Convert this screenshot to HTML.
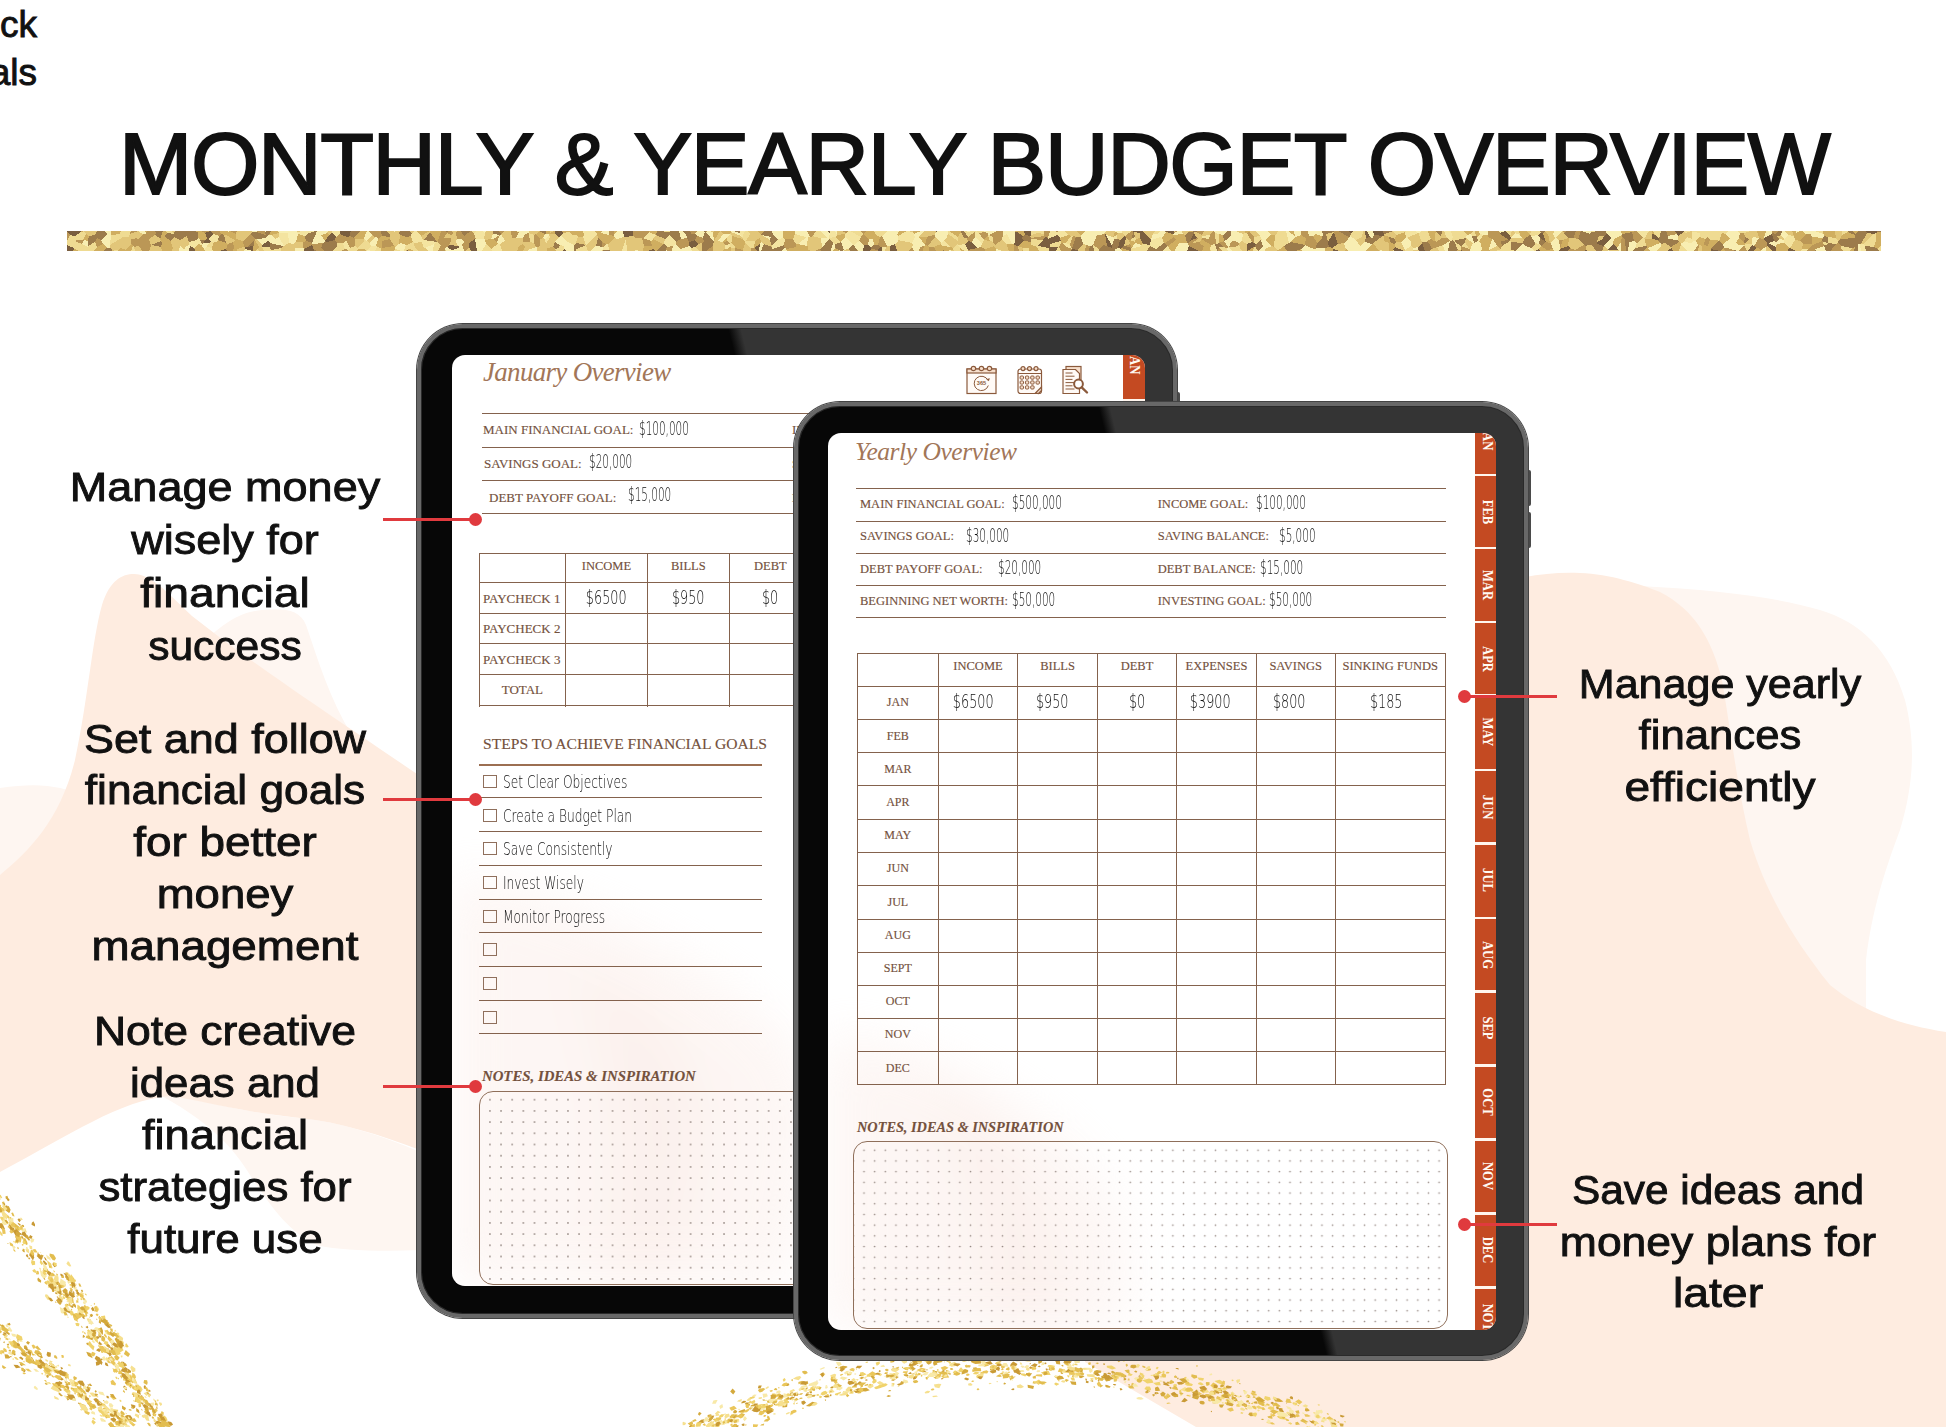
<!DOCTYPE html>
<html><head><meta charset="utf-8"><title>Monthly &amp; Yearly Budget Overview</title>
<style>
*{margin:0;padding:0;box-sizing:border-box}
html,body{width:1946px;height:1427px;overflow:hidden;background:#fff}
body{position:relative;font-family:"Liberation Sans",Arial,sans-serif;color:#111}
#bg{position:absolute;left:0;top:0}
.corner{position:absolute;left:-61px;top:0.5px;width:98px;font-size:37px;line-height:48.7px;color:#111;text-align:right;-webkit-text-stroke:0.9px #111}
h1{position:absolute;left:0;top:0;width:1946px;font:normal 88px/1 "Liberation Sans",Arial,sans-serif;color:#111;white-space:nowrap;letter-spacing:-1.36px;-webkit-text-stroke:1.9px #111}
.glitter{position:absolute;left:67px;top:231px}
/* labels */
.lbl{position:absolute;width:500px;font-size:41.4px;line-height:41.4px;height:41.4px;color:#111;text-align:center;white-space:nowrap;-webkit-text-stroke:0.9px #111}
.rl{position:absolute;height:3px;background:#e03a3e}
.rd{position:absolute;width:13px;height:13px;border-radius:50%;background:#e03a3e}
/* tablets */
.frame{position:absolute;border-radius:46px;border:4px solid #686868;box-shadow:0 0 0 1px #444,inset 0 0 0 1px #2a2a2a}
.btn{position:absolute;background:#4a4a4a;border-radius:2px}
.scr{position:absolute;background:#fff;overflow:hidden;border-radius:13px}
.scr .a{position:absolute;white-space:nowrap}
.serif{font-family:"Liberation Serif","Times New Roman",serif;color:#74513d;-webkit-text-stroke:0.15px #74513d}
.hd{font-family:"DejaVu Sans","Liberation Sans",sans-serif;font-weight:200;color:#111;display:inline-block;transform-origin:0 100%}
.hl{position:absolute;background:#84624d}
.vl{position:absolute;background:#84624d}
.script{font-family:"Liberation Serif",serif;font-style:italic;color:#a27658}
.cb{position:absolute;width:14px;height:13px;border:1.3px solid #8f6f5c}
.tabs{position:absolute;background:#c44a22}
.tsep{position:absolute;left:0;width:100%;height:2.5px;background:#fff6ee}
.tl{position:absolute;width:80px;height:16px;line-height:16px;text-align:center;color:#fffaf3;font:bold 14px/16px "Liberation Serif",serif;transform:rotate(90deg) scaleX(0.9)}
.dots{position:absolute;border:1.1px solid #8f6f5a;border-radius:14px;overflow:hidden}
</style></head>
<body>
<svg id="bg" width="1946" height="1427" viewBox="0 0 1946 1427">
<path d="M150,1090 C200,1100 240,1112 300,1118 C340,1122 380,1135 420,1152 L420,1250 C380,1252 340,1250 320,1246 C290,1235 270,1205 250,1175 C235,1150 210,1120 150,1090 Z" fill="#fef6f1"/>
<path d="M0,788 C40,782 60,786 85,796 L60,850 L0,880 Z" fill="#fef6f1"/>
<path d="M200,645 C225,622 240,612 262,610 C285,608 300,610 306,625 C318,660 330,700 352,735 L300,745 Z" fill="#fef6f1"/>
<path d="M1640,586 C1720,590 1780,598 1820,610 C1860,622 1890,650 1905,700 C1915,740 1915,780 1900,830 C1885,870 1872,910 1866,960 L1866,1010 L1700,1010 L1640,700 Z" fill="#fef6f1"/>
<path d="M0,875 C30,850 60,820 75,760 C88,700 92,640 102,605 C110,580 122,574 134,574 C150,574 165,590 192,616 L214,633 C260,668 330,715 420,776 L420,1150 C380,1135 340,1122 300,1118 C240,1112 200,1100 170,1096 C120,1100 70,1135 0,1172 Z" fill="#feece0"/>
<path d="M1520,578 C1540,574 1560,572 1580,573 C1610,574 1640,584 1660,592 C1695,610 1712,640 1722,680 C1732,740 1738,790 1750,840 C1765,890 1790,935 1830,985 C1860,1010 1900,1025 1946,1032 L1946,1427 L1196,1427 L1085,1362 L1085,1300 L1515,1300 L1515,578 Z" fill="#feece0"/>
<polygon points="81.9,1295.6 81.0,1296.3 79.9,1296.1 78.3,1294.7 79.5,1293.3 80.9,1293.6" fill="#eac65a"/><polygon points="103.5,1336.2 102.6,1337.8 101.5,1336.9 102.2,1336.0" fill="#d4a93c"/><polygon points="82.3,1313.0 81.5,1312.9 79.9,1311.8 79.4,1309.2 81.1,1309.2 82.3,1311.9" fill="#f0d36c"/><polygon points="157.8,1407.6 156.5,1407.5 156.2,1407.0 156.9,1406.0 157.3,1406.6" fill="#e2bd4f"/><polygon points="-2.0,1197.1 0.2,1197.2 0.8,1199.4 -1.5,1200.9" fill="#f8e9a8"/><polygon points="91.0,1337.0 89.4,1333.2 94.0,1333.2 95.4,1338.1" fill="#d4a93c"/><polygon points="55.2,1286.8 58.1,1290.2 55.7,1291.6 53.4,1290.3" fill="#f8e9a8"/><polygon points="97.1,1336.8 98.4,1343.5 95.2,1340.9 92.2,1336.3" fill="#f0d36c"/><polygon points="122.1,1365.2 121.6,1363.1 125.7,1363.3 127.1,1365.5 124.5,1366.8" fill="#d4a93c"/><polygon points="59.7,1296.6 58.4,1294.9 60.9,1295.0 61.3,1296.8" fill="#f0d36c"/><polygon points="90.2,1338.5 88.7,1338.5 88.4,1337.1 88.9,1336.1 90.7,1337.2" fill="#eac65a"/><polygon points="12.7,1224.9 14.4,1222.9 19.7,1227.1 19.8,1230.5 16.7,1230.9" fill="#e2bd4f"/><polygon points="3.0,1221.5 4.7,1221.2 6.1,1222.8 6.5,1224.8 4.9,1224.8" fill="#f6e08f"/><polygon points="123.0,1380.4 123.1,1378.3 125.7,1377.2 126.9,1378.8 125.4,1380.8" fill="#f0d36c"/><polygon points="98.1,1345.7 98.9,1344.3 100.5,1347.1 98.7,1346.9" fill="#f0d36c"/><polygon points="21.0,1219.9 19.4,1222.3 17.5,1219.6 19.0,1218.2" fill="#c99a35"/><polygon points="1.3,1209.0 0.1,1208.9 -0.1,1208.4 0.2,1207.0 1.5,1207.1 2.4,1208.7" fill="#eac65a"/><polygon points="31.2,1242.7 30.4,1240.6 31.5,1238.0 34.4,1239.3 33.4,1242.1" fill="#f8e9a8"/><polygon points="112.1,1363.1 109.6,1359.6 111.0,1355.6 114.5,1358.8 114.4,1361.3" fill="#eac65a"/><polygon points="137.2,1402.1 134.5,1401.7 135.7,1398.4 137.3,1398.7 138.4,1399.8 139.1,1401.8" fill="#d4a93c"/><polygon points="67.5,1317.6 66.9,1316.9 68.2,1316.4 68.8,1318.0" fill="#f6e08f"/><polygon points="88.4,1330.1 90.7,1330.1 92.3,1334.7 89.3,1334.9" fill="#f8e9a8"/><polygon points="143.8,1407.2 142.5,1405.2 145.0,1403.9 148.3,1406.4 147.2,1408.6 146.6,1409.0" fill="#c99a35"/><polygon points="61.0,1312.9 59.7,1307.1 62.8,1308.6 65.4,1311.2 62.6,1313.4" fill="#f8e9a8"/><polygon points="157.8,1423.9 158.1,1423.3 158.7,1423.5 159.1,1424.2 158.4,1424.6" fill="#f6e08f"/><polygon points="133.0,1389.3 131.6,1386.0 133.4,1385.5 135.6,1386.2 136.2,1389.3 136.4,1391.1" fill="#f0d36c"/><polygon points="126.9,1374.3 128.5,1379.7 125.1,1379.4 124.7,1375.6" fill="#f0d36c"/><polygon points="88.5,1332.5 87.3,1330.7 87.5,1329.9 88.7,1329.3 90.3,1332.0" fill="#f0d36c"/><polygon points="23.8,1244.9 22.5,1245.8 21.7,1245.0 22.1,1243.9 23.1,1244.3" fill="#eac65a"/><polygon points="-3.9,1209.8 -3.2,1209.2 -1.5,1210.5 -2.3,1212.5 -4.1,1210.9" fill="#f6e08f"/><polygon points="87.3,1331.3 87.8,1330.1 88.6,1329.8 89.5,1331.2 88.7,1332.1" fill="#f0d36c"/><polygon points="-1.7,1222.7 -2.5,1221.2 -2.6,1218.6 -1.6,1218.9 -0.4,1221.0" fill="#c99a35"/><polygon points="170.9,1426.1 169.3,1425.1 167.4,1423.4 167.6,1421.3 171.2,1422.0 173.1,1424.5" fill="#c99a35"/><polygon points="145.1,1387.6 145.1,1388.4 143.9,1388.5 143.4,1387.6 144.3,1387.1" fill="#f6e08f"/><polygon points="70.3,1289.0 71.7,1289.9 72.6,1291.5 71.4,1292.1 70.2,1290.8" fill="#d4a93c"/><polygon points="123.0,1369.6 122.6,1370.0 122.0,1369.5 122.0,1368.4 122.5,1368.1 123.3,1368.9" fill="#e2bd4f"/><polygon points="1.3,1207.4 4.1,1208.4 4.8,1211.2 2.1,1212.2 -0.3,1208.9" fill="#eac65a"/><polygon points="15.1,1231.5 14.8,1233.0 12.0,1231.4 10.6,1228.4 11.7,1228.1 15.2,1229.7" fill="#eac65a"/><polygon points="-3.5,1213.4 -5.6,1212.3 -6.7,1211.6 -5.4,1210.2 -4.1,1210.3 -2.8,1211.5" fill="#f8e9a8"/><polygon points="14.5,1228.8 13.3,1230.8 12.0,1232.3 8.8,1227.5 8.8,1224.0 10.8,1224.7" fill="#c99a35"/><polygon points="6.7,1221.5 7.5,1222.2 8.5,1224.1 7.8,1224.3 6.8,1223.4 6.6,1222.3" fill="#eac65a"/><polygon points="117.0,1363.6 118.6,1362.2 120.9,1363.8 119.5,1365.2" fill="#eac65a"/><polygon points="147.6,1401.8 148.3,1403.6 147.9,1405.2 146.1,1403.8 144.9,1401.2" fill="#f8e9a8"/><polygon points="-8.3,1210.9 -10.5,1208.7 -10.3,1207.0 -8.6,1206.9 -7.4,1207.9 -6.8,1209.8" fill="#e2bd4f"/><polygon points="121.8,1367.7 122.4,1366.8 123.4,1366.3 124.2,1367.3 124.5,1368.8 122.5,1368.4" fill="#e2bd4f"/><polygon points="137.4,1383.8 133.5,1382.9 132.2,1380.2 132.8,1376.3 135.6,1379.6" fill="#f0d36c"/><polygon points="60.3,1285.8 61.7,1284.3 64.5,1283.4 64.5,1286.7 63.8,1287.5" fill="#f0d36c"/><polygon points="93.8,1331.3 96.2,1331.8 96.1,1334.6 93.2,1334.2 92.0,1332.6" fill="#d4a93c"/><polygon points="107.4,1353.8 104.0,1351.4 101.3,1346.4 106.1,1347.5 108.3,1349.7" fill="#d4a93c"/><polygon points="71.6,1299.5 73.1,1300.0 72.7,1301.7 71.1,1301.0 71.1,1300.2" fill="#f8e9a8"/><polygon points="19.9,1243.5 18.9,1242.8 19.9,1241.7 20.7,1243.0" fill="#f8e9a8"/><polygon points="15.2,1252.1 13.6,1250.8 13.1,1249.2 13.7,1249.2 14.9,1249.7 15.5,1251.6" fill="#eac65a"/><polygon points="20.3,1226.9 22.0,1229.4 19.5,1230.5 18.0,1227.6" fill="#f0d36c"/><polygon points="153.2,1399.7 153.4,1398.5 154.4,1399.1 155.2,1400.5 154.5,1401.2 153.6,1400.5" fill="#f8e9a8"/><polygon points="53.4,1289.9 53.5,1291.1 53.3,1291.5 52.6,1291.7 51.7,1291.0 52.3,1290.0" fill="#eac65a"/><polygon points="22.9,1249.5 22.9,1248.4 24.6,1249.3 24.7,1250.2 24.3,1250.5 23.1,1250.6" fill="#e2bd4f"/><polygon points="87.5,1325.8 88.3,1327.6 87.2,1328.4 85.5,1326.9" fill="#c99a35"/><polygon points="160.3,1427.4 162.3,1428.8 161.1,1431.5 158.5,1431.1" fill="#d4a93c"/><polygon points="62.4,1311.0 64.0,1311.5 64.1,1312.9 64.0,1313.5 62.6,1313.3 61.8,1311.9" fill="#f8e9a8"/><polygon points="9.5,1242.0 12.8,1243.9 13.7,1247.0 10.1,1245.6" fill="#eac65a"/><polygon points="127.1,1383.6 128.8,1384.0 128.1,1386.0 126.2,1385.2" fill="#f8e9a8"/><polygon points="16.2,1236.7 14.6,1234.0 13.1,1231.2 16.0,1229.1 19.7,1232.3 18.9,1233.9" fill="#c99a35"/><polygon points="53.5,1271.4 53.4,1270.1 55.1,1271.4 54.9,1272.4" fill="#f0d36c"/><polygon points="78.8,1312.2 81.0,1312.5 80.6,1315.4 78.2,1314.6" fill="#d4a93c"/><polygon points="148.4,1390.7 148.9,1389.6 150.4,1390.4 150.7,1391.3 149.9,1391.7 148.7,1391.5" fill="#c99a35"/><polygon points="55.9,1294.2 55.5,1293.0 56.3,1291.4 57.6,1292.9 58.2,1294.5 57.5,1294.6" fill="#f8e9a8"/><polygon points="55.8,1281.8 54.2,1278.3 54.8,1275.1 58.5,1276.5 58.5,1279.5 58.2,1282.8" fill="#f6e08f"/><polygon points="63.9,1296.3 62.4,1294.6 62.0,1293.0 63.7,1294.0 65.0,1295.9" fill="#f0d36c"/><polygon points="107.9,1350.0 108.9,1349.9 109.7,1351.3 108.6,1351.4" fill="#f8e9a8"/><polygon points="17.9,1246.7 18.3,1247.2 19.0,1248.6 18.2,1249.2 17.7,1249.1 17.1,1247.8" fill="#eac65a"/><polygon points="73.0,1311.5 73.9,1313.7 73.2,1315.2 71.1,1315.6 68.4,1311.2 69.4,1310.0" fill="#f0d36c"/><polygon points="139.9,1396.9 137.3,1394.6 137.1,1393.3 138.6,1391.8 140.5,1394.3" fill="#f8e9a8"/><polygon points="-3.6,1207.7 -3.1,1209.5 -5.1,1210.8 -6.6,1209.8 -7.3,1207.6 -5.3,1206.9" fill="#f0d36c"/><polygon points="77.5,1313.5 78.4,1315.4 76.6,1316.2 73.5,1314.8 74.2,1313.6 76.3,1313.0" fill="#f0d36c"/><polygon points="62.6,1291.2 65.6,1289.6 66.3,1290.9 65.7,1292.8 63.5,1293.1" fill="#d4a93c"/><polygon points="43.5,1272.2 43.1,1268.5 45.5,1266.4 47.5,1268.9 48.9,1271.7 47.2,1272.1" fill="#e2bd4f"/><polygon points="29.2,1245.3 32.1,1246.3 32.2,1249.1 29.9,1248.9" fill="#f6e08f"/><polygon points="4.9,1221.0 2.1,1221.1 0.0,1217.7 0.6,1216.5 4.3,1217.6" fill="#f0d36c"/><polygon points="126.9,1372.8 126.9,1373.5 125.7,1372.8 125.5,1371.9 126.0,1371.6" fill="#f0d36c"/><polygon points="6.3,1197.7 7.8,1197.8 9.8,1200.1 8.1,1201.2 6.9,1199.8" fill="#c99a35"/><polygon points="141.1,1398.7 139.3,1396.7 141.4,1395.2 143.3,1397.5" fill="#c99a35"/><polygon points="106.8,1361.5 105.5,1358.2 106.9,1357.0 109.3,1359.7 109.3,1361.9" fill="#f6e08f"/><polygon points="127.6,1371.4 128.2,1368.8 129.9,1370.0 131.0,1371.0 131.0,1372.5 129.6,1373.1" fill="#c99a35"/><polygon points="38.5,1274.5 35.9,1274.2 36.7,1270.7 38.4,1271.0 39.1,1273.3" fill="#eac65a"/><polygon points="153.5,1412.8 156.4,1414.0 155.6,1416.5 153.0,1415.7 152.4,1413.9" fill="#e2bd4f"/><polygon points="23.5,1229.6 24.3,1228.2 25.6,1228.3 24.9,1229.7" fill="#f8e9a8"/><polygon points="82.6,1333.0 82.0,1332.3 82.1,1331.3 83.5,1330.7 83.8,1332.6" fill="#f6e08f"/><polygon points="49.7,1253.4 53.7,1254.4 56.0,1258.2 54.6,1260.4 52.6,1260.0 49.6,1256.1" fill="#e2bd4f"/><polygon points="12.9,1241.2 13.5,1240.8 14.4,1241.9 14.2,1242.7 13.5,1242.3" fill="#f6e08f"/><polygon points="110.9,1339.9 110.9,1341.2 110.3,1341.0 108.7,1339.7 109.6,1339.0 110.3,1339.2" fill="#eac65a"/><polygon points="112.8,1346.2 113.5,1348.0 112.4,1347.7 111.7,1346.6" fill="#f6e08f"/><polygon points="17.6,1242.2 17.9,1243.9 16.3,1242.8 15.8,1241.6 16.8,1241.6" fill="#f0d36c"/><polygon points="147.0,1385.0 143.5,1383.1 144.1,1380.0 147.1,1380.3 147.7,1382.8" fill="#e2bd4f"/><polygon points="-2.4,1202.1 -4.7,1201.1 -5.3,1198.0 -3.3,1196.8 -2.3,1196.9 -1.0,1200.4" fill="#d4a93c"/><polygon points="27.1,1241.8 27.7,1244.2 26.2,1245.1 23.0,1241.1 23.9,1239.9 25.0,1238.0" fill="#e2bd4f"/><polygon points="122.5,1376.3 121.9,1378.8 120.1,1376.4 120.7,1375.1" fill="#eac65a"/><polygon points="56.9,1297.4 56.9,1296.1 57.7,1296.5 58.2,1297.6" fill="#d4a93c"/><polygon points="99.8,1331.3 99.4,1332.8 98.4,1332.7 97.8,1330.9" fill="#e2bd4f"/><polygon points="61.4,1294.4 57.1,1293.2 57.1,1289.0 61.7,1290.9" fill="#f0d36c"/><polygon points="132.7,1385.4 131.6,1385.5 131.1,1384.8 131.6,1384.2 132.7,1384.5" fill="#f8e9a8"/><polygon points="130.1,1354.1 128.2,1357.1 123.9,1353.9 125.7,1349.9" fill="#e2bd4f"/><polygon points="77.6,1322.8 79.6,1323.8 78.8,1326.2 76.4,1325.9 75.2,1323.2" fill="#f0d36c"/><polygon points="120.9,1371.8 121.2,1372.8 120.5,1373.0 119.5,1372.8 119.6,1371.8 120.1,1371.3" fill="#f6e08f"/><polygon points="41.7,1265.3 39.8,1262.7 40.3,1259.3 43.3,1263.4" fill="#f0d36c"/><polygon points="132.7,1384.9 130.3,1388.4 128.8,1385.2 131.0,1383.7" fill="#eac65a"/><polygon points="39.7,1269.3 47.0,1275.9 44.1,1279.4 40.9,1275.5" fill="#f8e9a8"/><polygon points="15.3,1228.0 15.3,1227.1 16.6,1226.9 16.5,1228.9" fill="#f0d36c"/><polygon points="20.6,1229.0 21.1,1227.4 24.0,1228.7 23.9,1231.1 22.7,1232.6" fill="#f8e9a8"/><polygon points="8.3,1215.4 9.0,1217.9 6.2,1217.6 5.5,1214.1" fill="#eac65a"/><polygon points="100.7,1337.5 99.4,1336.5 99.9,1335.4 100.7,1336.2 101.0,1337.2" fill="#d4a93c"/><polygon points="-11.5,1206.7 -9.5,1209.5 -12.1,1209.7 -12.9,1208.1" fill="#f8e9a8"/><polygon points="56.9,1288.1 61.0,1288.7 61.3,1291.9 60.0,1292.9 57.4,1292.0 56.5,1291.0" fill="#e2bd4f"/><polygon points="24.7,1231.2 27.1,1235.8 26.7,1238.3 21.8,1234.8 21.9,1232.6" fill="#c99a35"/><polygon points="89.0,1317.5 89.1,1316.3 90.4,1316.9 90.0,1318.0" fill="#f6e08f"/><polygon points="64.7,1309.5 66.4,1309.1 67.5,1311.9 65.7,1311.7" fill="#e2bd4f"/><polygon points="64.5,1293.5 64.3,1294.2 63.4,1293.8 63.9,1292.8" fill="#f8e9a8"/><polygon points="133.0,1394.6 134.3,1395.0 134.6,1396.7 133.5,1397.0 133.1,1396.3" fill="#d4a93c"/><polygon points="119.4,1370.9 117.8,1369.3 117.0,1367.4 118.4,1367.4 120.3,1369.6" fill="#eac65a"/><polygon points="11.0,1218.3 13.1,1219.9 13.1,1222.3 10.6,1221.8" fill="#eac65a"/><polygon points="53.4,1285.4 53.7,1286.7 52.6,1287.0 51.6,1286.7 51.9,1285.0 52.7,1285.1" fill="#c99a35"/><polygon points="99.3,1365.0 96.2,1365.8 95.8,1362.1 97.4,1361.5 100.4,1362.8" fill="#c99a35"/><polygon points="144.9,1414.3 148.3,1415.3 148.9,1419.2 149.5,1421.1 146.4,1420.6 143.0,1415.1" fill="#f6e08f"/><polygon points="47.4,1271.6 48.8,1272.7 48.1,1274.0 47.0,1273.1 46.4,1271.3" fill="#e2bd4f"/><polygon points="21.7,1235.4 19.5,1234.2 19.5,1232.8 20.8,1232.9 21.7,1234.1" fill="#c99a35"/><polygon points="38.2,1277.5 41.2,1280.5 41.0,1282.7 37.9,1281.3 37.3,1279.1" fill="#d4a93c"/><polygon points="50.7,1280.7 51.3,1279.0 53.2,1279.6 52.4,1282.1" fill="#f6e08f"/><polygon points="55.1,1290.8 54.2,1286.7 56.1,1287.3 59.6,1290.8 58.2,1291.7 56.4,1291.4" fill="#f0d36c"/><polygon points="139.4,1400.9 135.7,1395.6 135.9,1393.0 140.3,1396.0 142.0,1400.3" fill="#d4a93c"/><polygon points="11.2,1225.1 10.8,1222.3 12.5,1220.9 14.9,1223.7 15.1,1226.7 12.7,1226.4" fill="#eac65a"/><polygon points="19.9,1239.8 18.1,1241.4 16.1,1239.1 15.2,1236.8 16.9,1234.5 19.6,1237.4" fill="#d4a93c"/><polygon points="140.6,1402.9 141.2,1406.4 140.6,1407.0 138.8,1407.2 138.4,1404.2 139.2,1403.5" fill="#eac65a"/><polygon points="156.8,1420.8 159.7,1421.3 161.5,1425.9 159.6,1425.5 157.1,1426.4 154.2,1423.5" fill="#c99a35"/><polygon points="6.2,1224.7 4.2,1224.1 3.4,1222.8 3.3,1220.4 5.3,1221.8" fill="#f0d36c"/><polygon points="9.8,1220.6 7.7,1217.8 8.4,1215.8 11.3,1219.0" fill="#eac65a"/><polygon points="132.0,1384.5 132.6,1387.4 128.8,1386.8 127.8,1383.1 130.3,1382.3" fill="#f0d36c"/><polygon points="152.8,1413.2 151.8,1411.0 153.4,1410.1 154.4,1411.9" fill="#e2bd4f"/><polygon points="23.1,1243.1 22.2,1241.9 23.1,1241.4 24.1,1241.5 24.3,1242.5 24.6,1243.4" fill="#f0d36c"/><polygon points="58.5,1298.0 59.4,1294.6 63.5,1298.8 62.5,1301.3" fill="#f6e08f"/><polygon points="160.6,1415.6 159.5,1415.4 158.1,1413.7 159.2,1413.7" fill="#eac65a"/><polygon points="29.5,1253.6 32.2,1253.1 33.3,1253.5 34.0,1255.8 32.4,1257.0 29.4,1255.5" fill="#c99a35"/><polygon points="66.8,1302.2 66.6,1300.9 66.9,1300.7 67.8,1300.9 68.3,1301.9 67.6,1302.2" fill="#f8e9a8"/><polygon points="81.2,1308.9 79.9,1308.8 79.2,1307.7 80.3,1307.7" fill="#e2bd4f"/><polygon points="5.4,1196.6 7.4,1195.7 8.4,1198.7 5.9,1198.9" fill="#d4a93c"/><polygon points="14.9,1240.9 15.9,1241.2 16.6,1242.5 15.3,1243.4 14.7,1242.8 14.4,1241.2" fill="#f0d36c"/><polygon points="157.7,1410.9 156.2,1411.9 154.3,1410.9 154.6,1409.1 155.2,1408.5 157.1,1409.3" fill="#eac65a"/><polygon points="84.0,1332.1 84.9,1332.6 85.8,1333.5 85.3,1334.6 84.1,1333.3" fill="#eac65a"/><polygon points="87.5,1310.1 85.8,1313.7 82.1,1311.5 82.7,1308.7 85.4,1308.5" fill="#f0d36c"/><polygon points="129.1,1383.1 129.5,1385.2 126.9,1385.3 124.7,1382.4 127.2,1380.2" fill="#eac65a"/><polygon points="140.3,1398.6 139.2,1400.4 138.1,1398.9 138.3,1397.7 139.7,1397.5" fill="#f8e9a8"/><polygon points="123.2,1371.0 122.6,1370.9 121.7,1370.5 121.8,1369.4 123.1,1370.1" fill="#c99a35"/><polygon points="73.8,1291.3 74.6,1293.2 73.9,1293.5 72.7,1292.1 73.0,1291.6" fill="#c99a35"/><polygon points="163.1,1426.6 162.3,1427.1 161.3,1426.0 161.8,1425.5" fill="#e2bd4f"/><polygon points="157.8,1414.6 160.6,1413.5 162.4,1413.8 163.1,1417.8 161.3,1419.4 158.6,1416.0" fill="#c99a35"/><polygon points="55.6,1302.9 54.8,1301.5 55.9,1301.5 56.6,1302.9" fill="#eac65a"/><polygon points="-4.4,1212.3 -5.0,1210.7 -2.8,1206.9 0.4,1211.0 -1.1,1213.0" fill="#f8e9a8"/><polygon points="102.2,1347.2 103.5,1346.0 105.3,1346.3 105.7,1349.1 104.5,1349.5 101.5,1349.1" fill="#f8e9a8"/><polygon points="46.0,1273.9 44.4,1274.8 43.4,1273.8 43.4,1271.9" fill="#eac65a"/><polygon points="66.5,1299.9 66.1,1298.9 68.0,1297.4 69.5,1298.8 68.8,1300.5" fill="#f6e08f"/><polygon points="143.5,1404.8 142.3,1404.7 141.0,1403.4 141.3,1402.1 142.2,1402.5 143.4,1403.0" fill="#d4a93c"/><polygon points="4.4,1221.3 4.8,1220.1 6.1,1219.6 8.5,1222.5 6.5,1223.6" fill="#d4a93c"/><polygon points="91.3,1332.9 90.5,1331.2 90.4,1330.4 92.7,1329.2 94.3,1330.7 93.0,1332.9" fill="#f6e08f"/><polygon points="34.6,1269.1 36.7,1271.8 35.7,1273.1 33.2,1272.1 32.3,1270.3" fill="#f0d36c"/><polygon points="108.7,1356.9 110.4,1357.7 110.6,1360.1 108.8,1359.3 107.6,1358.4" fill="#eac65a"/><polygon points="134.6,1379.3 132.5,1378.7 131.8,1376.1 133.3,1374.5 136.1,1377.5" fill="#eac65a"/><polygon points="52.9,1262.8 54.7,1262.8 56.8,1266.0 55.2,1266.7 54.4,1267.2 52.5,1264.4" fill="#c99a35"/><polygon points="112.0,1362.8 111.2,1363.6 110.4,1362.9 110.4,1361.6 111.4,1362.0" fill="#e2bd4f"/><polygon points="95.5,1336.7 93.3,1336.1 92.9,1333.5 94.6,1333.4 96.0,1334.9" fill="#d4a93c"/><polygon points="40.2,1252.7 40.3,1252.2 40.9,1252.0 41.2,1252.7 40.7,1253.2" fill="#f8e9a8"/><polygon points="105.1,1337.8 105.2,1340.9 102.1,1339.4 102.1,1337.7 103.3,1336.1" fill="#e2bd4f"/><polygon points="103.8,1335.3 104.7,1333.6 106.9,1336.2 106.4,1338.3" fill="#eac65a"/><polygon points="148.5,1407.1 150.8,1408.0 151.5,1409.7 150.1,1410.1 148.3,1408.8" fill="#e2bd4f"/><polygon points="68.7,1296.3 73.1,1298.3 74.0,1303.2 68.9,1302.2 66.9,1297.2" fill="#eac65a"/><polygon points="93.4,1350.5 89.4,1346.4 87.9,1343.2 89.7,1341.0 92.3,1344.7 94.5,1346.4" fill="#f0d36c"/><polygon points="127.3,1381.3 125.9,1380.4 126.0,1377.9 129.0,1377.4 130.0,1379.2 130.6,1382.6" fill="#d4a93c"/><polygon points="60.0,1286.4 60.5,1284.7 62.9,1284.3 63.4,1288.2" fill="#eac65a"/><polygon points="113.8,1349.6 111.7,1350.6 110.4,1349.3 110.3,1346.7 113.1,1347.9" fill="#c99a35"/><polygon points="106.1,1343.8 106.3,1344.6 105.8,1344.7 105.4,1344.6 105.1,1343.3 105.7,1343.1" fill="#eac65a"/><polygon points="145.6,1398.1 144.3,1396.3 145.3,1396.1 146.8,1398.1" fill="#f8e9a8"/><polygon points="-5.1,1210.4 -3.7,1209.9 -3.7,1211.2 -5.0,1211.3" fill="#e2bd4f"/><polygon points="71.9,1310.7 71.0,1310.3 70.8,1309.5 71.0,1308.7 72.1,1309.0 72.2,1310.1" fill="#eac65a"/><polygon points="-0.1,1205.9 3.1,1212.6 0.2,1212.6 -3.6,1204.6" fill="#d4a93c"/><polygon points="93.4,1339.8 90.9,1340.1 88.8,1337.4 87.7,1335.8 88.2,1333.8 90.8,1334.6" fill="#d4a93c"/><polygon points="24.9,1251.1 24.4,1252.4 22.9,1251.5 22.0,1250.1 22.4,1249.7 23.2,1249.2" fill="#d4a93c"/><polygon points="76.0,1307.9 71.9,1304.9 74.1,1303.2 76.0,1305.2" fill="#d4a93c"/><polygon points="117.2,1366.4 116.6,1367.1 114.3,1366.3 114.3,1363.4 116.6,1364.0 117.0,1364.4" fill="#f6e08f"/><polygon points="114.0,1347.7 115.5,1348.8 115.9,1349.9 115.2,1350.4 113.7,1348.7" fill="#c99a35"/><polygon points="107.3,1363.2 108.5,1366.2 106.8,1366.1 105.1,1364.9 105.1,1363.4 105.4,1362.3" fill="#c99a35"/><polygon points="157.9,1401.4 156.5,1400.4 156.8,1399.8 158.0,1399.2 158.9,1400.3" fill="#f6e08f"/><polygon points="157.5,1409.0 156.2,1408.4 156.1,1407.0 157.5,1408.1" fill="#d4a93c"/><polygon points="54.8,1263.2 55.2,1264.5 52.9,1264.8 53.6,1263.3" fill="#d4a93c"/><polygon points="70.6,1297.3 72.7,1302.5 71.4,1304.4 66.9,1299.9 69.3,1297.7" fill="#f6e08f"/><polygon points="46.7,1266.8 47.3,1271.0 43.9,1269.7 42.6,1262.0" fill="#f8e9a8"/><polygon points="74.2,1318.9 72.2,1313.8 75.1,1314.2 79.0,1318.7 76.8,1320.0" fill="#e2bd4f"/><polygon points="26.2,1254.7 27.4,1254.1 28.4,1256.7 27.6,1257.6 25.9,1256.0" fill="#c99a35"/><polygon points="129.4,1381.3 128.7,1382.6 127.0,1381.2 127.0,1379.6 128.7,1380.3" fill="#f6e08f"/><polygon points="52.2,1268.1 51.6,1268.8 51.0,1267.2 51.6,1266.7" fill="#f0d36c"/><polygon points="5.0,1228.9 3.0,1230.7 -1.8,1225.1 -1.5,1223.3 2.2,1223.1" fill="#c99a35"/><polygon points="-9.7,1204.2 -8.5,1204.4 -6.5,1205.8 -7.6,1207.0 -8.5,1207.7 -10.0,1206.4" fill="#c99a35"/><polygon points="8.5,1220.8 8.2,1218.2 10.1,1216.9 13.5,1218.4 12.8,1222.4 9.4,1222.0" fill="#f8e9a8"/><polygon points="130.9,1381.7 127.7,1382.8 125.4,1380.9 125.4,1376.3" fill="#c99a35"/><polygon points="43.8,1278.8 43.9,1277.8 44.9,1278.7 45.4,1279.4 45.0,1279.7 44.5,1279.8" fill="#c99a35"/><polygon points="22.6,1224.7 23.6,1225.0 24.2,1226.3 23.8,1227.3 22.1,1226.4 21.5,1225.2" fill="#d4a93c"/><polygon points="21.5,1237.9 20.9,1242.5 17.5,1241.0 15.1,1236.0 19.7,1235.3" fill="#eac65a"/><polygon points="133.0,1408.9 131.9,1407.7 130.8,1404.3 134.2,1405.1 135.5,1405.7 135.0,1407.8" fill="#c99a35"/><polygon points="115.3,1355.0 113.4,1353.8 112.8,1352.9 113.9,1351.9 114.9,1353.2" fill="#d4a93c"/><polygon points="11.0,1218.3 10.2,1218.6 9.6,1217.9 10.3,1217.3 11.0,1217.3" fill="#e2bd4f"/><polygon points="139.4,1393.0 137.8,1391.1 136.1,1388.1 137.0,1386.9 139.9,1387.6 141.7,1390.2" fill="#d4a93c"/><polygon points="68.3,1292.6 67.3,1293.9 64.7,1290.9 65.4,1289.8 67.3,1290.7" fill="#f0d36c"/><polygon points="0.6,1208.5 -3.1,1208.9 -4.1,1204.5 -2.7,1203.2 1.2,1205.3" fill="#eac65a"/><polygon points="143.0,1401.7 142.7,1398.8 147.1,1400.0 149.4,1403.9 150.1,1407.0 146.8,1405.3" fill="#e2bd4f"/><polygon points="152.9,1418.8 151.8,1417.9 151.9,1416.3 153.8,1417.0 154.1,1418.4" fill="#e2bd4f"/><polygon points="89.8,1339.5 85.6,1337.4 86.6,1335.4 90.3,1336.4" fill="#e2bd4f"/><polygon points="27.6,1235.0 29.8,1239.2 29.2,1240.9 25.3,1236.9" fill="#d4a93c"/><polygon points="102.8,1353.0 101.2,1352.5 100.8,1352.1 101.2,1350.4 102.0,1351.1 103.3,1352.6" fill="#eac65a"/><polygon points="92.5,1337.7 90.0,1337.0 86.9,1332.5 88.5,1331.5 90.4,1331.4" fill="#f6e08f"/><polygon points="137.3,1393.1 137.8,1394.7 138.6,1399.4 136.4,1398.8 131.7,1393.2 133.0,1392.1" fill="#f6e08f"/><polygon points="58.4,1281.8 60.2,1283.7 57.5,1285.0 53.9,1283.8 54.7,1281.2 56.2,1278.9" fill="#c99a35"/><polygon points="151.0,1403.8 153.2,1407.1 150.8,1408.1 148.5,1402.9" fill="#c99a35"/><polygon points="151.1,1402.7 154.2,1402.5 154.3,1404.3 152.9,1406.7 150.6,1404.8" fill="#f8e9a8"/><polygon points="1.9,1201.9 4.1,1201.6 5.5,1206.3 3.2,1205.9" fill="#e2bd4f"/><polygon points="90.4,1329.5 91.2,1329.2 92.2,1330.0 93.3,1331.3 92.5,1331.8 91.3,1330.8" fill="#c99a35"/><polygon points="64.0,1278.0 62.3,1277.2 60.2,1274.9 60.7,1273.6 63.3,1275.0" fill="#c99a35"/><polygon points="24.1,1230.2 25.3,1228.6 26.8,1231.9 25.9,1232.9" fill="#f6e08f"/><polygon points="101.5,1337.2 99.4,1337.6 98.4,1336.1 98.6,1334.1 99.8,1333.9 101.1,1335.2" fill="#c99a35"/><polygon points="-11.3,1198.3 -8.8,1197.5 -5.1,1201.9 -5.2,1203.2 -9.0,1202.7 -11.2,1199.8" fill="#f6e08f"/><polygon points="82.9,1313.4 86.0,1316.2 83.8,1317.7 79.8,1315.4 80.9,1313.5" fill="#e2bd4f"/><polygon points="115.7,1360.1 114.0,1356.8 116.4,1354.6 119.7,1357.8 117.6,1360.5" fill="#e2bd4f"/><polygon points="51.5,1286.9 47.6,1284.9 47.6,1283.3 48.6,1280.3 51.2,1283.1 51.4,1284.1" fill="#f0d36c"/><polygon points="7.6,1215.0 7.0,1219.8 2.6,1216.5 1.5,1212.6 2.9,1210.6" fill="#f6e08f"/><polygon points="134.0,1387.7 133.8,1388.8 132.6,1388.8 132.2,1386.9 133.2,1386.8" fill="#e2bd4f"/><polygon points="87.3,1313.9 84.4,1312.4 82.5,1308.6 85.3,1310.0" fill="#f0d36c"/><polygon points="66.6,1313.3 66.5,1313.8 65.6,1314.9 63.9,1312.1 64.5,1311.4 65.7,1311.3" fill="#eac65a"/><polygon points="147.5,1395.1 146.6,1396.1 143.6,1393.2 145.6,1392.3" fill="#f6e08f"/><polygon points="135.4,1368.6 135.3,1371.2 132.3,1372.6 130.3,1367.5 131.5,1365.5" fill="#f6e08f"/><polygon points="164.3,1425.6 163.5,1426.8 162.6,1425.3 163.3,1424.5" fill="#e2bd4f"/><polygon points="85.6,1314.6 83.4,1310.1 84.5,1307.6 88.4,1313.2" fill="#eac65a"/><polygon points="82.6,1327.5 82.1,1328.1 81.2,1326.9 81.2,1326.6 81.2,1325.6 82.6,1327.1" fill="#e2bd4f"/><polygon points="51.9,1278.5 53.7,1281.0 52.2,1281.7 50.0,1278.6" fill="#c99a35"/><polygon points="46.6,1285.0 45.6,1284.1 44.2,1282.8 45.2,1281.4 45.9,1281.3 47.1,1283.0" fill="#eac65a"/><polygon points="162.8,1418.8 165.3,1422.0 163.5,1424.1 161.5,1420.1" fill="#e2bd4f"/><polygon points="29.9,1253.1 33.5,1254.8 34.2,1257.6 32.9,1260.5 29.7,1255.6" fill="#c99a35"/><polygon points="59.4,1294.3 56.3,1290.5 57.2,1288.5 60.8,1290.8 61.9,1295.3" fill="#c99a35"/><polygon points="131.3,1374.7 132.1,1377.0 131.4,1378.1 129.9,1377.6 128.2,1375.9 129.6,1374.6" fill="#f0d36c"/><polygon points="160.9,1421.9 163.5,1423.4 162.7,1425.7 160.4,1424.9 159.5,1421.9" fill="#c99a35"/><polygon points="54.3,1282.6 55.0,1283.8 53.8,1286.0 50.9,1284.8 50.2,1282.7 50.3,1279.7" fill="#e2bd4f"/><polygon points="110.0,1347.9 108.0,1347.2 106.2,1345.7 106.5,1343.6 107.6,1343.3 110.0,1345.7" fill="#c99a35"/><polygon points="57.4,1297.1 61.4,1299.4 62.5,1302.1 60.5,1303.2 57.8,1299.6" fill="#c99a35"/><polygon points="88.1,1355.9 86.2,1351.7 90.5,1353.1 92.7,1358.2" fill="#d4a93c"/><polygon points="51.9,1287.9 54.6,1290.4 53.9,1291.9 52.5,1292.0" fill="#d4a93c"/><polygon points="159.4,1422.2 157.5,1419.9 157.3,1416.8 161.2,1418.0 161.7,1420.7" fill="#e2bd4f"/><polygon points="106.7,1352.5 108.9,1351.6 109.5,1353.6 107.8,1354.2" fill="#d4a93c"/><polygon points="78.2,1322.1 74.2,1320.0 72.9,1315.6 76.5,1317.7" fill="#eac65a"/><polygon points="103.3,1348.7 102.5,1348.2 101.5,1346.4 101.5,1345.9 102.6,1346.0 103.7,1347.7" fill="#e2bd4f"/><polygon points="126.3,1378.4 125.5,1378.0 126.3,1376.6 126.9,1377.8" fill="#e2bd4f"/><polygon points="79.9,1308.6 81.7,1311.0 80.4,1312.4 77.7,1310.7 78.0,1308.4" fill="#f6e08f"/><polygon points="-8.4,1203.7 -6.8,1203.7 -5.5,1204.6 -4.3,1206.5 -5.7,1207.3 -7.2,1206.3" fill="#e2bd4f"/><polygon points="57.1,1293.8 55.8,1293.9 55.2,1293.2 54.8,1292.4 56.1,1292.4 57.0,1292.9" fill="#c99a35"/><polygon points="31.2,1239.0 28.8,1237.4 30.1,1235.0 32.6,1236.6" fill="#c99a35"/><polygon points="56.8,1284.9 56.5,1287.1 53.8,1285.8 51.0,1281.9 52.3,1279.6 55.2,1281.6" fill="#f6e08f"/><polygon points="42.6,1270.1 46.4,1273.0 46.7,1275.1 44.2,1274.3 42.7,1272.2" fill="#f0d36c"/><polygon points="93.0,1322.5 93.4,1323.3 93.2,1324.1 92.4,1323.2 92.3,1322.2" fill="#eac65a"/><polygon points="111.8,1354.8 109.8,1356.5 104.9,1349.2 108.7,1348.6" fill="#c99a35"/><polygon points="100.7,1333.4 101.7,1335.0 99.8,1336.6 98.3,1333.7 98.8,1331.7" fill="#f0d36c"/><polygon points="149.5,1393.3 148.1,1395.3 146.1,1392.7 147.0,1391.5" fill="#e2bd4f"/><polygon points="108.3,1335.5 113.2,1340.5 111.6,1344.2 107.5,1338.7" fill="#eac65a"/><polygon points="7.8,1226.2 8.5,1225.4 10.0,1226.3 9.8,1227.7 7.8,1227.5" fill="#eac65a"/><polygon points="78.1,1310.7 79.4,1312.2 78.3,1313.2 76.9,1312.2" fill="#f8e9a8"/><polygon points="-4.4,1215.7 -4.2,1214.5 -3.6,1214.2 -2.9,1215.3 -2.4,1216.4 -3.8,1216.6" fill="#f8e9a8"/><polygon points="52.2,1274.8 52.1,1276.4 49.1,1275.8 47.0,1272.9 48.5,1270.8 51.2,1272.6" fill="#c99a35"/><polygon points="20.2,1226.1 21.3,1225.2 22.9,1227.1 22.4,1230.0 20.3,1228.9" fill="#eac65a"/><polygon points="-5.0,1227.0 -8.3,1224.3 -7.1,1221.8 -6.5,1221.5 -2.9,1224.9 -3.4,1226.4" fill="#d4a93c"/><polygon points="85.5,1313.6 87.0,1313.9 87.4,1315.4 86.8,1316.7 85.2,1315.4" fill="#eac65a"/><polygon points="67.6,1290.3 66.0,1293.9 62.3,1290.5 65.2,1288.1" fill="#d4a93c"/><polygon points="120.9,1362.8 121.5,1361.6 124.2,1362.0 125.0,1365.6 123.2,1365.9 120.6,1365.7" fill="#c99a35"/><polygon points="127.5,1379.6 124.0,1375.0 127.5,1375.0 130.6,1378.8 130.9,1381.4" fill="#f0d36c"/><polygon points="68.6,1305.6 68.7,1302.0 71.4,1305.8 71.5,1307.7" fill="#eac65a"/><polygon points="109.3,1360.6 110.4,1363.5 107.6,1362.6 107.4,1360.8" fill="#eac65a"/><polygon points="98.7,1317.9 99.0,1315.8 103.8,1320.7 103.8,1322.9 101.0,1321.7" fill="#d4a93c"/><polygon points="157.9,1423.9 157.7,1427.4 156.2,1425.8 156.2,1423.6" fill="#f8e9a8"/><polygon points="146.9,1389.1 144.3,1388.7 143.7,1386.3 145.0,1385.0 146.0,1386.8" fill="#c99a35"/><polygon points="67.9,1308.9 67.9,1310.6 66.5,1313.0 63.9,1310.9 62.6,1309.2 65.8,1306.5" fill="#f8e9a8"/><polygon points="141.5,1391.3 139.6,1390.1 137.9,1387.3 140.5,1386.0 142.8,1389.5" fill="#f6e08f"/><polygon points="82.2,1317.8 82.5,1317.1 83.7,1316.3 84.7,1318.6 84.3,1319.2" fill="#c99a35"/><polygon points="144.4,1408.9 145.3,1407.4 148.7,1408.5 148.8,1412.8 146.0,1411.9" fill="#d4a93c"/><polygon points="165.1,1427.5 163.0,1427.2 161.8,1425.2 162.1,1423.5 163.8,1424.1 164.4,1425.6" fill="#e2bd4f"/><polygon points="116.2,1372.1 113.7,1371.8 112.4,1368.0 115.0,1369.3" fill="#f0d36c"/><polygon points="98.8,1332.4 95.6,1330.8 94.1,1328.4 95.4,1327.2 97.4,1327.3 100.0,1331.3" fill="#f8e9a8"/><polygon points="116.7,1370.7 117.0,1370.2 117.8,1370.4 118.6,1371.1 118.3,1372.2 117.4,1371.9" fill="#eac65a"/><polygon points="154.9,1402.3 154.6,1400.5 155.6,1400.3 156.5,1402.3 156.4,1402.9" fill="#eac65a"/><polygon points="99.2,1341.3 102.5,1344.6 100.0,1345.1 98.3,1343.7" fill="#c99a35"/><polygon points="80.8,1315.1 78.9,1314.2 79.1,1313.0 81.3,1313.2 82.0,1314.2" fill="#d4a93c"/><polygon points="115.3,1385.6 111.2,1384.5 110.5,1381.3 112.9,1379.8 116.1,1383.8" fill="#eac65a"/><polygon points="12.3,1230.2 13.1,1232.8 11.0,1233.4 9.4,1231.4 10.7,1229.8" fill="#eac65a"/><polygon points="162.1,1404.7 160.5,1406.0 159.2,1403.7 159.1,1402.2 161.5,1402.7" fill="#f6e08f"/><polygon points="47.4,1280.2 49.3,1281.4 48.9,1283.5 47.5,1283.7 45.7,1281.8 46.3,1281.2" fill="#f0d36c"/><polygon points="57.9,1281.6 62.1,1285.9 59.8,1286.2 57.8,1284.4" fill="#e2bd4f"/><polygon points="125.3,1372.4 120.9,1371.2 121.8,1369.0 124.3,1368.3" fill="#c99a35"/><polygon points="94.0,1343.2 91.6,1341.3 92.9,1339.6 95.0,1342.3" fill="#f8e9a8"/><polygon points="92.2,1316.2 91.6,1315.6 90.8,1314.6 91.7,1313.9 92.2,1314.3 92.9,1315.3" fill="#e2bd4f"/><polygon points="149.2,1394.6 150.1,1393.8 150.8,1395.4 149.8,1395.7" fill="#d4a93c"/><polygon points="26.0,1243.9 23.3,1244.3 22.8,1241.1 25.0,1239.9" fill="#f0d36c"/><polygon points="21.7,1220.2 20.4,1219.2 20.2,1217.9 21.0,1217.4 22.8,1219.5" fill="#f6e08f"/><polygon points="52.9,1276.4 50.1,1275.8 50.3,1274.1 53.1,1272.5 53.6,1274.5" fill="#eac65a"/><polygon points="68.5,1305.9 67.2,1306.3 66.8,1304.3 67.7,1303.7 68.6,1304.7" fill="#e2bd4f"/><polygon points="56.6,1266.0 54.1,1265.9 53.1,1262.3 56.6,1262.9" fill="#f0d36c"/><polygon points="95.8,1336.8 98.1,1336.1 99.4,1337.4 97.9,1339.2 97.2,1338.4" fill="#c99a35"/><polygon points="10.5,1225.2 8.0,1222.7 10.5,1220.9 12.7,1224.0 13.9,1227.0 12.5,1227.8" fill="#f6e08f"/><polygon points="6.6,1223.2 6.4,1224.6 4.8,1225.2 1.6,1223.7 2.8,1219.3 4.0,1219.8" fill="#f8e9a8"/><polygon points="138.5,1403.6 135.3,1401.3 135.2,1397.9 137.1,1396.0 140.5,1399.7 141.2,1403.7" fill="#f0d36c"/><polygon points="77.4,1304.7 79.7,1306.0 80.5,1308.1 78.6,1310.5 77.3,1308.4" fill="#f0d36c"/><polygon points="-11.6,1207.2 -9.2,1208.9 -8.7,1212.7 -10.1,1213.0 -12.7,1209.4" fill="#eac65a"/><polygon points="86.6,1312.7 84.1,1311.7 82.0,1310.8 79.7,1307.8 81.9,1306.3 84.0,1306.8" fill="#d4a93c"/><polygon points="53.1,1286.2 49.6,1283.8 49.5,1280.0 50.5,1278.2 53.9,1282.7" fill="#f6e08f"/><polygon points="112.4,1362.9 112.9,1361.1 115.3,1362.1 115.2,1363.8" fill="#eac65a"/><polygon points="70.3,1311.6 69.7,1313.3 64.6,1311.0 63.3,1307.9 66.8,1306.5" fill="#c99a35"/><polygon points="56.1,1284.9 58.6,1287.0 59.6,1291.3 56.3,1291.6 55.0,1288.9 53.5,1285.4" fill="#f8e9a8"/><polygon points="71.1,1307.1 71.1,1306.0 72.1,1304.9 73.7,1307.1 72.4,1308.1" fill="#c99a35"/><polygon points="104.5,1340.3 104.5,1342.3 101.4,1340.6 101.2,1337.8 102.2,1336.7" fill="#e2bd4f"/><polygon points="-2.7,1204.3 -4.1,1203.5 -4.7,1201.7 -2.7,1203.2" fill="#e2bd4f"/><polygon points="143.6,1398.7 144.6,1399.2 144.8,1399.9 144.2,1400.3" fill="#c99a35"/><polygon points="129.0,1375.3 131.2,1376.9 130.6,1379.3 129.2,1379.4 128.5,1377.0" fill="#e2bd4f"/><polygon points="72.9,1298.1 68.3,1294.4 69.6,1290.5 75.2,1296.6" fill="#c99a35"/><polygon points="127.4,1374.9 128.4,1374.2 133.5,1378.5 132.9,1383.6 131.0,1382.0 127.5,1378.3" fill="#eac65a"/><polygon points="35.0,1226.5 33.4,1225.7 31.5,1224.8 31.8,1222.7 33.4,1221.2 35.0,1224.3" fill="#c99a35"/><polygon points="140.1,1413.6 140.5,1414.5 140.3,1415.0 139.7,1414.9 139.5,1414.4 139.4,1413.9" fill="#f6e08f"/><polygon points="56.6,1287.9 55.0,1289.1 53.9,1287.7 55.0,1285.8" fill="#c99a35"/><polygon points="77.7,1299.9 78.7,1302.6 76.2,1302.8 76.3,1300.2" fill="#eac65a"/><polygon points="45.5,1294.3 47.2,1294.6 50.3,1297.8 49.0,1300.0 47.5,1299.8 44.9,1296.1" fill="#f6e08f"/><polygon points="40.5,1269.8 39.1,1268.8 39.8,1267.5 40.4,1268.0 41.2,1269.6" fill="#f6e08f"/><polygon points="138.2,1384.4 141.5,1387.7 141.5,1391.7 136.7,1389.8 135.6,1386.9 135.3,1384.5" fill="#f0d36c"/><polygon points="113.6,1358.8 114.6,1359.0 115.4,1360.4 114.7,1360.7 114.2,1360.5 113.6,1359.3" fill="#f0d36c"/><polygon points="53.3,1280.2 52.0,1280.2 50.6,1279.6 49.1,1276.1 50.8,1275.5 52.3,1277.2" fill="#f6e08f"/><polygon points="48.7,1277.0 52.3,1277.5 53.0,1279.2 53.3,1281.6 51.7,1282.8 48.9,1280.1" fill="#eac65a"/><polygon points="46.2,1254.5 50.4,1257.8 50.6,1260.3 46.8,1258.3" fill="#f8e9a8"/><polygon points="104.5,1352.7 100.9,1350.9 98.9,1348.0 100.5,1345.2 104.2,1347.5 106.6,1353.0" fill="#eac65a"/><polygon points="83.5,1334.7 85.1,1336.5 83.9,1337.8 82.6,1337.4 82.9,1335.2" fill="#d4a93c"/><polygon points="131.5,1379.3 132.9,1378.3 134.9,1379.5 136.6,1382.6 134.7,1383.5 133.3,1381.9" fill="#f6e08f"/><polygon points="56.5,1283.7 55.8,1283.2 56.2,1282.3 57.4,1282.5 57.5,1283.8" fill="#e2bd4f"/><polygon points="27.9,1250.8 26.3,1250.9 25.7,1249.8 25.3,1248.7 27.4,1249.2" fill="#f8e9a8"/><polygon points="11.3,1225.7 10.5,1223.7 12.5,1223.5 13.3,1223.5 13.9,1226.0 13.6,1227.6" fill="#eac65a"/><polygon points="2.5,1234.0 1.9,1227.0 5.2,1229.9 5.7,1233.8" fill="#eac65a"/><polygon points="45.7,1258.1 47.1,1260.7 45.2,1259.9 43.9,1256.8" fill="#c99a35"/><polygon points="2.8,1205.1 3.7,1202.9 5.4,1203.9 4.4,1205.5" fill="#c99a35"/><polygon points="121.0,1363.9 121.4,1362.6 122.5,1361.9 123.5,1363.5 124.1,1365.5 122.5,1365.8" fill="#f0d36c"/><polygon points="87.2,1342.6 88.4,1343.5 88.8,1345.5 87.8,1345.3 86.3,1343.9 86.5,1343.0" fill="#d4a93c"/><polygon points="126.7,1379.3 124.2,1378.7 122.6,1374.9 123.7,1373.2 127.0,1375.2 128.6,1378.1" fill="#c99a35"/><polygon points="110.8,1358.0 109.9,1358.4 109.2,1357.6 109.2,1356.4 110.2,1357.1" fill="#e2bd4f"/><polygon points="49.3,1267.2 46.8,1260.3 51.1,1263.6 52.6,1268.2" fill="#f0d36c"/><polygon points="137.0,1389.2 139.8,1389.8 140.9,1394.7 137.0,1392.7" fill="#c99a35"/><polygon points="117.5,1378.3 118.6,1377.7 118.8,1378.8 118.3,1379.5" fill="#e2bd4f"/><polygon points="50.9,1297.7 53.3,1300.7 51.3,1301.6 50.0,1300.8 47.9,1297.3 50.1,1298.1" fill="#c99a35"/><polygon points="41.0,1254.4 43.6,1255.6 42.2,1258.4 40.4,1257.6" fill="#d4a93c"/><polygon points="77.6,1317.9 75.2,1313.6 77.3,1313.2 82.0,1316.2 79.9,1318.2" fill="#eac65a"/><polygon points="15.7,1242.0 15.4,1239.8 17.0,1239.3 18.8,1240.5 18.4,1242.9" fill="#d4a93c"/><polygon points="68.3,1298.1 65.9,1298.1 63.7,1294.7 65.9,1293.5 68.1,1295.5" fill="#e2bd4f"/><polygon points="99.7,1357.6 102.5,1362.6 101.7,1364.9 97.2,1361.6 94.7,1358.6 96.2,1355.8" fill="#c99a35"/><polygon points="82.9,1314.3 79.9,1312.8 81.0,1310.3 84.2,1310.4" fill="#f6e08f"/><polygon points="109.4,1357.6 112.3,1358.4 112.8,1361.5 109.6,1359.6" fill="#f8e9a8"/><polygon points="87.3,1335.1 88.0,1332.1 89.7,1332.1 90.7,1334.1 91.5,1335.1 89.9,1336.1" fill="#f6e08f"/><polygon points="155.2,1402.6 157.5,1403.4 158.1,1405.7 154.8,1405.1" fill="#e2bd4f"/><polygon points="15.7,1247.6 14.2,1248.9 12.9,1248.7 12.4,1246.5 14.6,1246.0" fill="#f8e9a8"/><polygon points="109.3,1347.5 108.2,1346.3 109.1,1344.7 110.5,1346.8 110.8,1347.8" fill="#d4a93c"/><polygon points="116.2,1372.8 114.7,1371.4 114.7,1370.4 115.9,1370.6 117.3,1371.5 116.9,1372.7" fill="#eac65a"/><polygon points="166.1,1416.9 167.6,1420.3 166.2,1421.8 163.7,1419.8 162.2,1416.6 163.9,1415.2" fill="#f0d36c"/><polygon points="121.9,1374.1 119.9,1374.3 117.9,1373.6 118.7,1371.4 119.9,1369.9 122.3,1372.0" fill="#eac65a"/><polygon points="50.7,1285.8 49.6,1288.0 47.9,1287.9 48.0,1285.1" fill="#f8e9a8"/><polygon points="67.9,1305.6 67.1,1305.7 66.2,1304.2 67.0,1304.2 67.3,1304.2 67.9,1304.9" fill="#d4a93c"/><polygon points="120.5,1355.8 121.1,1355.4 122.5,1355.6 122.4,1357.3 121.2,1357.4" fill="#f6e08f"/><polygon points="142.7,1402.0 141.3,1401.4 138.9,1399.1 138.3,1398.1 139.8,1397.6 142.1,1400.0" fill="#f8e9a8"/><polygon points="123.1,1386.9 124.2,1385.6 126.7,1387.4 126.9,1390.2 125.4,1389.9" fill="#c99a35"/><polygon points="125.5,1381.6 127.5,1381.5 128.1,1382.6 126.3,1384.6 125.2,1383.3" fill="#d4a93c"/><polygon points="62.3,1287.7 59.3,1288.9 57.9,1285.5 60.0,1284.6" fill="#d4a93c"/><polygon points="58.5,1278.9 55.4,1282.6 54.0,1279.1 56.0,1275.3" fill="#f6e08f"/><polygon points="104.1,1342.9 105.0,1342.5 105.9,1343.2 104.9,1343.8" fill="#f0d36c"/><polygon points="131.2,1384.9 131.6,1385.7 130.9,1386.3 130.1,1386.0 130.1,1384.6" fill="#c99a35"/><polygon points="70.6,1311.4 67.7,1310.8 64.3,1305.5 67.7,1305.2" fill="#f8e9a8"/><polygon points="76.9,1300.1 77.2,1297.2 78.9,1299.1 78.2,1301.3" fill="#f6e08f"/><polygon points="113.4,1354.0 112.7,1353.5 112.8,1352.2 114.3,1353.3" fill="#d4a93c"/><polygon points="132.8,1400.9 133.6,1400.0 135.2,1400.9 134.4,1401.7" fill="#f6e08f"/><polygon points="77.4,1293.1 75.2,1290.6 76.9,1289.0 78.3,1290.7" fill="#d4a93c"/><polygon points="30.1,1253.0 31.0,1249.5 33.0,1250.6 34.3,1254.2 32.8,1256.0" fill="#eac65a"/><polygon points="90.0,1322.8 89.9,1323.6 89.2,1323.9 88.8,1324.0 88.8,1322.7 89.2,1322.9" fill="#f0d36c"/><polygon points="94.4,1352.6 95.6,1353.5 94.3,1356.0 92.8,1356.4 90.5,1354.9 92.1,1351.7" fill="#eac65a"/><polygon points="115.6,1363.2 115.9,1364.4 114.9,1364.8 114.9,1363.7" fill="#e2bd4f"/><polygon points="159.5,1425.9 159.7,1426.7 158.8,1427.0 158.6,1425.5" fill="#f6e08f"/><polygon points="4.6,1219.3 3.5,1219.0 3.2,1218.7 3.1,1217.7 3.8,1217.7 4.4,1218.3" fill="#f6e08f"/><polygon points="117.2,1365.5 118.8,1369.0 116.8,1369.5 115.1,1366.1" fill="#d4a93c"/><polygon points="37.6,1252.5 34.4,1252.6 32.4,1249.4 35.3,1249.1" fill="#eac65a"/><polygon points="66.7,1303.4 68.0,1305.7 65.7,1307.2 64.8,1304.5" fill="#f0d36c"/><polygon points="150.4,1395.3 149.8,1397.6 147.6,1396.2 148.2,1394.7" fill="#f6e08f"/><polygon points="124.2,1389.0 123.9,1387.0 126.5,1386.9 127.0,1388.8 125.4,1389.6" fill="#f8e9a8"/><polygon points="48.8,1265.2 50.3,1266.0 51.0,1267.1 50.3,1268.2 49.2,1267.4" fill="#e2bd4f"/><polygon points="88.1,1322.1 86.7,1318.7 88.0,1318.3 91.0,1319.2 91.2,1323.5" fill="#f6e08f"/><polygon points="37.7,1251.8 38.7,1252.0 38.9,1253.4 37.1,1252.6" fill="#f8e9a8"/><polygon points="71.1,1299.5 70.6,1298.8 70.6,1297.4 71.9,1298.6 72.1,1300.1" fill="#f8e9a8"/><polygon points="144.8,1417.2 144.3,1417.9 143.0,1417.8 141.6,1416.3 142.1,1415.1 143.7,1415.3" fill="#f6e08f"/><polygon points="115.6,1363.5 118.8,1365.2 119.4,1370.1 116.4,1370.3 115.8,1368.0 114.2,1362.7" fill="#f8e9a8"/><polygon points="46.0,1265.3 44.6,1264.1 42.8,1261.5 43.8,1260.3 45.1,1261.5 47.4,1263.9" fill="#c99a35"/><polygon points="18.0,1224.1 17.7,1222.8 20.2,1223.9 20.8,1225.0 19.9,1225.7" fill="#c99a35"/><polygon points="-1.4,1211.5 -1.4,1212.5 -2.3,1212.0 -2.6,1211.5 -2.7,1211.1 -2.3,1210.9" fill="#f0d36c"/><polygon points="54.5,1278.8 55.4,1280.5 53.8,1280.4 53.0,1279.6 53.7,1278.5" fill="#f6e08f"/><polygon points="124.7,1378.7 122.3,1377.1 121.4,1375.1 121.8,1372.9 124.0,1373.4 125.5,1376.8" fill="#c99a35"/><polygon points="153.4,1420.0 154.1,1418.3 156.2,1420.7 156.0,1422.5 154.0,1422.1" fill="#f6e08f"/><polygon points="142.4,1395.5 142.3,1396.4 142.0,1396.6 141.0,1396.3 141.4,1395.4" fill="#c99a35"/><polygon points="138.8,1395.3 143.8,1396.9 145.1,1401.5 139.2,1399.0" fill="#eac65a"/><polygon points="147.0,1423.1 148.7,1422.7 150.4,1423.9 150.7,1426.4 149.1,1425.9 148.5,1425.3" fill="#e2bd4f"/><polygon points="20.4,1236.2 22.5,1236.3 24.0,1239.3 22.7,1239.6" fill="#eac65a"/><polygon points="0.4,1234.8 -0.2,1231.7 0.7,1231.2 2.7,1234.7 2.3,1236.2" fill="#f0d36c"/><polygon points="9.1,1213.0 5.6,1209.8 4.9,1206.3 7.0,1205.3 10.0,1211.6" fill="#c99a35"/><polygon points="96.0,1350.3 98.3,1348.2 101.0,1349.9 99.4,1351.9" fill="#c99a35"/><polygon points="162.5,1430.0 157.5,1425.2 158.4,1422.8 162.6,1424.0" fill="#e2bd4f"/><polygon points="26.6,1252.1 26.5,1249.4 28.2,1250.0 29.4,1253.1" fill="#f0d36c"/><polygon points="22.0,1236.3 23.0,1237.1 23.2,1238.1 21.9,1237.7 21.2,1237.1" fill="#c99a35"/><polygon points="136.8,1391.0 134.6,1389.7 136.2,1387.3 138.5,1389.3" fill="#f0d36c"/><polygon points="116.8,1369.5 117.4,1371.1 114.5,1372.7 113.2,1371.4 113.5,1369.2 116.0,1368.4" fill="#eac65a"/><polygon points="105.4,1341.0 108.1,1341.7 108.2,1344.1 106.6,1345.0 105.5,1344.5 103.5,1343.2" fill="#f0d36c"/><polygon points="125.0,1391.8 125.0,1393.1 122.8,1391.4 123.6,1389.8" fill="#e2bd4f"/><polygon points="56.1,1275.2 56.5,1273.3 58.0,1274.5 58.1,1275.8" fill="#eac65a"/><polygon points="68.0,1315.5 66.5,1315.3 64.6,1315.6 63.5,1312.1 65.5,1311.7" fill="#e2bd4f"/><polygon points="114.3,1348.3 114.1,1344.1 116.7,1344.4 118.2,1343.8 120.1,1347.4 118.8,1348.8" fill="#e2bd4f"/><polygon points="64.8,1299.1 63.4,1298.8 62.3,1296.8 63.2,1296.1 65.2,1297.8" fill="#f0d36c"/><polygon points="156.3,1412.6 154.0,1413.4 150.5,1408.1 152.4,1406.2" fill="#d4a93c"/><polygon points="60.5,1282.7 61.8,1280.2 64.8,1282.9 65.5,1284.5 65.4,1286.5 63.6,1286.2" fill="#eac65a"/><polygon points="131.7,1394.2 133.0,1393.3 134.2,1394.4 133.5,1395.3 132.6,1395.1" fill="#e2bd4f"/><polygon points="106.1,1351.7 104.7,1347.2 109.2,1349.2 109.5,1352.9 107.1,1352.5" fill="#f6e08f"/><polygon points="146.2,1390.9 145.1,1386.8 147.1,1387.5 149.7,1391.9" fill="#eac65a"/><polygon points="16.0,1231.4 18.5,1231.8 20.4,1233.2 19.1,1236.9 15.9,1236.1" fill="#d4a93c"/><polygon points="144.1,1411.3 145.0,1410.4 147.4,1411.5 148.3,1414.7 147.5,1415.0 144.9,1413.2" fill="#e2bd4f"/><polygon points="132.0,1373.1 134.2,1373.5 136.2,1376.8 134.4,1376.7 132.5,1376.3" fill="#eac65a"/><polygon points="111.7,1363.7 110.9,1361.0 113.7,1361.7 115.2,1363.1 114.1,1365.7" fill="#eac65a"/><polygon points="160.5,1413.8 161.7,1410.9 163.8,1412.4 163.6,1415.0" fill="#eac65a"/><polygon points="163.9,1417.1 165.8,1420.4 165.3,1423.4 161.5,1421.4 160.2,1416.5" fill="#c99a35"/><polygon points="53.6,1276.5 52.4,1274.5 52.6,1273.6 54.3,1273.9 54.9,1275.4" fill="#e2bd4f"/><polygon points="126.9,1374.7 124.8,1373.0 124.7,1372.2 125.7,1370.1 128.2,1371.6 129.4,1372.9" fill="#d4a93c"/><polygon points="114.6,1350.0 116.6,1351.4 116.2,1355.5 113.2,1352.9 112.6,1350.0" fill="#e2bd4f"/><polygon points="161.7,1419.7 165.7,1421.6 164.5,1427.4 160.8,1424.4" fill="#e2bd4f"/><polygon points="134.3,1388.1 135.0,1387.8 135.8,1387.8 135.9,1388.7 134.8,1389.1" fill="#f6e08f"/><polygon points="87.6,1333.7 87.2,1332.5 88.3,1332.3 89.3,1333.9 89.6,1335.2 88.7,1335.3" fill="#f6e08f"/><polygon points="49.9,1283.6 52.9,1283.7 54.3,1288.2 53.5,1291.4 48.0,1285.8" fill="#c99a35"/><polygon points="118.2,1360.6 123.6,1364.8 123.4,1368.3 118.9,1366.6" fill="#f0d36c"/><polygon points="27.9,1251.9 26.4,1250.6 26.0,1249.4 27.9,1248.7 28.9,1249.5 29.3,1252.3" fill="#f6e08f"/><polygon points="0.7,1198.2 -0.6,1195.4 0.6,1194.7 2.3,1198.1" fill="#f0d36c"/><polygon points="153.9,1414.1 155.2,1413.9 155.7,1415.2 155.4,1416.0 154.0,1415.4" fill="#f0d36c"/><polygon points="145.7,1406.5 147.7,1406.8 148.6,1407.8 147.7,1409.0 145.7,1407.6" fill="#d4a93c"/><polygon points="138.9,1409.9 139.6,1413.6 136.4,1411.6 136.2,1410.2 136.2,1407.9" fill="#d4a93c"/><polygon points="50.0,1280.3 47.7,1278.9 48.6,1275.8 51.3,1277.8" fill="#f0d36c"/><polygon points="5.6,1208.8 6.2,1206.7 8.7,1206.1 10.7,1210.1 9.0,1212.6 5.7,1210.8" fill="#d4a93c"/><polygon points="168.5,1422.8 170.8,1427.3 164.8,1426.4 163.9,1420.3" fill="#e2bd4f"/><polygon points="36.3,1256.0 37.3,1254.9 38.4,1255.0 38.8,1256.4 37.8,1256.8" fill="#f6e08f"/><polygon points="135.5,1386.3 135.5,1385.4 136.6,1385.8 137.0,1386.2 136.4,1386.8" fill="#c99a35"/><polygon points="8.8,1243.5 8.3,1244.1 7.1,1244.1 7.6,1243.2 7.9,1243.2" fill="#e2bd4f"/><polygon points="134.4,1378.4 134.4,1379.8 133.8,1381.0 132.2,1381.3 131.9,1378.1 132.8,1377.6" fill="#f8e9a8"/><polygon points="57.2,1298.8 60.7,1301.5 61.5,1303.6 60.1,1304.9 57.5,1302.7 56.4,1300.3" fill="#d4a93c"/><polygon points="35.0,1261.3 35.2,1264.7 32.1,1265.2 31.1,1262.6 31.5,1259.9" fill="#f0d36c"/><polygon points="28.5,1259.0 28.2,1257.6 29.2,1257.4 30.2,1257.9 30.1,1258.6 29.4,1259.5" fill="#d4a93c"/><polygon points="96.2,1319.2 96.6,1318.4 97.3,1319.5 97.2,1320.2" fill="#d4a93c"/><polygon points="115.6,1355.1 112.9,1355.1 109.0,1350.6 113.2,1349.4 114.7,1352.0" fill="#e2bd4f"/><polygon points="59.7,1284.1 60.6,1278.6 65.9,1282.1 65.0,1286.0" fill="#f8e9a8"/><polygon points="151.1,1415.9 149.7,1416.5 146.0,1412.9 147.1,1411.1 149.6,1412.0" fill="#c99a35"/><polygon points="117.4,1378.4 116.6,1379.3 115.6,1378.1 115.4,1376.8 116.6,1376.7 117.2,1377.6" fill="#f0d36c"/><polygon points="111.1,1344.1 112.8,1345.1 112.4,1346.8 111.1,1345.7" fill="#f8e9a8"/><polygon points="125.9,1375.3 125.1,1372.0 128.6,1373.3 129.6,1375.1 130.8,1379.7 129.2,1378.9" fill="#f6e08f"/><polygon points="23.1,1238.3 24.9,1238.2 25.9,1240.5 23.6,1240.8" fill="#e2bd4f"/><polygon points="144.7,1401.4 145.3,1402.6 144.5,1403.1 143.2,1402.2 143.2,1400.9 143.7,1400.7" fill="#f6e08f"/><polygon points="5.1,1210.7 2.2,1206.6 3.3,1203.8 7.5,1209.0" fill="#f6e08f"/><polygon points="89.8,1336.2 91.0,1334.5 93.3,1335.7 93.4,1338.6 89.8,1338.0" fill="#c99a35"/><polygon points="124.4,1371.2 123.7,1368.1 125.5,1367.1 128.0,1368.9 127.1,1371.8" fill="#c99a35"/><polygon points="93.7,1337.5 90.4,1337.9 88.9,1334.0 90.8,1333.5" fill="#f8e9a8"/><polygon points="158.5,1429.8 159.8,1430.5 159.5,1431.0 159.1,1431.8 158.2,1430.8 158.0,1430.1" fill="#c99a35"/><polygon points="93.6,1332.4 91.9,1330.4 94.0,1329.4 96.2,1330.4 95.0,1332.3" fill="#c99a35"/><polygon points="101.7,1360.6 100.4,1359.5 100.8,1358.6 102.2,1358.7 102.8,1359.4" fill="#c99a35"/><polygon points="93.0,1322.0 92.6,1323.7 91.5,1324.9 89.1,1323.3 88.2,1320.9 89.6,1318.8" fill="#f8e9a8"/><polygon points="37.5,1252.8 40.6,1255.1 42.3,1258.6 41.3,1260.3 38.7,1258.2 37.3,1256.3" fill="#c99a35"/><polygon points="64.2,1292.7 66.7,1292.4 69.4,1295.2 67.0,1297.7" fill="#c99a35"/><polygon points="102.9,1335.1 100.8,1333.1 98.7,1328.6 101.5,1327.3 103.0,1330.5" fill="#d4a93c"/><polygon points="101.9,1357.8 104.1,1356.0 105.8,1358.5 105.9,1360.3 103.6,1360.8" fill="#f8e9a8"/><polygon points="27.6,1247.3 27.9,1248.6 27.4,1249.9 26.5,1249.2 26.1,1248.2 25.9,1247.0" fill="#f8e9a8"/><polygon points="11.2,1213.1 13.0,1212.6 14.6,1216.5 12.6,1216.1" fill="#e2bd4f"/><polygon points="58.4,1281.3 57.2,1282.1 55.6,1282.4 55.1,1280.9 55.8,1279.3 57.9,1280.0" fill="#f6e08f"/><polygon points="141.1,1409.3 141.7,1408.7 142.8,1410.5 141.9,1410.6" fill="#e2bd4f"/><polygon points="74.4,1282.5 72.3,1282.1 71.4,1279.3 74.4,1280.1" fill="#f8e9a8"/><polygon points="78.4,1283.6 80.0,1283.4 81.5,1286.8 79.3,1286.5" fill="#e2bd4f"/><polygon points="71.3,1283.8 68.2,1279.8 70.6,1278.8 72.7,1279.2 74.1,1285.1" fill="#f8e9a8"/><polygon points="119.3,1344.7 116.1,1340.0 119.2,1339.6 122.4,1343.4" fill="#f6e08f"/><polygon points="86.4,1303.0 84.3,1302.6 84.2,1300.3 85.5,1299.1 87.0,1301.2" fill="#f8e9a8"/><polygon points="99.8,1320.1 98.3,1317.7 99.6,1316.6 101.6,1319.6" fill="#f0d36c"/><polygon points="126.4,1343.2 128.7,1346.5 127.4,1347.4 125.4,1346.9 125.4,1343.9" fill="#f0d36c"/><polygon points="75.3,1279.4 75.9,1280.1 75.7,1281.3 74.7,1280.9 74.9,1279.7" fill="#f0d36c"/><polygon points="117.7,1341.2 117.4,1338.6 120.6,1340.0 121.8,1342.1 119.4,1342.7" fill="#d4a93c"/><polygon points="106.8,1325.7 105.0,1323.9 107.5,1322.3 108.6,1324.1" fill="#d4a93c"/><polygon points="83.7,1303.9 82.9,1302.2 83.4,1301.3 85.6,1302.9 85.6,1304.6" fill="#f8e9a8"/><polygon points="108.4,1324.8 110.5,1326.0 110.6,1327.9 109.5,1327.9 108.3,1326.4 107.8,1325.0" fill="#c99a35"/><polygon points="82.0,1291.9 84.2,1294.0 82.0,1295.3 80.2,1292.6" fill="#f6e08f"/><polygon points="96.8,1305.7 98.6,1307.9 99.2,1310.1 97.1,1311.8 93.5,1307.7 94.6,1306.2" fill="#f6e08f"/><polygon points="79.8,1293.2 83.6,1295.1 83.6,1298.7 80.0,1296.9" fill="#eac65a"/><polygon points="70.8,1292.1 73.3,1292.7 74.4,1293.3 74.6,1295.4 72.8,1295.1" fill="#d4a93c"/><polygon points="105.0,1315.5 105.6,1319.8 102.1,1319.1 100.8,1316.2" fill="#f0d36c"/><polygon points="115.3,1343.3 117.5,1345.8 116.0,1347.2 114.5,1345.9" fill="#d4a93c"/><polygon points="68.2,1278.3 67.7,1279.6 65.5,1277.7 64.9,1276.8 65.7,1275.8 68.0,1276.8" fill="#d4a93c"/><polygon points="71.7,1280.5 73.7,1280.9 74.3,1283.2 71.8,1283.6 71.2,1282.6" fill="#e2bd4f"/><polygon points="87.2,1310.5 83.4,1307.3 84.4,1304.8 87.5,1307.0" fill="#eac65a"/><polygon points="69.5,1266.4 68.1,1265.4 66.4,1263.7 68.0,1260.9 69.4,1262.5 71.3,1266.3" fill="#f6e08f"/><polygon points="73.5,1285.7 73.3,1287.9 71.8,1287.7 71.4,1285.6 73.0,1284.6" fill="#d4a93c"/><polygon points="100.7,1330.7 100.1,1331.1 98.0,1329.6 98.1,1329.1 98.7,1327.7 100.2,1328.8" fill="#f0d36c"/><polygon points="72.0,1287.6 69.4,1285.6 69.2,1284.1 71.4,1284.1" fill="#f8e9a8"/><polygon points="120.2,1343.5 116.5,1342.7 114.6,1339.1 116.7,1337.1" fill="#d4a93c"/><polygon points="70.6,1277.0 71.8,1280.3 70.0,1281.0 68.1,1278.1 68.7,1275.6" fill="#f8e9a8"/><polygon points="79.1,1295.9 77.7,1295.7 77.5,1293.9 78.9,1294.6" fill="#eac65a"/><polygon points="95.8,1313.9 97.2,1314.4 97.0,1315.8 96.1,1315.1" fill="#f8e9a8"/><polygon points="94.5,1302.7 95.1,1303.8 94.5,1305.1 93.6,1304.1" fill="#eac65a"/><polygon points="76.3,1290.2 73.7,1289.0 73.1,1284.2 76.7,1287.2" fill="#f8e9a8"/><polygon points="115.9,1345.9 113.3,1345.1 113.8,1342.8 116.1,1343.7" fill="#f6e08f"/><polygon points="109.7,1328.3 112.6,1328.8 112.8,1331.9 110.9,1331.3" fill="#e2bd4f"/><polygon points="113.3,1333.7 113.0,1332.4 114.3,1331.8 116.2,1334.4 114.7,1335.1" fill="#e2bd4f"/><polygon points="75.5,1285.1 74.8,1283.0 76.4,1283.8 76.9,1285.5" fill="#f8e9a8"/><polygon points="123.0,1344.7 121.6,1343.2 121.5,1341.5 123.0,1341.1 123.9,1343.1" fill="#f0d36c"/><polygon points="82.9,1291.9 80.9,1291.2 81.1,1290.3 82.0,1289.4 83.1,1290.9" fill="#d4a93c"/><polygon points="107.7,1329.8 109.0,1332.6 108.6,1334.8 106.7,1334.2 104.3,1330.4 105.4,1330.2" fill="#f0d36c"/><polygon points="74.5,1284.1 72.5,1284.9 70.3,1282.0 70.5,1281.0 71.9,1279.2 73.8,1282.0" fill="#f8e9a8"/><polygon points="112.4,1334.0 110.9,1335.6 108.9,1332.8 111.0,1331.1" fill="#d4a93c"/><polygon points="73.3,1290.3 71.7,1290.7 69.4,1287.9 71.1,1287.4" fill="#eac65a"/><polygon points="119.4,1345.9 119.9,1343.2 121.6,1343.5 123.0,1345.6 122.0,1347.7 119.4,1346.9" fill="#f6e08f"/><polygon points="124.5,1346.5 124.6,1347.7 123.3,1346.6 122.5,1345.6 123.4,1345.4" fill="#f8e9a8"/><polygon points="70.3,1276.9 67.6,1276.3 67.5,1273.2 70.2,1274.1" fill="#f8e9a8"/><polygon points="72.9,1280.0 69.8,1277.4 71.2,1274.2 74.6,1279.1" fill="#f0d36c"/><polygon points="78.6,1295.6 78.0,1296.7 76.8,1296.9 76.2,1295.8 77.2,1294.9" fill="#f6e08f"/><polygon points="117.5,1347.3 117.2,1350.4 114.0,1346.8 113.9,1343.9" fill="#f8e9a8"/><polygon points="119.6,1352.7 117.4,1349.3 117.4,1346.9 121.6,1346.6 123.6,1350.3" fill="#f0d36c"/><polygon points="72.3,1279.4 73.7,1278.4 75.2,1280.4 75.1,1281.7 73.7,1281.5" fill="#d4a93c"/><polygon points="107.5,1333.6 106.9,1330.6 110.8,1332.9 111.9,1334.7 109.1,1335.3" fill="#eac65a"/><polygon points="70.5,1285.1 71.2,1283.5 72.3,1282.0 74.1,1284.3 72.9,1286.6" fill="#c99a35"/><polygon points="94.8,1310.5 94.3,1307.3 95.7,1306.1 96.8,1306.8 98.2,1309.6 97.2,1312.4" fill="#eac65a"/><polygon points="100.8,1324.1 98.7,1322.4 99.2,1319.4 101.1,1321.7" fill="#d4a93c"/><polygon points="107.8,1320.4 106.2,1323.2 102.6,1321.6 103.7,1318.6" fill="#c99a35"/><polygon points="71.7,1286.1 70.5,1285.6 70.6,1283.9 71.8,1283.8" fill="#eac65a"/><polygon points="95.4,1311.8 94.4,1311.4 94.5,1310.1 96.0,1310.2" fill="#e2bd4f"/><polygon points="106.1,1332.2 107.0,1332.5 107.3,1333.7 106.4,1334.1 105.2,1333.8" fill="#f8e9a8"/><polygon points="110.9,1335.5 109.8,1333.0 113.1,1332.5 115.1,1335.4 113.0,1337.1" fill="#d4a93c"/><polygon points="84.2,1300.3 83.6,1300.4 82.6,1298.0 84.1,1297.9 85.2,1299.1" fill="#e2bd4f"/><polygon points="115.8,1330.2 116.3,1331.3 115.4,1331.4 114.3,1331.4 114.3,1330.7 115.4,1329.8" fill="#f6e08f"/><polygon points="74.3,1287.8 70.3,1281.8 74.1,1281.2 75.6,1285.6" fill="#c99a35"/><polygon points="121.3,1340.7 124.2,1345.9 121.1,1346.5 119.3,1341.6" fill="#c99a35"/><polygon points="111.9,1344.3 113.8,1342.1 116.7,1343.9 118.3,1347.6 115.8,1347.6" fill="#c99a35"/><polygon points="117.1,1342.3 118.1,1342.5 119.7,1344.5 118.5,1345.5 116.3,1344.2" fill="#d4a93c"/><polygon points="62.6,1275.5 64.0,1277.0 63.0,1277.9 62.2,1278.0 61.0,1277.2 61.6,1276.0" fill="#e2bd4f"/><polygon points="70.2,1280.4 67.5,1275.2 68.5,1274.2 71.8,1276.5 75.8,1281.5 73.8,1282.8" fill="#f0d36c"/><polygon points="122.8,1340.8 119.5,1340.7 117.7,1337.4 118.2,1334.4 121.6,1336.8 123.1,1337.9" fill="#f6e08f"/><polygon points="107.5,1324.8 105.7,1322.6 105.8,1319.7 107.0,1320.7 109.1,1322.8 109.2,1324.5" fill="#e2bd4f"/><polygon points="77.5,1294.8 76.0,1293.0 77.5,1291.6 78.9,1292.3 79.4,1293.6 78.9,1294.7" fill="#c99a35"/><polygon points="92.7,1311.3 91.0,1308.7 92.6,1306.7 93.9,1308.5 94.3,1310.5" fill="#c99a35"/><polygon points="117.2,1332.4 118.6,1332.8 119.5,1334.0 118.3,1335.4 117.2,1334.2 116.2,1333.5" fill="#f6e08f"/><polygon points="66.7,1275.5 65.0,1272.8 66.5,1272.3 68.4,1272.7 68.2,1274.7" fill="#eac65a"/><polygon points="111.7,1343.9 110.0,1341.2 111.5,1339.9 113.6,1340.0 114.4,1342.1" fill="#f8e9a8"/><polygon points="98.3,1315.2 97.3,1316.3 95.6,1314.7 96.5,1313.4 98.4,1314.0" fill="#eac65a"/><polygon points="90.7,1316.9 89.6,1314.7 91.6,1313.8 93.0,1315.4 91.8,1316.9" fill="#d4a93c"/><polygon points="81.4,1300.3 79.8,1298.7 82.0,1297.9 82.8,1299.3" fill="#f0d36c"/><polygon points="70.9,1282.2 70.2,1283.1 68.2,1283.7 67.3,1281.4 68.7,1280.3" fill="#f8e9a8"/><polygon points="72.2,1279.0 73.8,1281.6 71.2,1282.6 69.5,1278.7" fill="#f0d36c"/><polygon points="69.0,1278.3 67.2,1278.3 63.4,1272.8 66.1,1273.7" fill="#c99a35"/><polygon points="86.3,1294.0 86.8,1295.5 85.5,1295.1 84.8,1293.8 85.0,1293.5" fill="#eac65a"/><polygon points="113.2,1347.1 118.3,1349.0 120.8,1354.1 116.6,1355.6" fill="#f0d36c"/><polygon points="113.7,1334.5 114.7,1334.3 116.1,1334.9 116.4,1336.6 115.0,1336.2" fill="#d4a93c"/><polygon points="89.6,1307.2 89.3,1309.2 87.6,1310.0 85.4,1309.4 86.1,1307.6 87.4,1306.1" fill="#f0d36c"/><polygon points="106.1,1325.9 104.4,1324.2 107.9,1322.9 109.0,1325.2 109.5,1327.6 108.3,1328.0" fill="#c99a35"/><polygon points="91.3,1306.1 90.5,1305.7 90.9,1304.9 92.2,1305.5" fill="#f6e08f"/><polygon points="117.2,1338.1 113.1,1332.4 116.4,1333.1 119.4,1337.1" fill="#e2bd4f"/><polygon points="108.3,1324.5 109.5,1323.8 112.4,1325.3 111.4,1326.8" fill="#e2bd4f"/><polygon points="68.6,1281.1 66.3,1279.6 66.4,1277.2 68.5,1277.5 69.7,1280.7" fill="#d4a93c"/><polygon points="104.2,1318.6 107.9,1322.2 105.8,1325.4 102.5,1321.6" fill="#d4a93c"/><polygon points="123.1,1345.3 122.3,1347.8 121.0,1348.8 118.3,1346.3 118.4,1342.6 120.7,1343.1" fill="#c99a35"/><polygon points="63.1,1373.6 61.4,1373.2 60.7,1372.3 62.8,1372.4" fill="#d4a93c"/><polygon points="127.1,1414.3 125.6,1413.4 125.0,1412.4 126.9,1413.3" fill="#f6e08f"/><polygon points="125.7,1429.9 124.9,1430.3 123.8,1430.1 123.0,1428.5 124.2,1428.3" fill="#eac65a"/><polygon points="90.0,1407.3 88.9,1405.5 89.6,1403.3 94.9,1404.6 96.5,1407.4 93.8,1409.0" fill="#e2bd4f"/><polygon points="26.1,1345.3 28.0,1348.5 24.1,1348.9 23.8,1345.7" fill="#d4a93c"/><polygon points="28.5,1362.2 25.9,1359.8 27.4,1358.3 32.6,1361.7 30.7,1362.5" fill="#f8e9a8"/><polygon points="-16.8,1337.2 -13.1,1336.0 -12.0,1337.1 -11.8,1340.2 -13.8,1341.9 -16.1,1338.8" fill="#d4a93c"/><polygon points="79.2,1394.3 78.5,1394.4 77.3,1394.0 77.6,1393.1 78.7,1393.3" fill="#f0d36c"/><polygon points="23.4,1349.6 22.8,1351.3 18.6,1348.9 17.6,1347.3 18.7,1345.4 20.2,1345.7" fill="#e2bd4f"/><polygon points="102.8,1408.1 105.9,1408.0 109.8,1412.9 106.9,1413.5 103.2,1411.4" fill="#eac65a"/><polygon points="89.6,1394.8 91.4,1396.6 89.3,1397.6 88.8,1395.8" fill="#f6e08f"/><polygon points="80.6,1389.6 82.4,1391.9 81.4,1392.7 79.3,1391.2" fill="#f0d36c"/><polygon points="58.2,1388.1 58.8,1387.2 61.0,1389.0 61.9,1390.3 60.6,1390.9 57.9,1389.7" fill="#c99a35"/><polygon points="67.5,1398.7 66.5,1398.5 64.4,1396.7 64.1,1395.6 65.5,1395.5 67.4,1397.1" fill="#f8e9a8"/><polygon points="114.7,1422.3 113.8,1422.4 112.5,1421.5 112.3,1420.1 114.1,1420.8 115.4,1421.7" fill="#e2bd4f"/><polygon points="135.7,1424.7 133.2,1426.5 129.8,1423.3 131.1,1421.4" fill="#eac65a"/><polygon points="113.8,1423.6 113.5,1422.3 114.3,1422.4 114.8,1423.3" fill="#f6e08f"/><polygon points="68.7,1385.3 67.4,1385.8 65.3,1384.5 66.5,1383.5 67.6,1383.4 68.6,1383.3" fill="#d4a93c"/><polygon points="86.7,1407.9 84.7,1408.8 82.3,1407.7 83.2,1405.3 84.6,1405.8" fill="#c99a35"/><polygon points="80.6,1386.7 85.4,1391.7 85.4,1393.3 79.9,1391.6 77.4,1388.4 76.6,1385.7" fill="#e2bd4f"/><polygon points="133.2,1431.3 131.4,1430.6 130.7,1428.8 132.5,1428.8 134.4,1430.7" fill="#f8e9a8"/><polygon points="68.7,1364.0 70.3,1364.5 71.0,1366.3 70.0,1366.2 68.4,1365.9 67.9,1364.7" fill="#f6e08f"/><polygon points="17.4,1339.7 18.9,1337.8 20.2,1337.8 22.9,1341.5 20.6,1342.0" fill="#f8e9a8"/><polygon points="129.2,1422.1 127.5,1423.1 125.4,1421.1 126.2,1420.1 128.1,1420.6" fill="#f8e9a8"/><polygon points="54.7,1372.3 54.5,1370.8 55.5,1370.6 56.0,1372.3" fill="#d4a93c"/><polygon points="83.8,1409.2 90.0,1412.7 88.6,1414.9 84.8,1413.1" fill="#eac65a"/><polygon points="112.8,1395.4 116.7,1398.8 113.4,1400.1 109.7,1396.2" fill="#f0d36c"/><polygon points="-1.1,1350.8 2.3,1350.1 3.4,1352.2 1.2,1354.7 -0.8,1352.1" fill="#f0d36c"/><polygon points="106.5,1395.7 108.5,1396.1 108.7,1397.2 109.4,1398.3 107.5,1398.3 106.4,1397.2" fill="#c99a35"/><polygon points="56.2,1372.3 56.8,1371.0 58.6,1369.9 60.1,1371.9 59.4,1373.6 57.3,1374.0" fill="#e2bd4f"/><polygon points="106.8,1400.3 108.7,1402.0 107.6,1404.0 104.2,1403.2 103.7,1401.6" fill="#f8e9a8"/><polygon points="50.6,1356.7 48.0,1356.8 46.5,1354.9 47.3,1351.8 50.9,1352.7" fill="#c99a35"/><polygon points="41.3,1363.8 41.4,1361.3 43.1,1361.6 45.4,1363.9 44.1,1364.8" fill="#c99a35"/><polygon points="82.9,1404.4 80.6,1406.5 78.8,1403.2 80.1,1402.4" fill="#f0d36c"/><polygon points="121.6,1417.9 124.4,1419.5 125.9,1423.9 120.1,1421.4 119.4,1418.5" fill="#f8e9a8"/><polygon points="46.7,1370.7 46.5,1372.3 44.3,1371.2 44.4,1369.4" fill="#c99a35"/><polygon points="6.6,1323.9 9.8,1322.8 10.6,1324.9 9.0,1325.5" fill="#d4a93c"/><polygon points="78.2,1397.3 76.8,1394.1 81.0,1394.0 82.1,1397.3" fill="#f0d36c"/><polygon points="114.1,1430.0 117.6,1430.3 122.5,1434.4 119.3,1436.2 116.1,1435.0" fill="#f6e08f"/><polygon points="111.3,1410.0 112.8,1411.5 112.8,1412.4 110.6,1411.1" fill="#e2bd4f"/><polygon points="44.8,1382.5 48.0,1381.9 48.3,1385.1 46.8,1384.8" fill="#f8e9a8"/><polygon points="120.8,1413.5 121.4,1412.5 122.8,1412.3 124.3,1414.1 124.3,1414.9 123.2,1415.1" fill="#f0d36c"/><polygon points="87.1,1403.6 86.9,1401.3 90.0,1400.8 91.3,1404.4 88.5,1404.9" fill="#e2bd4f"/><polygon points="5.5,1333.3 8.0,1335.7 5.5,1338.4 3.9,1337.5" fill="#f6e08f"/><polygon points="49.8,1365.0 50.2,1366.6 48.8,1366.2 48.6,1365.1" fill="#d4a93c"/><polygon points="43.9,1380.2 45.7,1380.0 46.7,1381.3 46.3,1382.2" fill="#eac65a"/><polygon points="89.2,1408.9 90.4,1406.4 92.7,1408.4 91.6,1410.4" fill="#eac65a"/><polygon points="57.9,1386.4 57.9,1388.1 56.0,1388.8 55.4,1387.2" fill="#d4a93c"/><polygon points="19.1,1342.7 17.3,1342.2 16.7,1340.0 18.6,1341.0" fill="#f6e08f"/><polygon points="58.9,1380.9 62.3,1382.4 62.1,1384.2 59.3,1383.7" fill="#c99a35"/><polygon points="78.1,1393.0 74.4,1392.8 72.4,1389.9 71.9,1388.0 77.0,1387.7 78.2,1390.1" fill="#f0d36c"/><polygon points="129.6,1420.4 126.1,1422.0 123.5,1417.5 126.3,1414.8" fill="#f6e08f"/><polygon points="84.4,1394.6 86.2,1393.8 86.8,1395.6 86.6,1397.2 85.2,1398.0 83.0,1395.9" fill="#f6e08f"/><polygon points="-1.9,1334.4 -3.4,1335.1 -4.4,1333.2 -3.3,1332.0" fill="#f0d36c"/><polygon points="103.0,1391.9 104.9,1395.8 99.5,1394.3 98.2,1391.4" fill="#f8e9a8"/><polygon points="76.3,1379.5 74.0,1380.2 73.2,1377.6 74.0,1376.0 77.1,1377.7" fill="#e2bd4f"/><polygon points="-5.5,1335.3 -5.5,1330.5 -2.9,1330.4 -1.8,1333.1 -3.5,1334.6" fill="#c99a35"/><polygon points="102.5,1408.9 105.6,1409.1 108.8,1410.6 108.5,1412.3 105.0,1412.7 102.9,1411.1" fill="#f8e9a8"/><polygon points="103.7,1406.3 101.0,1406.6 99.4,1404.9 100.8,1403.8" fill="#f0d36c"/><polygon points="100.3,1404.4 100.4,1402.2 104.9,1403.9 106.9,1407.3" fill="#f0d36c"/><polygon points="118.3,1416.5 122.4,1418.4 122.9,1419.4 121.7,1422.0 119.7,1421.0 116.9,1417.9" fill="#e2bd4f"/><polygon points="-9.4,1326.0 -5.6,1325.4 -2.6,1327.8 -2.7,1330.8 -4.8,1331.1 -9.1,1327.3" fill="#eac65a"/><polygon points="50.7,1365.3 50.2,1363.6 51.0,1362.9 53.8,1364.5 54.2,1366.0 53.2,1367.0" fill="#d4a93c"/><polygon points="105.3,1409.7 106.7,1409.8 107.0,1411.2 106.4,1411.4 105.5,1411.4 105.1,1410.0" fill="#f6e08f"/><polygon points="22.8,1364.9 21.9,1366.3 20.3,1365.0 19.9,1363.6 21.2,1363.4" fill="#c99a35"/><polygon points="3.7,1347.7 6.2,1349.2 7.2,1351.7 4.7,1351.9 3.1,1349.8" fill="#eac65a"/><polygon points="98.6,1411.7 100.1,1409.7 101.7,1408.8 105.0,1412.0 102.6,1412.8 99.3,1412.6" fill="#f8e9a8"/><polygon points="21.8,1348.8 25.4,1351.4 25.2,1354.2 22.3,1353.1 20.4,1350.3" fill="#e2bd4f"/><polygon points="124.3,1424.8 125.6,1423.5 129.6,1425.7 131.0,1428.5 129.5,1429.4 124.6,1426.3" fill="#f8e9a8"/><polygon points="47.9,1360.4 48.1,1361.4 47.1,1361.8 45.7,1360.7 44.7,1359.4 46.7,1359.4" fill="#f6e08f"/><polygon points="-2.9,1325.1 -4.8,1322.8 -3.4,1321.8 -1.6,1322.2 1.7,1325.3 -0.4,1326.6" fill="#e2bd4f"/><polygon points="59.3,1381.8 61.2,1384.9 61.8,1387.5 59.0,1387.7 55.0,1383.8 55.8,1382.1" fill="#c99a35"/><polygon points="95.4,1396.0 93.9,1394.0 95.0,1393.5 97.8,1394.1 97.8,1394.9 96.2,1396.8" fill="#d4a93c"/><polygon points="86.7,1394.1 84.2,1393.7 82.5,1391.9 83.8,1391.4 84.4,1391.5 85.9,1392.9" fill="#e2bd4f"/><polygon points="43.0,1366.7 39.9,1364.2 40.8,1362.8 44.6,1363.9 45.5,1367.4" fill="#c99a35"/><polygon points="96.8,1399.3 99.5,1400.8 98.7,1402.2 95.7,1400.7" fill="#f0d36c"/><polygon points="63.2,1373.6 65.5,1374.3 66.4,1375.9 66.1,1377.4 64.1,1376.1" fill="#d4a93c"/><polygon points="39.5,1363.3 40.5,1363.7 40.1,1364.2 39.1,1363.8" fill="#eac65a"/><polygon points="70.1,1399.6 67.9,1398.3 66.1,1396.7 67.3,1396.1 69.1,1395.8 71.4,1398.9" fill="#d4a93c"/><polygon points="77.7,1388.7 80.5,1390.2 81.8,1392.6 79.6,1393.4 77.1,1393.3 77.0,1391.1" fill="#f6e08f"/><polygon points="115.9,1415.4 113.8,1414.8 113.6,1413.7 114.9,1413.8" fill="#d4a93c"/><polygon points="86.3,1397.1 85.2,1396.3 85.6,1395.8 86.7,1396.4" fill="#d4a93c"/><polygon points="64.9,1379.5 65.5,1380.4 64.8,1381.1 63.7,1380.5" fill="#f8e9a8"/><polygon points="66.4,1384.5 65.7,1383.5 64.5,1382.0 65.0,1381.1 66.5,1382.0 68.0,1383.9" fill="#e2bd4f"/><polygon points="2.4,1365.0 6.4,1367.7 3.9,1369.0 2.0,1367.3" fill="#e2bd4f"/><polygon points="27.7,1341.1 30.0,1342.6 28.3,1344.7 26.0,1342.8" fill="#d4a93c"/><polygon points="120.3,1421.2 122.5,1422.9 122.2,1424.4 121.0,1425.3 118.6,1423.4 119.2,1422.5" fill="#f8e9a8"/><polygon points="16.9,1339.7 18.3,1339.0 19.0,1339.6 18.6,1340.6 17.6,1340.6" fill="#d4a93c"/><polygon points="111.7,1410.9 110.5,1409.1 112.3,1408.6 115.1,1409.6 116.9,1412.6 114.5,1412.4" fill="#f6e08f"/><polygon points="51.3,1369.9 44.6,1369.1 44.6,1365.9 47.2,1365.7" fill="#f8e9a8"/><polygon points="1.6,1350.6 4.1,1350.6 4.3,1353.7 1.8,1352.7" fill="#eac65a"/><polygon points="35.8,1355.1 35.8,1355.9 33.6,1354.9 33.1,1353.7 35.2,1354.2" fill="#f8e9a8"/><polygon points="44.9,1367.5 41.5,1366.5 40.9,1364.6 43.4,1363.3 45.2,1365.5" fill="#d4a93c"/><polygon points="92.6,1404.5 94.4,1406.4 92.2,1406.2 90.5,1404.8 90.8,1404.0" fill="#d4a93c"/><polygon points="-1.7,1330.6 -0.6,1329.7 2.0,1331.5 0.7,1333.4" fill="#e2bd4f"/><polygon points="9.1,1350.8 8.3,1350.0 9.9,1349.8 10.4,1349.8 11.2,1351.2 9.7,1351.7" fill="#d4a93c"/><polygon points="16.0,1334.8 15.7,1336.9 13.0,1336.5 12.1,1335.8 11.2,1333.4 15.0,1333.9" fill="#f8e9a8"/><polygon points="131.2,1435.7 128.8,1435.9 127.4,1433.2 130.1,1432.5 132.1,1432.8 132.8,1435.2" fill="#e2bd4f"/><polygon points="99.4,1403.7 98.0,1403.0 98.0,1402.2 98.7,1401.5 101.1,1403.8" fill="#d4a93c"/><polygon points="116.2,1411.4 114.9,1410.8 113.9,1409.8 114.5,1409.2 114.9,1409.3 116.2,1410.6" fill="#f6e08f"/><polygon points="-3.4,1340.2 -2.5,1339.2 -0.6,1339.5 -0.5,1340.8 -2.1,1341.3" fill="#c99a35"/><polygon points="90.8,1387.7 90.0,1389.9 87.4,1389.1 86.5,1388.3 87.7,1385.9" fill="#e2bd4f"/><polygon points="13.4,1347.0 11.8,1345.6 12.9,1345.5 14.1,1346.2" fill="#d4a93c"/><polygon points="53.9,1355.6 55.9,1355.3 57.3,1357.4 57.2,1359.1 54.3,1357.8" fill="#e2bd4f"/><polygon points="79.9,1386.6 80.1,1385.3 81.3,1386.1 81.2,1386.8" fill="#c99a35"/><polygon points="70.7,1388.7 70.9,1387.3 73.6,1388.0 74.3,1390.0 72.3,1390.5" fill="#e2bd4f"/><polygon points="11.7,1344.5 8.5,1342.5 8.5,1341.3 10.6,1340.8 11.7,1342.3" fill="#f6e08f"/><polygon points="40.7,1358.1 41.4,1359.5 40.0,1360.2 39.5,1358.9" fill="#eac65a"/><polygon points="73.2,1394.7 74.8,1397.0 75.6,1400.7 70.2,1399.5 67.1,1394.1" fill="#c99a35"/><polygon points="0.9,1330.6 -1.9,1329.5 -0.5,1327.6 1.1,1328.8" fill="#eac65a"/><polygon points="61.3,1355.0 63.3,1355.1 64.1,1357.5 61.8,1357.9" fill="#eac65a"/><polygon points="57.6,1387.1 55.4,1386.1 54.7,1385.1 55.4,1384.3 56.9,1384.5 57.8,1386.4" fill="#f6e08f"/><polygon points="33.5,1355.5 32.6,1355.4 31.6,1354.3 31.9,1353.6 34.2,1354.2 34.7,1355.0" fill="#e2bd4f"/><polygon points="100.9,1411.5 98.4,1410.8 98.2,1409.4 98.4,1409.1 99.6,1409.5 101.9,1411.7" fill="#e2bd4f"/><polygon points="97.9,1401.4 95.9,1402.7 93.3,1399.0 96.1,1398.0 98.8,1400.1" fill="#c99a35"/><polygon points="47.5,1366.1 44.2,1365.1 45.8,1363.1 47.7,1364.2" fill="#d4a93c"/><polygon points="121.1,1410.5 123.5,1412.0 124.9,1413.9 124.0,1415.3 120.5,1414.1 120.4,1412.4" fill="#e2bd4f"/><polygon points="111.4,1410.4 108.9,1410.8 102.9,1407.0 105.0,1404.7" fill="#f6e08f"/><polygon points="102.3,1416.3 102.5,1415.0 103.6,1415.0 104.4,1416.4" fill="#f8e9a8"/><polygon points="115.2,1410.8 115.1,1409.4 118.1,1409.7 118.1,1411.0 117.4,1412.1" fill="#f0d36c"/><polygon points="129.2,1440.1 123.4,1439.2 121.9,1435.9 123.8,1434.3 127.9,1435.7" fill="#f8e9a8"/><polygon points="117.1,1416.7 114.6,1417.6 112.6,1417.3 109.1,1413.9 110.8,1412.7 113.9,1414.2" fill="#f6e08f"/><polygon points="98.1,1395.9 98.2,1397.4 96.8,1397.2 96.0,1395.7" fill="#f6e08f"/><polygon points="74.8,1380.3 75.2,1383.5 72.3,1385.1 70.6,1383.4 69.4,1379.4" fill="#f6e08f"/><polygon points="20.9,1356.6 23.3,1358.6 22.7,1360.3 18.9,1357.8" fill="#c99a35"/><polygon points="103.0,1416.5 101.2,1416.7 100.3,1415.9 99.5,1414.9 100.4,1414.4 102.3,1415.6" fill="#f6e08f"/><polygon points="-1.9,1324.4 -3.3,1326.4 -5.4,1326.8 -7.5,1323.5 -4.8,1321.6" fill="#f8e9a8"/><polygon points="49.8,1366.6 52.2,1364.6 55.7,1367.7 54.2,1369.5" fill="#d4a93c"/><polygon points="7.9,1340.2 5.1,1339.2 5.9,1338.2 7.0,1337.5 8.8,1339.9" fill="#eac65a"/><polygon points="61.8,1380.6 58.1,1378.7 57.1,1375.9 59.9,1376.3 63.8,1379.3" fill="#c99a35"/><polygon points="16.0,1346.7 16.3,1348.3 15.0,1348.2 12.6,1347.3 12.9,1344.8" fill="#f0d36c"/><polygon points="78.6,1404.0 77.8,1403.1 78.9,1402.6 80.1,1404.2" fill="#c99a35"/><polygon points="85.2,1388.1 87.3,1386.4 90.1,1389.9 88.3,1392.4 85.9,1391.6" fill="#c99a35"/><polygon points="12.3,1330.7 11.2,1332.0 6.8,1329.6 9.5,1326.6" fill="#f8e9a8"/><polygon points="83.4,1397.4 82.3,1398.8 79.6,1396.8 78.2,1393.1 80.2,1392.2 83.1,1393.5" fill="#d4a93c"/><polygon points="119.5,1400.9 119.6,1399.8 120.3,1399.8 121.5,1400.8 121.6,1401.2 120.6,1402.1" fill="#f0d36c"/><polygon points="118.6,1417.5 115.9,1416.1 114.5,1412.8 116.7,1414.2 118.6,1415.7" fill="#c99a35"/><polygon points="24.9,1374.0 23.4,1373.3 24.5,1372.7 25.6,1373.6" fill="#e2bd4f"/><polygon points="50.5,1384.3 48.5,1383.7 47.5,1382.2 49.4,1381.9 51.2,1383.7" fill="#f6e08f"/><polygon points="33.1,1361.1 31.9,1359.4 33.6,1359.5 34.3,1361.4" fill="#c99a35"/><polygon points="54.6,1368.2 59.0,1369.9 59.5,1372.7 54.7,1373.0 50.7,1368.6" fill="#f6e08f"/><polygon points="-10.8,1332.0 -10.8,1333.0 -12.1,1332.8 -12.1,1332.2 -11.3,1331.6" fill="#d4a93c"/><polygon points="37.7,1349.7 35.2,1347.6 37.2,1345.4 41.1,1350.0" fill="#e2bd4f"/><polygon points="27.6,1352.4 28.1,1353.3 28.1,1353.6 26.0,1353.1 25.4,1351.6 26.2,1351.8" fill="#d4a93c"/><polygon points="45.2,1382.9 46.8,1383.4 47.3,1384.0 46.9,1384.8 45.7,1384.6 44.7,1383.6" fill="#d4a93c"/><polygon points="35.7,1359.3 40.7,1361.2 41.7,1363.5 37.4,1365.8 34.7,1364.2" fill="#eac65a"/><polygon points="40.8,1364.7 43.0,1367.4 40.8,1369.1 37.6,1367.2 37.4,1364.9" fill="#c99a35"/><polygon points="-1.1,1330.6 -1.1,1331.4 -1.7,1331.5 -2.7,1330.4 -2.1,1329.7" fill="#f0d36c"/><polygon points="12.4,1355.7 8.2,1353.5 9.0,1350.7 14.1,1353.9" fill="#f8e9a8"/><polygon points="35.2,1350.3 38.5,1350.3 41.8,1353.6 40.5,1356.3 37.1,1354.9 34.2,1352.8" fill="#e2bd4f"/><polygon points="44.5,1375.5 44.8,1373.4 45.9,1373.4 46.7,1375.1 45.2,1375.8" fill="#f8e9a8"/><polygon points="76.1,1398.6 75.1,1401.1 71.8,1400.6 73.0,1398.0" fill="#f8e9a8"/><polygon points="50.0,1362.0 55.1,1365.7 54.6,1366.8 52.7,1366.5 48.7,1364.0 49.1,1362.3" fill="#f6e08f"/><polygon points="62.6,1371.9 64.7,1371.6 67.5,1373.1 66.0,1376.3 63.3,1375.2 61.5,1372.6" fill="#c99a35"/><polygon points="28.2,1351.8 28.5,1349.3 31.9,1350.4 33.2,1354.5" fill="#eac65a"/><polygon points="112.4,1419.2 113.5,1417.1 115.0,1418.6 115.4,1419.8 113.7,1420.7 113.0,1420.0" fill="#d4a93c"/><polygon points="59.0,1371.5 59.7,1372.3 60.2,1372.9 58.8,1372.8 58.5,1372.0" fill="#f0d36c"/><polygon points="68.5,1376.5 67.6,1377.8 63.9,1376.2 62.2,1373.0 62.2,1371.3 68.8,1374.2" fill="#f0d36c"/><polygon points="113.1,1418.0 116.2,1419.0 115.6,1421.4 113.4,1421.6 110.7,1420.0 110.6,1418.2" fill="#c99a35"/><polygon points="15.7,1348.2 10.6,1344.5 11.6,1341.6 13.9,1339.9 19.4,1344.6 20.2,1348.2" fill="#e2bd4f"/><polygon points="3.1,1331.1 -0.8,1329.0 -2.3,1327.1 -1.7,1325.7 2.3,1328.4" fill="#f6e08f"/><polygon points="46.8,1367.2 45.8,1366.2 45.2,1363.8 47.0,1364.3 48.8,1365.6 48.8,1368.0" fill="#f6e08f"/><polygon points="17.6,1364.9 20.8,1367.5 16.0,1368.3 13.5,1364.8" fill="#c99a35"/><polygon points="77.7,1391.5 78.3,1391.9 79.1,1392.6 78.6,1393.0 77.9,1393.2 77.7,1392.4" fill="#e2bd4f"/><polygon points="69.7,1383.0 70.6,1384.2 68.3,1383.7 67.7,1382.9 68.6,1382.1" fill="#d4a93c"/><polygon points="48.8,1369.0 49.0,1367.4 49.5,1367.1 50.7,1368.2 50.5,1369.6" fill="#f6e08f"/><polygon points="119.6,1416.0 117.5,1415.7 115.9,1413.1 117.4,1411.8 121.1,1413.5" fill="#f8e9a8"/><polygon points="-13.7,1333.4 -12.3,1333.1 -11.3,1333.9 -12.5,1335.4 -13.6,1335.3" fill="#eac65a"/><polygon points="7.5,1344.9 9.9,1348.1 8.8,1348.7 6.8,1347.3" fill="#f0d36c"/><polygon points="51.2,1375.4 51.9,1374.7 53.9,1376.5 54.5,1377.8 52.1,1377.1" fill="#eac65a"/><polygon points="8.4,1343.4 9.2,1344.4 8.8,1345.4 7.5,1345.3 6.6,1344.7 7.7,1343.7" fill="#d4a93c"/><polygon points="103.2,1400.8 103.1,1400.1 104.3,1400.2 104.1,1401.6" fill="#d4a93c"/><polygon points="68.7,1384.9 68.0,1382.6 69.8,1381.9 70.5,1384.9" fill="#e2bd4f"/><polygon points="14.1,1359.9 12.4,1359.8 12.6,1357.9 13.9,1358.2" fill="#f8e9a8"/><polygon points="33.2,1348.7 31.6,1345.3 33.3,1344.5 35.4,1345.9 35.7,1347.9" fill="#eac65a"/><polygon points="126.1,1420.9 126.9,1425.6 121.0,1423.0 122.1,1419.4" fill="#f0d36c"/><polygon points="127.1,1415.0 130.3,1415.2 132.2,1417.7 132.4,1420.3 128.8,1420.6 125.0,1416.4" fill="#c99a35"/><polygon points="21.7,1365.3 18.6,1362.1 21.7,1362.2 25.9,1365.2" fill="#e2bd4f"/><polygon points="121.8,1414.2 124.6,1416.3 122.7,1417.9 119.5,1415.2" fill="#e2bd4f"/><polygon points="67.2,1379.8 66.5,1380.9 65.3,1379.9 66.3,1378.9" fill="#f8e9a8"/><polygon points="107.1,1417.6 104.6,1416.5 104.7,1415.0 106.1,1415.1 107.8,1416.5" fill="#eac65a"/><polygon points="16.4,1345.5 16.8,1343.4 17.9,1342.9 19.4,1343.7 20.1,1345.3 19.0,1346.2" fill="#c99a35"/><polygon points="93.7,1424.7 91.4,1421.9 92.7,1419.5 95.9,1422.3" fill="#f0d36c"/><polygon points="127.1,1420.1 126.6,1421.3 125.4,1421.5 124.4,1419.8 125.3,1418.7 126.7,1419.7" fill="#e2bd4f"/><polygon points="117.2,1427.0 117.4,1430.4 114.7,1431.2 110.6,1428.1 108.9,1424.4" fill="#e2bd4f"/><polygon points="109.8,1407.3 108.9,1405.3 109.4,1403.0 111.7,1403.6 113.1,1405.2 112.8,1407.4" fill="#f8e9a8"/><polygon points="51.4,1363.0 48.8,1361.1 50.2,1360.4 52.7,1361.6" fill="#f6e08f"/><polygon points="85.9,1396.9 89.5,1400.0 87.3,1401.6 85.5,1401.1 83.5,1397.4" fill="#eac65a"/><polygon points="28.3,1354.6 30.6,1355.3 31.0,1356.8 29.7,1357.3" fill="#f0d36c"/><polygon points="131.5,1411.0 128.8,1410.3 128.8,1409.0 131.2,1409.3" fill="#e2bd4f"/><polygon points="120.0,1418.0 121.6,1416.8 123.8,1417.4 123.7,1419.5" fill="#f6e08f"/><polygon points="24.3,1374.2 23.7,1374.2 22.4,1373.0 23.8,1372.3 25.2,1373.0 25.9,1373.8" fill="#eac65a"/><polygon points="87.2,1403.0 85.1,1400.2 88.5,1399.9 89.0,1402.9" fill="#f0d36c"/><polygon points="13.4,1354.6 13.5,1353.5 13.6,1352.8 15.0,1353.1 15.6,1354.5 14.9,1355.4" fill="#c99a35"/><polygon points="60.0,1376.4 61.3,1377.7 60.9,1378.8 58.9,1377.5" fill="#c99a35"/><polygon points="23.7,1349.4 25.4,1350.9 23.7,1351.6 22.2,1349.5" fill="#eac65a"/><polygon points="56.9,1383.7 59.2,1387.9 55.7,1387.9 54.1,1387.2 52.0,1383.0" fill="#eac65a"/><polygon points="22.3,1367.9 25.7,1369.9 24.9,1372.2 21.4,1370.6" fill="#c99a35"/><polygon points="67.1,1381.3 68.1,1381.8 66.7,1383.4 65.7,1382.1" fill="#eac65a"/><polygon points="102.1,1410.6 98.2,1409.9 97.4,1407.7 100.2,1406.0 101.5,1405.8 103.1,1409.9" fill="#f6e08f"/><polygon points="41.4,1358.3 37.6,1355.9 36.9,1353.9 39.0,1352.8 41.6,1354.5 42.9,1357.9" fill="#d4a93c"/><polygon points="121.3,1422.2 121.7,1420.9 124.9,1421.7 126.1,1422.7 125.0,1424.1 123.3,1423.4" fill="#d4a93c"/><polygon points="111.9,1413.5 113.1,1415.4 113.8,1417.1 110.5,1416.4 110.2,1415.6 109.7,1413.8" fill="#c99a35"/><polygon points="51.7,1372.8 48.8,1370.6 48.7,1369.3 49.9,1367.5 52.0,1367.2 54.0,1369.5" fill="#f8e9a8"/><polygon points="111.1,1427.6 107.8,1424.1 111.0,1421.8 114.0,1425.0 113.7,1426.9" fill="#e2bd4f"/><polygon points="97.8,1405.7 96.3,1402.4 99.0,1401.0 101.0,1402.1 102.2,1404.5 99.7,1405.7" fill="#c99a35"/><polygon points="45.4,1368.8 48.6,1369.7 51.8,1374.5 48.4,1374.6 45.1,1373.6 43.2,1370.3" fill="#f0d36c"/><polygon points="65.5,1376.2 66.8,1376.3 66.9,1378.0 66.0,1379.1 65.1,1377.4" fill="#d4a93c"/><polygon points="58.7,1394.2 58.6,1392.3 60.3,1393.3 63.0,1396.0 61.0,1396.3" fill="#d4a93c"/><polygon points="-8.6,1330.0 -7.5,1328.7 -5.8,1329.4 -6.4,1331.0" fill="#e2bd4f"/><polygon points="87.7,1389.4 84.5,1389.2 82.9,1388.4 83.4,1385.8 85.2,1385.2 87.4,1388.3" fill="#f8e9a8"/><polygon points="71.1,1378.7 73.8,1380.9 71.3,1382.6 68.3,1379.7" fill="#f8e9a8"/><polygon points="65.4,1374.2 68.8,1376.8 68.9,1379.5 63.8,1375.4" fill="#f0d36c"/><polygon points="124.9,1424.8 123.3,1426.8 121.6,1427.1 115.7,1424.9 114.8,1421.5 117.7,1420.8" fill="#e2bd4f"/><polygon points="127.9,1435.3 127.7,1436.1 126.7,1436.0 126.3,1435.3 126.8,1434.9" fill="#f8e9a8"/><polygon points="4.5,1325.4 5.0,1328.8 2.8,1330.0 0.9,1327.5 0.6,1325.8 2.1,1324.4" fill="#f6e08f"/><polygon points="118.7,1429.9 114.5,1431.1 111.1,1425.8 115.1,1426.2" fill="#e2bd4f"/><polygon points="21.3,1369.5 21.1,1367.8 22.9,1367.7 24.8,1369.8 23.7,1371.9" fill="#e2bd4f"/><polygon points="81.8,1396.4 84.0,1396.2 85.6,1398.2 84.8,1399.3 83.9,1400.2 81.7,1398.8" fill="#f8e9a8"/><polygon points="129.2,1429.3 131.5,1430.4 135.0,1433.2 133.6,1435.5 131.0,1434.1 128.8,1432.1" fill="#eac65a"/><polygon points="38.3,1354.1 40.0,1354.4 41.4,1355.9 39.7,1356.1 38.8,1355.6" fill="#f8e9a8"/><polygon points="91.7,1401.0 92.1,1401.6 90.9,1402.6 88.9,1401.9 88.1,1400.8 88.8,1399.8" fill="#f0d36c"/><polygon points="81.0,1394.5 77.7,1391.4 80.3,1390.8 83.3,1392.7" fill="#f8e9a8"/><polygon points="105.2,1411.7 106.4,1412.1 106.1,1413.2 104.8,1412.3" fill="#c99a35"/><polygon points="93.6,1417.4 95.3,1418.9 95.4,1419.7 93.4,1419.5 93.1,1419.2 92.1,1417.9" fill="#f0d36c"/><polygon points="124.5,1432.8 125.0,1430.0 125.8,1428.9 128.4,1430.5 126.8,1432.8" fill="#f8e9a8"/><polygon points="82.7,1407.2 83.3,1407.0 85.0,1407.7 86.0,1409.8 84.4,1409.5 82.6,1408.8" fill="#f6e08f"/><polygon points="119.3,1428.8 118.8,1427.1 119.7,1427.3 122.1,1428.9 121.6,1430.3 120.7,1429.8" fill="#f0d36c"/><polygon points="125.8,1422.2 126.0,1424.1 122.1,1423.0 123.2,1420.1" fill="#f6e08f"/><polygon points="110.9,1407.4 112.5,1408.2 113.7,1410.0 111.4,1409.6 109.5,1407.8" fill="#f8e9a8"/><polygon points="11.6,1342.8 14.5,1341.4 16.4,1343.3 17.5,1345.5 16.2,1347.0 13.7,1344.9" fill="#e2bd4f"/><polygon points="74.1,1393.6 75.1,1393.1 76.1,1393.8 75.2,1394.6" fill="#e2bd4f"/><polygon points="10.0,1356.0 10.7,1356.0 11.9,1356.7 11.7,1357.1 11.0,1357.2 10.0,1356.5" fill="#c99a35"/><polygon points="-7.9,1338.4 -7.6,1336.5 -5.4,1337.8 -4.7,1339.6 -6.5,1339.5" fill="#c99a35"/><polygon points="4.5,1354.3 7.7,1354.5 10.5,1357.6 8.7,1358.5 5.3,1358.4" fill="#d4a93c"/><polygon points="128.8,1419.7 127.8,1417.9 127.9,1416.1 130.6,1418.7" fill="#f8e9a8"/><polygon points="111.2,1414.4 113.9,1410.6 116.8,1411.5 116.5,1414.8 114.0,1416.7" fill="#c99a35"/><polygon points="33.3,1359.6 30.6,1358.9 30.7,1356.9 32.3,1357.5" fill="#c99a35"/><polygon points="88.6,1400.6 85.0,1399.7 85.5,1395.9 89.1,1398.4" fill="#c99a35"/><polygon points="63.4,1390.1 64.3,1388.2 69.7,1390.1 70.6,1392.1 68.7,1394.4" fill="#f0d36c"/><polygon points="89.3,1392.8 93.4,1392.4 96.1,1396.9 92.5,1396.5" fill="#f6e08f"/><polygon points="4.5,1343.2 3.1,1342.6 4.1,1341.3 4.8,1341.8" fill="#d4a93c"/><polygon points="106.0,1418.6 104.5,1415.4 107.2,1414.1 109.1,1417.6" fill="#e2bd4f"/><polygon points="84.0,1407.5 82.6,1407.7 79.9,1405.3 82.2,1403.9 85.2,1405.1 86.3,1407.6" fill="#e2bd4f"/><polygon points="118.1,1415.2 119.0,1414.4 120.9,1415.2 121.1,1416.9" fill="#f8e9a8"/><polygon points="126.6,1434.2 127.7,1435.1 126.9,1436.5 125.6,1436.4 125.0,1436.0 125.1,1434.8" fill="#d4a93c"/><polygon points="-11.2,1338.3 -11.6,1336.0 -8.8,1336.7 -7.2,1339.6 -9.4,1339.1" fill="#f0d36c"/><polygon points="54.5,1366.2 57.1,1365.6 57.3,1367.7 55.8,1368.2" fill="#f8e9a8"/><polygon points="58.6,1387.6 58.1,1386.3 59.3,1386.1 59.8,1386.3 60.9,1387.4 60.4,1388.4" fill="#f0d36c"/><polygon points="134.7,1418.2 136.7,1421.4 133.7,1422.0 130.4,1420.0 132.5,1418.5" fill="#e2bd4f"/><polygon points="34.0,1386.5 35.1,1385.8 37.7,1388.2 37.6,1390.0 36.2,1389.8 33.8,1388.1" fill="#f8e9a8"/><polygon points="9.1,1342.7 12.7,1341.0 13.9,1344.3 12.0,1347.0" fill="#f0d36c"/><polygon points="113.2,1394.1 116.4,1399.2 111.6,1397.2 109.8,1394.3" fill="#d4a93c"/><polygon points="29.7,1363.7 25.8,1361.4 25.5,1357.7 27.6,1357.2 32.3,1359.2 32.8,1363.1" fill="#e2bd4f"/><polygon points="80.4,1410.0 80.5,1409.3 81.2,1409.2 81.5,1409.2 81.9,1410.2 81.3,1410.4" fill="#eac65a"/><polygon points="60.6,1373.6 56.0,1373.0 53.2,1369.6 59.1,1371.0" fill="#d4a93c"/><polygon points="107.1,1411.9 108.1,1414.9 103.2,1414.9 102.8,1411.1" fill="#f6e08f"/><polygon points="65.2,1389.6 63.6,1386.6 65.0,1385.9 66.9,1384.9 69.2,1386.9 69.0,1389.7" fill="#d4a93c"/><polygon points="64.7,1388.0 65.5,1386.8 67.9,1389.2 66.6,1389.6" fill="#f8e9a8"/><polygon points="118.5,1420.0 121.2,1421.3 121.6,1424.2 118.8,1423.6" fill="#c99a35"/><polygon points="89.0,1384.7 89.7,1385.8 88.8,1386.0 87.8,1385.2 87.4,1384.4 88.2,1384.2" fill="#d4a93c"/><polygon points="128.3,1420.2 130.5,1420.4 133.6,1423.4 130.0,1424.1" fill="#f0d36c"/><polygon points="-0.4,1336.9 0.6,1338.3 0.3,1340.6 -2.9,1338.8 -3.8,1336.9 -2.0,1336.2" fill="#e2bd4f"/><polygon points="90.4,1405.9 87.8,1402.3 91.4,1402.7 93.9,1405.7" fill="#eac65a"/><polygon points="36.1,1369.0 39.2,1371.7 35.8,1371.8 33.2,1368.7" fill="#f8e9a8"/><polygon points="42.4,1362.3 41.0,1363.4 39.4,1361.7 38.1,1359.7 41.0,1359.7 42.0,1360.3" fill="#c99a35"/><polygon points="54.6,1398.7 53.9,1395.7 58.3,1398.1 58.8,1400.0" fill="#f6e08f"/><polygon points="21.0,1338.6 18.3,1338.2 19.4,1336.4 21.4,1336.9" fill="#f0d36c"/><polygon points="31.4,1359.7 30.9,1358.0 32.3,1358.0 33.3,1360.2" fill="#f0d36c"/><polygon points="12.0,1350.6 13.7,1349.7 15.5,1351.3 15.1,1354.2 12.2,1353.9 11.7,1353.3" fill="#e2bd4f"/><polygon points="106.0,1416.2 107.5,1414.5 109.7,1414.7 109.8,1416.0 109.9,1418.0 107.4,1418.0" fill="#f0d36c"/><polygon points="69.3,1391.5 70.8,1394.6 68.0,1394.1 67.2,1392.2" fill="#f6e08f"/><polygon points="60.6,1386.9 60.1,1384.2 63.5,1385.1 65.2,1386.6 63.8,1388.7" fill="#eac65a"/><polygon points="6.2,1324.2 8.3,1325.7 8.6,1327.1 6.6,1327.2 5.5,1325.0" fill="#f8e9a8"/><polygon points="77.8,1383.5 77.8,1385.8 75.7,1385.2 74.4,1384.3 73.1,1381.8 76.0,1382.8" fill="#f8e9a8"/><polygon points="92.3,1414.1 90.6,1413.1 92.1,1411.0 94.7,1411.9 95.3,1414.7" fill="#f8e9a8"/><polygon points="134.3,1427.4 137.6,1429.4 137.4,1431.3 133.0,1430.0 132.0,1427.2" fill="#f8e9a8"/><polygon points="120.8,1423.6 124.4,1425.3 122.5,1428.3 119.5,1426.3" fill="#f8e9a8"/><polygon points="61.2,1369.5 60.5,1366.8 63.0,1368.0 62.6,1368.9" fill="#c99a35"/><polygon points="71.6,1382.8 75.4,1383.6 77.1,1386.5 71.4,1386.3" fill="#f6e08f"/><polygon points="59.2,1380.2 53.9,1376.6 56.1,1375.1 60.7,1375.8 61.5,1378.3" fill="#eac65a"/><polygon points="72.0,1389.1 73.3,1389.7 73.4,1390.4 71.9,1390.2 71.3,1389.1" fill="#f8e9a8"/><polygon points="37.2,1364.9 32.3,1363.6 30.5,1360.1 34.8,1361.2" fill="#e2bd4f"/><polygon points="115.9,1426.8 115.9,1424.8 118.6,1425.7 119.9,1426.7 119.6,1428.4 117.7,1428.3" fill="#f8e9a8"/><polygon points="75.2,1384.3 75.9,1384.2 77.1,1384.7 76.5,1386.5 75.4,1386.6 74.4,1384.8" fill="#eac65a"/><polygon points="27.2,1354.1 27.4,1355.8 25.3,1356.8 22.1,1355.3 20.3,1352.6 24.9,1352.6" fill="#d4a93c"/><polygon points="0.8,1325.0 3.0,1324.8 5.7,1328.5 3.0,1328.6" fill="#d4a93c"/><polygon points="106.8,1432.6 103.6,1427.6 110.0,1428.1 112.2,1431.0 111.1,1434.3" fill="#f8e9a8"/><polygon points="25.5,1350.0 25.1,1347.9 26.0,1347.5 28.8,1350.0 27.0,1350.6" fill="#c99a35"/><polygon points="47.8,1373.3 49.1,1373.4 51.4,1374.5 50.7,1375.5 49.8,1376.0 48.6,1375.2" fill="#e2bd4f"/><polygon points="23.3,1360.9 24.6,1360.7 25.0,1362.5 22.9,1362.1" fill="#f6e08f"/><polygon points="1.4,1326.1 5.9,1327.7 9.0,1330.3 6.6,1333.2 1.8,1329.7" fill="#e2bd4f"/><polygon points="100.8,1412.0 105.5,1413.9 106.3,1416.4 103.0,1416.4" fill="#f0d36c"/><polygon points="88.7,1384.1 90.4,1383.4 92.2,1385.9 90.2,1385.9" fill="#d4a93c"/><polygon points="25.1,1368.7 28.6,1368.7 31.8,1371.8 27.9,1371.2" fill="#eac65a"/><polygon points="99.3,1401.8 100.9,1402.7 101.2,1403.1 101.3,1404.0 100.2,1403.8 99.3,1403.0" fill="#f8e9a8"/><polygon points="96.9,1391.7 95.5,1392.7 94.6,1391.3 95.8,1390.1" fill="#d4a93c"/><polygon points="41.8,1372.8 42.4,1372.9 42.8,1373.6 43.0,1374.2 41.9,1374.4 41.4,1373.4" fill="#eac65a"/><polygon points="79.2,1380.6 82.6,1380.7 84.7,1384.4 83.9,1386.4 80.4,1384.9 77.1,1381.9" fill="#c99a35"/><polygon points="122.0,1405.4 126.1,1407.9 124.7,1410.4 122.1,1408.7" fill="#d4a93c"/><polygon points="74.4,1381.4 78.8,1382.8 77.9,1385.3 74.1,1383.7" fill="#eac65a"/><polygon points="16.1,1338.2 16.2,1336.5 16.9,1334.0 21.9,1336.6 22.7,1340.1 20.0,1340.4" fill="#f0d36c"/><polygon points="104.2,1419.7 105.5,1420.4 105.9,1421.3 105.0,1421.9 103.9,1421.2 104.1,1420.6" fill="#f6e08f"/><polygon points="99.7,1412.3 98.3,1410.7 101.1,1409.7 104.1,1412.6 102.1,1414.1" fill="#f0d36c"/><polygon points="31.0,1352.2 31.0,1356.1 27.4,1353.0 27.8,1350.1" fill="#c99a35"/><polygon points="117.7,1415.8 121.3,1419.0 117.4,1418.8 115.6,1416.3" fill="#d4a93c"/><polygon points="114.3,1412.2 113.7,1414.9 108.9,1411.0 110.4,1409.0" fill="#f8e9a8"/><polygon points="69.4,1399.7 67.5,1400.5 66.4,1398.0 68.1,1398.2" fill="#d4a93c"/><polygon points="88.4,1409.8 86.8,1411.5 81.9,1409.9 78.8,1403.7 80.8,1403.8 85.5,1405.6" fill="#f6e08f"/><polygon points="99.8,1418.6 101.9,1418.0 104.4,1419.5 104.0,1421.8 101.3,1421.4" fill="#f8e9a8"/><polygon points="84.2,1391.1 81.2,1392.4 79.9,1389.2 82.5,1389.0" fill="#eac65a"/><polygon points="52.8,1385.5 55.0,1386.3 59.3,1389.3 59.6,1392.6 53.6,1390.2 50.7,1388.6" fill="#f6e08f"/><polygon points="66.9,1376.7 62.9,1373.7 65.1,1372.5 66.4,1373.1 67.3,1375.4" fill="#eac65a"/><polygon points="8.7,1332.6 9.8,1333.5 9.3,1335.3 6.7,1333.6 5.3,1332.4 7.1,1331.8" fill="#d4a93c"/><polygon points="-1.7,1321.2 -3.9,1320.4 -2.7,1319.3 -1.6,1319.5" fill="#f0d36c"/><polygon points="30.8,1357.0 30.0,1358.4 27.5,1358.7 25.8,1358.4 26.5,1354.6 29.0,1355.4" fill="#eac65a"/><polygon points="-6.4,1331.9 -5.0,1330.9 -2.4,1332.1 -2.7,1335.4 -4.6,1335.9 -6.5,1334.7" fill="#f6e08f"/><polygon points="59.2,1365.9 58.4,1366.6 57.0,1365.7 58.2,1364.4" fill="#f6e08f"/><polygon points="45.7,1367.0 47.0,1368.7 46.5,1369.4 43.8,1368.5 42.1,1367.4 42.2,1365.9" fill="#f0d36c"/><polygon points="3.6,1333.5 3.3,1332.0 5.0,1332.4 6.9,1334.1 5.6,1334.8" fill="#c99a35"/><polygon points="-0.9,1332.7 -1.6,1333.5 -3.1,1332.4 -2.8,1331.2 -1.9,1331.5 -0.4,1332.3" fill="#f6e08f"/><polygon points="63.8,1376.2 60.1,1374.9 57.6,1371.4 60.7,1369.8 65.8,1372.9 65.5,1375.8" fill="#c99a35"/><polygon points="9.0,1339.1 8.0,1338.3 8.3,1337.7 9.7,1338.4 10.6,1339.2 10.1,1339.9" fill="#f8e9a8"/><polygon points="132.5,1406.9 133.6,1408.3 131.5,1408.5 130.9,1407.1" fill="#e2bd4f"/><polygon points="44.6,1370.0 43.2,1366.7 47.2,1367.4 51.9,1370.4 49.2,1372.2 47.2,1372.5" fill="#e2bd4f"/><polygon points="49.0,1375.7 48.5,1377.2 47.9,1377.9 46.3,1377.1 46.5,1375.1 47.7,1374.6" fill="#d4a93c"/><polygon points="3.5,1333.3 5.4,1334.8 5.2,1335.9 3.5,1335.6 2.4,1334.2" fill="#d4a93c"/><polygon points="135.5,1413.4 139.0,1415.1 138.9,1418.4 134.6,1415.4" fill="#f6e08f"/><polygon points="124.0,1430.7 124.8,1429.6 127.3,1429.5 127.6,1431.8 127.8,1433.1 125.0,1431.6" fill="#f0d36c"/><polygon points="16.1,1356.9 18.7,1359.5 17.6,1360.1 15.7,1359.2 14.0,1357.1 15.6,1356.9" fill="#f0d36c"/><polygon points="831.9,1377.7 835.2,1378.0 835.7,1381.4 832.5,1381.2" fill="#eac65a"/><polygon points="1061.8,1356.8 1061.9,1357.4 1061.2,1357.8 1060.6,1357.3 1060.5,1356.8" fill="#c99a35"/><polygon points="1029.6,1358.4 1031.5,1358.6 1032.9,1360.6 1030.5,1361.3 1028.9,1360.0" fill="#f0d36c"/><polygon points="1001.9,1370.2 1001.1,1369.4 1002.1,1368.1 1003.0,1368.3 1003.7,1369.7" fill="#e2bd4f"/><polygon points="1137.4,1379.1 1138.6,1380.4 1137.1,1380.5 1135.8,1380.2 1135.8,1379.5 1136.8,1378.9" fill="#eac65a"/><polygon points="981.1,1364.2 986.2,1363.3 989.1,1365.6 984.5,1366.8" fill="#e2bd4f"/><polygon points="941.5,1354.7 943.5,1355.8 940.0,1358.0 936.4,1357.0 937.5,1354.6" fill="#e2bd4f"/><polygon points="683.0,1431.2 683.4,1430.0 686.1,1429.7 685.7,1431.1 683.7,1432.8" fill="#f0d36c"/><polygon points="831.8,1378.8 832.1,1377.8 833.1,1376.7 834.6,1378.0 833.8,1379.3" fill="#f6e08f"/><polygon points="880.5,1370.5 880.6,1371.7 879.0,1372.1 878.7,1371.3 879.4,1370.1" fill="#c99a35"/><polygon points="1333.3,1438.6 1332.7,1437.8 1335.1,1438.1 1335.3,1439.0" fill="#d4a93c"/><polygon points="838.6,1383.9 842.0,1385.5 839.6,1388.1 833.9,1387.0" fill="#e2bd4f"/><polygon points="1062.3,1382.2 1060.9,1381.5 1062.5,1380.3 1065.8,1380.8 1064.3,1382.7" fill="#f6e08f"/><polygon points="774.0,1394.8 776.3,1393.3 777.2,1396.2 775.3,1398.6 774.2,1398.1 771.9,1397.1" fill="#f0d36c"/><polygon points="1306.2,1427.3 1306.8,1426.2 1308.4,1426.5 1308.8,1427.2 1307.5,1428.0" fill="#f0d36c"/><polygon points="745.4,1410.9 743.2,1412.7 738.2,1412.3 739.1,1411.1 744.7,1409.1" fill="#d4a93c"/><polygon points="1224.4,1398.3 1222.5,1397.4 1223.6,1395.2 1225.3,1396.0 1225.9,1397.9" fill="#f0d36c"/><polygon points="1277.3,1413.7 1277.5,1411.5 1280.4,1411.7 1281.0,1414.3" fill="#f0d36c"/><polygon points="1142.8,1374.7 1144.5,1375.6 1144.0,1377.6 1143.4,1378.4 1141.4,1376.9 1141.6,1375.7" fill="#f0d36c"/><polygon points="1112.6,1370.8 1115.6,1372.4 1112.4,1373.7 1110.9,1371.8" fill="#d4a93c"/><polygon points="810.8,1395.7 808.3,1395.8 808.1,1395.6 808.3,1394.6 810.5,1394.1 812.4,1394.2" fill="#e2bd4f"/><polygon points="716.5,1429.1 719.8,1428.9 720.6,1429.9 716.5,1431.6" fill="#f8e9a8"/><polygon points="1157.0,1394.1 1155.9,1392.7 1156.8,1392.1 1158.1,1392.4 1158.7,1394.0" fill="#d4a93c"/><polygon points="772.2,1412.1 769.5,1411.3 769.6,1409.1 771.8,1408.2 773.7,1409.3 773.4,1411.6" fill="#e2bd4f"/><polygon points="1172.1,1387.4 1173.5,1388.0 1172.8,1388.6 1171.7,1388.0" fill="#f0d36c"/><polygon points="1153.0,1375.4 1153.2,1374.9 1154.6,1374.3 1156.7,1375.7 1155.9,1376.5 1153.8,1376.8" fill="#e2bd4f"/><polygon points="1028.0,1354.2 1025.2,1355.7 1023.1,1355.7 1021.8,1354.1 1022.9,1352.2 1025.8,1352.9" fill="#f6e08f"/><polygon points="713.6,1435.1 714.4,1435.6 713.1,1437.1 711.6,1437.7 710.3,1436.9 711.7,1435.6" fill="#e2bd4f"/><polygon points="955.6,1366.1 951.4,1366.7 949.5,1365.4 950.9,1364.8 953.8,1364.1 954.2,1364.9" fill="#f6e08f"/><polygon points="1125.5,1364.8 1127.0,1363.4 1128.0,1365.4 1126.5,1366.9" fill="#e2bd4f"/><polygon points="786.4,1401.1 788.7,1400.9 788.3,1402.7 786.2,1402.9" fill="#c99a35"/><polygon points="1278.4,1410.4 1281.8,1412.4 1283.0,1414.3 1280.3,1414.3 1276.5,1413.1" fill="#f8e9a8"/><polygon points="1123.6,1378.6 1124.6,1377.6 1126.3,1378.8 1126.1,1379.9 1123.7,1380.4" fill="#d4a93c"/><polygon points="687.6,1423.6 692.3,1421.0 693.1,1423.6 691.1,1426.3" fill="#e2bd4f"/><polygon points="1124.0,1374.6 1120.4,1376.8 1112.7,1374.1 1116.3,1372.1 1121.1,1372.6" fill="#e2bd4f"/><polygon points="963.9,1373.1 961.4,1370.5 965.0,1369.0 967.9,1369.9 968.3,1370.9 967.4,1372.8" fill="#d4a93c"/><polygon points="1154.9,1373.2 1158.5,1373.0 1158.2,1374.8 1156.1,1375.2" fill="#f0d36c"/><polygon points="1084.2,1356.6 1084.9,1356.3 1086.1,1358.5 1084.5,1359.3 1083.2,1358.4 1083.2,1357.1" fill="#f0d36c"/><polygon points="776.5,1388.2 777.3,1389.5 776.7,1390.3 773.7,1389.9 775.1,1388.1" fill="#e2bd4f"/><polygon points="700.4,1446.3 701.5,1448.0 698.1,1449.2 696.9,1447.3 697.7,1445.0" fill="#f8e9a8"/><polygon points="944.2,1362.6 943.7,1361.6 944.6,1361.3 945.2,1362.3" fill="#f6e08f"/><polygon points="1114.3,1375.9 1114.2,1373.9 1115.9,1374.2 1116.0,1376.2" fill="#f8e9a8"/><polygon points="1132.7,1382.8 1135.4,1384.7 1134.4,1385.6 1131.8,1385.3 1131.0,1383.9" fill="#eac65a"/><polygon points="920.7,1369.2 921.5,1370.7 920.4,1372.2 919.0,1371.5 917.7,1370.8 919.5,1368.7" fill="#f8e9a8"/><polygon points="839.3,1386.2 837.6,1387.5 836.3,1387.0 836.8,1386.0" fill="#f6e08f"/><polygon points="896.2,1379.2 893.0,1380.5 890.9,1380.6 892.7,1378.3" fill="#eac65a"/><polygon points="1311.1,1427.4 1313.5,1427.5 1314.3,1428.8 1313.6,1429.8 1312.4,1429.5" fill="#c99a35"/><polygon points="724.6,1418.4 726.1,1418.5 725.8,1419.4 725.0,1419.7 724.4,1419.3" fill="#eac65a"/><polygon points="1023.5,1370.0 1024.4,1371.8 1022.8,1372.0 1020.7,1372.1 1019.3,1370.2 1021.9,1369.9" fill="#f8e9a8"/><polygon points="1289.7,1417.2 1290.3,1416.1 1291.5,1416.3 1293.4,1417.0 1292.4,1417.6 1289.9,1418.1" fill="#c99a35"/><polygon points="754.1,1411.6 753.1,1408.3 756.1,1407.0 759.8,1408.1 758.8,1409.2 755.9,1411.5" fill="#c99a35"/><polygon points="699.3,1431.9 697.5,1431.7 699.0,1430.1 700.4,1430.2" fill="#c99a35"/><polygon points="801.3,1401.4 804.1,1400.5 806.1,1402.8 803.2,1404.9 801.7,1403.7" fill="#c99a35"/><polygon points="697.5,1426.5 699.0,1427.9 697.3,1429.0 695.1,1428.5 695.5,1426.9" fill="#f8e9a8"/><polygon points="1080.7,1372.3 1081.5,1374.5 1078.2,1375.9 1075.1,1376.1 1074.5,1372.8" fill="#f0d36c"/><polygon points="828.6,1390.9 831.7,1388.4 834.7,1391.9 829.0,1393.5" fill="#f6e08f"/><polygon points="769.7,1391.1 769.7,1390.6 771.9,1390.1 772.9,1390.4 772.2,1391.6 770.7,1392.0" fill="#eac65a"/><polygon points="1135.5,1370.4 1137.3,1371.2 1136.4,1372.8 1134.0,1371.7" fill="#d4a93c"/><polygon points="913.4,1364.6 913.2,1368.6 908.5,1368.9 910.2,1365.5" fill="#e2bd4f"/><polygon points="1002.7,1373.8 1001.4,1372.3 1002.9,1370.9 1004.8,1372.0" fill="#f6e08f"/><polygon points="1074.0,1377.3 1075.1,1380.4 1071.9,1380.5 1070.5,1377.7" fill="#f0d36c"/><polygon points="830.3,1388.0 830.6,1387.0 833.0,1386.2 833.6,1387.3 832.5,1388.5 830.6,1389.1" fill="#f8e9a8"/><polygon points="695.1,1442.1 693.6,1442.5 692.9,1442.2 693.8,1441.2 695.3,1440.8" fill="#d4a93c"/><polygon points="895.7,1376.9 890.0,1377.5 888.9,1374.9 889.7,1373.1 895.5,1373.4 898.8,1374.9" fill="#f8e9a8"/><polygon points="760.1,1425.6 761.5,1424.3 764.2,1423.6 763.8,1425.5" fill="#e2bd4f"/><polygon points="825.2,1386.3 825.6,1385.4 826.2,1385.1 827.4,1385.4 826.8,1386.6 825.4,1386.8" fill="#f8e9a8"/><polygon points="690.4,1431.0 690.3,1429.5 692.1,1428.5 694.7,1428.7 694.2,1430.7 691.9,1431.8" fill="#f8e9a8"/><polygon points="765.4,1404.3 764.5,1406.1 762.7,1405.9 761.2,1405.0 764.1,1404.0" fill="#e2bd4f"/><polygon points="913.5,1364.6 911.8,1365.9 910.0,1364.8 912.6,1363.9" fill="#eac65a"/><polygon points="1006.6,1371.5 1008.9,1372.8 1007.2,1374.9 1005.8,1374.2 1003.3,1373.6 1005.4,1371.7" fill="#f8e9a8"/><polygon points="999.8,1364.3 1001.3,1364.5 1001.6,1365.6 999.5,1365.8" fill="#eac65a"/><polygon points="1344.9,1421.0 1346.0,1421.8 1345.7,1422.4 1344.7,1422.3 1344.0,1421.6" fill="#f0d36c"/><polygon points="1328.1,1431.4 1324.7,1428.9 1327.3,1427.5 1331.2,1429.4" fill="#eac65a"/><polygon points="1246.7,1406.1 1244.0,1406.0 1242.8,1404.7 1242.7,1403.4 1244.7,1403.3 1246.0,1404.9" fill="#c99a35"/><polygon points="1046.5,1374.2 1044.8,1373.4 1044.6,1372.7 1046.0,1371.5 1047.1,1372.2 1047.5,1373.3" fill="#e2bd4f"/><polygon points="726.9,1421.3 726.5,1421.9 724.8,1422.7 723.9,1422.3 725.4,1421.1" fill="#c99a35"/><polygon points="955.4,1373.7 953.7,1373.2 954.0,1372.5 956.0,1372.5 956.8,1373.1" fill="#d4a93c"/><polygon points="971.8,1359.9 974.2,1360.9 974.5,1362.6 972.0,1362.9 970.6,1361.1" fill="#e2bd4f"/><polygon points="1310.7,1415.9 1308.8,1416.8 1305.4,1416.8 1304.2,1414.2 1307.3,1414.2" fill="#eac65a"/><polygon points="1326.5,1427.9 1328.5,1428.6 1328.3,1429.6 1326.6,1429.4" fill="#f8e9a8"/><polygon points="748.1,1403.5 750.0,1400.6 751.6,1401.2 750.4,1403.6" fill="#f0d36c"/><polygon points="956.5,1370.9 960.4,1369.5 963.0,1370.1 961.6,1372.2" fill="#f6e08f"/><polygon points="1236.6,1396.9 1233.2,1395.1 1235.4,1394.8 1237.7,1396.3" fill="#d4a93c"/><polygon points="847.2,1397.3 846.6,1396.6 845.6,1394.4 846.7,1393.1 847.8,1394.2 849.4,1395.5" fill="#e2bd4f"/><polygon points="783.7,1397.2 781.6,1399.7 776.8,1399.2 778.5,1396.4 782.4,1396.1" fill="#e2bd4f"/><polygon points="720.5,1431.0 719.1,1429.9 718.9,1428.8 723.4,1427.2 723.8,1429.0" fill="#f6e08f"/><polygon points="974.3,1369.3 974.8,1371.4 972.5,1371.9 972.0,1369.5" fill="#eac65a"/><polygon points="1313.3,1413.2 1313.3,1412.1 1315.2,1412.2 1315.8,1414.2" fill="#f6e08f"/><polygon points="767.3,1406.1 766.0,1407.7 763.1,1409.7 759.0,1410.0 760.4,1406.1 763.1,1405.1" fill="#f8e9a8"/><polygon points="1265.0,1406.7 1261.7,1404.4 1263.8,1403.4 1267.6,1405.9" fill="#f6e08f"/><polygon points="1210.7,1401.8 1208.4,1401.0 1208.1,1399.0 1210.1,1399.3" fill="#eac65a"/><polygon points="913.6,1379.8 912.9,1378.2 913.4,1376.6 915.6,1375.6 917.5,1376.6 915.9,1378.8" fill="#c99a35"/><polygon points="1183.6,1382.4 1184.0,1383.8 1181.6,1384.5 1181.4,1383.3 1182.5,1382.5" fill="#eac65a"/><polygon points="938.5,1375.8 938.3,1376.6 937.5,1376.4 937.5,1375.6" fill="#f8e9a8"/><polygon points="1300.0,1424.5 1295.7,1424.9 1295.2,1422.5 1297.7,1421.7" fill="#e2bd4f"/><polygon points="788.6,1383.6 789.5,1385.0 787.7,1386.0 784.9,1386.0 785.4,1384.6 788.1,1383.0" fill="#d4a93c"/><polygon points="746.2,1425.4 744.4,1425.4 745.1,1424.5 746.8,1424.4" fill="#eac65a"/><polygon points="784.0,1400.0 783.0,1403.0 780.3,1402.5 780.7,1400.2" fill="#f8e9a8"/><polygon points="1247.5,1406.0 1246.3,1406.8 1241.6,1405.5 1242.4,1403.8 1246.3,1403.8" fill="#d4a93c"/><polygon points="1292.8,1402.3 1295.2,1402.4 1297.0,1403.1 1297.4,1404.5 1295.9,1405.5 1292.6,1404.1" fill="#f0d36c"/><polygon points="1083.1,1368.7 1082.5,1372.3 1080.5,1372.2 1078.2,1369.1 1080.9,1367.6" fill="#d4a93c"/><polygon points="884.5,1374.0 884.6,1373.1 886.8,1372.4 886.9,1374.1" fill="#d4a93c"/><polygon points="855.8,1368.6 856.9,1368.6 856.8,1369.5 856.0,1369.6" fill="#e2bd4f"/><polygon points="1035.5,1367.2 1036.4,1368.3 1035.5,1369.8 1031.8,1369.2 1031.0,1367.8 1031.9,1366.8" fill="#eac65a"/><polygon points="1050.6,1375.1 1043.0,1375.1 1043.3,1371.6 1048.6,1370.8" fill="#f0d36c"/><polygon points="739.7,1409.8 738.3,1409.9 738.6,1408.8 740.0,1409.0" fill="#f6e08f"/><polygon points="917.5,1362.6 916.0,1362.2 917.0,1360.2 918.7,1360.4" fill="#f6e08f"/><polygon points="1268.3,1421.4 1270.0,1422.5 1269.7,1423.7 1268.1,1423.6 1266.2,1422.6 1266.4,1421.8" fill="#f6e08f"/><polygon points="757.9,1403.6 757.5,1404.9 754.3,1405.9 753.1,1405.5 754.2,1403.6 756.6,1403.6" fill="#c99a35"/><polygon points="746.4,1400.3 749.5,1397.6 750.6,1397.4 752.2,1398.2 749.7,1400.6 748.0,1401.1" fill="#f6e08f"/><polygon points="1048.5,1367.9 1050.6,1366.2 1053.8,1366.8 1050.3,1369.8" fill="#d4a93c"/><polygon points="845.9,1391.1 845.3,1393.1 843.0,1392.8 843.6,1391.1" fill="#d4a93c"/><polygon points="916.4,1360.8 914.4,1361.8 912.2,1361.0 914.5,1359.6" fill="#eac65a"/><polygon points="858.8,1375.4 860.3,1374.1 862.1,1374.5 862.0,1375.7" fill="#d4a93c"/><polygon points="1206.3,1397.5 1203.6,1398.5 1199.2,1396.4 1200.2,1395.0 1202.8,1394.4 1206.9,1395.5" fill="#c99a35"/><polygon points="1138.1,1376.4 1139.0,1375.5 1140.2,1375.3 1140.8,1376.7 1140.0,1376.7" fill="#c99a35"/><polygon points="886.1,1354.2 881.6,1357.0 877.4,1354.6 883.0,1352.1" fill="#eac65a"/><polygon points="956.6,1356.6 959.4,1357.4 960.4,1359.6 958.2,1360.9 954.9,1360.7 953.6,1358.3" fill="#c99a35"/><polygon points="1269.3,1406.1 1265.9,1405.1 1266.9,1403.3 1269.7,1404.4" fill="#eac65a"/><polygon points="1018.4,1370.4 1020.9,1371.4 1019.5,1372.5 1017.6,1373.6 1015.2,1371.9 1014.9,1370.4" fill="#c99a35"/><polygon points="780.6,1393.9 781.6,1394.7 779.0,1396.8 776.2,1396.4 777.0,1394.4 779.0,1393.3" fill="#e2bd4f"/><polygon points="1252.9,1403.9 1252.1,1404.2 1250.9,1403.4 1251.3,1403.0 1252.4,1403.1 1253.4,1403.3" fill="#eac65a"/><polygon points="908.1,1371.3 906.5,1374.0 902.6,1372.6 903.5,1371.3" fill="#eac65a"/><polygon points="997.7,1381.9 997.0,1382.3 996.4,1381.6 997.5,1381.0" fill="#f0d36c"/><polygon points="738.7,1401.5 738.9,1400.5 740.6,1400.0 740.2,1401.1" fill="#d4a93c"/><polygon points="1226.1,1387.9 1225.8,1385.9 1227.6,1385.4 1232.0,1386.5 1230.6,1388.3 1227.9,1388.5" fill="#c99a35"/><polygon points="771.6,1408.0 773.5,1409.8 768.3,1412.0 767.6,1409.2 769.5,1408.0" fill="#e2bd4f"/><polygon points="1097.4,1373.8 1096.7,1374.2 1095.6,1373.7 1096.7,1372.8" fill="#f0d36c"/><polygon points="836.5,1389.6 836.6,1388.6 837.8,1387.9 838.8,1388.6 838.7,1389.5" fill="#f0d36c"/><polygon points="1121.8,1377.3 1119.6,1377.0 1120.6,1375.2 1122.3,1375.4 1123.4,1376.7" fill="#e2bd4f"/><polygon points="1003.6,1365.3 1005.4,1366.6 1004.1,1368.2 1001.1,1367.7 1000.8,1365.4" fill="#eac65a"/><polygon points="1220.2,1387.2 1220.5,1385.1 1222.5,1384.0 1224.6,1385.9 1222.1,1387.2" fill="#d4a93c"/><polygon points="1332.8,1422.4 1333.6,1421.7 1335.4,1422.4 1336.6,1423.5 1336.2,1424.6 1333.5,1423.8" fill="#f0d36c"/><polygon points="1006.6,1358.0 1000.2,1360.0 998.6,1356.8 1004.8,1356.1" fill="#d4a93c"/><polygon points="1312.6,1419.7 1318.2,1422.9 1314.6,1424.5 1311.3,1423.0" fill="#eac65a"/><polygon points="1060.1,1362.9 1060.3,1364.5 1056.4,1364.1 1055.8,1362.3 1057.9,1360.7 1060.0,1361.0" fill="#d4a93c"/><polygon points="1145.5,1368.0 1144.6,1368.0 1142.6,1367.3 1142.1,1365.8 1143.3,1365.7 1145.3,1366.6" fill="#e2bd4f"/><polygon points="1161.7,1391.6 1160.2,1391.2 1160.8,1390.2 1162.0,1390.9" fill="#f8e9a8"/><polygon points="1340.3,1416.7 1340.2,1414.7 1344.8,1415.9 1342.9,1417.4" fill="#c99a35"/><polygon points="918.4,1370.3 918.5,1370.9 917.8,1371.6 916.7,1371.4 916.6,1370.3 917.8,1370.2" fill="#f8e9a8"/><polygon points="1029.8,1372.6 1029.9,1374.0 1028.4,1374.1 1027.9,1373.3 1027.9,1372.7 1029.3,1372.0" fill="#f6e08f"/><polygon points="1234.8,1393.7 1233.5,1395.3 1230.5,1392.8 1232.5,1391.4" fill="#f6e08f"/><polygon points="710.5,1444.2 710.2,1443.6 710.3,1443.1 711.0,1443.1 711.2,1443.8" fill="#d4a93c"/><polygon points="1278.5,1407.0 1279.0,1408.4 1276.9,1409.5 1276.0,1406.7" fill="#c99a35"/><polygon points="1262.3,1407.7 1261.5,1408.7 1258.3,1408.7 1256.0,1406.5 1258.7,1405.4" fill="#f0d36c"/><polygon points="994.2,1352.7 993.9,1351.7 996.3,1351.7 996.1,1352.6" fill="#f8e9a8"/><polygon points="1198.6,1391.8 1198.3,1394.0 1194.3,1394.2 1191.5,1391.7 1195.5,1390.9" fill="#d4a93c"/><polygon points="1281.6,1407.9 1284.2,1412.3 1280.0,1411.9 1278.1,1408.2" fill="#c99a35"/><polygon points="816.5,1394.2 818.5,1394.1 819.2,1395.2 817.8,1396.1 816.8,1395.4" fill="#f0d36c"/><polygon points="829.6,1395.6 830.4,1394.2 831.7,1394.7 831.0,1396.5" fill="#c99a35"/><polygon points="1151.0,1389.9 1148.4,1391.1 1144.4,1388.9 1146.1,1386.6 1149.6,1386.5 1150.7,1388.0" fill="#f0d36c"/><polygon points="1065.5,1372.5 1064.6,1371.8 1065.3,1371.2 1066.5,1371.4 1066.6,1372.4" fill="#e2bd4f"/><polygon points="782.7,1404.7 782.4,1403.4 786.0,1403.2 784.8,1404.9" fill="#c99a35"/><polygon points="1102.9,1379.1 1103.1,1380.1 1100.6,1380.3 1099.9,1378.6 1101.5,1378.0" fill="#eac65a"/><polygon points="841.0,1392.3 840.4,1393.5 838.2,1394.0 837.0,1393.9 837.2,1393.0 840.9,1391.8" fill="#f0d36c"/><polygon points="714.8,1413.7 717.8,1410.8 720.7,1412.3 716.5,1414.6" fill="#f6e08f"/><polygon points="729.8,1415.2 728.2,1417.2 725.8,1417.2 724.3,1416.5 725.3,1415.0 728.5,1413.6" fill="#f6e08f"/><polygon points="873.9,1387.7 876.8,1386.2 881.0,1384.8 881.5,1387.7 876.0,1389.2" fill="#f0d36c"/><polygon points="878.3,1375.3 877.4,1372.5 879.7,1372.5 882.2,1374.5 880.6,1376.2" fill="#f6e08f"/><polygon points="913.3,1370.2 911.7,1370.3 909.6,1369.4 911.6,1367.8 914.4,1368.2" fill="#e2bd4f"/><polygon points="914.8,1377.0 915.0,1376.1 916.5,1375.8 917.2,1376.6 917.2,1377.2 916.0,1377.8" fill="#e2bd4f"/><polygon points="1280.6,1401.9 1275.3,1401.5 1273.4,1398.5 1275.5,1398.1 1279.1,1398.5 1283.4,1401.4" fill="#d4a93c"/><polygon points="1076.0,1381.7 1076.2,1385.1 1071.7,1384.4 1070.0,1381.3" fill="#d4a93c"/><polygon points="1021.3,1373.2 1019.6,1374.9 1016.4,1373.3 1015.7,1372.0 1019.3,1371.7" fill="#c99a35"/><polygon points="1217.0,1398.5 1220.5,1399.0 1222.0,1399.5 1220.0,1401.0 1218.3,1401.4 1216.0,1398.8" fill="#f0d36c"/><polygon points="918.6,1362.6 916.8,1362.3 917.2,1360.7 921.5,1360.6 922.1,1362.0 921.2,1362.8" fill="#eac65a"/><polygon points="1092.2,1368.7 1092.0,1365.8 1094.4,1365.3 1094.4,1367.8" fill="#d4a93c"/><polygon points="1123.4,1374.8 1122.6,1376.4 1120.5,1375.6 1119.4,1373.2 1120.0,1372.5 1121.7,1373.3" fill="#f0d36c"/><polygon points="992.3,1367.5 995.3,1368.7 993.4,1370.8 990.0,1370.2 990.0,1368.8" fill="#d4a93c"/><polygon points="958.7,1351.8 959.6,1353.7 958.3,1355.0 955.9,1355.0 955.4,1353.2" fill="#f0d36c"/><polygon points="1099.0,1378.6 1101.5,1377.6 1105.3,1379.1 1102.0,1380.3" fill="#e2bd4f"/><polygon points="926.3,1371.1 925.8,1371.8 922.7,1372.6 921.6,1371.6 923.2,1370.4" fill="#c99a35"/><polygon points="965.5,1361.0 963.0,1361.6 961.0,1360.3 964.9,1359.7" fill="#f0d36c"/><polygon points="740.5,1412.7 740.9,1412.1 742.2,1411.7 743.0,1412.0 742.0,1412.8 740.4,1413.3" fill="#f0d36c"/><polygon points="965.0,1355.1 965.7,1354.1 971.1,1353.8 971.6,1356.1 969.7,1357.9 965.8,1357.9" fill="#eac65a"/><polygon points="1055.8,1375.9 1057.2,1376.7 1055.3,1377.9 1054.3,1376.1" fill="#d4a93c"/><polygon points="1211.1,1411.0 1211.8,1410.8 1212.0,1411.8 1211.4,1412.3 1210.7,1411.7" fill="#c99a35"/><polygon points="792.0,1392.0 793.9,1393.4 792.5,1396.0 789.5,1395.9 788.7,1394.6" fill="#c99a35"/><polygon points="1010.2,1380.6 1009.1,1376.5 1012.4,1375.2 1014.2,1378.1" fill="#e2bd4f"/><polygon points="1212.3,1395.2 1211.0,1395.7 1210.3,1395.3 1210.1,1393.9 1211.3,1393.8 1211.8,1394.3" fill="#f8e9a8"/><polygon points="1013.6,1377.2 1013.6,1376.5 1015.6,1376.5 1014.9,1377.6" fill="#eac65a"/><polygon points="870.4,1375.2 871.7,1373.5 873.3,1373.4 876.9,1373.9 876.3,1374.9 872.6,1375.6" fill="#f8e9a8"/><polygon points="1023.4,1386.2 1023.9,1386.9 1021.0,1388.3 1017.3,1387.7 1016.7,1385.4 1020.4,1384.2" fill="#f6e08f"/><polygon points="821.7,1392.6 824.7,1391.4 827.5,1391.7 827.0,1393.7 822.9,1395.4 820.4,1394.2" fill="#f0d36c"/><polygon points="1309.1,1429.2 1310.2,1428.4 1311.5,1429.6 1310.6,1430.3" fill="#f6e08f"/><polygon points="935.4,1361.2 933.9,1360.1 931.7,1357.8 937.1,1356.7 938.0,1358.7" fill="#c99a35"/><polygon points="1069.9,1375.7 1068.9,1375.4 1069.1,1374.5 1069.4,1373.8 1070.4,1374.4 1070.7,1375.8" fill="#f8e9a8"/><polygon points="843.7,1373.0 846.4,1371.1 849.0,1370.8 847.8,1373.8 845.5,1374.6" fill="#f8e9a8"/><polygon points="725.1,1422.6 726.6,1419.9 731.1,1419.2 728.4,1423.5" fill="#eac65a"/><polygon points="1041.5,1359.0 1042.1,1361.4 1042.1,1362.2 1038.7,1363.9 1038.2,1362.1 1038.7,1359.3" fill="#d4a93c"/><polygon points="1030.7,1365.7 1034.5,1363.3 1037.7,1364.6 1035.4,1367.2" fill="#c99a35"/><polygon points="689.4,1451.5 688.9,1450.8 689.2,1448.9 691.4,1448.2 692.4,1450.2" fill="#f0d36c"/><polygon points="1337.8,1436.5 1335.8,1436.9 1333.8,1435.4 1335.3,1433.3 1336.1,1432.6 1338.0,1434.1" fill="#c99a35"/><polygon points="983.5,1362.8 990.5,1361.0 992.8,1364.0 989.3,1364.7" fill="#c99a35"/><polygon points="689.6,1443.3 690.3,1441.7 692.4,1441.9 691.3,1444.1" fill="#eac65a"/><polygon points="1321.0,1418.0 1318.1,1418.7 1314.5,1416.4 1314.7,1414.1 1316.7,1414.3 1321.6,1416.8" fill="#f8e9a8"/><polygon points="1250.1,1398.6 1246.6,1396.8 1246.7,1395.3 1251.5,1396.8" fill="#f8e9a8"/><polygon points="991.4,1351.2 988.0,1352.5 986.7,1351.5 989.5,1350.0" fill="#c99a35"/><polygon points="1229.2,1398.2 1230.8,1400.3 1231.3,1401.0 1228.1,1401.4 1226.5,1400.3 1227.9,1399.2" fill="#f8e9a8"/><polygon points="905.3,1383.4 902.9,1382.0 903.5,1379.3 907.5,1380.5 908.4,1382.4" fill="#f8e9a8"/><polygon points="968.3,1383.6 970.8,1383.1 972.6,1384.8 971.9,1385.5 970.1,1385.7 968.1,1385.2" fill="#f6e08f"/><polygon points="745.6,1405.9 745.4,1404.4 746.5,1403.2 748.2,1403.5 749.2,1404.2" fill="#f8e9a8"/><polygon points="1226.1,1394.0 1228.1,1392.6 1231.8,1395.9 1229.0,1396.7" fill="#eac65a"/><polygon points="905.8,1367.7 905.1,1369.0 904.6,1369.0 903.1,1368.8 902.8,1368.5 904.7,1367.6" fill="#e2bd4f"/><polygon points="1034.8,1369.8 1032.9,1370.3 1031.7,1369.9 1032.1,1369.1 1033.1,1368.7" fill="#f0d36c"/><polygon points="1152.2,1394.7 1153.0,1394.0 1155.0,1394.6 1154.6,1395.8 1153.2,1396.4" fill="#d4a93c"/><polygon points="689.3,1436.1 688.6,1433.5 692.2,1430.4 694.0,1431.1 693.3,1434.8" fill="#eac65a"/><polygon points="738.0,1426.9 735.6,1427.2 735.2,1425.7 736.3,1424.9 738.8,1425.6" fill="#d4a93c"/><polygon points="712.4,1431.2 715.2,1428.3 720.0,1428.3 722.2,1429.2 719.2,1431.1 714.9,1432.2" fill="#d4a93c"/><polygon points="927.8,1369.4 927.8,1370.2 925.7,1370.2 926.1,1369.4" fill="#d4a93c"/><polygon points="954.5,1372.2 959.3,1372.4 960.6,1373.1 959.5,1374.8 956.7,1375.7 953.2,1374.5" fill="#e2bd4f"/><polygon points="945.9,1375.6 940.1,1374.0 937.6,1372.8 942.6,1371.1 948.2,1372.4 949.1,1373.5" fill="#e2bd4f"/><polygon points="1094.5,1374.3 1094.9,1377.5 1087.4,1376.5 1086.6,1374.3" fill="#f6e08f"/><polygon points="927.6,1376.9 927.8,1378.8 927.0,1379.9 925.8,1378.8 925.6,1376.9" fill="#e2bd4f"/><polygon points="698.4,1421.9 701.2,1419.7 704.2,1419.2 704.3,1422.6 700.8,1423.5 697.1,1422.9" fill="#c99a35"/><polygon points="1074.3,1376.0 1074.5,1377.1 1072.6,1377.3 1071.8,1376.3 1072.6,1375.8" fill="#e2bd4f"/><polygon points="1339.9,1446.8 1333.4,1446.6 1331.3,1444.0 1335.0,1441.9 1338.9,1444.8" fill="#f8e9a8"/><polygon points="1131.0,1376.0 1127.7,1375.2 1129.3,1373.0 1132.8,1374.5" fill="#f0d36c"/><polygon points="872.7,1369.0 872.7,1367.3 873.1,1366.9 874.3,1367.2 874.7,1368.4 873.4,1369.2" fill="#d4a93c"/><polygon points="806.5,1393.3 809.5,1393.9 809.3,1395.1 806.4,1396.2 805.1,1395.5" fill="#c99a35"/><polygon points="757.1,1405.6 758.5,1406.9 756.1,1408.1 753.8,1408.2 754.9,1405.6" fill="#c99a35"/><polygon points="830.5,1392.0 830.2,1391.4 831.3,1390.7 831.7,1391.6" fill="#c99a35"/><polygon points="911.9,1359.6 911.8,1361.0 910.0,1361.3 910.3,1359.9" fill="#c99a35"/><polygon points="1109.8,1378.0 1111.0,1379.7 1110.4,1380.2 1107.9,1380.5 1108.0,1379.2 1108.2,1378.8" fill="#e2bd4f"/><polygon points="1136.1,1398.0 1138.8,1396.9 1141.5,1397.3 1143.8,1399.0 1140.8,1399.8 1137.4,1399.3" fill="#f8e9a8"/><polygon points="1072.1,1373.2 1070.1,1373.5 1068.4,1373.1 1069.8,1371.9 1071.8,1371.9" fill="#eac65a"/><polygon points="1018.4,1368.4 1018.9,1370.7 1016.3,1370.4 1015.7,1368.3" fill="#f0d36c"/><polygon points="1237.8,1400.8 1235.1,1401.4 1231.5,1399.1 1231.9,1396.6 1235.7,1397.2" fill="#d4a93c"/><polygon points="1316.3,1414.7 1315.4,1412.6 1316.4,1410.1 1319.3,1410.9 1320.0,1412.6 1318.7,1415.6" fill="#f8e9a8"/><polygon points="1066.8,1375.4 1068.6,1375.2 1069.5,1376.9 1068.3,1377.6" fill="#f0d36c"/><polygon points="1261.7,1402.6 1257.1,1400.8 1258.2,1399.0 1263.0,1400.7" fill="#f0d36c"/><polygon points="1160.3,1377.3 1161.1,1377.2 1162.3,1378.2 1161.4,1378.2 1160.0,1378.3 1159.6,1378.1" fill="#f8e9a8"/><polygon points="904.4,1374.4 906.7,1374.2 908.5,1375.2 908.1,1376.3 906.3,1376.5 904.1,1375.7" fill="#c99a35"/><polygon points="1202.1,1401.9 1202.5,1400.8 1204.2,1401.7 1204.4,1402.5 1203.1,1402.5" fill="#d4a93c"/><polygon points="1193.6,1395.6 1192.6,1394.5 1193.0,1392.4 1195.1,1392.9 1195.3,1394.6" fill="#c99a35"/><polygon points="1248.8,1401.3 1248.2,1402.3 1246.8,1402.5 1245.9,1400.9 1247.4,1400.2 1248.4,1400.0" fill="#d4a93c"/><polygon points="982.2,1362.2 981.1,1359.8 984.7,1358.1 984.5,1361.8" fill="#d4a93c"/><polygon points="1285.5,1401.7 1286.7,1398.4 1290.3,1399.3 1290.7,1401.4 1291.9,1403.0 1286.9,1402.8" fill="#eac65a"/><polygon points="787.5,1403.2 787.1,1407.1 782.6,1407.5 782.1,1404.4" fill="#d4a93c"/><polygon points="957.6,1364.5 952.4,1366.0 948.8,1365.6 950.6,1363.2 954.8,1361.8" fill="#f6e08f"/><polygon points="851.9,1373.8 850.3,1375.3 847.1,1375.6 847.3,1373.2" fill="#e2bd4f"/><polygon points="1090.6,1378.2 1092.6,1378.3 1094.2,1379.0 1091.5,1379.9 1090.2,1378.9" fill="#f0d36c"/><polygon points="995.7,1369.7 995.5,1367.2 999.0,1366.8 999.9,1368.3 999.2,1370.9" fill="#c99a35"/><polygon points="1178.5,1378.2 1178.4,1379.3 1177.4,1379.2 1177.1,1378.0 1178.2,1377.5" fill="#c99a35"/><polygon points="887.9,1391.2 889.0,1390.3 889.9,1390.0 891.2,1390.6 890.4,1391.2 888.8,1391.2" fill="#d4a93c"/><polygon points="999.4,1365.6 995.0,1363.8 996.7,1362.6 1001.3,1363.8" fill="#d4a93c"/><polygon points="1138.4,1386.5 1135.7,1386.8 1132.5,1386.6 1133.3,1384.0 1135.6,1383.6" fill="#f8e9a8"/><polygon points="828.1,1395.7 829.3,1395.6 829.4,1397.4 827.8,1396.9" fill="#e2bd4f"/><polygon points="837.0,1364.6 836.0,1362.1 840.3,1362.1 841.9,1364.4 838.5,1366.5" fill="#f8e9a8"/><polygon points="968.1,1351.8 966.5,1352.0 964.8,1351.4 965.5,1350.7 967.9,1349.9 968.6,1350.9" fill="#f0d36c"/><polygon points="1059.4,1368.3 1061.2,1368.6 1064.5,1370.1 1061.5,1372.3 1057.8,1371.8" fill="#eac65a"/><polygon points="1215.8,1389.7 1215.1,1387.7 1220.1,1388.1 1222.0,1389.2 1221.9,1391.3 1217.2,1390.9" fill="#c99a35"/><polygon points="1149.9,1390.4 1150.3,1391.5 1148.7,1392.2 1148.7,1390.9" fill="#eac65a"/><polygon points="1092.7,1371.3 1090.5,1372.9 1089.3,1371.9 1088.7,1369.2 1089.5,1369.1 1092.4,1368.9" fill="#f8e9a8"/><polygon points="1335.9,1446.0 1334.9,1445.6 1334.3,1444.8 1335.3,1444.6 1336.2,1445.2" fill="#d4a93c"/><polygon points="930.3,1360.3 927.2,1362.9 923.9,1361.0 927.4,1358.5" fill="#f6e08f"/><polygon points="1305.8,1428.0 1307.5,1427.7 1311.0,1430.0 1308.3,1430.9" fill="#f8e9a8"/><polygon points="1161.7,1376.3 1161.9,1376.8 1161.5,1377.5 1160.2,1376.8 1160.8,1375.9" fill="#eac65a"/><polygon points="1173.9,1386.3 1176.7,1386.6 1178.4,1390.3 1172.1,1389.1" fill="#e2bd4f"/><polygon points="1094.8,1374.2 1093.0,1373.2 1094.5,1371.3 1096.6,1373.0" fill="#e2bd4f"/><polygon points="1273.4,1404.2 1275.3,1405.2 1274.9,1405.9 1273.1,1406.7 1272.5,1404.3" fill="#eac65a"/><polygon points="1300.1,1420.9 1302.7,1418.6 1308.5,1422.1 1304.7,1423.1" fill="#e2bd4f"/><polygon points="1048.3,1369.7 1050.1,1367.5 1052.7,1368.3 1052.1,1370.2 1050.3,1370.6" fill="#c99a35"/><polygon points="697.6,1433.4 699.2,1432.1 699.7,1432.7 698.7,1433.5" fill="#f0d36c"/><polygon points="856.0,1380.1 852.9,1381.4 851.4,1379.4 853.9,1378.1" fill="#f6e08f"/><polygon points="766.8,1401.0 764.4,1401.1 764.2,1400.1 767.1,1399.8" fill="#f8e9a8"/><polygon points="948.4,1355.2 949.8,1355.1 950.0,1356.2 948.8,1356.3" fill="#f0d36c"/><polygon points="1210.9,1399.0 1208.3,1398.8 1206.1,1394.8 1209.1,1394.5 1214.9,1397.3" fill="#c99a35"/><polygon points="1068.0,1363.4 1068.4,1364.4 1064.8,1364.4 1063.8,1362.8 1066.2,1360.6 1068.1,1361.9" fill="#e2bd4f"/><polygon points="1013.2,1380.5 1011.8,1380.5 1011.2,1379.8 1011.2,1379.3 1012.3,1379.4 1012.8,1380.0" fill="#f8e9a8"/><polygon points="1223.2,1394.0 1225.3,1394.6 1224.3,1395.9 1222.8,1395.8 1221.5,1395.0 1221.9,1394.1" fill="#f8e9a8"/><polygon points="1167.0,1385.4 1168.1,1384.6 1169.6,1385.4 1169.1,1386.2" fill="#d4a93c"/><polygon points="704.1,1435.7 704.5,1434.9 705.4,1434.7 706.2,1435.1 705.4,1436.4 704.6,1436.3" fill="#f0d36c"/><polygon points="1117.6,1378.2 1116.5,1381.5 1113.8,1381.7 1113.7,1379.2 1114.5,1376.6" fill="#eac65a"/><polygon points="1034.9,1358.2 1035.6,1355.6 1038.6,1355.8 1038.2,1359.1 1036.6,1359.9" fill="#f6e08f"/><polygon points="730.0,1421.6 728.3,1422.7 727.3,1422.1 728.6,1420.9 729.7,1420.6" fill="#e2bd4f"/><polygon points="766.9,1413.3 767.5,1412.8 769.2,1413.1 768.2,1414.1 767.4,1414.3" fill="#eac65a"/><polygon points="1258.7,1409.4 1260.0,1410.5 1258.3,1411.4 1257.0,1410.1" fill="#f6e08f"/><polygon points="804.0,1408.5 803.0,1409.0 801.9,1408.6 802.7,1407.5 803.5,1407.8" fill="#eac65a"/><polygon points="753.9,1397.2 751.9,1396.8 752.1,1395.9 754.1,1394.6 756.8,1394.7" fill="#f8e9a8"/><polygon points="983.3,1363.8 986.0,1366.6 978.5,1366.3 978.1,1364.8" fill="#f8e9a8"/><polygon points="1219.9,1391.9 1218.8,1393.8 1215.9,1393.2 1214.1,1390.6 1216.0,1389.1 1218.8,1390.0" fill="#c99a35"/><polygon points="1341.9,1433.4 1338.1,1432.9 1336.7,1432.3 1335.7,1429.1 1337.2,1429.2 1342.1,1430.6" fill="#e2bd4f"/><polygon points="835.6,1379.1 831.6,1381.8 830.5,1378.7 833.8,1377.6" fill="#d4a93c"/><polygon points="1183.9,1383.3 1181.8,1384.5 1178.6,1384.8 1176.8,1382.6 1178.4,1382.1 1181.4,1381.8" fill="#c99a35"/><polygon points="723.1,1407.3 720.2,1408.9 719.3,1405.9 722.3,1404.0" fill="#f8e9a8"/><polygon points="736.0,1410.3 737.3,1411.5 736.0,1413.3 734.0,1413.3 732.9,1412.0 734.9,1409.8" fill="#d4a93c"/><polygon points="798.6,1389.1 800.0,1388.2 801.3,1389.2 801.0,1390.4 799.0,1390.9" fill="#f8e9a8"/><polygon points="802.8,1386.9 804.0,1389.3 800.0,1390.0 799.5,1388.6 801.0,1386.7" fill="#f8e9a8"/><polygon points="937.4,1378.7 935.3,1378.5 935.1,1377.5 936.6,1376.8 938.6,1377.2" fill="#eac65a"/><polygon points="1314.1,1429.8 1309.8,1430.8 1307.4,1428.0 1309.3,1425.6" fill="#f8e9a8"/><polygon points="1305.3,1404.2 1308.2,1405.7 1306.1,1407.7 1302.3,1406.1" fill="#f6e08f"/><polygon points="1211.9,1373.3 1212.3,1375.1 1209.4,1375.6 1209.7,1374.0" fill="#f8e9a8"/><polygon points="743.3,1412.5 743.5,1411.2 746.9,1409.4 749.2,1408.4 749.2,1410.2 746.9,1412.3" fill="#eac65a"/><polygon points="865.4,1378.9 863.4,1378.2 865.5,1376.3 866.8,1377.0" fill="#f8e9a8"/><polygon points="1024.3,1373.4 1026.7,1374.7 1025.4,1376.5 1021.0,1374.9 1021.2,1373.5" fill="#f0d36c"/><polygon points="744.7,1403.9 746.1,1402.5 749.0,1402.4 748.3,1403.7 746.6,1404.7" fill="#c99a35"/><polygon points="856.7,1381.3 857.0,1383.0 856.1,1384.1 853.6,1382.9 853.4,1382.1" fill="#f6e08f"/><polygon points="1174.1,1382.7 1170.9,1384.0 1169.3,1383.9 1169.3,1381.8 1171.1,1379.8 1173.9,1381.6" fill="#e2bd4f"/><polygon points="806.9,1389.6 805.4,1388.6 805.7,1387.9 807.6,1387.3 807.7,1388.2" fill="#d4a93c"/><polygon points="801.9,1382.7 798.5,1384.3 798.3,1381.9 802.3,1380.8" fill="#e2bd4f"/><polygon points="1236.9,1401.3 1239.6,1401.1 1241.0,1404.3 1238.6,1404.9" fill="#f6e08f"/><polygon points="835.3,1377.4 831.1,1377.8 830.3,1375.2 834.5,1373.8 836.2,1374.6" fill="#f6e08f"/><polygon points="1183.2,1381.0 1185.0,1380.5 1186.0,1382.1 1183.7,1382.7" fill="#e2bd4f"/><polygon points="813.0,1386.6 814.4,1387.1 814.4,1389.9 812.1,1388.6" fill="#c99a35"/><polygon points="960.9,1354.1 963.3,1352.9 965.0,1354.0 964.0,1355.5 962.4,1355.7" fill="#d4a93c"/><polygon points="1098.9,1381.1 1101.5,1384.8 1098.3,1386.6 1096.8,1383.7" fill="#eac65a"/><polygon points="915.8,1368.7 912.4,1370.9 910.6,1368.3 912.2,1366.3" fill="#d4a93c"/><polygon points="868.9,1384.5 872.9,1384.1 873.6,1386.4 870.1,1388.4 867.5,1387.1" fill="#f6e08f"/><polygon points="917.5,1360.5 916.7,1363.0 914.1,1362.8 912.6,1362.3 913.2,1359.7 916.0,1359.6" fill="#d4a93c"/><polygon points="1256.0,1391.7 1254.9,1393.5 1251.5,1392.0 1252.3,1390.4" fill="#e2bd4f"/><polygon points="1340.8,1438.4 1342.0,1440.2 1340.1,1440.8 1338.4,1440.3 1338.5,1438.9 1339.2,1438.4" fill="#c99a35"/><polygon points="1136.2,1380.0 1133.8,1378.8 1135.6,1377.3 1139.4,1377.3 1139.0,1379.6 1138.7,1381.2" fill="#f8e9a8"/><polygon points="995.7,1368.6 994.3,1368.4 994.1,1367.4 995.9,1367.5" fill="#eac65a"/><polygon points="926.0,1358.4 926.2,1356.6 928.7,1355.7 928.5,1359.4" fill="#e2bd4f"/><polygon points="1264.0,1399.1 1264.9,1395.9 1270.0,1397.3 1270.8,1399.8 1267.6,1400.7" fill="#f0d36c"/><polygon points="875.4,1382.7 873.5,1383.7 872.0,1382.0 873.8,1378.9 876.4,1379.4 876.6,1381.8" fill="#f0d36c"/><polygon points="936.5,1362.0 937.5,1364.6 933.9,1365.7 933.1,1363.5 933.2,1362.3 934.7,1360.3" fill="#d4a93c"/><polygon points="1220.7,1396.3 1220.5,1395.6 1222.2,1395.4 1223.2,1396.2 1222.3,1396.7" fill="#f8e9a8"/><polygon points="1226.6,1401.4 1226.7,1399.3 1231.4,1400.1 1233.2,1401.9 1232.4,1403.4 1228.5,1402.8" fill="#f6e08f"/><polygon points="1175.6,1367.9 1178.0,1368.1 1178.9,1368.9 1178.7,1369.5 1175.8,1368.8" fill="#c99a35"/><polygon points="749.8,1397.3 752.3,1396.7 755.6,1396.7 753.8,1398.2 750.7,1399.1" fill="#f0d36c"/><polygon points="708.8,1428.9 709.1,1427.4 710.5,1427.6 711.0,1428.6 709.6,1429.6" fill="#eac65a"/><polygon points="1074.8,1363.3 1073.6,1359.3 1080.2,1360.4 1079.6,1362.9" fill="#f8e9a8"/><polygon points="1021.1,1362.4 1022.5,1364.3 1020.6,1364.7 1019.5,1362.6" fill="#f6e08f"/><polygon points="894.4,1379.2 894.6,1380.2 893.4,1380.7 891.7,1380.3" fill="#c99a35"/><polygon points="1033.5,1381.1 1036.0,1381.8 1036.9,1382.9 1034.9,1383.7 1032.5,1383.2" fill="#e2bd4f"/><polygon points="1299.3,1434.9 1295.3,1434.5 1294.5,1432.7 1295.6,1431.8 1298.1,1431.7 1300.3,1434.0" fill="#f0d36c"/><polygon points="773.6,1399.7 778.0,1398.5 777.4,1400.8 775.8,1403.2 770.8,1402.7" fill="#f6e08f"/><polygon points="712.1,1403.7 713.4,1400.5 715.8,1400.1 717.6,1400.1 715.7,1403.8" fill="#f8e9a8"/><polygon points="744.1,1425.9 742.3,1425.8 741.4,1424.8 743.0,1423.6 744.6,1423.7" fill="#c99a35"/><polygon points="874.6,1378.7 874.9,1379.2 874.0,1379.9 872.5,1379.3 872.4,1378.9 873.3,1378.0" fill="#e2bd4f"/><polygon points="1299.1,1414.8 1297.8,1415.8 1296.9,1415.7 1297.4,1414.4" fill="#c99a35"/><polygon points="941.6,1360.3 942.5,1361.0 941.9,1361.7 941.0,1361.2" fill="#d4a93c"/><polygon points="726.1,1414.7 727.9,1415.1 728.4,1416.6 726.0,1418.4 724.4,1417.2" fill="#f6e08f"/><polygon points="1044.2,1385.0 1043.2,1384.6 1043.0,1383.2 1043.6,1382.7 1045.1,1383.2 1045.4,1384.0" fill="#f8e9a8"/><polygon points="1145.0,1369.8 1146.6,1368.2 1150.6,1368.4 1151.0,1370.0 1149.8,1370.4 1147.1,1370.8" fill="#e2bd4f"/><polygon points="925.4,1369.8 923.1,1372.1 921.3,1371.9 916.7,1369.9 921.5,1367.7 925.7,1368.7" fill="#eac65a"/><polygon points="767.7,1405.6 765.2,1407.6 763.2,1407.4 763.0,1405.3 764.4,1404.5 767.8,1404.0" fill="#eac65a"/><polygon points="759.0,1388.9 763.3,1388.0 765.4,1388.9 762.3,1391.7 759.7,1392.6 758.0,1390.6" fill="#e2bd4f"/><polygon points="1261.5,1405.7 1261.0,1404.0 1262.6,1403.5 1264.1,1404.2 1263.9,1406.1" fill="#e2bd4f"/><polygon points="937.4,1372.5 935.8,1373.6 933.8,1373.2 932.7,1371.5 935.2,1371.2" fill="#f8e9a8"/><polygon points="743.7,1416.4 745.4,1416.4 747.0,1418.4 744.6,1421.2 743.2,1419.4" fill="#f8e9a8"/><polygon points="1335.7,1427.7 1335.9,1426.7 1337.6,1427.1 1337.2,1428.6 1335.6,1428.5" fill="#f6e08f"/><polygon points="942.1,1369.8 940.7,1367.6 945.0,1365.9 948.5,1367.8 944.7,1370.2" fill="#eac65a"/><polygon points="1296.1,1416.9 1292.3,1417.3 1288.7,1415.1 1286.8,1412.8 1291.0,1412.4 1294.7,1414.6" fill="#c99a35"/><polygon points="718.9,1420.3 719.7,1421.7 716.6,1422.5 716.2,1421.6" fill="#c99a35"/><polygon points="1118.5,1374.8 1118.7,1373.6 1120.9,1372.9 1123.3,1374.5 1121.9,1375.2" fill="#e2bd4f"/><polygon points="935.7,1354.9 939.1,1354.0 939.4,1355.5 936.4,1355.8" fill="#c99a35"/><polygon points="759.9,1408.1 762.3,1406.0 764.8,1405.2 765.7,1406.4 765.0,1407.3 761.4,1408.2" fill="#f0d36c"/><polygon points="899.9,1383.3 901.5,1381.1 903.7,1381.9 903.5,1384.1 901.5,1384.8" fill="#d4a93c"/><polygon points="1133.8,1368.6 1130.3,1367.5 1130.6,1365.6 1131.8,1364.8 1135.4,1364.7 1137.2,1366.9" fill="#d4a93c"/><polygon points="688.6,1437.7 689.0,1439.1 687.6,1441.0 683.7,1443.0 683.3,1440.9 685.4,1438.5" fill="#f0d36c"/><polygon points="1287.7,1423.0 1290.2,1422.2 1292.2,1423.6 1291.0,1424.8" fill="#f0d36c"/><polygon points="797.5,1396.0 794.5,1395.4 795.3,1393.5 797.6,1393.3 798.9,1394.1" fill="#d4a93c"/><polygon points="718.9,1432.1 720.3,1430.1 722.5,1429.6 723.6,1431.1 720.4,1432.1" fill="#f6e08f"/><polygon points="705.0,1434.7 707.3,1434.0 708.2,1436.1 704.1,1437.3" fill="#e2bd4f"/><polygon points="768.7,1414.1 767.2,1413.4 765.7,1412.0 766.7,1409.9 771.2,1409.0 772.7,1411.7" fill="#c99a35"/><polygon points="1056.6,1378.4 1054.4,1376.4 1055.1,1375.0 1058.5,1375.9 1057.7,1377.8" fill="#f8e9a8"/><polygon points="811.4,1392.1 809.7,1392.9 809.3,1391.4 811.0,1390.4" fill="#f0d36c"/><polygon points="1033.6,1366.6 1035.7,1367.5 1034.3,1368.4 1033.0,1367.5" fill="#f0d36c"/><polygon points="872.9,1379.0 870.2,1376.2 873.3,1374.6 875.0,1377.9" fill="#d4a93c"/><polygon points="783.2,1383.4 785.1,1382.7 786.9,1382.6 787.2,1385.0 784.2,1386.4 781.5,1385.6" fill="#eac65a"/><polygon points="1064.2,1378.8 1057.6,1380.0 1056.2,1377.5 1059.2,1375.4 1062.4,1376.3" fill="#d4a93c"/><polygon points="1218.2,1398.9 1220.3,1399.1 1221.5,1399.7 1221.4,1400.7 1219.8,1400.6 1218.4,1399.9" fill="#e2bd4f"/><polygon points="738.3,1419.5 738.5,1421.0 736.1,1422.2 735.5,1419.6" fill="#e2bd4f"/><polygon points="987.5,1365.5 984.5,1365.0 984.3,1363.8 986.5,1362.9 988.1,1364.0" fill="#f0d36c"/><polygon points="893.5,1362.3 892.2,1362.5 890.1,1362.2 891.8,1360.7 894.5,1360.3 894.6,1361.0" fill="#e2bd4f"/><polygon points="1278.6,1411.5 1274.2,1414.6 1269.7,1410.9 1273.4,1409.5" fill="#e2bd4f"/><polygon points="1226.2,1402.1 1227.1,1403.1 1226.9,1403.9 1224.7,1404.1 1224.9,1402.3" fill="#f0d36c"/><polygon points="796.9,1392.7 796.4,1394.1 794.8,1393.9 794.5,1393.0 795.6,1392.8" fill="#e2bd4f"/><polygon points="1001.3,1361.4 1000.5,1361.8 999.4,1361.8 998.7,1361.0 999.8,1360.8 1001.3,1360.9" fill="#d4a93c"/><polygon points="807.8,1373.1 804.9,1374.4 802.6,1373.1 802.1,1371.3 804.4,1370.8 806.4,1371.1" fill="#e2bd4f"/><polygon points="1101.2,1376.1 1104.0,1375.6 1105.2,1378.3 1101.8,1378.0" fill="#c99a35"/><polygon points="816.4,1385.8 808.4,1385.9 809.2,1383.8 815.5,1381.2 818.7,1382.8" fill="#f8e9a8"/><polygon points="1239.5,1405.0 1240.8,1404.2 1241.9,1404.6 1242.2,1405.1 1241.3,1405.6 1240.5,1405.6" fill="#e2bd4f"/><polygon points="937.1,1373.6 937.9,1373.9 937.8,1374.6 936.3,1374.3" fill="#f0d36c"/><polygon points="791.9,1396.5 794.9,1397.3 791.0,1400.0 788.5,1398.9" fill="#c99a35"/><polygon points="1252.7,1407.1 1252.3,1409.3 1249.4,1409.5 1247.3,1408.2 1247.1,1406.7 1250.5,1406.2" fill="#f8e9a8"/><polygon points="854.7,1374.6 854.2,1374.1 854.2,1373.7 855.6,1373.5 856.3,1373.7 855.9,1374.4" fill="#f6e08f"/><polygon points="1144.3,1357.9 1143.6,1355.9 1146.5,1355.6 1149.8,1356.3 1148.7,1358.7" fill="#c99a35"/><polygon points="692.6,1438.5 691.6,1439.8 690.1,1440.2 688.7,1439.4 688.6,1438.2 692.9,1436.4" fill="#f6e08f"/><polygon points="1317.5,1426.6 1318.4,1426.5 1319.0,1427.0 1318.4,1427.7 1318.0,1427.8" fill="#f0d36c"/><polygon points="876.4,1373.6 873.8,1376.5 868.1,1374.2 872.3,1371.3" fill="#eac65a"/><polygon points="1039.9,1371.8 1038.1,1371.7 1037.3,1371.0 1037.9,1370.4 1039.8,1370.2 1039.8,1371.1" fill="#f6e08f"/><polygon points="719.5,1423.6 719.5,1425.4 717.9,1427.4 714.7,1428.0 713.5,1426.1 715.7,1423.5" fill="#eac65a"/><polygon points="1259.3,1395.9 1259.5,1397.8 1259.9,1399.5 1257.0,1399.3 1256.3,1397.6" fill="#f0d36c"/><polygon points="785.8,1380.1 784.2,1381.5 783.4,1381.5 782.7,1379.7 783.5,1378.8 784.7,1377.9" fill="#f0d36c"/><polygon points="821.5,1397.7 819.9,1398.3 819.0,1397.1 819.7,1395.5 822.0,1396.3" fill="#f0d36c"/><polygon points="1122.1,1376.3 1123.6,1374.9 1126.7,1376.0 1125.0,1377.6" fill="#c99a35"/><polygon points="959.6,1359.0 957.2,1360.3 955.1,1359.7 955.0,1358.5 957.7,1357.9" fill="#d4a93c"/><polygon points="765.5,1411.7 766.0,1408.9 772.6,1408.0 770.3,1410.5" fill="#d4a93c"/><polygon points="793.5,1404.4 792.9,1403.2 794.9,1402.0 794.9,1404.5" fill="#f6e08f"/><polygon points="1271.4,1415.4 1273.4,1413.5 1275.6,1415.5 1273.4,1416.8" fill="#eac65a"/><polygon points="802.5,1398.7 798.9,1399.3 800.2,1397.7 802.2,1397.5" fill="#e2bd4f"/><polygon points="1272.1,1416.3 1272.6,1418.6 1271.7,1418.7 1268.4,1418.1 1267.3,1416.5 1270.9,1415.5" fill="#e2bd4f"/><polygon points="1282.8,1415.6 1285.9,1418.5 1286.1,1419.8 1280.2,1418.9 1277.9,1417.5 1276.9,1416.0" fill="#f0d36c"/><polygon points="715.7,1419.1 714.6,1420.7 712.6,1419.6 714.1,1418.4" fill="#eac65a"/><polygon points="783.5,1394.6 783.7,1393.2 787.3,1393.9 788.9,1395.2 787.6,1397.3 783.8,1397.7" fill="#f8e9a8"/><polygon points="1192.5,1396.8 1192.6,1394.2 1195.6,1393.3 1198.4,1394.6 1195.1,1397.9" fill="#c99a35"/><polygon points="943.1,1379.1 941.3,1379.4 941.2,1378.9 941.5,1378.1 943.2,1378.2 943.5,1378.7" fill="#c99a35"/><polygon points="752.8,1408.1 749.9,1409.9 748.8,1408.1 752.2,1406.8" fill="#e2bd4f"/><polygon points="899.7,1385.4 896.6,1384.2 900.0,1383.3 901.9,1384.2" fill="#c99a35"/><polygon points="1169.5,1372.5 1168.5,1373.4 1165.9,1373.5 1166.0,1372.4 1167.0,1371.7 1169.0,1371.9" fill="#eac65a"/><polygon points="732.6,1388.6 735.4,1391.4 733.2,1394.5 730.2,1391.6" fill="#d4a93c"/><polygon points="808.5,1394.6 812.3,1394.9 811.8,1397.5 808.7,1398.4 806.9,1397.7" fill="#f8e9a8"/><polygon points="850.0,1391.8 845.1,1394.2 842.1,1393.0 843.6,1390.9 847.7,1390.5" fill="#f8e9a8"/><polygon points="1224.2,1397.8 1220.8,1396.1 1224.5,1393.7 1228.0,1394.6 1229.5,1398.5" fill="#d4a93c"/><polygon points="1055.2,1365.7 1053.6,1369.3 1049.3,1368.7 1050.7,1365.4" fill="#f6e08f"/><polygon points="1272.0,1414.7 1270.4,1414.6 1270.3,1413.4 1272.0,1413.2" fill="#f0d36c"/><polygon points="792.1,1397.0 792.3,1397.7 792.0,1398.2 791.4,1398.3 791.2,1397.8 791.3,1397.4" fill="#e2bd4f"/><polygon points="769.3,1417.8 770.3,1419.3 767.6,1421.4 763.7,1421.4 764.9,1419.7" fill="#e2bd4f"/><polygon points="1248.1,1406.5 1247.4,1404.9 1249.3,1405.0 1250.7,1406.2" fill="#f6e08f"/><polygon points="992.6,1365.7 993.2,1365.8 992.4,1367.6 991.4,1367.2 989.9,1367.1 990.8,1365.8" fill="#d4a93c"/><polygon points="1091.2,1369.5 1091.2,1370.5 1089.5,1370.6 1089.1,1369.5" fill="#f8e9a8"/><polygon points="1232.6,1404.1 1231.6,1406.3 1229.1,1405.2 1230.4,1403.0" fill="#c99a35"/><polygon points="854.4,1384.9 856.5,1385.1 856.9,1387.5 854.1,1387.5 851.4,1387.8 852.7,1385.9" fill="#e2bd4f"/><polygon points="1154.9,1375.7 1154.1,1376.0 1152.4,1375.4 1152.5,1375.1 1153.4,1374.5 1154.3,1375.0" fill="#f0d36c"/><polygon points="1290.4,1407.3 1291.2,1410.0 1287.6,1408.8 1286.0,1406.1" fill="#f8e9a8"/><polygon points="862.3,1388.3 866.4,1387.7 869.8,1390.2 865.6,1391.4 861.6,1391.3 859.0,1390.3" fill="#d4a93c"/><polygon points="932.1,1361.5 931.2,1363.3 928.7,1364.8 926.8,1363.6 926.1,1361.6 930.1,1360.8" fill="#d4a93c"/><polygon points="1199.6,1390.2 1201.8,1389.8 1204.3,1391.0 1201.8,1391.6 1199.8,1390.9" fill="#f6e08f"/><polygon points="933.4,1372.8 934.1,1371.7 935.1,1371.1 937.1,1371.2 937.1,1372.5 936.4,1373.1" fill="#d4a93c"/><polygon points="721.4,1423.6 721.2,1424.4 719.1,1424.6 719.2,1423.7 721.1,1422.8" fill="#e2bd4f"/><polygon points="902.1,1367.8 901.8,1367.4 902.1,1366.9 902.9,1366.5 903.3,1367.4 902.7,1368.2" fill="#e2bd4f"/><polygon points="947.8,1369.7 950.7,1372.1 947.5,1374.1 946.4,1372.0" fill="#f8e9a8"/><polygon points="796.3,1376.7 799.8,1375.9 801.4,1377.3 798.7,1380.2 792.9,1378.8" fill="#f6e08f"/><polygon points="1294.3,1415.2 1295.8,1417.5 1294.0,1417.5 1292.9,1415.5" fill="#d4a93c"/><polygon points="704.1,1435.6 703.9,1436.7 703.3,1436.8 702.1,1436.1 703.0,1435.1 703.5,1435.0" fill="#e2bd4f"/><polygon points="1243.4,1391.1 1243.4,1389.9 1245.0,1390.5 1246.1,1391.2 1244.6,1392.2" fill="#f0d36c"/><polygon points="1253.7,1396.0 1255.5,1396.7 1255.5,1397.6 1255.4,1398.0 1253.2,1397.7 1252.5,1397.2" fill="#e2bd4f"/><polygon points="753.2,1404.4 754.7,1404.9 753.6,1406.4 750.4,1406.6 751.0,1405.3" fill="#d4a93c"/><polygon points="1330.6,1422.2 1333.8,1421.6 1336.2,1424.5 1335.1,1426.0 1331.2,1425.2" fill="#c99a35"/><polygon points="1344.4,1430.7 1341.8,1429.4 1342.8,1428.5 1344.2,1428.5 1345.2,1429.2 1345.0,1430.4" fill="#f8e9a8"/><polygon points="1063.3,1365.2 1063.5,1366.2 1062.5,1366.5 1061.2,1365.6 1062.1,1364.8" fill="#d4a93c"/><polygon points="717.8,1421.6 714.1,1421.3 715.4,1418.7 716.4,1417.6 721.1,1417.5 721.1,1419.3" fill="#eac65a"/><polygon points="694.9,1424.0 694.8,1427.2 692.4,1429.7 690.6,1428.7 689.4,1426.8 690.1,1425.1" fill="#eac65a"/><polygon points="1079.2,1375.2 1082.4,1375.6 1084.5,1376.4 1081.0,1378.3 1079.1,1377.5" fill="#d4a93c"/><polygon points="952.3,1354.7 955.1,1354.2 956.3,1358.1 952.2,1357.6" fill="#f0d36c"/><polygon points="758.6,1385.4 761.8,1385.5 760.5,1388.5 757.9,1388.2" fill="#c99a35"/><polygon points="1035.1,1381.1 1036.1,1382.0 1035.1,1382.8 1033.2,1381.9" fill="#f6e08f"/><polygon points="858.6,1383.3 857.0,1385.6 853.7,1385.7 855.0,1383.5" fill="#c99a35"/><polygon points="734.4,1418.0 735.8,1418.8 735.5,1421.7 732.3,1422.7 730.8,1420.0" fill="#f6e08f"/><polygon points="812.0,1390.8 811.3,1391.9 810.1,1391.9 809.2,1391.2 811.2,1390.3" fill="#eac65a"/><polygon points="709.3,1418.4 711.7,1415.8 714.4,1415.4 712.4,1418.9" fill="#c99a35"/><polygon points="1213.8,1394.7 1209.6,1393.0 1210.8,1390.7 1215.2,1390.7 1215.8,1394.2" fill="#e2bd4f"/><polygon points="1072.9,1360.1 1069.5,1360.9 1069.1,1359.5 1071.4,1359.2" fill="#f0d36c"/><polygon points="976.9,1378.3 975.9,1375.9 979.8,1375.4 981.8,1377.9" fill="#f6e08f"/><polygon points="1139.5,1374.5 1140.2,1372.6 1143.9,1374.1 1141.9,1375.9" fill="#f0d36c"/><polygon points="690.3,1436.7 690.1,1434.6 692.1,1433.7 692.8,1434.7 692.6,1436.2 691.1,1436.8" fill="#e2bd4f"/><polygon points="898.1,1368.5 896.0,1368.6 896.1,1367.4 898.8,1366.8 899.4,1367.0" fill="#e2bd4f"/><polygon points="1197.7,1395.9 1197.8,1395.3 1198.7,1394.9 1199.3,1395.6 1199.7,1396.5 1198.5,1396.5" fill="#eac65a"/><polygon points="784.1,1401.4 783.7,1400.1 785.2,1398.6 788.2,1397.8 789.5,1398.9 787.2,1400.5" fill="#f0d36c"/><polygon points="1057.7,1380.5 1059.0,1379.8 1059.9,1381.2 1058.2,1381.3" fill="#f0d36c"/><polygon points="913.1,1361.1 918.7,1363.2 915.1,1365.6 908.5,1366.2 909.5,1363.5" fill="#c99a35"/><polygon points="855.1,1383.0 853.3,1384.0 849.5,1385.0 847.5,1383.2 848.1,1381.3 851.7,1380.8" fill="#c99a35"/><polygon points="946.3,1361.2 947.2,1359.5 950.3,1359.1 952.1,1360.7 947.2,1362.1" fill="#eac65a"/><polygon points="694.1,1453.9 690.6,1455.1 692.0,1452.4 695.6,1451.8" fill="#f0d36c"/><polygon points="1082.8,1354.7 1082.9,1355.2 1081.3,1356.2 1080.4,1355.3 1080.4,1354.5" fill="#f8e9a8"/><polygon points="908.0,1373.4 909.8,1372.4 910.5,1372.1 911.8,1373.3 911.0,1373.9 909.5,1373.9" fill="#c99a35"/><polygon points="1286.8,1402.5 1287.2,1403.0 1286.7,1403.5 1285.9,1403.2" fill="#c99a35"/><polygon points="722.7,1431.1 720.6,1434.5 717.0,1434.1 713.8,1432.6 716.8,1431.0 719.5,1429.9" fill="#c99a35"/><polygon points="1019.3,1371.5 1020.1,1371.2 1020.3,1371.8 1020.0,1372.3 1019.4,1372.3 1019.0,1371.6" fill="#f6e08f"/><polygon points="1045.2,1371.5 1046.6,1373.0 1043.0,1374.1 1040.9,1372.6" fill="#eac65a"/><polygon points="1011.4,1377.4 1010.4,1378.1 1009.5,1377.2 1010.4,1376.2" fill="#f6e08f"/><polygon points="1079.3,1357.5 1074.7,1358.1 1072.2,1355.5 1074.3,1353.6 1080.5,1354.3 1081.4,1356.3" fill="#f8e9a8"/><polygon points="935.9,1376.2 932.4,1375.3 932.1,1374.5 934.3,1372.4 936.2,1372.3 937.8,1373.9" fill="#f6e08f"/><polygon points="982.4,1371.2 986.7,1370.2 988.5,1371.4 987.1,1373.4 982.9,1373.2" fill="#eac65a"/><polygon points="887.1,1368.8 888.7,1369.8 888.0,1371.3 886.5,1371.2 885.1,1370.2 885.4,1368.9" fill="#e2bd4f"/><polygon points="686.3,1436.1 687.0,1439.2 683.0,1439.8 683.2,1436.8" fill="#d4a93c"/><polygon points="826.4,1394.0 822.4,1394.6 821.7,1392.6 823.1,1391.4 826.0,1390.8" fill="#f0d36c"/><polygon points="782.8,1394.8 783.8,1396.5 781.2,1398.1 779.0,1397.2 779.2,1395.5" fill="#c99a35"/><polygon points="1273.6,1416.2 1271.3,1416.0 1270.3,1414.6 1273.4,1414.4" fill="#eac65a"/><polygon points="1111.3,1366.7 1113.9,1368.4 1111.7,1368.6 1109.7,1367.2" fill="#c99a35"/><polygon points="1015.6,1358.9 1016.4,1358.0 1020.6,1358.0 1021.2,1361.1 1016.5,1361.5" fill="#f6e08f"/><polygon points="809.8,1392.3 811.9,1391.4 811.8,1393.2 810.0,1393.3" fill="#c99a35"/><polygon points="1319.9,1417.5 1317.8,1418.2 1315.5,1417.3 1316.8,1414.6 1319.2,1415.2" fill="#f0d36c"/><polygon points="729.1,1422.3 727.1,1420.1 728.8,1418.4 731.8,1418.7 731.8,1419.5 731.9,1421.8" fill="#e2bd4f"/><polygon points="1321.6,1419.8 1324.2,1420.1 1324.4,1422.4 1321.0,1421.7" fill="#f6e08f"/><polygon points="851.7,1390.0 850.7,1389.2 851.5,1388.7 852.6,1388.9 852.4,1389.9" fill="#f0d36c"/><polygon points="790.7,1393.4 798.1,1391.6 796.9,1394.8 790.7,1396.1" fill="#f8e9a8"/><polygon points="1051.3,1366.9 1054.0,1367.0 1054.6,1368.3 1055.3,1369.3 1051.3,1369.9 1049.7,1368.3" fill="#eac65a"/><polygon points="686.2,1422.9 685.1,1424.9 682.7,1425.3 682.5,1422.6 683.3,1421.8" fill="#f6e08f"/><polygon points="690.6,1435.0 684.3,1437.9 682.8,1435.5 687.8,1432.2" fill="#e2bd4f"/><polygon points="955.5,1365.2 954.0,1365.5 952.7,1365.7 953.1,1364.5 954.2,1364.0 954.8,1364.0" fill="#f8e9a8"/><polygon points="792.4,1411.9 793.2,1413.9 790.2,1415.5 790.0,1412.7" fill="#f6e08f"/><polygon points="1090.2,1381.0 1091.3,1380.2 1093.1,1380.3 1093.1,1382.1" fill="#d4a93c"/><polygon points="861.7,1376.4 860.2,1375.6 860.0,1372.6 863.0,1371.9 864.9,1373.4 865.2,1374.7" fill="#f0d36c"/><polygon points="1121.3,1376.1 1121.4,1377.0 1117.8,1377.2 1115.5,1375.9 1117.0,1375.2" fill="#f6e08f"/><polygon points="736.7,1422.0 737.3,1419.3 739.2,1420.4 739.6,1420.9 737.9,1423.0" fill="#f8e9a8"/><polygon points="696.7,1420.7 693.0,1422.0 692.3,1420.6 695.3,1418.9" fill="#e2bd4f"/><polygon points="784.7,1406.5 783.0,1405.1 784.3,1402.4 785.5,1402.9 786.5,1404.5" fill="#f6e08f"/><polygon points="1162.4,1381.8 1160.2,1381.9 1159.4,1380.1 1162.2,1380.7" fill="#f8e9a8"/><polygon points="1129.7,1380.6 1127.6,1380.4 1128.0,1378.6 1129.5,1378.6" fill="#eac65a"/><polygon points="1233.1,1400.8 1233.1,1401.6 1230.9,1402.5 1229.4,1401.2 1230.4,1400.5" fill="#c99a35"/><polygon points="1007.6,1373.5 1009.9,1374.5 1009.2,1375.4 1008.7,1376.1 1004.9,1375.6 1004.8,1374.1" fill="#e2bd4f"/><polygon points="1010.7,1363.9 1013.2,1361.6 1017.5,1364.1 1016.1,1365.9 1010.0,1366.4" fill="#c99a35"/><polygon points="1008.9,1370.5 1005.7,1369.8 1006.6,1367.9 1009.1,1367.0 1009.7,1369.3" fill="#e2bd4f"/><polygon points="777.4,1403.9 781.9,1401.5 784.5,1402.2 785.8,1404.1 782.6,1406.2 778.0,1406.6" fill="#f6e08f"/><polygon points="869.6,1373.9 871.4,1374.9 868.7,1376.8 867.9,1375.3" fill="#f0d36c"/><polygon points="1011.6,1388.9 1013.4,1388.2 1014.5,1389.0 1013.9,1390.1 1012.9,1390.2 1011.0,1389.4" fill="#c99a35"/><polygon points="1247.5,1391.4 1246.3,1393.9 1244.3,1394.4 1243.8,1392.7 1243.4,1391.3 1245.8,1391.3" fill="#f8e9a8"/><polygon points="1263.2,1406.9 1264.3,1408.0 1265.5,1409.4 1262.8,1410.3 1261.4,1408.7 1261.5,1407.7" fill="#eac65a"/><polygon points="777.8,1393.7 776.0,1392.5 776.9,1391.1 779.4,1390.3 780.9,1391.8 780.1,1392.7" fill="#f8e9a8"/><polygon points="763.8,1415.1 766.4,1415.0 765.3,1416.7 763.5,1417.0" fill="#eac65a"/><polygon points="922.6,1366.5 921.0,1367.6 919.4,1366.9 920.7,1364.8 922.9,1364.3" fill="#d4a93c"/><polygon points="1190.5,1394.7 1190.9,1396.5 1189.3,1397.3 1188.2,1395.7 1189.2,1394.7" fill="#f6e08f"/><polygon points="917.2,1376.0 914.2,1374.1 916.8,1372.9 918.8,1374.9" fill="#f0d36c"/><polygon points="731.6,1415.8 733.3,1413.7 734.8,1413.3 735.2,1414.8 734.8,1415.9 733.1,1416.9" fill="#f8e9a8"/><polygon points="931.9,1372.4 933.1,1371.2 936.0,1372.3 934.7,1374.9 932.6,1374.6" fill="#f6e08f"/><polygon points="894.5,1353.1 892.4,1354.4 889.5,1355.1 889.2,1353.6 889.8,1352.9 892.4,1352.2" fill="#eac65a"/><polygon points="895.2,1368.7 894.6,1370.0 892.5,1371.0 891.9,1370.2 891.2,1368.9 894.6,1368.1" fill="#e2bd4f"/><polygon points="1020.5,1366.6 1021.4,1365.6 1023.5,1365.7 1024.7,1367.0 1022.7,1367.9" fill="#f8e9a8"/><polygon points="1040.8,1366.7 1039.2,1367.2 1037.6,1366.6 1039.4,1365.5" fill="#c99a35"/><polygon points="1293.6,1411.0 1291.0,1411.1 1290.7,1409.7 1291.7,1409.4" fill="#f8e9a8"/><polygon points="1237.3,1395.8 1238.5,1396.3 1238.2,1396.8 1237.9,1397.1 1237.0,1397.0 1236.5,1396.0" fill="#f0d36c"/><polygon points="1263.1,1418.7 1264.0,1419.8 1262.1,1420.0 1260.9,1419.0" fill="#d4a93c"/><polygon points="757.9,1407.3 761.0,1407.6 759.8,1411.0 757.1,1412.2 753.2,1411.5 751.4,1410.0" fill="#c99a35"/><polygon points="1299.1,1405.7 1298.9,1406.2 1297.9,1405.9 1297.3,1405.0 1298.4,1405.1" fill="#eac65a"/><polygon points="1236.5,1396.0 1237.1,1395.4 1240.0,1396.0 1240.0,1396.9 1239.5,1397.9 1237.1,1397.1" fill="#f8e9a8"/><polygon points="863.3,1384.3 862.8,1386.8 860.3,1388.0 860.9,1384.7" fill="#e2bd4f"/><polygon points="1281.9,1412.6 1282.5,1413.5 1280.6,1414.8 1279.9,1414.3 1280.3,1412.7" fill="#e2bd4f"/><polygon points="1083.1,1373.0 1082.8,1373.7 1081.6,1373.3 1082.3,1372.3" fill="#f8e9a8"/><polygon points="1006.2,1374.0 1010.0,1375.9 1007.8,1377.9 1002.8,1378.5 1003.0,1377.0 1001.9,1374.6" fill="#e2bd4f"/><polygon points="1072.6,1374.3 1074.3,1374.5 1075.1,1374.9 1073.8,1375.8 1073.2,1376.0 1072.0,1375.1" fill="#c99a35"/><polygon points="966.1,1374.8 966.7,1373.6 968.9,1373.8 969.6,1374.2 969.1,1375.6 966.7,1375.9" fill="#eac65a"/><polygon points="1076.3,1365.3 1073.6,1364.7 1075.5,1363.6 1077.4,1363.9 1077.5,1365.3" fill="#f0d36c"/><polygon points="890.7,1376.3 888.1,1377.4 885.9,1377.6 886.1,1374.6 887.2,1374.3 890.5,1375.2" fill="#d4a93c"/><polygon points="1180.2,1392.0 1181.8,1392.5 1183.6,1393.4 1182.4,1394.5 1180.8,1395.0 1179.1,1393.1" fill="#e2bd4f"/><polygon points="1261.3,1400.6 1265.2,1402.8 1263.2,1404.1 1260.1,1405.0 1257.9,1403.3 1257.4,1401.0" fill="#e2bd4f"/><polygon points="1217.1,1382.7 1214.5,1381.1 1219.5,1379.8 1221.1,1380.6 1225.2,1384.1 1221.3,1384.6" fill="#f0d36c"/><polygon points="898.1,1374.4 896.0,1375.6 892.4,1374.6 893.7,1373.3 896.3,1373.1" fill="#f0d36c"/><polygon points="916.0,1375.2 915.2,1375.2 915.6,1374.3 916.4,1374.0 917.0,1375.3" fill="#f0d36c"/><polygon points="1194.8,1391.0 1196.7,1389.5 1198.3,1391.3 1196.2,1392.5" fill="#c99a35"/><polygon points="1220.0,1388.8 1222.6,1391.3 1221.6,1393.3 1215.5,1391.6" fill="#d4a93c"/><polygon points="1129.4,1385.8 1128.3,1385.2 1128.4,1384.1 1130.0,1384.5 1130.0,1385.1" fill="#d4a93c"/><polygon points="930.6,1356.3 930.0,1356.9 928.8,1356.4 929.7,1355.6" fill="#eac65a"/><polygon points="715.7,1416.3 715.5,1414.7 716.7,1413.2 719.0,1414.0 719.2,1415.4" fill="#f6e08f"/><polygon points="1219.0,1404.5 1224.2,1404.6 1222.2,1407.8 1219.8,1407.2" fill="#d4a93c"/><polygon points="1158.7,1374.5 1159.7,1376.1 1158.0,1378.6 1155.1,1377.2 1155.0,1374.5" fill="#f0d36c"/><polygon points="989.8,1368.4 990.2,1366.9 994.4,1367.0 995.1,1368.6 991.3,1370.2" fill="#eac65a"/><polygon points="1235.2,1398.1 1236.0,1398.3 1235.9,1399.8 1235.0,1399.3" fill="#eac65a"/><polygon points="1306.3,1424.5 1304.8,1423.6 1304.6,1422.5 1305.5,1422.4 1307.0,1423.4" fill="#f0d36c"/><polygon points="1298.7,1399.3 1302.4,1402.0 1299.5,1404.5 1295.2,1401.6" fill="#eac65a"/><polygon points="764.7,1405.4 765.2,1403.9 767.1,1403.0 768.1,1404.6 767.5,1405.6 766.2,1406.8" fill="#f6e08f"/><polygon points="1230.1,1411.8 1226.8,1409.0 1229.6,1408.0 1232.2,1407.5 1233.9,1410.6" fill="#eac65a"/><polygon points="1026.0,1369.7 1026.1,1367.8 1029.5,1367.8 1029.6,1368.8 1029.3,1370.4 1027.7,1370.8" fill="#f6e08f"/><polygon points="952.0,1356.5 951.2,1354.4 952.1,1352.5 955.6,1353.7 954.3,1355.3" fill="#c99a35"/><polygon points="919.3,1364.3 916.5,1362.7 920.4,1361.9 921.8,1363.1" fill="#f6e08f"/><polygon points="1209.5,1385.0 1206.6,1385.9 1205.7,1383.0 1206.3,1381.9 1209.6,1382.3" fill="#e2bd4f"/><polygon points="1327.9,1414.7 1326.9,1413.9 1326.8,1413.2 1327.2,1413.1 1328.7,1413.7 1329.1,1414.5" fill="#eac65a"/><polygon points="1225.4,1396.5 1226.8,1396.8 1226.6,1397.9 1224.9,1397.4" fill="#c99a35"/><polygon points="1156.7,1393.8 1156.2,1394.5 1154.6,1393.7 1154.7,1392.4 1155.9,1392.1 1156.3,1392.6" fill="#c99a35"/><polygon points="928.8,1372.3 927.8,1373.7 925.5,1373.8 924.1,1372.5 925.8,1371.8" fill="#f8e9a8"/><polygon points="1318.6,1431.5 1318.5,1434.3 1317.6,1434.0 1315.0,1432.9 1316.1,1431.7 1316.9,1431.6" fill="#eac65a"/><polygon points="1294.5,1403.5 1295.7,1404.1 1295.2,1404.5 1294.9,1405.2 1294.0,1405.4 1293.5,1404.4" fill="#f6e08f"/><polygon points="1291.6,1408.7 1291.7,1409.4 1290.5,1409.4 1290.0,1409.1 1289.6,1408.2 1290.7,1408.1" fill="#f8e9a8"/><polygon points="823.4,1376.3 819.5,1374.7 822.7,1372.6 825.4,1374.1" fill="#eac65a"/><polygon points="984.7,1356.3 986.2,1359.8 978.0,1359.6 979.0,1358.0" fill="#f8e9a8"/><polygon points="1153.3,1383.0 1159.7,1381.7 1160.8,1385.2 1156.1,1385.2" fill="#f0d36c"/><polygon points="1063.3,1373.5 1062.3,1373.9 1061.7,1373.9 1060.7,1373.2 1060.7,1372.0 1062.0,1372.3" fill="#d4a93c"/><polygon points="1222.1,1391.5 1219.7,1392.6 1217.0,1390.5 1219.8,1390.5" fill="#f8e9a8"/><polygon points="711.3,1421.1 712.4,1424.6 710.4,1425.9 708.5,1424.0" fill="#e2bd4f"/><polygon points="807.4,1380.7 808.3,1383.4 805.0,1385.4 804.1,1382.7" fill="#d4a93c"/><polygon points="742.4,1417.7 741.9,1418.1 740.9,1417.0 741.4,1416.2 742.9,1415.3 743.6,1416.3" fill="#eac65a"/><polygon points="958.5,1372.3 956.8,1374.9 954.8,1373.1 955.5,1370.7" fill="#e2bd4f"/><polygon points="813.3,1390.4 812.2,1390.2 812.4,1389.2 813.7,1388.8" fill="#f6e08f"/><polygon points="720.5,1424.4 719.0,1425.7 718.0,1425.1 717.2,1424.7 718.8,1423.5" fill="#eac65a"/><polygon points="694.7,1426.8 698.3,1428.2 696.2,1430.5 693.0,1428.2" fill="#eac65a"/><polygon points="1324.8,1436.8 1324.9,1437.5 1323.1,1437.7 1322.2,1436.3" fill="#f8e9a8"/><polygon points="825.8,1397.5 823.3,1396.6 825.4,1395.6 828.4,1394.7 828.6,1397.2" fill="#c99a35"/><polygon points="1003.8,1383.4 1004.0,1382.6 1005.9,1383.2 1005.8,1384.0 1004.5,1384.6 1003.1,1384.0" fill="#d4a93c"/><polygon points="1237.9,1404.3 1240.3,1403.6 1242.0,1405.7 1239.8,1406.9 1238.5,1406.2" fill="#f8e9a8"/><polygon points="1304.9,1410.5 1305.2,1408.7 1306.2,1407.7 1309.3,1409.8 1309.4,1411.0 1306.1,1411.4" fill="#d4a93c"/><polygon points="1129.4,1370.6 1129.6,1374.1 1126.9,1372.8 1124.5,1370.2 1128.7,1369.4" fill="#e2bd4f"/><polygon points="1118.5,1357.9 1120.9,1358.3 1121.1,1360.2 1118.8,1362.2 1116.5,1360.0" fill="#d4a93c"/><polygon points="1329.5,1418.3 1328.9,1419.7 1327.2,1418.8 1327.5,1417.4" fill="#f6e08f"/><polygon points="1108.6,1372.6 1110.8,1373.2 1111.0,1374.4 1107.1,1373.8" fill="#c99a35"/><polygon points="1006.5,1363.1 1007.7,1364.7 1008.5,1366.8 1004.3,1366.6 1001.7,1365.2 1003.6,1362.9" fill="#f8e9a8"/><polygon points="904.5,1369.7 904.9,1367.6 908.8,1367.1 908.1,1370.6" fill="#eac65a"/><polygon points="1198.9,1391.8 1200.9,1393.2 1202.1,1393.8 1199.5,1395.2 1198.2,1394.5 1198.3,1393.2" fill="#eac65a"/><polygon points="1190.0,1390.1 1184.6,1391.6 1180.3,1389.8 1184.9,1386.9" fill="#f6e08f"/><polygon points="773.1,1414.2 773.7,1413.1 775.2,1412.9 775.7,1413.8 775.4,1414.8 773.9,1414.8" fill="#f8e9a8"/><polygon points="772.3,1393.4 775.1,1393.6 773.6,1395.7 771.2,1396.0" fill="#eac65a"/><polygon points="702.3,1434.8 703.1,1433.3 704.5,1433.8 703.2,1435.0" fill="#c99a35"/><polygon points="937.4,1371.0 936.8,1369.7 937.7,1368.9 938.9,1369.7 938.6,1370.2" fill="#eac65a"/><polygon points="1292.5,1399.4 1290.2,1398.6 1289.6,1397.7 1290.9,1396.1 1292.9,1396.9 1293.0,1398.8" fill="#c99a35"/><polygon points="847.8,1377.8 843.4,1380.4 842.2,1379.6 839.7,1378.3 841.6,1376.6 844.7,1377.0" fill="#f8e9a8"/><polygon points="763.0,1411.4 762.7,1412.6 760.8,1413.5 759.5,1412.6 760.0,1411.6 761.2,1411.2" fill="#c99a35"/><polygon points="842.2,1373.7 843.4,1374.5 840.6,1376.0 839.9,1374.8" fill="#eac65a"/><polygon points="1340.3,1436.1 1339.1,1437.1 1338.2,1436.6 1339.5,1435.2" fill="#f6e08f"/><polygon points="1226.1,1404.9 1227.1,1401.8 1233.7,1404.1 1232.5,1406.2" fill="#d4a93c"/><polygon points="1319.3,1424.0 1314.3,1424.3 1313.9,1422.6 1316.2,1421.1" fill="#f6e08f"/><polygon points="1247.5,1394.3 1250.1,1395.6 1250.1,1396.7 1246.9,1397.4 1246.5,1395.4" fill="#eac65a"/><polygon points="753.6,1406.5 753.0,1408.2 750.5,1408.6 751.0,1407.4 752.5,1406.0" fill="#f8e9a8"/><polygon points="811.9,1389.6 810.1,1390.5 807.9,1390.4 808.0,1389.7 810.8,1388.8 811.7,1389.4" fill="#f0d36c"/><polygon points="825.7,1395.8 826.5,1394.5 827.7,1393.9 828.5,1394.4 829.2,1395.5 827.1,1396.1" fill="#eac65a"/><polygon points="1129.9,1388.6 1127.8,1386.7 1132.1,1385.1 1134.4,1388.5" fill="#e2bd4f"/><polygon points="1071.9,1361.4 1069.5,1364.1 1063.2,1362.5 1065.0,1359.9" fill="#c99a35"/><polygon points="891.3,1383.7 893.1,1382.9 894.6,1383.6 893.9,1385.7 892.8,1385.6" fill="#f0d36c"/><polygon points="724.5,1419.9 727.5,1420.3 727.1,1423.0 723.5,1424.9 721.3,1422.3" fill="#f6e08f"/><polygon points="909.7,1362.8 912.8,1362.0 913.4,1362.9 911.4,1364.3 910.6,1363.7" fill="#f8e9a8"/><polygon points="909.1,1368.7 905.8,1369.6 905.9,1367.1 908.7,1367.1" fill="#f0d36c"/><polygon points="774.6,1401.3 774.1,1402.5 770.9,1402.6 772.3,1401.6" fill="#c99a35"/><polygon points="1339.7,1434.5 1341.4,1434.4 1342.8,1434.0 1343.9,1436.1 1342.4,1436.6 1340.5,1435.7" fill="#f0d36c"/><polygon points="936.5,1395.4 938.0,1396.5 933.5,1397.3 932.0,1395.9" fill="#f6e08f"/><polygon points="757.2,1406.9 756.7,1405.1 762.0,1404.1 764.0,1405.0 758.9,1409.3" fill="#f0d36c"/><polygon points="1240.4,1384.2 1239.1,1384.0 1239.4,1383.0 1240.6,1383.4" fill="#d4a93c"/><polygon points="786.2,1399.8 786.6,1398.0 788.3,1396.9 789.4,1397.4 789.0,1399.6 787.0,1399.6" fill="#d4a93c"/><polygon points="906.9,1373.2 907.7,1374.2 907.2,1375.3 905.3,1375.5 903.0,1375.0 904.6,1373.9" fill="#e2bd4f"/><polygon points="922.2,1376.5 921.4,1376.8 920.7,1375.9 920.8,1375.4 922.0,1374.2 922.4,1375.0" fill="#eac65a"/><polygon points="1203.3,1402.0 1204.0,1402.0 1205.2,1403.2 1204.2,1403.6 1203.3,1403.4 1202.3,1402.6" fill="#d4a93c"/><polygon points="1337.3,1421.4 1338.1,1421.2 1339.0,1421.4 1339.7,1422.3 1338.4,1422.9 1337.3,1422.2" fill="#e2bd4f"/><polygon points="1324.5,1421.3 1321.7,1420.1 1322.0,1417.8 1326.4,1418.9 1327.0,1420.2" fill="#f8e9a8"/><polygon points="971.1,1357.3 969.7,1358.3 967.5,1357.3 969.0,1354.7 971.2,1354.2" fill="#c99a35"/><polygon points="1123.1,1360.1 1124.5,1360.4 1125.2,1361.2 1124.6,1361.6 1123.5,1362.0 1122.4,1360.7" fill="#f6e08f"/><polygon points="961.2,1371.9 958.9,1371.4 959.2,1369.1 961.1,1367.3 962.8,1369.2 963.4,1371.6" fill="#f0d36c"/><polygon points="927.7,1374.4 925.0,1375.5 922.5,1374.7 922.8,1374.0 924.5,1373.0 927.7,1373.8" fill="#f8e9a8"/><polygon points="1252.0,1392.3 1256.2,1393.8 1257.0,1395.2 1253.2,1395.7 1252.3,1395.3 1250.5,1392.9" fill="#eac65a"/><polygon points="767.9,1396.3 763.3,1398.0 762.5,1393.7 766.8,1393.5" fill="#f8e9a8"/><polygon points="704.1,1434.6 701.2,1438.1 699.7,1438.3 697.9,1437.0 699.4,1435.3 702.9,1433.5" fill="#c99a35"/><polygon points="954.6,1352.1 955.3,1353.3 953.7,1354.6 951.2,1353.7 951.0,1351.9 954.2,1351.2" fill="#f8e9a8"/><polygon points="689.5,1431.1 689.6,1430.5 690.5,1429.9 691.2,1430.8 690.4,1431.3 689.6,1431.4" fill="#eac65a"/><polygon points="1217.5,1390.5 1219.8,1388.0 1222.4,1389.0 1220.7,1390.9" fill="#f0d36c"/><polygon points="1123.8,1375.1 1121.9,1374.9 1121.8,1373.5 1124.4,1374.0" fill="#e2bd4f"/><polygon points="1107.8,1375.9 1108.3,1377.0 1106.5,1377.8 1101.9,1377.0 1104.8,1375.0" fill="#e2bd4f"/><polygon points="1222.0,1398.9 1219.4,1400.1 1217.2,1399.9 1216.2,1397.7 1217.2,1396.1 1221.8,1397.8" fill="#eac65a"/><polygon points="928.1,1375.9 929.1,1377.0 928.4,1378.1 926.7,1376.9" fill="#f0d36c"/><polygon points="1166.9,1383.0 1167.2,1381.7 1168.7,1381.8 1169.4,1382.7 1168.7,1383.8 1167.5,1383.8" fill="#d4a93c"/><polygon points="863.6,1377.9 861.6,1379.3 859.3,1378.1 861.3,1377.1 863.6,1376.7" fill="#d4a93c"/><polygon points="1101.1,1372.8 1097.3,1373.0 1094.6,1372.9 1094.1,1371.0 1096.9,1369.9 1101.4,1370.8" fill="#d4a93c"/><polygon points="1231.1,1380.1 1233.0,1379.6 1233.7,1380.8 1232.8,1381.3" fill="#f0d36c"/><polygon points="1066.1,1379.0 1069.0,1379.9 1066.5,1381.9 1064.6,1379.9" fill="#e2bd4f"/><polygon points="1107.1,1384.9 1110.6,1386.6 1109.7,1387.7 1106.6,1387.5 1105.3,1386.5 1105.3,1384.7" fill="#d4a93c"/><polygon points="715.0,1425.2 715.8,1427.3 714.2,1428.9 710.3,1430.3 708.7,1430.7 711.0,1427.8" fill="#f0d36c"/><polygon points="719.1,1426.9 717.3,1427.4 717.0,1426.8 718.7,1425.3 719.6,1426.4" fill="#f6e08f"/><polygon points="1197.5,1395.0 1199.2,1397.1 1197.7,1399.5 1195.3,1399.1 1191.7,1397.7 1194.1,1396.2" fill="#d4a93c"/><polygon points="735.6,1430.4 734.7,1429.4 734.7,1428.7 736.3,1428.1 736.8,1428.9 736.6,1429.9" fill="#e2bd4f"/><polygon points="1008.7,1371.6 1010.4,1372.1 1009.1,1373.0 1007.8,1372.7" fill="#eac65a"/><polygon points="1315.3,1433.1 1314.4,1428.8 1318.6,1430.1 1319.1,1432.2" fill="#c99a35"/><polygon points="864.6,1373.1 866.6,1374.4 862.0,1375.8 861.9,1373.9" fill="#f0d36c"/><polygon points="1088.8,1362.5 1090.5,1362.2 1090.8,1363.9 1090.0,1365.0 1088.4,1364.6 1088.1,1363.0" fill="#e2bd4f"/><polygon points="1304.2,1412.7 1304.8,1413.2 1303.5,1413.9 1302.7,1413.7 1302.1,1412.6 1302.5,1412.4" fill="#f8e9a8"/><polygon points="1005.5,1354.3 1006.1,1355.1 1005.6,1355.4 1002.7,1355.7 1002.5,1355.1 1003.4,1354.5" fill="#f0d36c"/><polygon points="734.7,1414.6 733.6,1416.6 731.1,1417.0 729.4,1417.4 731.4,1414.4 733.3,1414.2" fill="#e2bd4f"/><polygon points="733.0,1410.4 731.5,1409.4 731.8,1408.5 733.9,1407.9 734.3,1409.3" fill="#d4a93c"/><polygon points="859.8,1368.4 855.6,1367.7 857.3,1365.7 862.3,1365.7" fill="#c99a35"/><polygon points="934.9,1370.1 934.0,1371.7 932.9,1371.8 932.3,1370.6 933.5,1369.9" fill="#e2bd4f"/><polygon points="1170.3,1396.4 1168.6,1397.5 1166.9,1396.5 1167.3,1394.7 1169.3,1394.9" fill="#c99a35"/><polygon points="1181.2,1394.8 1182.4,1395.4 1181.4,1396.1 1180.2,1396.3 1179.8,1395.7 1180.5,1394.8" fill="#f8e9a8"/><polygon points="1313.6,1423.3 1311.6,1423.1 1308.8,1420.5 1313.9,1421.4" fill="#c99a35"/><polygon points="730.3,1416.9 731.5,1416.5 732.9,1416.9 731.4,1417.8" fill="#f6e08f"/><polygon points="1022.0,1353.4 1020.6,1355.5 1014.8,1354.3 1015.9,1351.9 1021.6,1351.0" fill="#f6e08f"/><polygon points="707.5,1416.7 707.7,1415.0 709.7,1414.4 711.4,1414.3 711.1,1415.4 709.7,1417.1" fill="#d4a93c"/><polygon points="840.6,1367.9 839.3,1368.8 838.4,1368.8 838.2,1367.4 839.9,1366.9" fill="#f6e08f"/><polygon points="1310.5,1429.9 1310.3,1428.4 1311.6,1428.2 1312.4,1428.7 1312.5,1429.5 1311.3,1430.2" fill="#eac65a"/><polygon points="1104.5,1379.1 1105.3,1377.9 1107.8,1377.8 1110.8,1379.6 1109.8,1380.8 1106.1,1381.4" fill="#d4a93c"/><polygon points="1154.9,1387.8 1157.5,1386.4 1159.0,1387.9 1160.0,1390.8 1157.5,1391.0 1155.3,1391.0" fill="#d4a93c"/><polygon points="976.5,1375.7 977.3,1374.9 979.2,1374.5 980.7,1376.4 978.9,1377.5 978.0,1376.9" fill="#f0d36c"/><polygon points="1113.1,1384.7 1113.1,1384.1 1115.2,1383.9 1116.4,1385.1 1114.8,1385.4" fill="#c99a35"/><polygon points="858.7,1379.2 857.6,1380.7 856.1,1379.9 856.5,1379.0" fill="#f6e08f"/><polygon points="1340.8,1437.0 1341.4,1437.6 1340.5,1438.6 1339.4,1438.2 1339.3,1437.1 1340.0,1436.6" fill="#e2bd4f"/><polygon points="764.4,1413.0 761.5,1415.3 758.8,1414.9 763.4,1412.3" fill="#eac65a"/><polygon points="945.7,1344.1 941.9,1345.5 937.8,1343.8 942.0,1341.6" fill="#c99a35"/><polygon points="1330.7,1434.3 1328.2,1434.5 1327.8,1433.1 1329.6,1433.1" fill="#f0d36c"/><polygon points="716.5,1443.5 712.2,1446.1 709.7,1443.2 712.1,1441.4 716.1,1440.4" fill="#eac65a"/><polygon points="1089.6,1367.7 1091.3,1368.3 1090.0,1369.8 1085.6,1370.1 1084.5,1369.6 1084.3,1367.7" fill="#f8e9a8"/><polygon points="1169.0,1397.6 1167.0,1398.8 1166.6,1399.4 1164.1,1397.9 1163.7,1395.9 1165.7,1395.4" fill="#eac65a"/><polygon points="710.5,1417.3 713.6,1417.1 711.6,1420.2 708.5,1422.2 707.2,1420.2" fill="#d4a93c"/><polygon points="718.1,1421.2 714.8,1421.9 715.6,1419.3 717.4,1419.3" fill="#f0d36c"/><polygon points="1191.3,1383.4 1193.0,1384.6 1191.8,1385.9 1187.1,1385.7 1184.4,1384.0 1187.0,1382.7" fill="#f0d36c"/><polygon points="1289.2,1421.0 1286.7,1420.9 1285.6,1419.5 1286.2,1418.6 1288.6,1419.5" fill="#eac65a"/><polygon points="880.3,1366.1 883.7,1364.7 884.8,1366.2 884.7,1366.9 881.1,1367.0" fill="#f8e9a8"/><polygon points="700.6,1434.7 698.2,1433.5 699.4,1431.1 701.9,1431.6 702.2,1433.4" fill="#c99a35"/><polygon points="1041.0,1365.2 1042.2,1362.6 1044.1,1362.2 1044.1,1364.9" fill="#f8e9a8"/><polygon points="1115.2,1375.2 1115.0,1376.5 1112.5,1377.1 1110.6,1375.7 1112.0,1374.4 1114.0,1374.8" fill="#d4a93c"/><polygon points="878.0,1385.6 881.3,1384.3 885.9,1383.2 887.8,1384.7 885.0,1386.5 881.7,1387.6" fill="#f0d36c"/><polygon points="830.9,1379.2 830.9,1378.0 831.0,1377.1 834.7,1376.7 835.1,1378.1 833.3,1379.5" fill="#eac65a"/><polygon points="1110.6,1375.3 1111.8,1374.9 1113.0,1375.0 1112.8,1375.8 1112.5,1376.7 1110.9,1376.1" fill="#f0d36c"/><polygon points="790.5,1399.8 792.5,1398.2 794.8,1398.7 792.7,1400.5" fill="#f6e08f"/><polygon points="947.9,1370.6 947.1,1371.6 946.2,1371.7 945.7,1370.6 946.7,1370.0" fill="#e2bd4f"/><polygon points="1122.6,1389.7 1120.5,1390.4 1119.6,1388.4 1121.1,1388.0" fill="#c99a35"/><polygon points="964.9,1359.0 966.7,1359.7 967.5,1361.0 964.6,1361.8 962.7,1361.6 961.5,1359.9" fill="#f0d36c"/><polygon points="930.8,1389.6 932.1,1388.5 933.6,1388.6 934.5,1389.2 933.0,1390.5 930.9,1390.2" fill="#eac65a"/><polygon points="767.6,1415.6 769.4,1416.8 769.7,1418.7 768.7,1419.2 766.9,1417.4" fill="#e2bd4f"/><polygon points="732.1,1418.8 733.1,1420.3 731.7,1422.5 730.2,1422.1 729.2,1420.2 730.4,1419.9" fill="#c99a35"/><polygon points="977.0,1362.3 971.4,1362.0 971.6,1360.3 974.4,1358.7 977.6,1359.8 979.2,1360.7" fill="#c99a35"/><polygon points="981.3,1363.5 975.4,1364.0 972.8,1362.9 973.4,1361.0 979.5,1359.8 980.7,1361.2" fill="#d4a93c"/><polygon points="732.2,1427.9 731.1,1426.4 734.5,1423.7 737.1,1424.1 735.3,1428.3" fill="#e2bd4f"/><polygon points="906.8,1360.3 907.2,1362.3 904.1,1363.8 901.6,1361.7 902.0,1359.5 903.4,1359.3" fill="#f6e08f"/><polygon points="1171.7,1395.2 1172.4,1392.5 1176.2,1393.8 1178.1,1394.6 1178.1,1396.9 1173.6,1396.7" fill="#d4a93c"/><polygon points="1268.1,1408.6 1270.3,1406.3 1273.4,1407.0 1274.1,1408.0 1274.2,1409.8 1270.1,1409.8" fill="#f0d36c"/><polygon points="846.6,1366.3 847.6,1367.1 844.3,1368.9 840.3,1369.0 839.8,1366.7 843.0,1365.7" fill="#d4a93c"/><polygon points="1181.4,1391.9 1179.8,1392.8 1178.9,1391.7 1179.7,1389.8 1181.2,1390.0" fill="#f0d36c"/><polygon points="956.1,1372.9 952.7,1372.9 954.1,1370.8 956.2,1370.6" fill="#f0d36c"/><polygon points="1275.2,1424.3 1272.1,1424.4 1269.6,1423.2 1270.2,1422.4 1272.4,1422.2" fill="#eac65a"/><polygon points="1247.4,1395.5 1249.4,1397.7 1246.9,1397.7 1245.1,1396.1" fill="#f6e08f"/><polygon points="857.8,1388.3 861.7,1388.5 862.9,1389.6 860.3,1392.4 855.8,1393.1 853.4,1390.7" fill="#c99a35"/><polygon points="1074.4,1375.2 1071.2,1375.0 1070.8,1373.3 1074.9,1372.7 1076.5,1374.5" fill="#f6e08f"/><polygon points="1173.6,1385.8 1175.8,1386.1 1176.3,1388.9 1173.8,1388.8" fill="#e2bd4f"/><polygon points="1255.1,1398.5 1259.9,1397.1 1265.1,1400.7 1262.6,1402.3 1257.4,1401.1" fill="#d4a93c"/><polygon points="1228.0,1399.6 1227.7,1400.8 1226.1,1400.8 1225.2,1399.9 1226.5,1398.9" fill="#f0d36c"/><polygon points="1083.3,1375.5 1081.6,1375.3 1079.5,1373.0 1082.3,1371.9 1084.3,1373.8" fill="#e2bd4f"/><polygon points="1109.0,1375.1 1111.1,1377.3 1108.0,1380.1 1103.4,1378.0 1103.4,1376.5 1106.1,1375.3" fill="#c99a35"/><polygon points="1196.3,1365.3 1198.0,1365.6 1197.4,1366.8 1196.1,1366.4" fill="#e2bd4f"/><polygon points="1044.9,1362.4 1046.1,1362.4 1046.4,1363.6 1046.4,1364.0 1044.9,1364.2 1044.4,1363.5" fill="#c99a35"/><polygon points="699.0,1432.1 701.4,1432.0 699.2,1435.2 697.9,1433.1" fill="#eac65a"/><polygon points="867.9,1383.8 868.4,1385.3 865.2,1386.1 864.2,1385.0" fill="#e2bd4f"/><polygon points="715.0,1437.1 712.4,1441.5 708.8,1440.8 711.4,1435.8" fill="#eac65a"/><polygon points="854.5,1390.9 854.0,1390.1 855.3,1389.6 856.2,1389.8 857.1,1390.4 855.5,1390.9" fill="#f8e9a8"/><polygon points="1247.5,1409.7 1245.2,1409.0 1244.9,1408.4 1246.2,1407.9 1247.2,1408.6" fill="#eac65a"/><polygon points="772.3,1406.6 769.0,1408.7 765.9,1409.6 765.8,1406.2 770.3,1404.7" fill="#d4a93c"/><polygon points="967.8,1365.8 967.3,1367.4 965.8,1367.6 964.7,1365.6 966.6,1364.5" fill="#f0d36c"/><polygon points="1172.2,1395.6 1170.6,1393.7 1174.2,1391.8 1177.3,1394.7" fill="#c99a35"/><polygon points="1335.5,1419.8 1336.6,1421.8 1333.6,1421.0 1334.0,1419.3" fill="#c99a35"/><polygon points="697.9,1414.3 699.1,1412.0 700.4,1412.4 701.6,1413.2 699.5,1415.7" fill="#d4a93c"/><polygon points="984.8,1372.5 983.5,1373.4 982.0,1374.2 980.2,1373.6 980.5,1372.2 981.9,1371.9" fill="#eac65a"/><polygon points="1018.1,1368.3 1020.3,1371.4 1014.7,1373.0 1013.0,1370.5" fill="#c99a35"/><polygon points="857.4,1383.3 859.7,1381.3 861.5,1381.9 860.7,1384.5 858.3,1384.3" fill="#c99a35"/><polygon points="933.5,1361.9 934.9,1359.6 939.3,1359.2 941.3,1360.8 942.5,1362.0 937.4,1363.1" fill="#d4a93c"/><polygon points="689.0,1432.0 688.8,1433.0 687.9,1433.4 686.9,1433.8 686.8,1432.7 687.6,1431.6" fill="#eac65a"/><polygon points="1256.6,1407.4 1256.1,1409.4 1253.3,1408.5 1251.8,1406.0 1254.8,1405.8" fill="#eac65a"/><polygon points="1221.1,1389.1 1221.4,1387.8 1225.0,1388.9 1226.0,1390.2 1224.5,1391.6 1222.3,1390.5" fill="#f6e08f"/><polygon points="870.7,1384.1 871.5,1384.9 870.7,1385.5 869.5,1385.5 868.7,1385.0 870.0,1383.7" fill="#eac65a"/><polygon points="1325.5,1419.2 1322.7,1418.6 1323.1,1417.3 1325.1,1417.1" fill="#f0d36c"/><polygon points="732.8,1417.0 735.5,1414.3 736.8,1415.7 737.6,1416.8 734.4,1418.3 731.9,1417.9" fill="#d4a93c"/><polygon points="991.3,1383.2 991.4,1383.9 990.2,1384.1 989.3,1384.3 988.6,1383.4 989.9,1382.8" fill="#f6e08f"/><polygon points="1214.1,1392.7 1213.9,1395.0 1212.6,1395.5 1209.8,1395.1 1208.9,1391.9 1212.3,1391.1" fill="#f6e08f"/><polygon points="743.9,1415.9 739.9,1417.6 735.3,1417.0 738.6,1414.9 741.7,1412.9 745.0,1414.3" fill="#e2bd4f"/><polygon points="1034.2,1376.0 1035.9,1375.6 1035.9,1378.5 1033.0,1378.5 1032.5,1376.7" fill="#e2bd4f"/><polygon points="712.6,1422.9 712.7,1423.7 711.5,1424.3 710.7,1423.5 711.6,1422.7" fill="#f8e9a8"/><polygon points="941.0,1375.1 940.3,1377.5 937.4,1377.6 935.6,1376.4 937.8,1374.0 941.0,1374.0" fill="#eac65a"/><polygon points="1276.3,1397.2 1276.9,1400.2 1272.7,1398.9 1273.1,1396.4" fill="#f6e08f"/><polygon points="1168.9,1397.2 1165.7,1395.5 1167.7,1393.3 1170.8,1396.0" fill="#eac65a"/><polygon points="783.2,1402.2 787.1,1399.4 789.4,1402.7 786.0,1403.6" fill="#f0d36c"/><polygon points="1333.2,1421.1 1325.9,1418.2 1329.5,1416.2 1333.7,1419.3" fill="#eac65a"/><polygon points="837.7,1379.3 837.2,1380.4 836.8,1381.4 834.6,1381.4 834.0,1380.5 835.3,1379.6" fill="#e2bd4f"/><polygon points="792.9,1380.4 792.4,1381.2 791.5,1380.7 791.4,1380.2 791.6,1379.3 792.8,1379.2" fill="#e2bd4f"/><polygon points="891.8,1361.4 891.7,1362.4 890.7,1362.4 889.9,1361.3 890.9,1361.3" fill="#eac65a"/><polygon points="760.3,1399.1 758.7,1398.9 758.6,1397.4 761.6,1397.1 762.3,1398.3" fill="#f6e08f"/><polygon points="834.9,1395.0 835.0,1393.7 837.1,1393.1 839.0,1393.8 837.4,1395.6" fill="#f0d36c"/><polygon points="978.1,1388.0 979.5,1389.6 978.2,1390.3 976.6,1390.0 977.3,1388.6" fill="#eac65a"/><polygon points="772.3,1404.2 773.7,1404.7 772.8,1405.9 771.5,1407.0 770.0,1406.5 771.1,1404.5" fill="#eac65a"/><polygon points="1308.1,1408.8 1306.8,1409.3 1305.5,1408.0 1306.8,1407.7 1308.1,1408.2" fill="#eac65a"/><polygon points="976.3,1367.3 979.1,1370.8 975.0,1371.2 972.8,1367.7" fill="#d4a93c"/><polygon points="820.6,1388.9 819.9,1390.1 818.2,1388.8 817.7,1387.5 819.8,1386.4 821.7,1387.5" fill="#e2bd4f"/><polygon points="894.0,1385.8 893.8,1386.4 891.9,1386.5 891.3,1386.3 891.7,1384.5 893.0,1384.0" fill="#f8e9a8"/><polygon points="899.4,1368.9 895.7,1371.1 891.8,1369.6 895.8,1367.8" fill="#d4a93c"/><polygon points="999.1,1359.8 997.5,1359.0 999.4,1357.9 1000.7,1357.9 1001.8,1359.2 999.7,1360.1" fill="#d4a93c"/><polygon points="792.8,1393.8 795.5,1392.8 796.1,1393.7 796.2,1394.9 794.6,1396.7 793.4,1395.0" fill="#c99a35"/><polygon points="853.4,1381.6 854.0,1380.9 855.0,1380.6 856.1,1381.2 855.7,1382.3 854.0,1382.3" fill="#f0d36c"/><polygon points="693.4,1432.9 696.1,1430.1 700.7,1429.2 697.3,1433.1" fill="#f6e08f"/><polygon points="1047.7,1374.1 1044.4,1375.4 1043.6,1372.4 1046.4,1371.5" fill="#d4a93c"/><polygon points="814.7,1387.6 813.3,1389.1 811.1,1389.7 810.0,1388.0 812.6,1386.3" fill="#f0d36c"/><polygon points="1025.7,1359.9 1026.8,1359.1 1031.2,1359.9 1030.3,1361.5 1027.3,1361.6 1024.6,1361.0" fill="#f0d36c"/><polygon points="1221.9,1398.6 1221.2,1398.5 1220.1,1397.0 1221.7,1396.6 1224.5,1397.5 1224.1,1398.7" fill="#f0d36c"/><polygon points="913.0,1359.3 915.2,1359.1 916.9,1360.6 915.9,1361.9 914.7,1361.6 912.4,1360.6" fill="#c99a35"/><polygon points="1212.4,1403.3 1213.4,1401.0 1217.2,1401.5 1215.5,1403.5" fill="#e2bd4f"/><polygon points="1138.2,1364.0 1140.2,1365.3 1139.3,1366.2 1138.4,1367.7 1136.5,1367.4 1136.2,1364.8" fill="#f6e08f"/><polygon points="1289.3,1412.7 1290.1,1414.0 1289.5,1415.0 1286.3,1413.2 1286.2,1412.5 1287.9,1411.6" fill="#f6e08f"/><polygon points="1281.7,1408.2 1282.2,1408.0 1282.9,1408.9 1282.5,1409.2 1281.4,1408.9" fill="#eac65a"/><polygon points="1240.7,1405.0 1237.8,1402.6 1241.5,1399.8 1244.2,1402.8" fill="#f8e9a8"/><polygon points="1334.7,1452.4 1331.0,1454.0 1325.2,1450.2 1328.4,1449.1" fill="#f0d36c"/><polygon points="898.8,1376.9 896.5,1378.7 894.6,1377.8 896.7,1376.0" fill="#d4a93c"/><polygon points="813.4,1388.4 814.7,1388.2 815.2,1389.4 814.6,1390.9 812.9,1390.7 811.3,1388.9" fill="#e2bd4f"/><polygon points="740.4,1418.4 738.3,1416.4 740.9,1414.2 742.6,1415.3 741.9,1418.0" fill="#eac65a"/><polygon points="929.2,1368.7 929.6,1367.3 932.0,1366.4 933.7,1367.3 931.5,1368.8" fill="#f8e9a8"/><polygon points="718.5,1423.6 720.1,1423.8 718.9,1426.5 716.1,1427.1 714.2,1425.8 715.7,1424.3" fill="#f0d36c"/><polygon points="995.6,1362.6 998.4,1361.3 1001.1,1363.1 996.0,1364.1" fill="#f0d36c"/><polygon points="913.5,1380.4 916.3,1380.0 918.3,1381.2 917.6,1382.6 914.8,1383.3 912.8,1382.0" fill="#e2bd4f"/><polygon points="836.4,1368.0 835.5,1368.3 835.5,1367.1 836.1,1367.0 837.2,1366.7 837.2,1367.7" fill="#c99a35"/><polygon points="771.0,1399.7 770.5,1403.1 767.4,1402.8 766.9,1400.8" fill="#e2bd4f"/><polygon points="789.8,1393.3 789.8,1390.8 793.6,1389.1 795.1,1390.5" fill="#f6e08f"/><polygon points="1189.2,1382.0 1189.5,1384.8 1185.7,1383.4 1181.1,1380.7 1184.6,1380.5" fill="#eac65a"/><polygon points="1141.1,1382.3 1139.0,1382.8 1136.9,1381.4 1137.1,1379.0 1138.2,1378.8 1142.7,1379.7" fill="#e2bd4f"/><polygon points="704.8,1442.1 704.8,1443.3 703.3,1444.5 701.9,1445.2 701.6,1443.6 703.2,1441.9" fill="#f8e9a8"/><polygon points="788.4,1396.5 786.3,1394.9 787.9,1393.1 791.7,1395.2" fill="#f0d36c"/><polygon points="1104.4,1373.0 1107.5,1374.1 1105.3,1375.2 1103.1,1373.9" fill="#c99a35"/><polygon points="897.8,1356.5 900.3,1355.9 901.3,1356.8 900.8,1359.0 898.7,1358.3" fill="#e2bd4f"/><polygon points="848.8,1391.6 846.0,1390.8 845.6,1389.7 848.2,1386.8 851.2,1386.7 851.9,1390.1" fill="#f6e08f"/><polygon points="682.1,1428.9 683.4,1429.4 683.0,1430.2 682.0,1430.5 681.6,1430.1 681.3,1429.7" fill="#d4a93c"/><polygon points="1233.4,1398.5 1235.1,1399.2 1235.7,1400.3 1233.6,1400.1 1233.2,1399.3" fill="#f6e08f"/><polygon points="726.6,1415.4 725.4,1415.0 725.9,1413.9 727.8,1414.0" fill="#f6e08f"/><polygon points="766.2,1389.0 765.4,1388.0 768.3,1385.9 768.8,1387.7" fill="#f6e08f"/><polygon points="1328.8,1437.1 1328.2,1438.3 1325.0,1437.4 1325.2,1434.8" fill="#c99a35"/><polygon points="741.4,1403.6 741.6,1402.1 743.6,1400.8 746.1,1401.1 745.4,1402.5" fill="#c99a35"/><polygon points="907.7,1377.7 907.0,1377.5 907.0,1376.4 908.6,1377.1" fill="#e2bd4f"/><polygon points="1085.8,1382.8 1086.0,1380.6 1088.8,1381.6 1088.2,1383.2" fill="#c99a35"/><polygon points="891.4,1371.1 892.2,1368.2 895.5,1368.0 899.5,1369.5 895.5,1372.3" fill="#f6e08f"/><polygon points="1143.7,1378.3 1144.7,1377.9 1145.7,1378.7 1144.3,1379.4" fill="#f8e9a8"/><polygon points="1072.0,1366.4 1070.1,1367.2 1067.1,1366.4 1067.7,1363.8 1070.5,1363.5" fill="#f8e9a8"/><polygon points="1073.7,1367.9 1075.6,1367.3 1076.9,1367.9 1076.5,1369.0 1075.3,1369.1" fill="#d4a93c"/><polygon points="974.0,1381.3 973.0,1382.1 971.3,1381.7 971.7,1380.9 972.2,1380.4 974.2,1380.8" fill="#eac65a"/><polygon points="914.7,1362.3 916.7,1361.5 917.9,1363.5 914.9,1364.0" fill="#d4a93c"/><polygon points="777.3,1401.4 776.0,1403.4 774.9,1402.6 774.3,1400.9 776.8,1400.5" fill="#e2bd4f"/><polygon points="965.8,1367.3 964.9,1365.7 969.0,1364.9 971.0,1365.8 969.7,1367.5" fill="#e2bd4f"/><polygon points="1249.9,1404.0 1248.2,1403.3 1248.8,1401.9 1250.4,1403.0" fill="#e2bd4f"/><polygon points="1098.4,1377.0 1099.6,1377.6 1100.8,1378.2 1100.0,1379.0 1098.6,1379.1 1097.4,1378.3" fill="#e2bd4f"/><polygon points="786.6,1404.1 784.4,1405.5 782.6,1404.7 785.7,1403.3" fill="#f8e9a8"/><polygon points="1250.6,1416.2 1248.2,1414.6 1249.6,1412.6 1252.3,1412.6 1253.8,1416.0" fill="#d4a93c"/><polygon points="736.9,1408.6 731.2,1410.8 729.3,1407.8 734.0,1405.8" fill="#eac65a"/><polygon points="1220.3,1396.7 1223.6,1398.0 1224.4,1399.5 1219.7,1398.7" fill="#f6e08f"/><polygon points="1030.9,1368.9 1028.9,1367.8 1030.8,1366.2 1032.2,1367.7" fill="#c99a35"/><polygon points="912.7,1373.9 914.7,1376.6 911.9,1378.7 908.8,1377.9 908.6,1375.7" fill="#f6e08f"/><polygon points="1158.5,1375.6 1159.1,1377.4 1158.2,1378.9 1155.7,1380.0 1154.3,1377.2 1153.6,1376.3" fill="#c99a35"/><polygon points="695.0,1439.2 697.1,1436.8 700.9,1434.5 702.5,1435.2 704.0,1437.5 699.9,1439.3" fill="#e2bd4f"/><polygon points="711.9,1427.7 713.1,1425.5 715.6,1423.9 717.8,1425.5 716.1,1427.6" fill="#f8e9a8"/><polygon points="802.8,1392.9 802.7,1393.7 801.6,1394.7 799.1,1395.1 799.6,1393.8 800.6,1393.2" fill="#e2bd4f"/><polygon points="709.2,1425.3 711.1,1422.9 713.8,1422.5 714.6,1424.9 712.2,1426.7" fill="#f8e9a8"/><polygon points="1096.5,1379.9 1094.9,1379.4 1094.5,1377.6 1095.1,1376.8 1097.8,1377.6 1097.0,1379.2" fill="#f0d36c"/><polygon points="808.8,1404.0 812.4,1401.8 816.6,1402.7 814.8,1404.6 809.5,1406.5 805.8,1405.9" fill="#d4a93c"/><polygon points="827.3,1386.1 827.8,1387.4 826.9,1388.5 825.3,1388.4 825.0,1387.7 825.8,1386.7" fill="#f8e9a8"/><polygon points="1041.2,1381.7 1038.8,1385.0 1034.4,1381.9 1039.0,1379.6" fill="#f0d36c"/><polygon points="1217.3,1404.0 1213.1,1403.1 1211.3,1400.9 1213.8,1399.3 1217.5,1399.0 1221.9,1401.4" fill="#f8e9a8"/><polygon points="1000.2,1355.6 997.0,1355.3 996.8,1353.5 1000.2,1354.0" fill="#e2bd4f"/><polygon points="1102.7,1375.4 1105.0,1373.1 1107.2,1375.0 1106.6,1376.7 1104.9,1377.1" fill="#c99a35"/><polygon points="770.5,1399.0 770.8,1396.7 770.5,1395.0 774.8,1394.6 776.4,1395.7 775.0,1398.7" fill="#d4a93c"/><polygon points="1330.0,1424.4 1330.4,1422.8 1332.5,1424.0 1331.4,1424.9" fill="#f8e9a8"/><polygon points="996.1,1376.6 996.8,1375.7 999.5,1374.3 1002.0,1376.2 1000.0,1377.0" fill="#e2bd4f"/><polygon points="949.2,1377.5 943.0,1378.1 941.0,1375.9 946.2,1373.7 948.0,1375.3" fill="#eac65a"/><polygon points="1067.5,1371.4 1068.9,1372.4 1066.0,1373.1 1062.2,1372.4 1062.0,1371.0 1064.9,1369.8" fill="#f6e08f"/><polygon points="1021.4,1351.6 1020.8,1353.3 1018.6,1352.6 1018.9,1351.2 1020.6,1350.8" fill="#d4a93c"/><polygon points="888.1,1372.2 887.5,1373.7 885.6,1373.5 884.7,1373.0 885.4,1372.2" fill="#eac65a"/><polygon points="729.8,1424.9 732.1,1423.3 732.8,1425.0 731.5,1425.9" fill="#eac65a"/><polygon points="692.8,1438.6 692.1,1438.0 691.9,1437.4 692.8,1437.1 693.2,1437.4 693.2,1438.2" fill="#e2bd4f"/><polygon points="793.0,1413.4 791.1,1414.2 790.8,1411.2 794.0,1409.7 796.2,1409.9 796.5,1411.9" fill="#eac65a"/><polygon points="737.2,1414.3 737.7,1415.8 736.2,1417.1 735.6,1416.7 735.7,1414.6" fill="#e2bd4f"/><polygon points="866.5,1379.3 867.3,1379.5 867.5,1380.2 867.1,1380.7 865.4,1380.6 864.8,1379.9" fill="#c99a35"/><polygon points="951.2,1363.1 949.4,1363.8 948.4,1362.6 948.4,1361.1 950.5,1361.8" fill="#f0d36c"/><polygon points="723.9,1423.4 725.1,1421.3 726.4,1421.6 726.4,1424.3" fill="#f8e9a8"/><polygon points="1239.6,1406.9 1236.2,1406.5 1236.3,1404.9 1236.9,1403.7 1239.4,1404.4" fill="#f0d36c"/><polygon points="1245.4,1407.4 1243.2,1405.7 1243.1,1404.1 1246.4,1405.1 1247.1,1406.8" fill="#e2bd4f"/><polygon points="1189.2,1395.2 1189.4,1396.0 1188.1,1396.2 1186.9,1396.0 1186.3,1394.9 1188.0,1394.7" fill="#eac65a"/><polygon points="1268.0,1419.0 1269.8,1420.2 1270.6,1422.0 1268.1,1423.3 1267.2,1421.1" fill="#f8e9a8"/><polygon points="815.5,1388.6 816.2,1387.4 817.6,1386.0 820.1,1386.8 818.8,1387.9 816.8,1389.4" fill="#f6e08f"/><polygon points="1157.0,1366.7 1158.6,1367.3 1158.0,1368.5 1157.0,1369.6 1155.7,1368.3" fill="#f0d36c"/><polygon points="859.6,1376.1 858.8,1376.0 859.6,1375.2 860.8,1374.7 861.5,1375.1 860.9,1376.0" fill="#c99a35"/><polygon points="1240.1,1379.2 1239.7,1381.8 1237.2,1383.4 1236.1,1380.4 1237.4,1379.4" fill="#f6e08f"/><polygon points="929.2,1359.7 927.9,1360.1 926.6,1359.7 927.2,1358.9 928.6,1358.7" fill="#d4a93c"/><polygon points="1113.4,1387.7 1112.9,1386.5 1114.7,1386.7 1114.4,1388.1" fill="#f8e9a8"/><polygon points="1072.0,1365.8 1072.4,1364.3 1073.2,1363.4 1074.5,1363.6 1074.4,1365.2 1073.3,1366.5" fill="#f8e9a8"/><polygon points="852.4,1373.0 850.7,1374.4 848.8,1374.4 847.8,1373.5 849.9,1371.2 852.2,1372.2" fill="#f8e9a8"/><polygon points="916.5,1371.2 918.3,1370.9 917.5,1372.3 916.9,1372.9 914.2,1372.7 914.5,1371.8" fill="#f8e9a8"/><polygon points="749.8,1405.4 747.6,1405.8 746.8,1404.9 748.9,1403.7 749.9,1404.2" fill="#c99a35"/><polygon points="1340.5,1426.4 1339.3,1423.3 1343.6,1423.8 1343.3,1426.4" fill="#d4a93c"/><polygon points="1316.4,1424.1 1315.7,1425.6 1314.6,1426.1 1314.4,1424.2" fill="#eac65a"/><polygon points="1162.1,1372.4 1157.7,1374.9 1157.0,1372.4 1159.0,1370.8" fill="#eac65a"/><polygon points="1203.1,1380.7 1199.0,1380.0 1197.4,1377.6 1200.9,1377.7 1204.0,1378.3" fill="#f0d36c"/><polygon points="955.4,1355.6 954.1,1357.3 950.0,1356.7 951.3,1354.5" fill="#eac65a"/><polygon points="685.6,1434.5 689.2,1433.8 690.2,1435.7 688.7,1437.6 685.8,1437.4" fill="#f8e9a8"/><polygon points="875.6,1362.8 877.2,1361.9 879.8,1361.6 879.7,1363.5 878.4,1365.1 876.7,1365.7" fill="#f0d36c"/><polygon points="752.6,1404.6 750.3,1402.2 754.5,1399.7 755.4,1402.0" fill="#f0d36c"/><polygon points="1320.2,1405.1 1318.9,1405.8 1317.4,1404.7 1318.9,1404.2" fill="#f0d36c"/><polygon points="1010.2,1366.2 1012.9,1365.5 1016.0,1366.1 1017.2,1368.7 1014.4,1369.8 1011.7,1369.1" fill="#f8e9a8"/><polygon points="1224.0,1393.7 1222.8,1391.3 1225.4,1390.6 1228.6,1392.6 1226.9,1394.4" fill="#c99a35"/><polygon points="833.7,1379.7 832.6,1378.8 833.5,1377.0 836.9,1378.1" fill="#f6e08f"/><polygon points="806.8,1393.0 807.0,1392.5 808.7,1392.3 808.9,1392.7 808.2,1393.5" fill="#d4a93c"/><polygon points="1249.0,1396.9 1249.5,1396.9 1249.5,1397.6 1248.3,1398.1 1247.7,1397.7 1247.6,1397.0" fill="#d4a93c"/><polygon points="1165.7,1393.6 1164.1,1396.4 1161.4,1396.2 1160.1,1393.7 1162.9,1391.4" fill="#d4a93c"/><polygon points="724.2,1414.7 724.4,1413.7 725.6,1413.3 725.5,1414.4 724.8,1415.0" fill="#f6e08f"/><polygon points="1198.3,1393.5 1199.0,1394.7 1197.0,1394.6 1196.7,1393.4" fill="#c99a35"/><polygon points="690.9,1426.7 689.9,1427.1 688.8,1426.4 690.4,1425.6 692.3,1425.3" fill="#c99a35"/><polygon points="832.7,1387.6 833.8,1384.7 835.5,1383.8 837.7,1384.5 838.0,1385.7 835.7,1388.1" fill="#f6e08f"/><polygon points="713.1,1423.5 709.4,1424.6 710.3,1422.3 715.0,1420.5" fill="#f6e08f"/><polygon points="1338.2,1427.7 1339.6,1427.5 1340.1,1428.8 1338.4,1429.0" fill="#f0d36c"/><polygon points="1241.7,1396.6 1240.7,1397.0 1239.7,1396.0 1241.0,1395.4" fill="#d4a93c"/><polygon points="939.3,1388.2 934.9,1387.3 933.9,1384.6 938.6,1383.8 941.4,1383.9" fill="#f6e08f"/><polygon points="1213.7,1389.8 1211.6,1387.5 1217.2,1387.2 1219.9,1389.7 1217.9,1391.1" fill="#f6e08f"/><polygon points="999.5,1373.8 1000.7,1373.2 1002.1,1372.7 1003.3,1373.7 1003.3,1374.0 1000.8,1374.4" fill="#e2bd4f"/><polygon points="1050.7,1365.0 1054.6,1365.9 1052.7,1367.0 1050.8,1367.5 1047.4,1366.4 1048.5,1365.0" fill="#f0d36c"/><polygon points="1213.2,1382.5 1217.0,1384.5 1216.7,1386.8 1213.8,1388.1 1210.3,1385.8" fill="#eac65a"/><polygon points="917.2,1366.1 916.8,1366.0 917.1,1365.2 918.2,1365.0 918.6,1365.1 918.2,1365.8" fill="#e2bd4f"/><polygon points="1184.7,1402.2 1181.2,1401.7 1184.5,1397.8 1187.8,1400.3" fill="#c99a35"/><polygon points="894.4,1361.3 893.0,1361.9 892.6,1360.9 893.7,1360.2" fill="#c99a35"/><polygon points="1267.7,1408.5 1268.9,1406.5 1274.2,1407.8 1273.8,1410.1" fill="#f0d36c"/><polygon points="745.6,1406.4 746.1,1403.8 749.3,1404.6 748.5,1408.3 746.3,1408.1" fill="#eac65a"/><polygon points="1297.4,1417.2 1294.9,1416.3 1295.2,1415.1 1296.4,1414.1 1299.0,1415.0 1299.9,1416.3" fill="#eac65a"/><polygon points="1124.3,1382.7 1124.2,1382.0 1125.1,1381.1 1126.5,1381.5 1125.3,1383.2" fill="#f8e9a8"/><polygon points="945.1,1374.6 947.6,1374.7 946.9,1376.5 943.4,1376.9" fill="#f8e9a8"/><polygon points="1165.0,1381.7 1165.5,1382.6 1165.1,1382.8 1163.8,1383.0 1162.6,1382.0 1163.1,1381.4" fill="#c99a35"/><polygon points="893.6,1366.2 894.3,1367.2 893.3,1367.6 892.1,1367.0 892.3,1366.5" fill="#c99a35"/><polygon points="1162.5,1377.5 1161.3,1374.8 1163.4,1372.9 1166.2,1374.7 1165.7,1377.6" fill="#eac65a"/><polygon points="725.3,1440.6 723.7,1439.6 725.0,1437.8 727.4,1436.9 730.0,1436.8 728.7,1438.3" fill="#f6e08f"/><polygon points="853.8,1390.9 853.4,1393.8 849.2,1394.1 849.9,1390.7" fill="#f6e08f"/><polygon points="691.8,1439.7 692.3,1441.2 689.6,1441.8 688.2,1440.6 691.0,1438.6" fill="#eac65a"/><polygon points="936.9,1371.8 937.1,1370.9 938.6,1370.4 940.1,1370.9 939.8,1371.7 937.8,1371.9" fill="#f6e08f"/><polygon points="949.3,1374.6 948.1,1373.7 949.5,1373.2 950.9,1373.5 950.8,1374.5" fill="#c99a35"/><polygon points="696.9,1447.0 696.8,1445.5 697.9,1445.3 699.5,1445.2 699.2,1446.6 697.9,1447.2" fill="#d4a93c"/><polygon points="804.4,1389.4 801.6,1390.1 801.1,1388.7 804.6,1388.1" fill="#eac65a"/><polygon points="723.2,1424.4 722.7,1424.9 721.7,1425.2 721.0,1424.7 722.8,1423.8" fill="#f8e9a8"/><polygon points="993.4,1368.3 990.2,1369.1 990.4,1366.6 993.3,1367.1" fill="#f8e9a8"/><polygon points="725.3,1422.6 723.6,1423.7 722.9,1422.9 723.3,1421.3 724.5,1421.2" fill="#e2bd4f"/><polygon points="1283.2,1418.9 1281.1,1416.3 1283.9,1415.1 1285.3,1417.7" fill="#e2bd4f"/><polygon points="1191.9,1391.5 1192.2,1390.6 1193.3,1391.0 1193.8,1391.4 1192.6,1391.9" fill="#f8e9a8"/><polygon points="836.9,1383.9 838.1,1383.6 838.9,1383.5 838.7,1384.4 837.4,1384.8 836.5,1384.4" fill="#e2bd4f"/><polygon points="1256.0,1401.3 1257.0,1401.6 1257.6,1403.8 1255.1,1403.6 1254.1,1403.2 1253.2,1401.9" fill="#d4a93c"/><polygon points="1067.3,1365.6 1065.6,1365.0 1066.0,1364.1 1068.1,1363.8 1068.7,1364.7 1069.0,1365.3" fill="#e2bd4f"/><polygon points="1030.1,1357.1 1029.5,1355.3 1032.1,1355.6 1033.6,1356.4 1031.1,1357.4" fill="#d4a93c"/><polygon points="884.1,1376.0 886.0,1375.5 886.7,1376.4 884.7,1376.7" fill="#f8e9a8"/><polygon points="1197.8,1383.9 1198.9,1382.5 1200.9,1382.2 1203.8,1384.3 1201.8,1385.6" fill="#f0d36c"/><polygon points="1323.8,1426.7 1323.3,1427.3 1322.1,1427.1 1320.7,1426.0 1321.4,1425.2 1322.4,1425.3" fill="#eac65a"/><polygon points="1223.3,1389.4 1222.3,1388.4 1224.4,1386.4 1226.9,1388.3 1227.3,1389.6" fill="#f0d36c"/><polygon points="1169.0,1402.6 1170.8,1403.3 1167.4,1404.0 1166.3,1402.9" fill="#eac65a"/><polygon points="814.6,1395.1 815.3,1394.4 816.5,1395.0 816.4,1396.3" fill="#f8e9a8"/><polygon points="1089.5,1380.4 1090.0,1379.8 1091.5,1380.4 1092.2,1380.9 1090.9,1381.2 1089.9,1380.8" fill="#f8e9a8"/><polygon points="937.7,1377.3 935.3,1378.8 933.4,1377.3 936.1,1376.3" fill="#e2bd4f"/><polygon points="1044.3,1381.4 1046.9,1382.2 1042.5,1384.7 1039.5,1383.4 1038.2,1381.3" fill="#e2bd4f"/><polygon points="1070.2,1369.7 1071.7,1369.6 1072.5,1370.7 1071.8,1371.9 1070.3,1371.9" fill="#c99a35"/><polygon points="722.6,1416.9 718.3,1418.2 719.6,1415.6 721.4,1414.2 724.5,1414.2" fill="#f0d36c"/><polygon points="1124.0,1378.0 1120.4,1375.3 1122.1,1373.4 1126.4,1375.2" fill="#e2bd4f"/><polygon points="1030.6,1362.9 1030.9,1364.1 1029.5,1364.2 1029.8,1363.2" fill="#c99a35"/><polygon points="736.3,1421.3 736.3,1418.8 739.2,1418.9 738.7,1421.2" fill="#f6e08f"/><polygon points="838.5,1394.9 846.0,1392.1 848.2,1392.7 846.7,1395.1 841.1,1395.8" fill="#f6e08f"/><polygon points="854.4,1370.6 853.2,1371.8 852.3,1371.0 851.8,1369.7 853.6,1369.3 854.7,1368.8" fill="#eac65a"/><polygon points="726.7,1430.3 724.7,1432.4 723.4,1432.6 722.3,1430.8 723.7,1429.1" fill="#f0d36c"/><polygon points="1097.8,1364.3 1095.4,1363.3 1097.2,1362.4 1098.9,1363.1" fill="#e2bd4f"/><polygon points="1152.5,1374.7 1152.8,1376.0 1151.0,1376.1 1150.4,1375.0" fill="#f6e08f"/><polygon points="1028.1,1367.4 1026.6,1368.6 1024.0,1367.2 1026.6,1364.9 1029.5,1365.7" fill="#f8e9a8"/><polygon points="980.6,1367.9 981.3,1371.3 976.4,1371.2 972.7,1371.2 974.3,1368.2" fill="#e2bd4f"/><polygon points="1198.5,1389.8 1198.5,1390.3 1197.9,1390.9 1197.1,1390.1 1197.4,1389.8" fill="#f6e08f"/><polygon points="839.4,1370.4 842.1,1367.1 844.9,1369.3 841.8,1371.7" fill="#c99a35"/><polygon points="1206.2,1390.4 1205.5,1391.9 1203.1,1393.6 1201.5,1391.5 1200.3,1390.1 1201.3,1388.8" fill="#f0d36c"/><polygon points="774.6,1403.8 772.0,1404.1 773.9,1401.2 777.1,1400.9" fill="#e2bd4f"/><polygon points="705.1,1425.9 702.9,1425.1 702.8,1424.2 704.7,1423.3 705.9,1424.9" fill="#eac65a"/><polygon points="837.0,1381.0 837.7,1383.1 835.4,1383.9 833.8,1382.2 834.7,1381.1" fill="#eac65a"/><polygon points="753.0,1424.3 758.3,1424.5 756.4,1428.3 753.0,1427.8" fill="#eac65a"/><polygon points="923.4,1370.0 921.1,1370.7 920.6,1369.6 922.7,1369.3" fill="#f8e9a8"/><polygon points="850.0,1389.6 850.9,1388.9 851.8,1389.6 852.3,1390.5 851.6,1391.4 849.9,1390.9" fill="#d4a93c"/><polygon points="763.4,1411.0 763.5,1413.9 758.3,1414.8 760.1,1410.6" fill="#eac65a"/><polygon points="1085.5,1380.3 1085.4,1378.6 1086.7,1378.7 1086.9,1379.5 1086.4,1380.7" fill="#c99a35"/><polygon points="1341.3,1434.2 1341.8,1435.8 1341.3,1437.9 1340.3,1437.6 1338.7,1436.5 1339.0,1435.2" fill="#eac65a"/><polygon points="731.0,1415.8 733.5,1416.3 732.8,1417.7 730.7,1418.3 729.4,1416.6" fill="#e2bd4f"/><polygon points="824.1,1367.0 825.0,1368.0 820.8,1369.8 819.5,1369.0" fill="#f8e9a8"/><polygon points="1033.2,1389.1 1027.9,1387.7 1027.5,1384.8 1034.0,1386.0" fill="#d4a93c"/><polygon points="1298.8,1410.2 1299.6,1413.5 1296.7,1413.7 1295.2,1411.0" fill="#e2bd4f"/><polygon points="1318.7,1429.2 1317.1,1427.8 1322.4,1427.2 1323.4,1429.4" fill="#f8e9a8"/><polygon points="1234.1,1395.2 1232.6,1395.6 1230.1,1394.7 1231.1,1393.2 1232.6,1393.6" fill="#f0d36c"/><polygon points="1167.9,1385.8 1163.4,1384.8 1163.2,1383.6 1164.9,1383.0 1166.4,1382.4 1168.4,1384.6" fill="#c99a35"/><polygon points="813.1,1388.8 812.7,1387.1 815.4,1386.1 817.1,1386.7 816.3,1388.1" fill="#f6e08f"/><polygon points="1057.1,1384.1 1057.8,1383.6 1058.6,1383.7 1059.2,1384.4 1058.2,1384.9" fill="#f8e9a8"/><polygon points="918.1,1375.3 918.2,1372.8 920.8,1373.4 920.3,1375.0" fill="#e2bd4f"/><polygon points="789.3,1412.2 790.4,1412.8 788.1,1414.0 786.2,1414.5 785.8,1413.6 788.2,1412.2" fill="#f6e08f"/><polygon points="1082.4,1369.5 1078.6,1372.6 1073.6,1370.7 1075.8,1367.2" fill="#e2bd4f"/><polygon points="1221.6,1382.9 1223.1,1380.4 1225.2,1381.4 1224.8,1382.8 1224.5,1385.3 1221.6,1383.8" fill="#eac65a"/><polygon points="1145.9,1370.3 1144.5,1369.5 1146.2,1368.4 1148.2,1369.3 1148.0,1370.3" fill="#f8e9a8"/><polygon points="1103.5,1363.2 1105.2,1363.7 1104.6,1364.9 1103.1,1364.5" fill="#c99a35"/><polygon points="1035.8,1360.6 1035.7,1358.9 1035.5,1357.4 1037.5,1356.9 1038.9,1358.4 1038.4,1359.7" fill="#e2bd4f"/><polygon points="695.8,1425.3 696.7,1422.6 701.6,1422.1 700.4,1426.4 695.7,1426.7" fill="#f0d36c"/><polygon points="737.4,1421.1 736.6,1422.8 733.8,1422.9 733.9,1421.3 734.9,1420.1 737.1,1420.1" fill="#e2bd4f"/><polygon points="1174.0,1388.8 1172.7,1388.3 1172.3,1387.6 1173.2,1387.1 1174.2,1387.5 1174.8,1388.0" fill="#eac65a"/><polygon points="925.3,1393.5 924.6,1392.3 927.2,1390.7 930.2,1390.9 928.9,1393.1" fill="#f6e08f"/><polygon points="708.3,1440.3 706.1,1440.1 707.5,1439.1 709.4,1439.0" fill="#f0d36c"/><polygon points="890.0,1378.9 889.0,1377.2 891.1,1375.6 894.8,1375.5 895.6,1377.4 894.6,1379.5" fill="#f8e9a8"/><polygon points="816.2,1404.9 814.5,1405.8 811.1,1405.7 813.2,1403.3 815.6,1402.1 817.7,1403.4" fill="#f6e08f"/><polygon points="1032.1,1373.3 1030.5,1375.6 1029.2,1376.7 1025.6,1374.8 1026.3,1373.1" fill="#d4a93c"/><polygon points="936.2,1378.1 936.2,1377.0 936.9,1376.4 938.5,1376.2 939.3,1378.2 938.3,1378.6" fill="#f6e08f"/><polygon points="1342.1,1436.6 1341.1,1437.0 1339.5,1435.5 1340.3,1435.3 1342.3,1435.6" fill="#c99a35"/><polygon points="1333.4,1419.5 1335.8,1421.7 1334.4,1422.7 1330.2,1422.6 1328.7,1420.2 1331.2,1419.5" fill="#f8e9a8"/><polygon points="1118.2,1376.3 1119.0,1378.4 1111.6,1378.9 1113.3,1375.2" fill="#f0d36c"/><polygon points="982.1,1372.9 983.7,1374.2 983.2,1376.6 979.6,1378.0 977.5,1374.7" fill="#f6e08f"/><polygon points="877.8,1372.7 880.3,1373.7 879.8,1374.8 878.1,1374.7 875.3,1374.4 876.1,1373.1" fill="#c99a35"/><polygon points="1176.9,1386.0 1175.3,1386.2 1173.2,1385.7 1173.8,1384.3 1176.5,1384.1" fill="#f0d36c"/><polygon points="692.2,1429.8 690.3,1430.1 688.7,1429.0 691.3,1427.0 693.6,1426.8" fill="#f6e08f"/><polygon points="897.1,1374.9 895.2,1374.4 894.9,1373.8 895.7,1372.0 897.9,1372.3 899.3,1373.4" fill="#f8e9a8"/><polygon points="997.7,1364.1 1001.7,1364.3 1001.4,1365.4 998.9,1366.4 996.1,1365.6" fill="#c99a35"/><polygon points="1273.0,1404.8 1270.4,1403.0 1272.0,1401.7 1273.8,1402.4" fill="#c99a35"/><polygon points="1100.5,1384.8 1103.4,1385.5 1100.5,1387.5 1098.9,1386.0" fill="#e2bd4f"/><polygon points="1014.7,1370.2 1011.7,1369.2 1011.5,1365.6 1014.5,1366.3" fill="#eac65a"/><polygon points="812.5,1394.9 814.2,1394.7 815.4,1394.9 814.6,1396.8 812.2,1396.7 811.5,1395.9" fill="#d4a93c"/><polygon points="734.8,1427.8 734.1,1429.2 732.1,1430.0 731.1,1429.0 732.6,1426.4 733.9,1427.1" fill="#eac65a"/><polygon points="1083.1,1355.3 1083.3,1351.3 1089.1,1351.7 1090.2,1354.4 1089.8,1355.9" fill="#f6e08f"/><polygon points="1214.6,1398.2 1215.0,1401.1 1210.5,1400.7 1211.7,1397.4" fill="#e2bd4f"/><polygon points="1186.6,1389.2 1189.9,1390.5 1189.8,1392.0 1187.0,1392.1 1184.3,1390.2" fill="#f0d36c"/><polygon points="1243.5,1412.8 1242.3,1414.0 1240.3,1413.3 1241.2,1412.0" fill="#f0d36c"/><polygon points="772.4,1402.4 770.0,1403.7 768.8,1401.0 768.4,1399.2 773.5,1398.9 774.8,1400.1" fill="#f8e9a8"/><polygon points="1145.9,1393.2 1145.0,1392.0 1147.3,1390.1 1148.3,1389.8 1148.6,1392.7 1147.2,1393.2" fill="#d4a93c"/><polygon points="762.4,1399.5 764.6,1399.4 765.1,1400.2 763.0,1400.7" fill="#d4a93c"/><polygon points="722.3,1435.0 722.1,1435.4 721.4,1436.2 720.7,1436.5 719.8,1436.1 721.1,1435.4" fill="#eac65a"/><polygon points="868.7,1376.6 866.5,1377.1 866.9,1374.8 868.2,1374.0 870.5,1375.1 870.0,1376.9" fill="#f0d36c"/><polygon points="1189.5,1381.1 1186.2,1381.0 1184.1,1380.0 1183.8,1378.1 1188.3,1378.8" fill="#f8e9a8"/><polygon points="808.0,1390.1 806.2,1392.3 803.8,1391.5 803.0,1389.4 806.2,1388.9" fill="#f8e9a8"/><polygon points="927.6,1377.0 928.1,1374.9 930.6,1372.5 937.0,1373.8 933.3,1377.1" fill="#f8e9a8"/><polygon points="1077.9,1377.5 1075.3,1377.7 1072.7,1375.9 1074.8,1374.8 1078.5,1375.9" fill="#f8e9a8"/><polygon points="703.7,1437.3 701.8,1437.5 701.9,1436.4 702.0,1436.0 703.8,1435.6 704.2,1436.0" fill="#c99a35"/><polygon points="850.9,1368.5 852.4,1368.0 854.3,1368.4 853.9,1369.5 851.5,1371.0 849.1,1370.1" fill="#eac65a"/><polygon points="888.5,1375.3 892.6,1374.6 895.1,1376.1 890.9,1377.6" fill="#d4a93c"/><polygon points="1094.7,1387.8 1093.9,1387.5 1093.6,1386.3 1093.9,1386.2 1094.9,1386.7 1095.1,1387.0" fill="#d4a93c"/><polygon points="1162.3,1371.6 1164.0,1370.6 1164.8,1372.3 1162.6,1373.5" fill="#f0d36c"/><polygon points="806.1,1388.7 807.4,1389.3 805.1,1390.9 804.4,1390.1" fill="#f6e08f"/><polygon points="996.0,1369.7 996.2,1372.2 992.6,1373.4 989.6,1371.7 991.2,1370.6" fill="#c99a35"/><polygon points="1066.9,1370.1 1070.8,1368.7 1076.0,1370.5 1072.8,1372.7 1067.8,1371.7" fill="#eac65a"/><polygon points="817.4,1380.7 817.6,1381.6 816.5,1381.5 816.7,1380.5" fill="#d4a93c"/><polygon points="731.9,1416.6 732.3,1417.5 731.8,1418.2 730.2,1417.8 730.2,1417.1 730.7,1416.7" fill="#eac65a"/><polygon points="1257.2,1414.1 1255.8,1416.7 1252.9,1416.0 1251.9,1413.4 1253.9,1412.8 1256.1,1412.6" fill="#f0d36c"/><polygon points="953.0,1364.9 954.8,1363.2 959.4,1363.4 960.6,1364.2 957.4,1366.5 956.3,1366.0" fill="#c99a35"/><polygon points="793.7,1400.1 796.5,1397.8 798.7,1399.5 795.9,1401.0" fill="#e2bd4f"/><polygon points="803.1,1385.6 806.6,1385.0 807.8,1386.8 803.2,1388.0 800.7,1386.6" fill="#f8e9a8"/><polygon points="997.5,1365.9 996.9,1368.1 994.7,1369.3 989.5,1367.4 991.4,1365.6 993.2,1364.6" fill="#f0d36c"/><polygon points="795.9,1399.8 796.9,1400.2 795.5,1401.5 793.3,1401.6" fill="#f6e08f"/><polygon points="961.5,1374.5 961.9,1371.6 964.5,1370.8 965.8,1373.2" fill="#d4a93c"/><polygon points="741.8,1399.1 741.5,1401.4 736.8,1401.6 738.9,1399.9" fill="#f6e08f"/><polygon points="867.1,1361.4 868.2,1361.9 867.8,1362.4 866.9,1362.9 865.8,1362.8 865.1,1362.5" fill="#f0d36c"/><polygon points="779.6,1404.3 777.1,1405.8 774.7,1405.4 775.4,1403.9 779.9,1403.3" fill="#f0d36c"/><polygon points="1026.8,1351.4 1028.0,1352.6 1024.9,1353.6 1022.0,1353.0 1022.9,1351.1 1025.3,1350.7" fill="#f8e9a8"/><polygon points="1099.0,1381.4 1097.8,1381.0 1097.9,1380.2 1098.6,1380.1 1099.4,1380.6" fill="#c99a35"/><polygon points="996.8,1354.5 997.2,1353.3 998.4,1352.8 999.5,1353.2 999.1,1354.5 998.0,1355.1" fill="#f0d36c"/><polygon points="1213.7,1385.1 1215.1,1384.4 1218.1,1385.8 1217.0,1388.3 1215.4,1388.0 1213.8,1387.9" fill="#c99a35"/><polygon points="985.9,1361.0 983.9,1360.9 984.4,1358.2 986.6,1358.6" fill="#eac65a"/><polygon points="778.5,1387.1 778.9,1387.3 779.8,1387.7 779.5,1388.2 778.3,1388.3 777.9,1388.3" fill="#eac65a"/><polygon points="1194.0,1378.7 1191.2,1376.5 1191.6,1374.3 1197.0,1375.4 1197.2,1377.7" fill="#e2bd4f"/><polygon points="1280.8,1406.2 1277.5,1407.2 1272.2,1403.5 1276.1,1402.4" fill="#e2bd4f"/><polygon points="891.3,1395.9 888.8,1396.9 886.6,1396.5 887.0,1395.7 888.6,1395.0" fill="#d4a93c"/><polygon points="1138.3,1378.2 1139.6,1376.6 1140.7,1376.5 1142.6,1377.7 1143.1,1379.1 1140.6,1379.9" fill="#eac65a"/><polygon points="1184.4,1378.1 1187.5,1381.5 1183.8,1382.9 1178.9,1379.0" fill="#d4a93c"/><polygon points="833.9,1379.3 836.3,1381.3 832.9,1381.5 831.5,1381.0" fill="#d4a93c"/><polygon points="722.1,1422.3 716.6,1424.3 713.9,1424.6 716.7,1420.9 722.1,1420.0" fill="#f8e9a8"/><polygon points="851.8,1391.5 852.9,1391.7 852.5,1392.4 851.1,1393.0 850.4,1392.3" fill="#eac65a"/><polygon points="1317.6,1410.2 1321.9,1409.7 1323.0,1412.2 1321.1,1413.8" fill="#f8e9a8"/><polygon points="1203.3,1391.9 1200.1,1390.9 1200.9,1389.5 1203.5,1390.2" fill="#d4a93c"/><polygon points="1117.4,1377.1 1115.7,1378.0 1113.5,1377.1 1114.4,1375.7 1116.5,1376.4" fill="#e2bd4f"/><polygon points="967.6,1354.9 969.2,1355.0 969.5,1355.3 968.7,1355.9 967.8,1355.6" fill="#d4a93c"/><polygon points="859.0,1391.9 860.2,1391.4 861.6,1392.4 860.6,1393.2 858.0,1393.5 856.5,1392.6" fill="#e2bd4f"/><polygon points="992.5,1367.6 992.7,1366.6 993.5,1366.6 993.6,1367.0 993.2,1367.6" fill="#c99a35"/><polygon points="1153.5,1382.8 1147.1,1383.4 1144.7,1381.7 1142.2,1380.2 1149.0,1378.5 1152.0,1379.4" fill="#f0d36c"/><polygon points="830.5,1388.1 830.4,1387.4 831.8,1386.6 833.0,1386.5 833.4,1387.6 832.6,1388.2" fill="#c99a35"/><polygon points="1087.0,1368.7 1084.4,1370.0 1081.3,1368.8 1083.9,1367.8" fill="#f6e08f"/><polygon points="1332.6,1423.9 1337.5,1425.4 1336.8,1427.6 1333.4,1428.4 1330.9,1426.3" fill="#f6e08f"/><polygon points="1309.3,1435.3 1306.3,1433.8 1307.3,1431.9 1309.7,1432.9" fill="#f6e08f"/><polygon points="860.8,1382.4 866.5,1382.4 861.9,1386.3 857.9,1384.8" fill="#e2bd4f"/><polygon points="1114.5,1374.0 1115.8,1374.0 1115.5,1374.9 1114.3,1374.9" fill="#d4a93c"/><polygon points="1052.0,1368.0 1054.2,1368.1 1054.5,1370.2 1052.4,1370.3 1051.2,1369.0" fill="#e2bd4f"/><polygon points="1045.7,1368.5 1046.9,1368.5 1047.9,1369.0 1047.6,1370.2 1046.5,1370.7 1045.9,1370.0" fill="#c99a35"/><polygon points="797.8,1402.7 797.9,1403.2 796.2,1404.1 796.2,1402.9" fill="#e2bd4f"/><polygon points="1187.6,1387.6 1190.9,1387.4 1193.5,1390.1 1192.0,1391.6 1187.1,1391.0 1184.9,1389.3" fill="#eac65a"/><polygon points="734.9,1410.8 736.4,1410.7 736.4,1411.6 736.1,1412.2 734.6,1412.2 734.2,1411.8" fill="#d4a93c"/><polygon points="775.2,1404.7 774.0,1404.9 774.0,1404.0 775.0,1403.7" fill="#c99a35"/><polygon points="1234.3,1402.4 1231.3,1403.1 1228.8,1400.4 1230.4,1399.1 1233.6,1400.5" fill="#f8e9a8"/><polygon points="1056.6,1385.7 1054.5,1384.5 1054.5,1383.3 1055.9,1382.5 1058.8,1383.8 1058.0,1384.8" fill="#f0d36c"/><polygon points="707.3,1421.4 703.0,1421.5 704.0,1419.4 705.9,1417.1 707.9,1417.4 709.3,1421.0" fill="#f8e9a8"/><polygon points="762.9,1412.4 763.0,1410.4 763.5,1409.4 766.5,1410.1 766.7,1411.6 764.9,1412.6" fill="#e2bd4f"/><polygon points="801.0,1384.6 799.9,1384.2 802.5,1381.1 805.3,1381.2 807.5,1382.7 805.5,1384.7" fill="#c99a35"/><polygon points="1204.8,1394.6 1206.9,1394.0 1210.6,1395.2 1208.9,1396.6 1206.2,1396.4" fill="#e2bd4f"/><polygon points="976.5,1374.5 972.8,1374.0 975.1,1371.8 977.1,1371.7 979.8,1372.8" fill="#f0d36c"/><polygon points="709.2,1435.7 707.3,1434.5 707.4,1433.0 710.6,1432.1" fill="#e2bd4f"/><polygon points="1251.8,1401.8 1252.3,1401.7 1253.8,1401.9 1254.2,1402.7 1252.9,1402.7 1252.1,1402.7" fill="#f6e08f"/><polygon points="734.5,1433.1 735.5,1433.5 734.5,1434.2 733.2,1434.0 734.1,1433.1" fill="#f6e08f"/><polygon points="1177.3,1377.0 1176.8,1378.1 1174.3,1377.8 1174.0,1376.2 1175.6,1375.3" fill="#e2bd4f"/><polygon points="842.3,1386.8 842.5,1388.4 839.5,1390.5 837.0,1388.7 838.0,1387.0" fill="#f8e9a8"/><polygon points="997.5,1355.1 998.7,1355.0 999.1,1355.7 997.8,1356.4 997.4,1355.7" fill="#f0d36c"/><polygon points="1056.6,1359.4 1059.0,1359.2 1058.9,1361.6 1057.2,1362.7 1054.8,1360.9" fill="#c99a35"/><polygon points="825.2,1400.7 824.9,1400.3 824.8,1399.6 825.7,1399.5 826.1,1399.4 826.0,1400.8" fill="#d4a93c"/><polygon points="1174.7,1397.3 1173.9,1396.1 1174.8,1395.7 1176.5,1396.3 1176.5,1397.1" fill="#d4a93c"/><polygon points="1209.3,1392.2 1205.4,1393.0 1205.1,1390.5 1207.3,1389.8" fill="#f6e08f"/><polygon points="721.6,1432.7 727.2,1430.4 726.8,1432.5 721.3,1435.1" fill="#f6e08f"/><polygon points="1051.8,1370.8 1050.7,1370.8 1049.5,1370.0 1049.8,1368.5 1050.9,1368.3 1051.5,1369.3" fill="#f0d36c"/><polygon points="1170.7,1389.1 1169.3,1387.7 1170.0,1386.7 1171.9,1388.0" fill="#c99a35"/><polygon points="822.2,1377.4 820.3,1374.0 823.5,1372.3 823.8,1375.6" fill="#c99a35"/><polygon points="1227.0,1401.5 1226.4,1399.7 1227.9,1399.6 1229.4,1400.9 1229.9,1401.3 1227.6,1402.1" fill="#e2bd4f"/><polygon points="704.4,1439.5 705.5,1439.7 705.8,1440.7 704.8,1441.2 703.5,1441.2 703.4,1440.6" fill="#e2bd4f"/><polygon points="849.9,1379.1 850.0,1379.9 848.9,1380.6 847.6,1380.0 848.6,1379.1" fill="#d4a93c"/><polygon points="1111.1,1379.5 1107.8,1377.4 1109.2,1376.4 1111.5,1377.0 1113.6,1378.9" fill="#c99a35"/><polygon points="979.4,1376.2 983.2,1376.5 981.1,1379.2 979.3,1379.1 977.2,1377.1" fill="#c99a35"/><polygon points="1065.2,1371.8 1068.9,1368.5 1073.2,1369.2 1072.8,1373.6" fill="#c99a35"/><polygon points="1063.9,1370.3 1063.3,1369.8 1063.5,1369.0 1064.8,1369.2 1064.7,1370.0" fill="#f0d36c"/><polygon points="820.6,1379.1 820.9,1379.7 820.5,1380.4 818.6,1380.5 819.0,1379.5 819.5,1379.2" fill="#f8e9a8"/><polygon points="1293.1,1410.2 1294.3,1412.3 1291.4,1414.0 1289.2,1412.8 1289.0,1410.2 1289.8,1409.8" fill="#f8e9a8"/><polygon points="862.8,1391.8 860.4,1391.9 857.5,1390.5 860.5,1387.8 863.3,1389.2" fill="#eac65a"/><polygon points="1035.8,1376.1 1036.4,1374.4 1042.2,1374.2 1042.1,1376.8" fill="#eac65a"/><polygon points="1102.9,1378.1 1103.0,1380.1 1102.5,1380.9 1098.4,1380.2 1097.1,1377.9 1099.2,1378.0" fill="#e2bd4f"/><polygon points="1242.0,1407.4 1245.2,1409.3 1244.2,1411.0 1240.5,1410.0 1240.3,1408.1" fill="#f6e08f"/><polygon points="911.1,1370.0 910.1,1370.1 910.0,1368.9 911.1,1368.7 912.7,1369.4" fill="#f6e08f"/><polygon points="1231.5,1397.0 1232.1,1395.2 1233.1,1395.2 1233.7,1396.3 1233.1,1397.5 1232.0,1397.5" fill="#e2bd4f"/><polygon points="1222.0,1403.5 1221.7,1402.6 1222.1,1402.1 1224.2,1402.8 1223.4,1403.6" fill="#f6e08f"/><polygon points="951.8,1370.0 950.4,1369.8 949.9,1368.8 950.8,1368.0 952.4,1367.9 953.3,1369.6" fill="#e2bd4f"/><polygon points="1186.1,1376.8 1186.5,1377.6 1185.8,1378.9 1184.4,1378.8 1184.1,1377.3 1185.0,1377.0" fill="#f0d36c"/><polygon points="1106.9,1367.6 1106.7,1365.8 1111.7,1365.5 1116.1,1368.2 1112.2,1369.5" fill="#f0d36c"/><polygon points="968.0,1361.5 965.9,1357.5 971.6,1357.8 975.8,1360.1" fill="#f8e9a8"/><polygon points="1146.2,1367.2 1149.0,1366.1 1150.2,1366.5 1149.8,1368.9 1147.2,1368.7" fill="#f6e08f"/><polygon points="715.4,1424.5 716.7,1422.3 719.4,1421.5 720.3,1423.0 718.6,1425.9 715.7,1426.6" fill="#c99a35"/><polygon points="713.8,1426.7 710.3,1426.2 712.5,1424.4 715.2,1424.3" fill="#eac65a"/><polygon points="780.6,1403.7 777.0,1404.2 778.6,1401.7 780.1,1400.4 783.0,1401.5 782.7,1402.6" fill="#f6e08f"/><polygon points="996.0,1359.2 994.1,1356.4 996.6,1354.9 1001.3,1356.4" fill="#f6e08f"/><polygon points="912.4,1374.2 912.2,1373.5 914.2,1373.3 914.7,1373.8 914.2,1374.6" fill="#e2bd4f"/><polygon points="1202.5,1404.4 1200.4,1403.9 1199.2,1402.1 1200.8,1400.7 1203.3,1401.3 1204.3,1404.2" fill="#d4a93c"/><polygon points="1069.4,1374.7 1068.6,1371.1 1074.4,1372.3 1074.9,1374.8" fill="#eac65a"/><polygon points="899.6,1385.8 899.0,1386.4 897.5,1386.2 898.5,1385.3" fill="#e2bd4f"/><polygon points="1100.2,1375.5 1097.4,1376.1 1094.5,1374.5 1094.3,1373.4 1097.7,1372.5 1098.9,1374.0" fill="#c99a35"/><polygon points="876.7,1382.5 879.8,1381.1 884.3,1383.4 879.8,1384.9" fill="#f6e08f"/><polygon points="1070.6,1370.4 1067.0,1368.0 1067.4,1367.0 1071.8,1366.9 1074.5,1367.6 1074.6,1370.4" fill="#f6e08f"/><polygon points="1039.5,1372.0 1037.4,1372.3 1036.4,1371.8 1037.5,1370.2 1039.0,1370.9" fill="#f8e9a8"/><polygon points="967.3,1380.5 964.3,1379.3 964.6,1378.2 965.9,1377.5 968.7,1378.6 969.0,1379.3" fill="#c99a35"/><polygon points="761.3,1405.8 761.4,1404.7 762.2,1404.7 762.1,1406.2" fill="#f8e9a8"/><polygon points="983.3,1365.0 980.9,1362.6 981.8,1360.6 985.2,1360.9 985.7,1363.9" fill="#f8e9a8"/><polygon points="1289.2,1416.1 1285.0,1417.0 1279.4,1416.5 1276.9,1414.1 1280.7,1411.6 1286.3,1413.6" fill="#f8e9a8"/><polygon points="708.4,1423.0 713.1,1422.4 712.2,1425.4 707.2,1428.2 705.7,1425.7" fill="#f6e08f"/><polygon points="710.5,1417.8 708.1,1417.8 708.6,1415.8 710.1,1415.1 712.3,1415.4" fill="#e2bd4f"/><polygon points="1204.2,1385.7 1207.3,1389.1 1205.2,1390.7 1200.3,1389.0 1199.3,1387.1" fill="#c99a35"/><polygon points="733.3,1432.9 733.9,1435.4 730.5,1436.6 730.1,1433.6" fill="#e2bd4f"/><polygon points="944.1,1370.0 944.7,1371.1 943.5,1372.0 942.2,1371.7 941.9,1370.7 943.3,1369.9" fill="#d4a93c"/><polygon points="758.4,1407.0 757.5,1407.4 756.1,1407.3 755.6,1406.2 757.4,1404.8 758.1,1406.0" fill="#e2bd4f"/></svg>

<div class="corner">ck<br>als</div>

<h1 id="title" style="top:120px;left:119px;width:auto">MONTHLY &amp; YEARLY BUDGET OVERVIEW</h1>

<svg class="glitter" width="1814" height="20" viewBox="0 0 1814 20" shape-rendering="crispEdges"><rect width="1814" height="20" fill="#d9bd70"/><polygon points="402,16 402,12 397,11 395,13 397,20 398,20" fill="#bb9756"/><polygon points="1594,15 1594,13 1593,12 1581,17 1583,20 1590,20" fill="#f8eeb2"/><polygon points="374,14 370,11 370,11 367,13 366,20 371,20" fill="#efdb92"/><polygon points="1672,20 1680,20 1677,14" fill="#bb9756"/><polygon points="880,6 889,14 890,13 891,10 881,3" fill="#e2c679"/><polygon points="1107,2 1107,2 1111,0 1108,0" fill="#bb9756"/><polygon points="1394,15 1398,11 1399,7 1386,10 1387,10" fill="#9c7b4b"/><polygon points="935,6 935,9 940,13 945,13 940,3 936,5" fill="#f4e4a0"/><polygon points="328,18 327,20 334,20" fill="#efdb92"/><polygon points="140,16 140,15 138,12 137,12 135,13 135,14 136,17 137,18" fill="#f8eeb2"/><polygon points="1346,20 1346,20 1347,20" fill="#f8eeb2"/><polygon points="801,14 802,8 796,3 794,6 792,10 797,14" fill="#bb9756"/><polygon points="283,1 284,0 281,0" fill="#7a5e3f"/><polygon points="1601,5 1610,3 1608,0 1599,0" fill="#bb9756"/><polygon points="497,15 493,14 492,17 497,18 497,17" fill="#efdb92"/><polygon points="753,18 752,18 748,20 754,20" fill="#bb9756"/><polygon points="535,11 531,7 529,15 530,15 535,16" fill="#9c7b4b"/><polygon points="1143,19 1142,20 1142,20 1144,20" fill="#e2c679"/><polygon points="1047,19 1048,20 1055,20 1054,18 1051,17" fill="#f8eeb2"/><polygon points="1091,3 1093,0 1089,0 1086,2 1086,3" fill="#efdb92"/><polygon points="472,0 478,3 479,3 479,0 472,0" fill="#9c7b4b"/><polygon points="519,14 519,14 509,12 507,14 507,19 508,19" fill="#9c7b4b"/><polygon points="458,16 456,13 452,15 450,20 456,20" fill="#d0ae60"/><polygon points="586,18 589,20 596,13 586,8 584,10 585,15" fill="#d0ae60"/><polygon points="254,17 250,20 251,20 257,20" fill="#bb9756"/><polygon points="1756,3 1757,4 1761,0 1756,0" fill="#d0ae60"/><polygon points="1755,10 1756,7 1745,6 1745,13 1745,14 1746,14" fill="#d0ae60"/><polygon points="332,1 334,0 331,0" fill="#e2c679"/><polygon points="34,9 40,3 37,0 30,0 28,4 30,7" fill="#9c7b4b"/><polygon points="363,0 364,0 363,0 363,0" fill="#f8eeb2"/><polygon points="1271,13 1265,17 1266,18 1273,20 1277,20 1279,18 1277,12" fill="#e2c679"/><polygon points="1422,18 1425,8 1422,7 1414,13 1415,18" fill="#d0ae60"/><polygon points="26,20 27,20 36,20 40,17 36,13 30,16" fill="#d0ae60"/><polygon points="1046,19 1047,19 1051,17 1053,9 1050,8 1047,8 1045,15 1045,17" fill="#9c7b4b"/><polygon points="931,3 935,6 936,5 936,0 930,0" fill="#bb9756"/><polygon points="1164,4 1161,8 1164,11 1166,10" fill="#f8eeb2"/><polygon points="1800,0 1798,0 1799,0" fill="#f8eeb2"/><polygon points="469,16 461,19 461,20 470,20 470,16" fill="#f8eeb2"/><polygon points="1585,3 1585,8 1591,9 1592,8 1588,4" fill="#7a5e3f"/><polygon points="1685,13 1685,7 1682,8 1678,13" fill="#e2c679"/><polygon points="845,1 847,3 854,0 846,0" fill="#d0ae60"/><polygon points="729,16 729,13 726,8 718,8 717,14 718,17 719,18" fill="#bb9756"/><polygon points="1478,0 1478,0 1478,0 1479,0 1478,0" fill="#bb9756"/><polygon points="885,19 886,18 886,18 884,16 875,15 876,19 878,20" fill="#d0ae60"/><polygon points="154,19 150,11 147,11 145,17 146,20 153,20" fill="#d0ae60"/><polygon points="195,14 201,10 199,7 190,8" fill="#f8eeb2"/><polygon points="452,1 455,0 455,0 447,0" fill="#f8eeb2"/><polygon points="1761,12 1756,11 1757,14 1760,14 1761,12" fill="#efdb92"/><polygon points="1144,14 1143,19 1144,20 1150,20 1148,13" fill="#f4e4a0"/><polygon points="1032,19 1032,18 1026,14 1026,14 1027,20 1031,20" fill="#efdb92"/><polygon points="1152,12 1156,16 1160,17 1161,16 1157,10 1157,10" fill="#bb9756"/><polygon points="1478,0 1478,0 1478,0" fill="#efdb92"/><polygon points="1694,19 1691,17 1689,17 1686,20 1694,20" fill="#d0ae60"/><polygon points="1668,12 1663,8 1656,13 1657,17 1660,17 1667,14" fill="#f8eeb2"/><polygon points="1508,19 1503,17 1501,20 1508,20" fill="#bb9756"/><polygon points="161,1 163,0 163,0 161,0" fill="#f8eeb2"/><polygon points="647,10 647,11 651,10 654,6 656,3 654,0 653,0" fill="#e2c679"/><polygon points="59,19 54,17 51,19 51,20 59,20" fill="#d0ae60"/><polygon points="332,13 334,12 340,6 333,4" fill="#d0ae60"/><polygon points="443,11 438,10 433,13 435,20 440,20 443,19" fill="#e2c679"/><polygon points="1457,8 1455,7 1444,7 1444,7 1443,9 1443,10 1444,11 1456,12 1456,12" fill="#e2c679"/><polygon points="638,1 639,1 639,1 639,0 635,0" fill="#9c7b4b"/><polygon points="1164,11 1161,8 1157,10 1161,16 1162,16 1162,16" fill="#f8eeb2"/><polygon points="894,20 898,20 893,17" fill="#d0ae60"/><polygon points="1063,13 1062,9 1059,7 1057,15 1058,15" fill="#e2c679"/><polygon points="1712,8 1717,9 1717,8 1714,4 1711,5 1710,5" fill="#e2c679"/><polygon points="625,0 623,0 624,2" fill="#bb9756"/><polygon points="169,3 169,8 176,10 184,3 185,1 184,0 170,0" fill="#e2c679"/><polygon points="922,4 926,6 931,3 930,0 930,0" fill="#bb9756"/><polygon points="1748,0 1756,3 1756,0 1749,0" fill="#efdb92"/><polygon points="673,2 673,0 666,0" fill="#9c7b4b"/><polygon points="1565,20 1568,20 1567,19 1565,20" fill="#9c7b4b"/><polygon points="195,16 194,15 192,16 191,17 190,18 193,20 197,20" fill="#e2c679"/><polygon points="867,16 874,13 874,12 868,6 861,15 862,16" fill="#e2c679"/><polygon points="940,13 935,9 928,14 927,15 929,18 939,16 940,15" fill="#e2c679"/><polygon points="806,8 807,14 811,14 813,6 809,4" fill="#d0ae60"/><polygon points="1459,19 1458,20 1459,20" fill="#f8eeb2"/><polygon points="21,16 21,20 26,20 30,16 28,11 21,15" fill="#efdb92"/><polygon points="1045,15 1039,4 1038,3 1040,15 1045,17" fill="#7a5e3f"/><polygon points="741,16 741,19 744,20 748,20 752,18 748,11" fill="#e2c679"/><polygon points="1788,7 1791,13 1793,13 1794,13 1800,2 1799,0 1798,0 1791,0 1788,3 1788,4" fill="#9c7b4b"/><polygon points="1463,4 1464,0 1460,0 1460,0" fill="#e2c679"/><polygon points="94,16 84,14 84,15 82,20 95,20" fill="#e2c679"/><polygon points="340,14 346,11 344,5 340,6 334,12 339,14" fill="#d0ae60"/><polygon points="831,10 831,9 831,5 830,4 825,0 821,0 815,5 820,15 823,15 828,13" fill="#f8eeb2"/><polygon points="1277,20 1282,20 1279,18" fill="#d0ae60"/><polygon points="598,20 600,20 599,19" fill="#f8eeb2"/><polygon points="646,1 647,10 653,0 647,0" fill="#d0ae60"/><polygon points="1682,8 1678,6 1677,12 1678,13 1678,13" fill="#9c7b4b"/><polygon points="1741,18 1745,14 1745,13 1736,13 1735,18" fill="#d0ae60"/><polygon points="740,6 731,13 740,15 741,6" fill="#f8eeb2"/><polygon points="1644,20 1644,18 1641,15 1637,14 1635,15 1635,20 1643,20" fill="#d0ae60"/><polygon points="140,16 137,18 138,20 146,20 145,17" fill="#f4e4a0"/><polygon points="950,1 956,5 958,4 957,0 951,0" fill="#d0ae60"/><polygon points="1626,1 1625,1 1625,8 1626,10 1629,10 1631,7" fill="#f4e4a0"/><polygon points="1757,14 1757,15 1759,20 1764,20 1765,18 1760,14" fill="#9c7b4b"/><polygon points="1406,12 1399,7 1399,7 1398,11 1402,18 1403,19" fill="#e2c679"/><polygon points="1286,0 1284,3 1283,5 1289,9 1295,6 1296,0 1286,0" fill="#efdb92"/><polygon points="1271,0 1282,6 1283,5 1284,3 1281,0 1271,0" fill="#9c7b4b"/><polygon points="1402,18 1398,11 1394,15 1394,15" fill="#efdb92"/><polygon points="1781,1 1780,0 1775,0 1775,4" fill="#efdb92"/><polygon points="673,2 674,5 675,7 678,0 673,0" fill="#f4e4a0"/><polygon points="147,11 144,11 142,12 140,15 140,16 145,17" fill="#efdb92"/><polygon points="433,4 426,3 424,8 426,8" fill="#f8eeb2"/><polygon points="392,15 392,17 393,20 397,20 395,13" fill="#f8eeb2"/><polygon points="651,10 655,11 659,7 654,6" fill="#f8eeb2"/><polygon points="1476,2 1474,2 1471,4 1473,7 1479,11" fill="#7a5e3f"/><polygon points="97,5 104,10 107,6 107,3 100,2" fill="#9c7b4b"/><polygon points="819,16 820,15 815,5 813,6 811,14 813,16 815,16" fill="#bb9756"/><polygon points="469,3 473,8 476,7 478,3 472,0" fill="#d0ae60"/><polygon points="108,0 109,0 108,0" fill="#9c7b4b"/><polygon points="438,0 432,0 434,3" fill="#bb9756"/><polygon points="146,3 142,8 144,11 147,11 150,11 151,9 152,5" fill="#f4e4a0"/><polygon points="1473,20 1473,20 1473,20" fill="#e2c679"/><polygon points="300,10 305,4 301,0 300,0 299,1 297,8 297,8" fill="#f8eeb2"/><polygon points="348,17 346,19 346,20 352,20" fill="#efdb92"/><polygon points="1486,3 1487,1 1480,3 1481,3" fill="#e2c679"/><polygon points="1480,19 1474,15 1474,15 1472,18 1473,20 1473,20 1479,20" fill="#d0ae60"/><polygon points="1066,1 1067,1 1073,2 1076,1 1076,0 1067,0" fill="#7a5e3f"/><polygon points="1670,20 1667,19 1667,20 1671,20" fill="#9c7b4b"/><polygon points="106,17 104,11 95,12 94,16 95,20 105,20" fill="#d0ae60"/><polygon points="1761,6 1757,5 1756,7 1755,10 1756,11 1761,12" fill="#9c7b4b"/><polygon points="550,8 548,7 541,13 542,19 543,20 551,20" fill="#e2c679"/><polygon points="1194,9 1196,15 1198,18 1205,15 1198,9 1195,9" fill="#f8eeb2"/><polygon points="190,18 191,17 187,14 186,15 186,20 188,20" fill="#d0ae60"/><polygon points="1059,7 1058,5 1053,9 1051,17 1054,18 1054,17 1057,15" fill="#7a5e3f"/><polygon points="852,6 852,6 860,6 861,5 857,0 857,0" fill="#e2c679"/><polygon points="1187,6 1182,1 1180,2 1185,11 1187,12" fill="#bb9756"/><polygon points="430,11 431,13 433,13 438,10 434,3 433,4" fill="#f8eeb2"/><polygon points="44,3 44,4 53,3 54,0 44,0" fill="#d0ae60"/><polygon points="981,8 983,13 994,10 993,7 990,4" fill="#7a5e3f"/><polygon points="1626,10 1624,12 1622,20 1627,20 1631,14 1629,10" fill="#f8eeb2"/><polygon points="830,4 832,0 825,0" fill="#f8eeb2"/><polygon points="760,7 762,8 762,7 763,2 760,0 753,0" fill="#f8eeb2"/><polygon points="962,17 964,14 964,11 957,10 951,15 956,17" fill="#d0ae60"/><polygon points="1435,15 1443,10 1443,9 1442,9 1434,10" fill="#9c7b4b"/><polygon points="904,0 897,0 897,0 902,1" fill="#f8eeb2"/><polygon points="378,19 377,20 379,20" fill="#e2c679"/><polygon points="1100,15 1098,12 1097,12 1089,18 1090,20 1091,20 1096,20" fill="#9c7b4b"/><polygon points="1367,10 1364,8 1359,11 1362,12" fill="#bb9756"/><polygon points="1376,14 1370,16 1370,16 1372,20 1378,20" fill="#efdb92"/><polygon points="1812,9 1809,9 1807,16 1811,18 1814,14 1814,13" fill="#d0ae60"/><polygon points="389,1 390,8 390,8 394,8 390,0 390,0" fill="#bb9756"/><polygon points="772,19 774,20 777,19 774,11 768,13 768,17" fill="#9c7b4b"/><polygon points="763,1 763,2 762,7 768,6 770,4 768,0 767,0" fill="#f4e4a0"/><polygon points="577,15 575,7 572,7 569,7 568,19 574,20 576,20" fill="#e2c679"/><polygon points="660,18 658,18 655,20 662,20" fill="#d0ae60"/><polygon points="869,20 867,16 862,16 862,20 869,20" fill="#bb9756"/><polygon points="981,7 981,8 990,4 990,1 988,0 983,0" fill="#f4e4a0"/><polygon points="473,8 473,15 478,16 479,13 478,8 476,7" fill="#e2c679"/><polygon points="542,4 547,5 547,4 547,0 542,0" fill="#bb9756"/><polygon points="248,0 238,0 240,3" fill="#f4e4a0"/><polygon points="572,7 575,0 566,0 566,5 569,7" fill="#bb9756"/><polygon points="1091,3 1093,6 1095,7 1099,1 1097,0 1093,0" fill="#f8eeb2"/><polygon points="993,7 1001,4 998,0 991,0 990,1 990,4" fill="#f4e4a0"/><polygon points="1317,5 1317,10 1322,12 1324,12 1322,6 1317,4" fill="#d0ae60"/><polygon points="1118,4 1122,1 1121,0 1118,0" fill="#e2c679"/><polygon points="1068,6 1069,8 1073,7 1073,2 1067,1" fill="#e2c679"/><polygon points="1101,15 1100,15 1096,20 1104,20" fill="#f4e4a0"/><polygon points="646,12 647,11 639,1 638,1 636,7 637,10" fill="#9c7b4b"/><polygon points="1414,13 1422,7 1421,4 1416,4 1412,11" fill="#d0ae60"/><polygon points="1107,6 1106,4 1106,3 1099,1 1099,1 1095,7 1097,12 1098,12" fill="#d0ae60"/><polygon points="555,20 560,20 559,8" fill="#f4e4a0"/><polygon points="443,19 440,20 444,20" fill="#e2c679"/><polygon points="622,15 624,17 628,16 631,13 628,9 622,11" fill="#7a5e3f"/><polygon points="21,20 11,19 11,20 21,20" fill="#efdb92"/><polygon points="293,0 293,0 299,1 300,0 293,0" fill="#d0ae60"/><polygon points="624,18 625,20 633,20 628,16 624,17" fill="#efdb92"/><polygon points="1083,15 1083,14 1076,13 1074,14 1072,16 1071,20 1080,20" fill="#efdb92"/><polygon points="1133,11 1133,13 1137,15 1141,12 1134,8 1134,9" fill="#d0ae60"/><polygon points="288,15 288,8 287,7 283,5 280,6 279,9 283,17" fill="#bb9756"/><polygon points="1624,0 1625,1 1626,1 1633,2 1634,0 1624,0" fill="#efdb92"/><polygon points="1326,19 1325,20 1328,20" fill="#efdb92"/><polygon points="898,13 901,19 910,17 905,11 901,10" fill="#7a5e3f"/><polygon points="1168,16 1169,20 1174,19 1172,14" fill="#efdb92"/><polygon points="303,12 300,10 297,8 297,11 297,18 299,20 301,19 304,15" fill="#efdb92"/><polygon points="1162,16 1162,16 1165,20 1169,20 1169,20 1168,16" fill="#efdb92"/><polygon points="1799,0 1800,2 1807,3 1809,2 1810,1 1810,0 1800,0" fill="#7a5e3f"/><polygon points="1406,0 1397,0 1400,4 1403,3" fill="#d0ae60"/><polygon points="327,1 327,0 319,0 323,4" fill="#e2c679"/><polygon points="216,15 217,15 212,6 208,8 203,12" fill="#f8eeb2"/><polygon points="1655,2 1658,3 1661,0 1654,0" fill="#efdb92"/><polygon points="1365,18 1370,16 1370,16 1369,11 1368,10 1367,10 1362,12" fill="#bb9756"/><polygon points="1381,20 1387,20 1384,10 1384,10 1383,10" fill="#9c7b4b"/><polygon points="1486,18 1480,19 1479,20 1487,20" fill="#d0ae60"/><polygon points="341,20 346,20 346,19 341,18 340,19" fill="#d0ae60"/><polygon points="278,18 276,12 270,12 270,15 274,20" fill="#efdb92"/><polygon points="741,19 741,16 740,15 731,13 729,13 729,16 729,16 735,20 739,20" fill="#d0ae60"/><polygon points="291,18 290,17 288,15 283,17 281,19 281,20 290,20" fill="#efdb92"/><polygon points="1353,6 1352,3 1351,2 1340,7 1344,11 1353,7" fill="#e2c679"/><polygon points="1054,17 1054,18 1055,20 1063,20" fill="#d0ae60"/><polygon points="1084,8 1084,9 1093,6 1091,3 1086,3" fill="#f8eeb2"/><polygon points="687,17 684,17 684,20 691,20 691,20 687,17" fill="#bb9756"/><polygon points="901,6 908,1 909,0 909,0 904,0 902,1 899,3" fill="#efdb92"/><polygon points="614,8 612,0 603,0 603,1 603,4 609,11" fill="#9c7b4b"/><polygon points="534,2 542,4 542,0 535,0" fill="#f8eeb2"/><polygon points="1459,19 1458,15 1456,12 1456,12 1449,20 1449,20 1458,20" fill="#f8eeb2"/><polygon points="153,0 144,0 146,3 152,5 154,3" fill="#bb9756"/><polygon points="418,3 417,8 418,9 424,8 426,3 426,0 419,0" fill="#e2c679"/><polygon points="792,10 791,11 787,14 790,19 792,20 796,20 797,14" fill="#f8eeb2"/><polygon points="358,17 361,20 366,20 367,13" fill="#f8eeb2"/><polygon points="676,20 675,20 676,20" fill="#d0ae60"/><polygon points="396,9 394,8 390,8 389,10 389,11 391,15 392,15 395,13 397,11" fill="#f8eeb2"/><polygon points="1546,13 1547,8 1545,7 1541,10 1537,15 1537,15 1541,19" fill="#f8eeb2"/><polygon points="1047,0 1039,0 1037,3 1038,3 1039,4 1046,6 1046,6 1048,1" fill="#e2c679"/><polygon points="1152,12 1152,12 1157,10 1156,4 1152,3" fill="#d0ae60"/><polygon points="1617,1 1618,2 1624,0 1624,0 1617,0" fill="#efdb92"/><polygon points="1295,20 1299,20 1305,13 1298,11 1293,15 1293,20" fill="#f8eeb2"/><polygon points="7,5 8,5 14,1 13,0 7,0" fill="#7a5e3f"/><polygon points="999,16 996,12 994,12 992,16 994,20 998,20" fill="#bb9756"/><polygon points="1293,20 1293,20 1293,15 1289,9 1283,5 1282,6 1281,8 1289,20 1291,20" fill="#f8eeb2"/><polygon points="1470,19 1468,13 1464,17 1467,20 1467,20" fill="#efdb92"/><polygon points="340,20 341,20 340,19 340,19" fill="#7a5e3f"/><polygon points="1152,17 1151,20 1156,20" fill="#bb9756"/><polygon points="1709,3 1711,5 1714,4 1715,0 1711,0" fill="#9c7b4b"/><polygon points="462,2 463,11 467,12 467,4" fill="#efdb92"/><polygon points="531,7 530,3 529,4 519,14 521,20 523,20 529,15" fill="#e2c679"/><polygon points="778,3 779,2 775,0 770,0 770,4" fill="#e2c679"/><polygon points="1036,14 1040,15 1038,3 1037,3 1032,4" fill="#bb9756"/><polygon points="1796,13 1798,15 1807,16 1809,9 1809,2 1807,3" fill="#efdb92"/><polygon points="1064,20 1071,20 1072,16 1065,17 1065,17 1064,17" fill="#efdb92"/><polygon points="1193,5 1196,0 1196,0 1189,0" fill="#f8eeb2"/><polygon points="550,0 547,0 547,4" fill="#d0ae60"/><polygon points="633,20 635,20 635,12 631,13 628,16" fill="#e2c679"/><polygon points="1413,3 1416,4 1421,4 1421,0 1412,0" fill="#f8eeb2"/><polygon points="311,8 315,10 323,8 323,6 315,5 311,8" fill="#d0ae60"/><polygon points="384,4 380,2 377,7 384,7 384,7" fill="#e2c679"/><polygon points="1210,3 1220,13 1222,12 1219,0 1211,0" fill="#efdb92"/><polygon points="668,17 676,19 678,12 678,11 677,10 672,11 668,16" fill="#d0ae60"/><polygon points="363,0 363,1 370,11 371,10 374,1 372,0 364,0" fill="#d0ae60"/><polygon points="142,12 138,12 140,15" fill="#f8eeb2"/><polygon points="790,20 792,20 790,19" fill="#bb9756"/><polygon points="1480,19 1486,18 1484,12 1483,12 1479,11 1474,15" fill="#bb9756"/><polygon points="507,19 507,14 501,11 500,11 497,15 497,17 499,20 506,20" fill="#f8eeb2"/><polygon points="122,11 122,14 123,15 127,17 131,13 130,9" fill="#f4e4a0"/><polygon points="84,15 82,8 75,11 73,16 75,20 82,20" fill="#bb9756"/><polygon points="1568,20 1577,20 1580,16 1579,15 1568,17 1567,19 1567,19" fill="#9c7b4b"/><polygon points="1299,7 1303,6 1300,0 1298,0" fill="#7a5e3f"/><polygon points="236,11 229,11 226,13 228,17 236,17" fill="#e2c679"/><polygon points="1660,17 1666,19 1667,14" fill="#f8eeb2"/><polygon points="778,3 778,6 786,14 787,14 791,11 780,1 779,2" fill="#f4e4a0"/><polygon points="1687,15 1692,7 1692,7 1686,6 1685,7 1685,13 1685,14" fill="#f8eeb2"/><polygon points="1755,10 1746,14 1748,18 1757,15 1757,14 1756,11" fill="#bb9756"/><polygon points="1,15 7,17 9,11 9,9 8,5 7,5 3,4 0,10 0,12" fill="#efdb92"/><polygon points="1065,0 1055,0 1055,2 1058,5 1065,0" fill="#efdb92"/><polygon points="676,8 677,10 678,11 679,10 683,3 680,0 678,0 675,7" fill="#efdb92"/><polygon points="639,1 647,11 647,11 647,10 646,1 641,0 639,1" fill="#f8eeb2"/><polygon points="407,2 409,8 417,8 418,3 416,0 410,0" fill="#f4e4a0"/><polygon points="45,19 43,17 40,17 36,20 44,20" fill="#9c7b4b"/><polygon points="1337,20 1328,16 1326,19 1328,20 1337,20" fill="#7a5e3f"/><polygon points="53,3 56,6 56,6 62,6 63,3 64,0 54,0" fill="#efdb92"/><polygon points="1565,20 1565,20 1565,20" fill="#7a5e3f"/><polygon points="983,13 983,16 991,16 992,16 994,12 994,10" fill="#efdb92"/><polygon points="28,11 30,7 28,4 22,5 21,10 21,15" fill="#9c7b4b"/><polygon points="122,11 120,5 113,9 113,9 122,14 122,14" fill="#e2c679"/><polygon points="536,19 536,17 535,16 530,15 534,20 534,20" fill="#f8eeb2"/><polygon points="488,10 488,11 493,14 497,15 500,11 494,5 492,6" fill="#f8eeb2"/><polygon points="1765,18 1764,20 1773,20 1774,17 1774,15 1771,12 1769,13" fill="#bb9756"/><polygon points="856,0 854,0 847,3 848,6 852,6 857,0" fill="#f8eeb2"/><polygon points="509,20 521,20 519,14 519,14 508,19" fill="#efdb92"/><polygon points="1707,10 1709,11 1712,8 1710,5 1707,9" fill="#9c7b4b"/><polygon points="1307,4 1316,5 1317,5 1317,4 1317,3 1316,0 1306,0" fill="#7a5e3f"/><polygon points="237,18 237,20 246,20 247,19 245,14" fill="#7a5e3f"/><polygon points="1625,1 1624,0 1618,2 1620,6 1625,8" fill="#e2c679"/><polygon points="803,20 804,18 804,16 801,14 797,14 796,20 803,20" fill="#7a5e3f"/><polygon points="1434,18 1435,15 1434,10 1431,6 1426,8 1430,15" fill="#bb9756"/><polygon points="1314,19 1312,20 1312,20 1315,20" fill="#f8eeb2"/><polygon points="1187,6 1187,12 1189,13 1194,9 1195,9 1193,5" fill="#efdb92"/><polygon points="1403,19 1402,18 1394,15 1394,19 1394,19 1396,20 1403,20" fill="#bb9756"/><polygon points="1483,12 1481,3 1480,3 1478,0 1478,0 1476,2 1479,11 1479,11" fill="#d0ae60"/><polygon points="830,4 831,5 840,0 840,0 832,0" fill="#d0ae60"/><polygon points="878,20 876,19 875,20 879,20" fill="#9c7b4b"/><polygon points="676,20 676,19 668,17 668,17 668,20 675,20" fill="#bb9756"/><polygon points="1614,14 1612,20 1620,20" fill="#efdb92"/><polygon points="394,0 390,0 394,8 396,9 397,5" fill="#bb9756"/><polygon points="1368,2 1369,1 1369,0 1361,0 1362,4 1362,4" fill="#d0ae60"/><polygon points="1472,13 1468,12 1468,13 1470,19 1472,18 1474,15" fill="#efdb92"/><polygon points="345,2 344,5 346,11 347,12 355,11 356,9 354,5 350,0 348,0" fill="#f4e4a0"/><polygon points="1192,20 1198,20 1198,18 1196,15" fill="#f8eeb2"/><polygon points="1774,15 1785,17 1788,16 1791,14 1791,13 1788,7 1773,8 1771,10 1771,12" fill="#9c7b4b"/><polygon points="705,0 698,0 694,3 694,4 695,4 704,6 706,4" fill="#9c7b4b"/><polygon points="1536,8 1541,10 1545,7 1540,3 1537,5" fill="#7a5e3f"/><polygon points="679,10 678,11 678,12 684,17 687,17 688,10" fill="#efdb92"/><polygon points="397,5 396,9 397,11 402,12 408,8 409,8 407,2 404,0 404,0" fill="#bb9756"/><polygon points="668,17 664,17 664,20 668,20" fill="#e2c679"/><polygon points="1188,15 1187,16 1186,20 1191,20" fill="#efdb92"/><polygon points="463,11 456,11 456,13 458,16 461,19 469,16 467,12" fill="#e2c679"/><polygon points="1565,1 1555,3 1555,4 1555,5 1558,9 1562,11 1567,10" fill="#9c7b4b"/><polygon points="534,20 534,20 533,20 534,20" fill="#efdb92"/><polygon points="1394,19 1394,19 1391,19 1389,20 1393,20" fill="#d0ae60"/><polygon points="572,7 575,7 576,7 582,1 582,0 575,0" fill="#bb9756"/><polygon points="918,19 917,20 918,20" fill="#7a5e3f"/><polygon points="1594,15 1590,20 1596,20" fill="#e2c679"/><polygon points="885,19 878,20 879,20 883,20" fill="#f8eeb2"/><polygon points="1130,19 1131,20 1131,20 1135,20 1137,15 1133,13" fill="#bb9756"/><polygon points="613,18 613,20 621,20 624,18 624,17 622,15" fill="#f8eeb2"/><polygon points="853,16 846,14 845,16 847,20 852,20" fill="#f8eeb2"/><polygon points="107,2 108,0 108,0 104,0" fill="#e2c679"/><polygon points="940,3 945,13 947,13 948,11 948,1 947,0 943,0" fill="#f8eeb2"/><polygon points="815,16 813,16 811,19 811,20 815,20" fill="#7a5e3f"/><polygon points="542,19 536,19 536,20 543,20" fill="#9c7b4b"/><polygon points="309,6 308,6 303,12 304,15 309,15 311,8 311,8" fill="#f8eeb2"/><polygon points="619,4 615,0 612,0 614,8 620,7 620,6" fill="#f8eeb2"/><polygon points="1631,20 1635,20 1635,15 1632,14" fill="#e2c679"/><polygon points="1666,19 1667,19 1670,20 1671,14 1669,12 1668,12 1667,14" fill="#f8eeb2"/><polygon points="764,19 766,12 762,8 758,13" fill="#9c7b4b"/><polygon points="1069,8 1068,6 1065,7 1063,9 1068,11" fill="#efdb92"/><polygon points="1811,18 1812,20 1814,20 1814,14" fill="#efdb92"/><polygon points="214,20 220,20 217,15 217,15 216,15 214,17" fill="#e2c679"/><polygon points="1383,10 1376,14 1378,20 1381,20" fill="#f8eeb2"/><polygon points="929,18 929,20 936,20" fill="#f8eeb2"/><polygon points="1384,10 1385,9 1386,6 1384,0 1377,0 1380,7 1384,10" fill="#f4e4a0"/><polygon points="1524,0 1514,0 1523,3 1524,1" fill="#f8eeb2"/><polygon points="1519,18 1517,20 1520,20" fill="#7a5e3f"/><polygon points="624,18 621,20 625,20" fill="#f8eeb2"/><polygon points="1076,1 1084,8 1086,3 1086,2 1085,0 1076,0" fill="#e2c679"/><polygon points="68,20 75,20 73,16 70,15 67,16" fill="#e2c679"/><polygon points="807,14 806,8 802,8 801,14 804,16" fill="#f8eeb2"/><polygon points="1156,4 1157,10 1157,10 1161,8 1164,4 1164,0 1161,0" fill="#9c7b4b"/><polygon points="1745,14 1741,18 1740,20 1747,20 1748,19 1748,18 1746,14" fill="#bb9756"/><polygon points="1188,15 1191,20 1192,20 1196,15 1194,9 1189,13" fill="#9c7b4b"/><polygon points="374,1 374,0 372,0" fill="#d0ae60"/><polygon points="704,20 705,20 705,20" fill="#d0ae60"/><polygon points="1652,10 1651,10 1644,18 1653,20 1657,17 1657,17 1656,13" fill="#9c7b4b"/><polygon points="915,13 908,6 905,11 910,17 910,17 914,16" fill="#f8eeb2"/><polygon points="1222,12 1222,12 1224,11 1228,6 1228,5 1221,0 1219,0" fill="#f8eeb2"/><polygon points="1620,6 1618,2 1617,1 1611,5 1611,9 1612,11 1614,12 1617,11" fill="#e2c679"/><polygon points="94,6 97,5 100,2 98,0 96,0" fill="#d0ae60"/><polygon points="530,15 529,15 523,20 533,20 534,20" fill="#f8eeb2"/><polygon points="323,4 319,0 314,0 315,5 323,6" fill="#9c7b4b"/><polygon points="79,3 79,2 77,0 71,0 72,1 76,3" fill="#f8eeb2"/><polygon points="619,4 619,0 615,0" fill="#9c7b4b"/><polygon points="1663,7 1663,8 1668,12 1669,12 1672,7 1673,2 1670,0 1667,0" fill="#f8eeb2"/><polygon points="195,16 203,16 203,12 201,10 195,14 194,15" fill="#7a5e3f"/><polygon points="1714,4 1717,8 1721,4 1718,0 1715,0" fill="#f8eeb2"/><polygon points="897,7 894,1 891,6 891,9" fill="#e2c679"/><polygon points="1246,5 1250,12 1255,8 1255,5 1248,3" fill="#d0ae60"/><polygon points="1487,1 1486,3 1488,7 1489,7 1495,0 1495,0 1487,0" fill="#f8eeb2"/><polygon points="408,8 402,12 402,16 404,20 410,20" fill="#7a5e3f"/><polygon points="370,11 363,1 357,9 370,11 370,11" fill="#9c7b4b"/><polygon points="772,19 768,17 765,20 771,20" fill="#d0ae60"/><polygon points="1540,3 1545,7 1547,8 1555,4 1555,3 1554,0 1539,0" fill="#f8eeb2"/><polygon points="1692,7 1687,15 1689,17 1691,17 1695,8" fill="#bb9756"/><polygon points="340,19 337,20 337,20 340,20" fill="#d0ae60"/><polygon points="1258,17 1249,17 1248,18 1248,20 1258,20" fill="#f8eeb2"/><polygon points="808,0 807,0 807,0" fill="#d0ae60"/><polygon points="530,3 534,2 535,0 528,0" fill="#d0ae60"/><polygon points="488,18 486,16 480,17 480,20 489,20" fill="#d0ae60"/><polygon points="30,16 36,13 34,9 30,7 28,11" fill="#bb9756"/><polygon points="1592,8 1594,0 1586,0 1588,4" fill="#efdb92"/><polygon points="297,11 290,17 291,18 297,18" fill="#efdb92"/><polygon points="494,5 500,11 501,11 505,4 502,1 496,2" fill="#efdb92"/><polygon points="1682,8 1685,7 1686,6 1683,0 1677,2 1678,6" fill="#e2c679"/><polygon points="144,11 142,8 140,7 138,9 137,12 138,12 142,12" fill="#7a5e3f"/><polygon points="613,18 609,13 606,15 605,20 613,20" fill="#f8eeb2"/><polygon points="1234,4 1239,7 1242,5 1241,0 1234,0" fill="#bb9756"/><polygon points="297,8 288,8 288,15 290,17 297,11 297,8" fill="#e2c679"/><polygon points="1046,6 1046,6 1047,8 1050,8 1050,4" fill="#f4e4a0"/><polygon points="762,8 766,12 768,13 774,11 774,11 768,6 762,7 762,8" fill="#efdb92"/><polygon points="7,17 7,18 11,19 21,20 21,20 21,16 15,13 9,11" fill="#efdb92"/><polygon points="1101,15 1109,9 1107,6 1098,12 1100,15" fill="#bb9756"/><polygon points="628,9 630,5 628,3 624,3 620,6 620,7 622,11" fill="#9c7b4b"/><polygon points="378,0 374,0 374,1 371,10 377,7 380,2 380,1" fill="#bb9756"/><polygon points="1788,7 1788,4 1781,1 1775,4 1773,8" fill="#d0ae60"/><polygon points="1530,11 1532,5 1531,0 1531,0 1531,0 1524,1 1523,3 1521,14 1525,14 1530,13" fill="#9c7b4b"/><polygon points="807,0 809,4 813,6 815,5 821,0 808,0" fill="#efdb92"/><polygon points="586,18 585,15 577,15 576,20 581,20" fill="#d0ae60"/><polygon points="19,3 17,0 14,1 8,5 9,9 16,9" fill="#efdb92"/><polygon points="1329,4 1326,0 1317,3 1317,4 1322,6 1328,8" fill="#e2c679"/><polygon points="478,8 482,5 482,3 479,3 478,3 476,7" fill="#f8eeb2"/><polygon points="926,11 928,14 935,9 935,6 931,3 926,6" fill="#bb9756"/><polygon points="1135,4 1135,5 1143,4 1146,0 1137,0" fill="#e2c679"/><polygon points="1369,11 1375,7 1374,6 1369,1 1368,2 1368,10" fill="#e2c679"/><polygon points="281,19 283,17 279,9 276,12 278,18 281,19" fill="#f4e4a0"/><polygon points="159,18 154,19 153,20 160,20" fill="#7a5e3f"/><polygon points="1409,5 1410,6 1413,3 1412,0 1408,0" fill="#d0ae60"/><polygon points="88,3 89,2 88,0 84,0" fill="#bb9756"/><polygon points="736,0 736,0 735,0" fill="#f8eeb2"/><polygon points="328,18 334,20 337,20 337,20 339,14 334,12 332,13 328,16" fill="#f8eeb2"/><polygon points="1531,0 1532,0 1531,0" fill="#e2c679"/><polygon points="1355,12 1351,16 1351,19 1352,20 1358,20" fill="#7a5e3f"/><polygon points="434,3 434,3 438,10 443,11 443,10 445,7 444,0 438,0" fill="#e2c679"/><polygon points="1065,17 1068,12 1068,11 1063,9 1062,9 1063,13 1065,17" fill="#d0ae60"/><polygon points="900,7 901,6 899,3 897,0 897,0 894,0 894,1 897,7" fill="#9c7b4b"/><polygon points="154,3 152,5 151,9 159,12 157,4" fill="#9c7b4b"/><polygon points="646,20 646,20 646,20" fill="#f8eeb2"/><polygon points="1370,16 1365,18 1362,20 1372,20" fill="#e2c679"/><polygon points="221,2 222,12 226,13 229,11 231,3 230,1 229,0 223,0" fill="#f8eeb2"/><polygon points="430,11 433,4 433,4 426,8" fill="#bb9756"/><polygon points="641,0 646,1 647,0 641,0" fill="#e2c679"/><polygon points="1,15 0,12 0,16" fill="#7a5e3f"/><polygon points="1160,18 1158,20 1161,20" fill="#efdb92"/><polygon points="956,18 955,20 956,20" fill="#d0ae60"/><polygon points="1193,5 1193,5 1195,9 1198,9 1204,4 1201,0 1196,0" fill="#f8eeb2"/><polygon points="716,1 728,1 728,0 715,0" fill="#d0ae60"/><polygon points="222,12 221,2 212,2 212,6 217,15 217,15" fill="#f4e4a0"/><polygon points="1,15 0,16 0,20 6,20 7,18 7,17" fill="#7a5e3f"/><polygon points="131,7 130,9 131,13 135,14 135,13 133,9" fill="#f4e4a0"/><polygon points="1431,6 1434,10 1442,9 1433,3" fill="#bb9756"/><polygon points="1351,2 1348,0 1339,0 1338,1 1339,6 1340,7" fill="#f4e4a0"/><polygon points="962,18 962,17 956,17 956,18 956,20 962,20" fill="#efdb92"/><polygon points="1322,6 1324,12 1328,13 1329,11 1328,8" fill="#9c7b4b"/><polygon points="1721,4 1717,8 1717,9 1717,12 1722,17 1723,17 1728,9 1727,5" fill="#f4e4a0"/><polygon points="1729,2 1733,0 1732,0 1729,0" fill="#f8eeb2"/><polygon points="461,19 458,16 456,20 461,20" fill="#e2c679"/><polygon points="857,15 853,16 852,20 856,20" fill="#bb9756"/><polygon points="743,6 746,5 749,0 749,0 740,0" fill="#bb9756"/><polygon points="1065,17 1063,13 1058,15 1064,17" fill="#bb9756"/><polygon points="1625,8 1620,6 1617,11 1624,12 1626,10" fill="#f4e4a0"/><polygon points="1016,13 1011,19 1011,20 1018,20 1019,14" fill="#e2c679"/><polygon points="1463,4 1463,4 1464,5 1471,4 1474,2 1473,0 1464,0" fill="#efdb92"/><polygon points="163,0 169,3 170,0 163,0" fill="#bb9756"/><polygon points="796,3 797,3 793,0 783,0 794,6" fill="#efdb92"/><polygon points="1369,1 1374,6 1375,0 1369,0" fill="#9c7b4b"/><polygon points="1234,18 1229,20 1235,20" fill="#d0ae60"/><polygon points="1244,17 1241,20 1248,20 1248,18" fill="#f8eeb2"/><polygon points="1791,0 1786,0 1788,3" fill="#d0ae60"/><polygon points="377,7 371,10 370,11 370,11 374,14 378,17 380,16 382,14 384,10 384,7" fill="#bb9756"/><polygon points="1295,6 1298,9 1299,7 1298,0 1296,0" fill="#e2c679"/><polygon points="352,20 355,20 357,17 355,11 347,12 348,17" fill="#e2c679"/><polygon points="1701,12 1709,16 1710,13 1709,11 1707,10" fill="#f8eeb2"/><polygon points="374,14 371,20 377,20 378,19 378,17" fill="#bb9756"/><polygon points="1519,18 1519,15 1517,14 1508,19 1508,20 1517,20" fill="#bb9756"/><polygon points="541,13 548,7 547,5 542,4 534,2 530,3 530,3 531,7 535,11 539,13" fill="#d0ae60"/><polygon points="1611,5 1610,3 1601,5 1601,8 1611,9" fill="#f8eeb2"/><polygon points="43,14 56,6 53,3 44,4" fill="#efdb92"/><polygon points="1377,0 1375,0 1374,6 1375,7 1380,7" fill="#e2c679"/><polygon points="386,2 389,1 390,0 384,0" fill="#e2c679"/><polygon points="664,17 663,16 660,18 662,20 664,20" fill="#d0ae60"/><polygon points="1471,4 1464,5 1468,12 1472,13 1473,7" fill="#f8eeb2"/><polygon points="354,5 356,9 357,9 363,1 363,0 363,0" fill="#e2c679"/><polygon points="639,1 641,0 641,0 639,0" fill="#bb9756"/><polygon points="663,16 663,13 658,14 658,18 660,18" fill="#f4e4a0"/><polygon points="479,3 482,3 483,3 483,2 483,0 479,0" fill="#d0ae60"/><polygon points="402,16 398,20 404,20" fill="#e2c679"/><polygon points="1364,8 1362,4 1362,4 1353,6 1353,7 1355,11 1359,11" fill="#efdb92"/><polygon points="1048,1 1046,6 1050,4 1051,2" fill="#d0ae60"/><polygon points="1415,18 1414,13 1412,11 1411,10 1407,12 1406,12 1403,19 1403,20 1413,20" fill="#f8eeb2"/><polygon points="281,19 281,19 280,20 281,20" fill="#efdb92"/><polygon points="992,16 991,16 989,20 994,20" fill="#efdb92"/><polygon points="170,18 177,16 176,10 169,8 168,9 166,11 167,16" fill="#d0ae60"/><polygon points="777,20 783,20 781,18 777,19" fill="#e2c679"/><polygon points="1076,1 1073,2 1073,7 1076,13 1083,14 1084,9 1084,8" fill="#7a5e3f"/><polygon points="1312,20 1306,12 1305,13 1299,20 1312,20" fill="#d0ae60"/><polygon points="1032,19 1031,20 1034,20" fill="#9c7b4b"/><polygon points="131,1 134,0 135,0 127,0" fill="#d0ae60"/><polygon points="684,17 678,12 676,19 676,20 676,20 684,20" fill="#e2c679"/><polygon points="1346,17 1344,15 1338,19 1337,20 1337,20 1346,20 1346,20 1346,19" fill="#efdb92"/><polygon points="1727,5 1727,5 1728,9 1733,10 1739,3 1735,0 1733,0 1733,0 1729,2" fill="#d0ae60"/><polygon points="1650,9 1651,10 1652,10 1655,2 1654,0 1645,0" fill="#efdb92"/><polygon points="1705,20 1709,20 1709,16 1701,12 1700,12 1700,15" fill="#7a5e3f"/><polygon points="456,7 458,3 455,0 452,1 449,7" fill="#f8eeb2"/><polygon points="1122,1 1126,1 1126,0 1121,0" fill="#d0ae60"/><polygon points="1391,19 1387,10 1386,10 1385,9 1384,10 1387,20 1389,20" fill="#9c7b4b"/><polygon points="143,0 135,0 134,0 138,2" fill="#bb9756"/><polygon points="585,15 584,10 576,7 575,7 577,15" fill="#bb9756"/><polygon points="382,14 383,14 389,11 389,10 384,10" fill="#e2c679"/><polygon points="1006,5 1004,5 999,12 1003,14" fill="#efdb92"/><polygon points="884,16 877,10 874,12 874,13 875,15" fill="#f4e4a0"/><polygon points="1266,18 1266,20 1273,20" fill="#7a5e3f"/><polygon points="568,19 567,20 567,20 574,20" fill="#f8eeb2"/><polygon points="660,7 660,10 663,12 664,12 665,10 665,5 663,3 663,3" fill="#efdb92"/><polygon points="237,18 236,17 228,17 228,20 237,20" fill="#f8eeb2"/><polygon points="391,15 389,11 383,14" fill="#e2c679"/><polygon points="886,18 885,19 883,20 887,20" fill="#e2c679"/><polygon points="1517,14 1511,8 1507,7 1502,7 1501,15 1503,17 1508,19" fill="#e2c679"/><polygon points="862,16 861,15 858,14 858,14 857,15 856,20 862,20" fill="#d0ae60"/><polygon points="1614,14 1614,12 1612,11 1604,16 1605,17 1606,20 1612,20" fill="#d0ae60"/><polygon points="1709,3 1711,0 1705,0 1705,2" fill="#bb9756"/><polygon points="1405,5 1403,3 1400,4 1399,7 1406,12 1407,12" fill="#f8eeb2"/><polygon points="1422,18 1415,18 1413,20 1423,20 1422,19" fill="#d0ae60"/><polygon points="22,5 19,3 16,9 17,9 21,10" fill="#d0ae60"/><polygon points="1267,1 1259,3 1261,11 1267,1" fill="#e2c679"/><polygon points="51,19 47,19 47,20 51,20" fill="#efdb92"/><polygon points="1376,14 1383,10 1384,10 1380,7 1375,7 1369,11 1370,16" fill="#bb9756"/><polygon points="774,20 772,19 771,20 774,20" fill="#f4e4a0"/><polygon points="142,8 146,3 144,0 143,0 138,2 140,7" fill="#7a5e3f"/><polygon points="1697,7 1699,0 1694,0" fill="#d0ae60"/><polygon points="327,15 328,16 332,13 333,4 332,1 331,0 329,0 327,1 323,4 323,6 323,8" fill="#e2c679"/><polygon points="1745,0 1748,0 1749,0 1745,0" fill="#f8eeb2"/><polygon points="1434,18 1434,18 1430,15 1422,19 1423,20 1428,20" fill="#e2c679"/><polygon points="1680,20 1681,20 1685,14 1685,13 1678,13 1678,13 1677,14 1677,14" fill="#efdb92"/><polygon points="1137,15 1135,20 1140,20 1142,20 1143,19 1144,14 1142,13 1141,12" fill="#d0ae60"/><polygon points="831,10 828,13 830,20 839,20" fill="#e2c679"/><polygon points="1739,3 1744,3 1745,0 1745,0 1735,0" fill="#f8eeb2"/><polygon points="89,2 88,3 88,4 93,7 94,6 96,0 91,0" fill="#9c7b4b"/><polygon points="297,18 291,18 290,20 299,20 299,20" fill="#d0ae60"/><polygon points="777,19 777,19 781,18 786,14 778,6 774,11 774,11" fill="#f8eeb2"/><polygon points="40,3 44,3 44,0 37,0" fill="#f8eeb2"/><polygon points="646,20 654,20 646,15 646,20" fill="#e2c679"/><polygon points="768,17 768,13 766,12 764,19 764,20 765,20" fill="#f8eeb2"/><polygon points="314,17 310,16 308,20 314,20" fill="#efdb92"/><polygon points="63,3 71,0 64,0" fill="#bb9756"/><polygon points="1148,2 1152,3 1156,4 1161,0 1146,0" fill="#f8eeb2"/><polygon points="1271,0 1271,0 1270,0" fill="#9c7b4b"/><polygon points="762,8 762,8 760,7 754,7 755,16 758,13" fill="#f8eeb2"/><polygon points="1633,2 1633,6 1638,8 1641,6 1642,0 1634,0" fill="#efdb92"/><polygon points="536,19 536,19 534,20 534,20 536,20" fill="#e2c679"/><polygon points="977,3 977,5 978,6 981,7 983,0 977,0" fill="#bb9756"/><polygon points="517,4 516,0 509,0 509,4 511,6 516,6" fill="#d0ae60"/><polygon points="1733,0 1733,0 1732,0" fill="#f8eeb2"/><polygon points="496,2 502,1 502,0 495,0" fill="#d0ae60"/><polygon points="1228,6 1234,4 1234,0 1227,0 1228,5" fill="#f8eeb2"/><polygon points="1242,5 1246,5 1248,3 1248,0 1248,0 1241,0" fill="#f8eeb2"/><polygon points="1127,1 1129,1 1130,0 1126,0 1126,1" fill="#9c7b4b"/><polygon points="1403,3 1405,5 1409,5 1408,0 1406,0" fill="#efdb92"/><polygon points="1141,12 1142,13 1142,8 1135,7 1134,8" fill="#bb9756"/><polygon points="828,13 823,15 823,20 830,20" fill="#7a5e3f"/><polygon points="819,16 815,16 815,20 818,20" fill="#f4e4a0"/><polygon points="281,19 278,18 274,20 274,20 280,20" fill="#bb9756"/><polygon points="202,4 200,5 199,7 201,10 203,12 203,12 208,8 204,4" fill="#f8eeb2"/><polygon points="279,9 280,6 273,3 269,6 268,9 270,12 276,12" fill="#bb9756"/><polygon points="1217,15 1213,18 1216,20 1220,20" fill="#d0ae60"/><polygon points="1116,3 1118,4 1118,4 1118,0 1115,0" fill="#e2c679"/><polygon points="380,1 381,0 378,0" fill="#9c7b4b"/><polygon points="14,1 17,0 17,0 13,0" fill="#d0ae60"/><polygon points="964,4 970,2 970,0 964,0" fill="#efdb92"/><polygon points="1444,19 1442,20 1449,20 1449,20" fill="#efdb92"/><polygon points="120,4 124,0 123,0 112,0" fill="#9c7b4b"/><polygon points="656,3 654,6 659,7 660,7 663,3" fill="#f8eeb2"/><polygon points="230,1 235,0 229,0" fill="#e2c679"/><polygon points="483,2 487,0 483,0" fill="#e2c679"/><polygon points="1228,6 1224,11 1238,14 1238,14 1239,7 1234,4" fill="#d0ae60"/><polygon points="918,20 929,20 929,18 929,18 927,15 918,18 918,19" fill="#d0ae60"/><polygon points="517,4 529,4 530,3 530,3 528,0 516,0" fill="#f4e4a0"/><polygon points="741,19 739,20 744,20" fill="#d0ae60"/><polygon points="683,3 690,0 680,0" fill="#e2c679"/><polygon points="1064,17 1058,15 1057,15 1054,17 1063,20 1064,20" fill="#9c7b4b"/><polygon points="135,13 137,12 138,9 133,9" fill="#9c7b4b"/><polygon points="1814,8 1814,1 1810,1 1809,2 1809,9 1812,9" fill="#d0ae60"/><polygon points="245,13 245,12 239,10 236,11 236,17 237,18 245,14" fill="#bb9756"/><polygon points="93,7 88,4 82,8 82,8 84,15 84,14 94,10" fill="#e2c679"/><polygon points="663,12 660,10 656,12 658,14 663,13" fill="#bb9756"/><polygon points="3,4 3,4 0,6 0,10" fill="#bb9756"/><polygon points="443,10 452,15 456,13 456,11 456,7 449,7 445,7" fill="#e2c679"/><polygon points="1478,0 1478,0 1473,0 1474,2 1476,2 1478,0" fill="#9c7b4b"/><polygon points="1176,3 1178,2 1178,0 1168,0 1171,1" fill="#e2c679"/><polygon points="860,6 852,6 858,14 858,14" fill="#d0ae60"/><polygon points="1678,6 1677,2 1673,2 1672,7 1677,12" fill="#bb9756"/><polygon points="902,1 897,0 899,3" fill="#efdb92"/><polygon points="991,16 983,16 982,17 982,20 989,20" fill="#7a5e3f"/><polygon points="433,4 434,3 434,3 432,0 426,0 426,3 433,4" fill="#9c7b4b"/><polygon points="606,15 609,13 609,11 603,4 598,8 597,12 600,16" fill="#f4e4a0"/><polygon points="1565,1 1567,10 1570,12 1576,7 1570,0 1568,0" fill="#bb9756"/><polygon points="1137,0 1130,0 1129,1 1135,4" fill="#bb9756"/><polygon points="260,2 262,4 265,2 265,0 261,0" fill="#e2c679"/><polygon points="1351,16 1346,17 1346,19 1351,19" fill="#f8eeb2"/><polygon points="656,3 663,3 663,3 664,1 664,0 654,0" fill="#d0ae60"/><polygon points="936,5 940,3 943,0 936,0" fill="#f8eeb2"/><polygon points="624,3 628,3 630,0 625,0 624,2" fill="#bb9756"/><polygon points="1567,19 1567,19 1562,12 1561,20 1565,20 1565,20" fill="#f8eeb2"/><polygon points="309,6 311,8 315,5 314,0 311,0" fill="#bb9756"/><polygon points="1577,8 1578,8 1585,8 1585,3 1585,0 1582,0" fill="#e2c679"/><polygon points="1201,0 1204,4 1208,4 1210,3 1211,0 1201,0" fill="#e2c679"/><polygon points="1721,4 1727,5 1727,5 1725,0 1724,0 1718,0" fill="#e2c679"/><polygon points="1435,20 1434,18 1428,20 1435,20" fill="#efdb92"/><polygon points="868,6 868,4 861,5 860,6 858,14 861,15" fill="#bb9756"/><polygon points="71,0 71,0 63,3 62,6 64,8 67,8 68,7 72,1" fill="#e2c679"/><polygon points="1410,6 1411,10 1412,11 1416,4 1413,3" fill="#f4e4a0"/><polygon points="1298,11 1305,13 1306,12 1306,12 1305,8 1303,6 1299,7 1298,9" fill="#9c7b4b"/><polygon points="1171,1 1168,0 1164,0 1164,4 1166,10 1168,10" fill="#f8eeb2"/><polygon points="1099,1 1099,1 1099,0 1097,0" fill="#9c7b4b"/><polygon points="124,0 120,4 120,5 122,11 130,9 131,7 131,1 127,0 125,0" fill="#9c7b4b"/><polygon points="951,15 947,14 947,20 952,20" fill="#bb9756"/><polygon points="1083,14 1083,15 1089,18 1097,12 1095,7 1093,6 1084,9" fill="#f4e4a0"/><polygon points="1131,20 1130,19 1122,15 1120,20 1131,20" fill="#7a5e3f"/><polygon points="590,0 603,1 603,0 590,0" fill="#efdb92"/><polygon points="799,0 793,0 797,3" fill="#bb9756"/><polygon points="1118,4 1120,12 1121,13 1121,13 1123,10 1127,2 1127,1 1126,1 1122,1 1118,4" fill="#9c7b4b"/><polygon points="1552,20 1554,20 1554,11 1550,17 1551,19" fill="#f8eeb2"/><polygon points="704,6 703,9 705,15 711,8 706,4" fill="#9c7b4b"/><polygon points="1361,0 1354,0 1352,3 1353,6 1362,4" fill="#efdb92"/><polygon points="665,5 676,8 675,7 674,5 664,1 663,3" fill="#e2c679"/><polygon points="17,0 19,3 22,5 28,4 30,0 17,0" fill="#e2c679"/><polygon points="915,13 914,16 918,18 927,15 928,14 926,11 923,10 917,9" fill="#e2c679"/><polygon points="1769,13 1771,12 1771,10 1769,7 1761,6 1761,12 1761,12" fill="#efdb92"/><polygon points="159,12 161,13 166,11 168,9 159,4 157,4" fill="#e2c679"/><polygon points="64,20 68,20 67,16 66,15" fill="#efdb92"/><polygon points="938,20 938,20 938,20" fill="#f8eeb2"/><polygon points="1793,13 1791,13 1791,14 1791,20 1794,20" fill="#f8eeb2"/><polygon points="497,18 492,17 488,18 489,20 495,20" fill="#efdb92"/><polygon points="231,3 229,11 236,11 239,10 238,5" fill="#d0ae60"/><polygon points="150,11 154,19 159,18 161,13 159,12 151,9" fill="#d0ae60"/><polygon points="3,4 0,1 0,6" fill="#bb9756"/><polygon points="646,15 646,12 637,10 635,12 635,20 639,20" fill="#9c7b4b"/><polygon points="1496,9 1501,7 1497,2 1495,0 1489,7 1492,9" fill="#e2c679"/><polygon points="84,14 94,16 95,12 94,10" fill="#9c7b4b"/><polygon points="589,20 586,18 581,20 589,20" fill="#7a5e3f"/><polygon points="1657,17 1653,20 1653,20 1658,20" fill="#d0ae60"/><polygon points="1090,20 1090,20 1091,20" fill="#f4e4a0"/><polygon points="845,16 846,14 845,12 831,9 831,10 839,20 842,20" fill="#e2c679"/><polygon points="1699,16 1694,19 1694,20 1699,20" fill="#f8eeb2"/><polygon points="631,13 635,12 637,10 636,7 630,5 628,9" fill="#bb9756"/><polygon points="128,19 127,17 123,15 122,20 128,20" fill="#7a5e3f"/><polygon points="1076,13 1073,7 1069,8 1068,11 1068,12 1074,14" fill="#d0ae60"/><polygon points="1460,0 1459,0 1460,0" fill="#f4e4a0"/><polygon points="668,17 668,17 668,16 664,12 663,12 663,13 663,16 664,17" fill="#efdb92"/><polygon points="1624,12 1617,11 1614,12 1614,14 1620,20 1622,20" fill="#f8eeb2"/><polygon points="1148,13 1150,20 1151,20 1152,17 1152,16 1149,13 1149,13" fill="#9c7b4b"/><polygon points="492,17 493,14 488,11 486,16 488,18" fill="#9c7b4b"/><polygon points="1030,4 1032,4 1037,3 1039,0 1026,0" fill="#f8eeb2"/><polygon points="1525,14 1521,14 1519,15 1519,18 1520,20 1529,20" fill="#e2c679"/><polygon points="1222,12 1222,12 1220,13 1217,15 1220,20 1227,20" fill="#9c7b4b"/><polygon points="536,19 536,19 542,19 541,13 539,13 536,17" fill="#f4e4a0"/><polygon points="1182,1 1187,6 1193,5 1193,5 1189,0 1183,0" fill="#e2c679"/><polygon points="204,0 199,0 198,1 199,4 200,5 202,4" fill="#9c7b4b"/><polygon points="956,18 956,17 951,15 951,15 952,20 955,20" fill="#e2c679"/><polygon points="586,8 589,4 582,1 576,7 584,10" fill="#f4e4a0"/><polygon points="803,20 803,20 803,20" fill="#efdb92"/><polygon points="519,14 516,6 511,6 509,12" fill="#e2c679"/><polygon points="858,14 852,6 852,6 848,6 845,12 846,14 853,16 857,15" fill="#f8eeb2"/><polygon points="770,4 768,6 774,11 778,6 778,3 770,4" fill="#d0ae60"/><polygon points="893,17 891,14 890,13 889,14 886,18 886,18 887,20 894,20" fill="#efdb92"/><polygon points="44,3 40,3 34,9 36,13 40,17 43,17 43,14 44,4" fill="#f8eeb2"/><polygon points="191,17 192,16 188,9 187,10 187,14" fill="#d0ae60"/><polygon points="1558,9 1555,5 1554,11 1554,20 1559,20" fill="#bb9756"/><polygon points="309,15 310,16 314,17 315,17 315,10 311,8" fill="#d0ae60"/><polygon points="1261,11 1261,11 1262,16 1265,17 1271,13 1267,1" fill="#7a5e3f"/><polygon points="694,3 698,0 690,0" fill="#d0ae60"/><polygon points="64,8 62,6 56,6 54,17 59,19 64,13" fill="#e2c679"/><polygon points="794,6 783,0 781,0 780,1 791,11 792,10" fill="#f4e4a0"/><polygon points="1032,19 1034,20 1045,20 1046,19 1045,17 1040,15 1036,14 1032,18" fill="#9c7b4b"/><polygon points="694,11 693,7 688,10 687,17 687,17 693,13" fill="#d0ae60"/><polygon points="311,0 301,0 305,4 308,6 309,6" fill="#bb9756"/><polygon points="695,4 694,4 693,7 694,11 697,13 705,16 705,15 703,9" fill="#e2c679"/><polygon points="88,4 88,3 84,0 80,0 79,2 79,3 82,8" fill="#bb9756"/><polygon points="3,4 3,4 7,5 7,0 0,0 0,1" fill="#7a5e3f"/><polygon points="283,5 287,7 293,0 293,0 293,0 284,0 283,1" fill="#9c7b4b"/><polygon points="104,11 106,17 112,14 113,12 113,9 113,9 107,6 104,10" fill="#e2c679"/><polygon points="963,5 964,4 964,0 957,0 958,4" fill="#7a5e3f"/><polygon points="407,2 410,0 404,0" fill="#efdb92"/><polygon points="1178,2 1180,2 1182,1 1183,0 1178,0" fill="#d0ae60"/><polygon points="939,16 929,18 929,18 936,20 938,20 938,20" fill="#e2c679"/><polygon points="719,18 718,17 714,20 720,20" fill="#f8eeb2"/><polygon points="1644,20 1644,20 1653,20 1653,20 1644,18 1644,18" fill="#7a5e3f"/><polygon points="1248,0 1248,0 1248,0" fill="#9c7b4b"/><polygon points="1725,0 1727,5 1729,2 1729,0 1725,0" fill="#d0ae60"/><polygon points="692,19 691,20 691,20 695,20 694,20" fill="#efdb92"/><polygon points="1213,18 1210,19 1210,20 1216,20" fill="#d0ae60"/><polygon points="1131,20 1131,20 1131,20" fill="#bb9756"/><polygon points="167,16 166,11 161,13 159,18 160,20 166,20" fill="#bb9756"/><polygon points="1507,6 1507,7 1511,8 1514,0 1509,0" fill="#bb9756"/><polygon points="1258,17 1258,20 1266,20 1266,18 1265,17 1262,16" fill="#d0ae60"/><polygon points="599,19 600,16 597,12 596,13 589,20 589,20 598,20" fill="#9c7b4b"/><polygon points="1338,19 1334,11 1329,11 1328,13 1328,16 1337,20" fill="#e2c679"/><polygon points="214,17 204,19 204,20 214,20" fill="#efdb92"/><polygon points="462,2 458,3 456,7 456,11 463,11 462,2" fill="#bb9756"/><polygon points="1657,17 1657,17 1658,20 1667,20 1667,19 1666,19 1660,17" fill="#bb9756"/><polygon points="1108,19 1107,20 1111,20" fill="#f8eeb2"/><polygon points="729,13 731,13 740,6 739,6 728,3 726,8" fill="#efdb92"/><polygon points="1562,12 1562,11 1558,9 1559,20 1561,20" fill="#9c7b4b"/><polygon points="1228,5 1227,0 1221,0" fill="#d0ae60"/><polygon points="328,18 328,16 327,15 315,17 314,17 314,20 327,20" fill="#d0ae60"/><polygon points="488,3 483,3 482,3 482,5 483,6 488,10 492,6" fill="#e2c679"/><polygon points="1611,9 1601,8 1598,12 1604,16 1612,11" fill="#9c7b4b"/><polygon points="1707,9 1710,5 1711,5 1709,3 1705,2 1705,3" fill="#9c7b4b"/><polygon points="1658,3 1663,7 1667,0 1661,0" fill="#f8eeb2"/><polygon points="1210,19 1207,16 1205,15 1198,18 1198,20 1210,20" fill="#e2c679"/><polygon points="1721,20 1722,17 1717,12 1710,13 1709,16 1709,20 1720,20" fill="#d0ae60"/><polygon points="1281,8 1277,12 1279,18 1282,20 1289,20" fill="#f8eeb2"/><polygon points="386,2 384,4 384,7 390,8 389,1" fill="#e2c679"/><polygon points="1591,9 1593,12 1594,13 1598,12 1601,8 1601,5 1599,0 1594,0 1592,8" fill="#9c7b4b"/><polygon points="620,7 614,8 609,11 609,13 613,18 622,15 622,11" fill="#bb9756"/><polygon points="418,3 419,0 416,0" fill="#f8eeb2"/><polygon points="483,2 483,3 488,3 488,0 487,0" fill="#d0ae60"/><polygon points="991,0 988,0 990,1" fill="#bb9756"/><polygon points="660,7 659,7 655,11 656,12 660,10" fill="#d0ae60"/><polygon points="455,0 458,3 462,2 462,0 455,0" fill="#f8eeb2"/><polygon points="170,18 167,16 166,20 170,20" fill="#d0ae60"/><polygon points="912,2 909,0 908,1 908,6 915,13 917,9 917,9" fill="#f4e4a0"/><polygon points="646,20 646,15 646,15 639,20 646,20" fill="#bb9756"/><polygon points="1600,20 1606,20 1605,17" fill="#7a5e3f"/><polygon points="260,11 258,10 256,12 254,17 257,20 263,20" fill="#9c7b4b"/><polygon points="136,17 135,14 131,13 127,17 128,19" fill="#d0ae60"/><polygon points="1026,14 1032,18 1036,14 1032,4 1030,4" fill="#bb9756"/><polygon points="977,5 964,7 964,8 976,9 978,6" fill="#bb9756"/><polygon points="1187,16 1180,20 1180,20 1186,20" fill="#d0ae60"/><polygon points="1099,1 1106,3 1107,2 1107,2 1107,0 1099,0" fill="#7a5e3f"/><polygon points="1633,6 1633,2 1626,1 1631,7" fill="#f4e4a0"/><polygon points="293,0 293,0 293,0" fill="#efdb92"/><polygon points="301,19 304,20 308,20 310,16 309,15 304,15" fill="#f4e4a0"/><polygon points="1470,19 1467,20 1473,20 1473,20 1472,18" fill="#7a5e3f"/><polygon points="1781,1 1788,4 1788,3 1786,0 1780,0" fill="#9c7b4b"/><polygon points="947,14 951,15 951,15 957,10 955,7 948,11 947,13" fill="#7a5e3f"/><polygon points="770,0 768,0 770,4 770,4" fill="#f8eeb2"/><polygon points="1741,18 1735,18 1734,20 1740,20" fill="#f4e4a0"/><polygon points="1127,2 1123,10 1130,7" fill="#7a5e3f"/><polygon points="749,0 746,5 747,6 754,7 760,7 753,0 749,0" fill="#efdb92"/><polygon points="783,20 790,20 790,19 787,14 786,14 781,18" fill="#9c7b4b"/><polygon points="107,3 107,2 104,0 98,0 100,2" fill="#efdb92"/><polygon points="273,3 280,6 283,5 283,1 281,0 273,0" fill="#7a5e3f"/><polygon points="1261,11 1255,8 1250,12 1249,17 1258,17 1262,16" fill="#9c7b4b"/><polygon points="1045,15 1047,8 1046,6 1039,4" fill="#f8eeb2"/><polygon points="254,4 258,10 262,4 260,2" fill="#d0ae60"/><polygon points="1248,0 1248,3 1255,5 1256,4 1255,0 1248,0" fill="#f8eeb2"/><polygon points="962,18 962,20 964,20" fill="#d0ae60"/><polygon points="357,9 356,9 355,11 357,17 358,17 367,13 370,11" fill="#f4e4a0"/><polygon points="497,17 497,18 495,20 499,20" fill="#7a5e3f"/><polygon points="1585,3 1588,4 1586,0 1585,0" fill="#d0ae60"/><polygon points="1005,18 1005,18 1003,20 1011,20 1011,19" fill="#7a5e3f"/><polygon points="265,2 269,6 273,3 273,0 265,0" fill="#f4e4a0"/><polygon points="811,19 813,16 811,14 807,14 804,16 804,18" fill="#9c7b4b"/><polygon points="706,4 711,8 716,7 716,1 715,0 705,0" fill="#f8eeb2"/><polygon points="1244,17 1238,14 1238,14 1234,18 1235,20 1241,20" fill="#f8eeb2"/><polygon points="108,0 107,2 107,3 107,6 113,9 120,5 120,4 112,0 109,0" fill="#9c7b4b"/><polygon points="1431,6 1433,3 1433,2 1432,0 1421,0 1421,4 1422,7 1425,8 1426,8" fill="#bb9756"/><polygon points="1322,12 1317,10 1314,19 1315,20 1322,20" fill="#e2c679"/><polygon points="1271,13 1277,12 1281,8 1282,6 1271,0 1270,0 1267,0 1267,0 1267,1 1267,1" fill="#bb9756"/><polygon points="780,1 781,0 775,0 779,2" fill="#bb9756"/><polygon points="893,17 898,20 901,20 901,19 898,13 891,14" fill="#f4e4a0"/><polygon points="728,1 728,3 739,6 736,0 735,0 728,0" fill="#f8eeb2"/><polygon points="187,10 180,16 186,15 187,14" fill="#9c7b4b"/><polygon points="1405,5 1407,12 1411,10 1410,6 1409,5" fill="#9c7b4b"/><polygon points="1198,9 1205,15 1207,16 1208,4 1204,4" fill="#d0ae60"/><polygon points="270,15 270,12 268,9 260,11 263,20 265,20" fill="#9c7b4b"/><polygon points="1106,4 1107,6 1109,9 1112,12 1120,12 1118,4 1116,3" fill="#d0ae60"/><polygon points="1735,18 1736,13 1733,10 1728,9 1723,17 1729,20 1734,20" fill="#e2c679"/><polygon points="962,18 964,20 972,20 970,16 964,14 962,17" fill="#d0ae60"/><polygon points="72,1 68,7 71,8 76,3" fill="#e2c679"/><polygon points="1178,2 1176,3 1175,10 1180,13 1185,11 1180,2" fill="#efdb92"/><polygon points="869,1 871,0 868,0" fill="#7a5e3f"/><polygon points="1736,13 1745,13 1745,6 1744,3 1739,3 1733,10" fill="#bb9756"/><polygon points="811,19 804,18 803,20 803,20 811,20" fill="#bb9756"/><polygon points="380,1 380,2 384,4 386,2 384,0 381,0" fill="#bb9756"/><polygon points="1444,7 1455,7 1453,4 1448,2" fill="#f8eeb2"/><polygon points="1149,13 1149,13 1152,12 1152,3 1148,2" fill="#efdb92"/><polygon points="1316,5 1306,12 1306,12 1312,20 1314,19 1317,10 1317,5" fill="#e2c679"/><polygon points="16,9 9,9 9,11 15,13 17,9" fill="#bb9756"/><polygon points="1629,10 1631,14 1632,14 1635,15 1637,14 1638,8 1633,6 1631,7" fill="#d0ae60"/><polygon points="1065,0 1066,1 1066,1 1067,0 1065,0" fill="#7a5e3f"/><polygon points="1689,17 1687,15 1685,14 1681,20 1686,20" fill="#7a5e3f"/><polygon points="1055,2 1055,0 1047,0 1048,1 1051,2" fill="#f8eeb2"/><polygon points="999,12 996,12 999,16 1005,18 1003,14" fill="#f4e4a0"/><polygon points="1694,0 1690,0 1692,7 1692,7 1695,8 1696,8 1697,7 1697,7" fill="#d0ae60"/><polygon points="1259,3 1259,3 1256,4 1255,5 1255,8 1261,11 1261,11" fill="#9c7b4b"/><polygon points="1443,5 1445,0 1439,0" fill="#efdb92"/><polygon points="917,1 921,2 922,0 917,0" fill="#f8eeb2"/><polygon points="1814,13 1814,8 1812,9" fill="#d0ae60"/><polygon points="1026,14 1026,14 1030,4 1026,0 1018,0 1014,5 1014,6 1016,13 1019,14 1023,15" fill="#f8eeb2"/><polygon points="66,15 64,13 59,19 59,20 64,20" fill="#d0ae60"/><polygon points="1537,15 1537,15 1530,13 1525,14 1529,20 1535,20" fill="#9c7b4b"/><polygon points="159,4 161,1 161,0 153,0 154,3 157,4" fill="#d0ae60"/><polygon points="1066,1 1065,7 1068,6 1067,1 1066,1" fill="#9c7b4b"/><polygon points="910,17 910,17 901,19 901,20 909,20" fill="#bb9756"/><polygon points="1484,12 1488,7 1486,3 1481,3 1483,12" fill="#e2c679"/><polygon points="668,16 672,11 665,10 664,12" fill="#d0ae60"/><polygon points="299,1 293,0 287,7 288,8 297,8" fill="#d0ae60"/><polygon points="315,17 327,15 323,8 315,10" fill="#bb9756"/><polygon points="212,2 211,0 204,0 202,4 204,4" fill="#d0ae60"/><polygon points="947,14 947,13 945,13 940,13 940,15 942,20 947,20" fill="#d0ae60"/><polygon points="124,0 125,0 123,0" fill="#7a5e3f"/><polygon points="763,2 763,1 763,0 760,0" fill="#7a5e3f"/><polygon points="419,13 418,9 417,8 409,8 408,8 410,20 415,20" fill="#f8eeb2"/><polygon points="258,10 258,10 254,4 250,0 245,12 245,13 256,12" fill="#f8eeb2"/><polygon points="1338,1 1339,0 1326,0 1326,0 1329,4" fill="#efdb92"/><polygon points="1453,4 1455,7 1457,8 1463,4 1463,4 1460,0 1459,0 1452,0" fill="#d0ae60"/><polygon points="1344,11 1344,15 1346,17 1351,16 1355,12 1355,11 1353,7" fill="#e2c679"/><polygon points="718,17 717,14 705,18 705,20 705,20 714,20" fill="#9c7b4b"/><polygon points="1305,8 1306,12 1316,5 1307,4" fill="#9c7b4b"/><polygon points="1175,10 1176,3 1171,1 1168,10 1172,12" fill="#f8eeb2"/><polygon points="433,13 431,13 424,18 425,20 435,20" fill="#f4e4a0"/><polygon points="1005,18 1005,18 999,16 998,20 1003,20" fill="#bb9756"/><polygon points="1433,2 1438,0 1432,0" fill="#f8eeb2"/><polygon points="1811,18 1807,16 1798,15 1799,20 1812,20" fill="#9c7b4b"/><polygon points="1443,5 1444,7 1444,7 1448,2 1447,0 1445,0" fill="#e2c679"/><polygon points="695,4 703,9 704,6" fill="#f8eeb2"/><polygon points="117,19 119,15 113,12 112,14 113,15" fill="#e2c679"/><polygon points="1063,9 1065,7 1066,1 1065,0 1058,5 1058,5 1059,7 1062,9" fill="#bb9756"/><polygon points="1511,8 1517,14 1519,15 1521,14 1523,3 1514,0 1514,0" fill="#9c7b4b"/><polygon points="113,12 119,15 122,14 113,9" fill="#e2c679"/><polygon points="1180,20 1180,13 1175,10 1172,12 1172,14 1174,19 1175,20 1180,20" fill="#e2c679"/><polygon points="204,19 203,16 195,16 197,20 204,20" fill="#efdb92"/><polygon points="1142,20 1140,20 1142,20" fill="#efdb92"/><polygon points="976,9 964,8 964,11 964,14 970,16 971,15" fill="#efdb92"/><polygon points="332,1 333,4 340,6 344,5 345,2 342,0 334,0" fill="#9c7b4b"/><polygon points="619,4 620,6 624,3 624,2 623,0 619,0" fill="#9c7b4b"/><polygon points="199,0 198,0 198,1" fill="#f8eeb2"/><polygon points="1256,4 1259,3 1258,0 1255,0" fill="#9c7b4b"/><polygon points="1757,15 1748,18 1748,19 1750,20 1759,20" fill="#f8eeb2"/><polygon points="1677,14 1677,14 1671,14 1670,20 1671,20 1672,20" fill="#f8eeb2"/><polygon points="1464,17 1458,15 1459,19 1459,20 1467,20" fill="#f8eeb2"/><polygon points="178,18 178,16 177,16 170,18 170,20 177,20" fill="#e2c679"/><polygon points="683,3 679,10 688,10 693,7 694,4 694,3 690,0 690,0" fill="#e2c679"/><polygon points="208,8 212,6 212,2 212,2 204,4" fill="#e2c679"/><polygon points="1479,11 1479,11 1473,7 1472,13 1474,15 1474,15" fill="#9c7b4b"/><polygon points="674,5 673,2 666,0 664,0 664,1" fill="#f8eeb2"/><polygon points="123,15 122,14 122,14 119,15 117,19 116,20 122,20" fill="#f8eeb2"/><polygon points="178,18 177,20 186,20" fill="#f8eeb2"/><polygon points="94,6 93,7 94,10 95,12 104,11 104,10 97,5" fill="#d0ae60"/><polygon points="385,19 386,20 393,20 392,17" fill="#f8eeb2"/><polygon points="1005,18 1005,18 1005,18 1009,6 1006,5 1003,14" fill="#bb9756"/><polygon points="918,19 918,18 914,16 910,17 909,20 917,20" fill="#bb9756"/><polygon points="354,5 363,0 363,0 350,0" fill="#d0ae60"/><polygon points="228,17 226,13 222,12 217,15 220,20 228,20" fill="#e2c679"/><polygon points="857,0 857,0 857,0 856,0" fill="#f8eeb2"/><polygon points="1130,7 1123,10 1121,13 1125,12 1131,8" fill="#bb9756"/><polygon points="881,3 891,10 891,9 891,6 882,0 881,0" fill="#efdb92"/><polygon points="917,9 923,10 921,4 917,9" fill="#d0ae60"/><polygon points="1673,2 1677,2 1683,0 1683,0 1670,0" fill="#efdb92"/><polygon points="1531,0 1524,0 1524,1" fill="#efdb92"/><polygon points="1365,18 1362,12 1359,11 1355,11 1355,12 1358,20 1362,20" fill="#9c7b4b"/><polygon points="1317,3 1326,0 1326,0 1316,0" fill="#9c7b4b"/><polygon points="79,2 80,0 77,0" fill="#d0ae60"/><polygon points="1208,4 1207,16 1210,19 1213,18 1217,15 1220,13 1210,3" fill="#efdb92"/><polygon points="1585,8 1578,8 1579,15 1580,16 1581,17 1593,12 1591,9" fill="#d0ae60"/><polygon points="557,6 558,6 566,5 566,0 556,0" fill="#7a5e3f"/><polygon points="1444,19 1444,11 1443,10 1435,15 1434,18 1434,18 1435,20 1438,20 1442,20" fill="#efdb92"/><polygon points="1303,6 1305,8 1307,4 1306,0 1300,0" fill="#f8eeb2"/><polygon points="1174,19 1169,20 1169,20 1175,20" fill="#efdb92"/><polygon points="56,6 56,6 43,14 43,17 45,19 47,19 51,19 54,17" fill="#e2c679"/><polygon points="21,10 17,9 15,13 21,16 21,15" fill="#f8eeb2"/><polygon points="923,10 926,11 926,6 922,4 921,4 921,4" fill="#efdb92"/><polygon points="977,3 970,2 964,4 963,5 964,7 977,5" fill="#e2c679"/><polygon points="199,7 200,5 199,4 189,1 185,1 184,3 188,8 190,8" fill="#9c7b4b"/><polygon points="1769,7 1771,10 1773,8 1775,4 1775,0 1768,0" fill="#e2c679"/><polygon points="424,8 418,9 419,13 424,18 431,13 430,11 426,8" fill="#d0ae60"/><polygon points="1386,6 1392,0 1384,0" fill="#efdb92"/><polygon points="749,0 749,0 749,0" fill="#bb9756"/><polygon points="823,15 820,15 819,16 818,20 823,20" fill="#e2c679"/><polygon points="1493,17 1496,9 1492,9" fill="#bb9756"/><polygon points="1774,17 1773,20 1776,20" fill="#bb9756"/><polygon points="67,16 70,15 67,8 64,8 64,13 66,15" fill="#bb9756"/><polygon points="1351,19 1346,19 1346,20 1347,20 1352,20" fill="#e2c679"/><polygon points="1185,11 1180,13 1180,20 1187,16 1188,15 1189,13 1187,12" fill="#7a5e3f"/><polygon points="978,6 976,9 971,15 982,17 983,16 983,13 981,8 981,7" fill="#7a5e3f"/><polygon points="694,11 693,13 692,19 694,20 697,13" fill="#f8eeb2"/><polygon points="901,10 905,11 908,6 908,1 901,6 900,7" fill="#bb9756"/><polygon points="488,3 492,6 494,5 496,2 495,0 488,0" fill="#7a5e3f"/><polygon points="1697,7 1697,7 1705,3 1705,2 1705,0 1699,0" fill="#f8eeb2"/><polygon points="230,1 231,3 238,5 240,3 238,0 235,0" fill="#f4e4a0"/><polygon points="270,15 265,20 274,20 274,20" fill="#efdb92"/><polygon points="1293,20 1291,20 1293,20" fill="#e2c679"/><polygon points="840,0 845,1 846,0 840,0" fill="#e2c679"/><polygon points="1160,18 1160,17 1156,16 1152,16 1152,17 1156,20 1158,20" fill="#efdb92"/><polygon points="1107,2 1106,3 1106,4 1116,3 1115,0 1111,0" fill="#f8eeb2"/><polygon points="256,12 245,13 245,14 247,19 250,20 254,17" fill="#bb9756"/><polygon points="1284,3 1286,0 1286,0 1281,0" fill="#7a5e3f"/><polygon points="603,4 603,1 590,0 589,4 598,8" fill="#9c7b4b"/><polygon points="1267,0 1267,0 1258,0 1259,3 1259,3 1267,1" fill="#9c7b4b"/><polygon points="638,1 635,0 630,0 628,3 630,5 636,7" fill="#f8eeb2"/><polygon points="1501,7 1502,7 1507,7 1507,6 1506,0 1500,0 1497,2" fill="#9c7b4b"/><polygon points="1542,19 1541,19 1541,20 1542,20" fill="#f8eeb2"/><polygon points="1152,16 1156,16 1152,12 1152,12 1149,13" fill="#9c7b4b"/><polygon points="478,8 479,13 483,6 482,5" fill="#f4e4a0"/><polygon points="740,6 741,6 743,6 740,0 736,0 736,0 739,6" fill="#f8eeb2"/><polygon points="658,18 658,14 656,12 655,11 651,10 647,11 647,11 646,12 646,15 646,15 654,20 655,20" fill="#e2c679"/><polygon points="327,1 329,0 327,0" fill="#f8eeb2"/><polygon points="113,15 112,14 106,17 105,20 112,20" fill="#e2c679"/><polygon points="1121,13 1121,13 1122,15 1130,19 1133,13 1133,11 1125,12" fill="#bb9756"/><polygon points="117,19 113,15 112,20 116,20" fill="#f8eeb2"/><polygon points="1143,4 1142,8 1142,13 1144,14 1148,13 1149,13 1148,2 1146,0 1146,0" fill="#bb9756"/><polygon points="1086,2 1089,0 1085,0" fill="#e2c679"/><polygon points="948,1 950,1 951,0 947,0" fill="#d0ae60"/><polygon points="192,16 194,15 195,14 190,8 188,8 188,9" fill="#e2c679"/><polygon points="845,16 842,20 847,20" fill="#bb9756"/><polygon points="921,4 921,4 921,2 917,1 912,2 917,9" fill="#bb9756"/><polygon points="204,19 214,17 216,15 203,12 203,12 203,16" fill="#9c7b4b"/><polygon points="445,7 449,7 452,1 447,0 444,0" fill="#bb9756"/><polygon points="1774,15 1774,17 1776,20 1782,20 1785,17" fill="#efdb92"/><polygon points="1632,14 1631,14 1627,20 1631,20" fill="#bb9756"/><polygon points="891,6 894,1 894,0 882,0" fill="#d0ae60"/><polygon points="1329,11 1334,11 1339,6 1338,1 1329,4 1328,8" fill="#d0ae60"/><polygon points="180,16 178,16 178,18 186,20 186,20 186,15" fill="#7a5e3f"/><polygon points="777,19 777,19 774,20 774,20 777,20" fill="#f8eeb2"/><polygon points="1267,0 1267,0 1267,0" fill="#d0ae60"/><polygon points="559,8 558,6 557,6 550,8 551,20 555,20" fill="#e2c679"/><polygon points="1541,19 1541,19 1537,15 1535,20 1541,20" fill="#e2c679"/><polygon points="508,19 507,19 506,20 509,20" fill="#9c7b4b"/><polygon points="68,7 67,8 70,15 73,16 75,11 71,8" fill="#bb9756"/><polygon points="1142,8 1143,4 1135,5 1135,7" fill="#f4e4a0"/><polygon points="424,18 419,13 415,20 425,20" fill="#efdb92"/><polygon points="1368,10 1368,2 1362,4 1364,8 1367,10" fill="#d0ae60"/><polygon points="1023,15 1019,14 1018,20 1022,20" fill="#bb9756"/><polygon points="1581,17 1580,16 1577,20 1583,20" fill="#d0ae60"/><polygon points="802,8 806,8 809,4 807,0 807,0 799,0 797,3 796,3" fill="#d0ae60"/><polygon points="1555,3 1565,1 1568,0 1554,0" fill="#d0ae60"/><polygon points="1503,17 1501,15 1493,18 1491,20 1501,20" fill="#7a5e3f"/><polygon points="137,18 136,17 128,19 128,20 138,20" fill="#d0ae60"/><polygon points="869,20 869,20 869,20" fill="#f8eeb2"/><polygon points="1089,18 1083,15 1080,20 1090,20 1090,20" fill="#9c7b4b"/><polygon points="7,18 6,20 11,20 11,19" fill="#d0ae60"/><polygon points="1352,3 1354,0 1348,0 1351,2" fill="#f8eeb2"/><polygon points="891,10 890,13 891,14 898,13 901,10 900,7 897,7 891,9" fill="#e2c679"/><polygon points="269,6 265,2 262,4 258,10 258,10 260,11 268,9" fill="#7a5e3f"/><polygon points="301,19 299,20 299,20 304,20" fill="#f8eeb2"/><polygon points="1004,5 1004,5 1001,4 993,7 994,10 994,12 996,12 999,12" fill="#d0ae60"/><polygon points="955,7 957,10 964,11 964,8 964,7 963,5 958,4 956,5" fill="#9c7b4b"/><polygon points="764,19 758,13 755,16 753,18 754,20 764,20" fill="#9c7b4b"/><polygon points="1286,0 1286,0 1286,0" fill="#bb9756"/><polygon points="1001,4 1004,5 1004,0 998,0" fill="#e2c679"/><polygon points="1068,12 1065,17 1072,16 1074,14" fill="#f8eeb2"/><polygon points="169,3 163,0 161,1 159,4 168,9 169,8" fill="#d0ae60"/><polygon points="1785,17 1782,20 1787,20 1788,16" fill="#d0ae60"/><polygon points="26,20 21,20 21,20 21,20 27,20" fill="#9c7b4b"/><polygon points="1196,0 1201,0 1201,0 1196,0" fill="#d0ae60"/><polygon points="1293,20 1293,20 1293,20 1295,20" fill="#bb9756"/><polygon points="1293,15 1298,11 1298,9 1295,6 1289,9" fill="#e2c679"/><polygon points="1756,3 1748,0 1745,0 1744,3 1745,6 1756,7 1757,5 1757,4" fill="#f8eeb2"/><polygon points="1340,7 1339,6 1334,11 1338,19 1344,15 1344,11" fill="#f8eeb2"/><polygon points="1456,12 1444,11 1444,19 1449,20" fill="#9c7b4b"/><polygon points="1104,20 1107,20 1108,19 1112,12 1109,9 1101,15" fill="#d0ae60"/><polygon points="384,7 384,7 384,10 389,10 390,8 390,8" fill="#e2c679"/><polygon points="1161,16 1160,17 1160,18 1161,20 1165,20 1162,16" fill="#f8eeb2"/><polygon points="1542,20 1552,20 1551,19 1542,19" fill="#e2c679"/><polygon points="705,16 697,13 694,20 695,20 704,20 705,20 705,18" fill="#9c7b4b"/><polygon points="382,14 380,16 385,19 392,17 392,15 391,15 383,14" fill="#7a5e3f"/><polygon points="1644,20 1643,20 1644,20" fill="#f8eeb2"/><polygon points="479,13 478,16 480,17 486,16 488,11 488,10 483,6" fill="#e2c679"/><polygon points="539,13 535,11 535,16 536,17" fill="#bb9756"/><polygon points="1793,13 1794,20 1799,20 1798,15 1796,13 1794,13" fill="#f4e4a0"/><polygon points="1723,17 1722,17 1721,20 1721,20 1729,20" fill="#7a5e3f"/><polygon points="1537,15 1541,10 1536,8 1530,11 1530,13" fill="#7a5e3f"/><polygon points="212,2 212,2 221,2 223,0 211,0" fill="#f8eeb2"/><polygon points="1430,15 1426,8 1425,8 1422,18 1422,19" fill="#f8eeb2"/><polygon points="754,7 747,6 748,11 752,18 753,18 755,16" fill="#e2c679"/><polygon points="763,1 767,0 763,0" fill="#f4e4a0"/><polygon points="502,1 505,4 509,4 509,0 502,0" fill="#d0ae60"/><polygon points="358,17 357,17 355,20 361,20" fill="#e2c679"/><polygon points="596,13 597,12 598,8 589,4 589,4 586,8" fill="#e2c679"/><polygon points="718,8 726,8 728,3 728,1 716,1 716,7" fill="#d0ae60"/><polygon points="1810,1 1814,1 1814,0 1810,0" fill="#9c7b4b"/><polygon points="341,18 346,19 348,17 347,12 346,11 340,14" fill="#efdb92"/><polygon points="480,17 478,16 473,15 470,16 470,20 480,20" fill="#e2c679"/><polygon points="560,20 567,20 567,20 568,19 569,7 566,5 558,6 559,8" fill="#e2c679"/><polygon points="1699,20 1705,20 1700,15 1699,16" fill="#e2c679"/><polygon points="1014,5 1018,0 1009,0" fill="#d0ae60"/><polygon points="1531,0 1532,5 1537,5 1540,3 1539,0 1532,0" fill="#9c7b4b"/><polygon points="1760,14 1765,18 1769,13 1761,12" fill="#9c7b4b"/><polygon points="1554,11 1555,5 1555,4 1547,8 1546,13 1550,17" fill="#d0ae60"/><polygon points="1683,0 1686,6 1692,7 1690,0 1683,0" fill="#e2c679"/><polygon points="185,1 189,1 191,0 184,0" fill="#f8eeb2"/><polygon points="869,1 868,4 868,6 874,12 877,10 880,6 881,3 881,0 871,0" fill="#f8eeb2"/><polygon points="1579,15 1578,8 1577,8 1576,7 1570,12 1568,17" fill="#efdb92"/><polygon points="1725,0 1725,0 1724,0" fill="#e2c679"/><polygon points="71,8 75,11 82,8 82,8 79,3 76,3" fill="#bb9756"/><polygon points="385,19 380,16 378,17 378,19 379,20 386,20" fill="#f8eeb2"/><polygon points="876,19 875,15 874,13 867,16 869,20 869,20 875,20" fill="#d0ae60"/><polygon points="138,9 140,7 138,2 134,0 131,1 131,7 133,9" fill="#d0ae60"/><polygon points="590,0 582,0 582,1 589,4 589,4 590,0" fill="#d0ae60"/><polygon points="190,18 188,20 193,20" fill="#efdb92"/><polygon points="746,5 743,6 741,6 740,15 741,16 748,11 747,6" fill="#e2c679"/><polygon points="89,2 91,0 88,0" fill="#9c7b4b"/><polygon points="1227,20 1229,20 1234,18 1238,14 1224,11 1222,12" fill="#9c7b4b"/><polygon points="1678,13 1677,12 1672,7 1669,12 1671,14 1677,14" fill="#d0ae60"/><polygon points="1617,0 1608,0 1610,3 1611,5 1617,1" fill="#7a5e3f"/><polygon points="188,8 184,3 176,10 177,16 178,16 180,16 187,10 188,9" fill="#bb9756"/><polygon points="1478,0 1480,3 1487,1 1487,0 1479,0" fill="#e2c679"/><polygon points="982,17 971,15 970,16 972,20 982,20" fill="#efdb92"/><polygon points="340,19 341,18 340,14 339,14 337,20 340,19" fill="#efdb92"/><polygon points="1172,12 1168,10 1166,10 1164,11 1162,16 1168,16 1172,14" fill="#bb9756"/><polygon points="1453,4 1452,0 1447,0 1448,2" fill="#efdb92"/><polygon points="567,20 567,20 567,20" fill="#f8eeb2"/><polygon points="1326,19 1328,16 1328,13 1324,12 1322,12 1322,20 1325,20" fill="#d0ae60"/><polygon points="606,15 600,16 599,19 600,20 605,20" fill="#bb9756"/><polygon points="1541,19 1542,19 1551,19 1550,17 1546,13 1541,19" fill="#7a5e3f"/><polygon points="472,0 462,0 462,2 462,2 467,4 469,3 472,0" fill="#e2c679"/><polygon points="1391,19 1394,19 1394,15 1394,15 1387,10" fill="#efdb92"/><polygon points="519,14 519,14 529,4 517,4 516,6 519,14" fill="#f4e4a0"/><polygon points="857,0 861,5 868,4 869,1 868,0 857,0" fill="#e2c679"/><polygon points="1605,17 1604,16 1598,12 1594,13 1594,15 1596,20 1600,20" fill="#e2c679"/><polygon points="1239,7 1238,14 1244,17 1248,18 1249,17 1250,12 1246,5 1242,5" fill="#bb9756"/><polygon points="1107,2 1108,0 1107,0" fill="#e2c679"/><polygon points="1120,12 1112,12 1108,19 1111,20 1120,20 1122,15 1121,13" fill="#f8eeb2"/><polygon points="1696,8 1700,12 1701,12 1707,10 1707,9 1705,3 1697,7" fill="#7a5e3f"/><polygon points="397,5 404,0 394,0" fill="#9c7b4b"/><polygon points="1507,6 1509,0 1506,0" fill="#9c7b4b"/><polygon points="1125,12 1133,11 1134,9 1131,8" fill="#e2c679"/><polygon points="1576,7 1577,8 1582,0 1570,0" fill="#f4e4a0"/><polygon points="1787,20 1791,20 1791,14 1788,16" fill="#9c7b4b"/><polygon points="509,12 511,6 509,4 505,4 501,11 507,14" fill="#efdb92"/><polygon points="1644,18 1644,18 1651,10 1650,9 1643,9 1641,15" fill="#d0ae60"/><polygon points="705,16 705,18 717,14 718,8 716,7 711,8 705,15" fill="#f4e4a0"/><polygon points="308,6 305,4 300,10 303,12" fill="#e2c679"/><polygon points="547,4 547,5 548,7 550,8 557,6 556,0 550,0" fill="#f8eeb2"/><polygon points="1663,8 1663,7 1658,3 1655,2 1652,10 1656,13" fill="#d0ae60"/><polygon points="687,17 691,20 692,19 693,13" fill="#7a5e3f"/><polygon points="467,4 467,12 469,16 470,16 473,15 473,8 469,3" fill="#bb9756"/><polygon points="940,15 939,16 938,20 938,20 942,20" fill="#e2c679"/><polygon points="1757,4 1757,5 1761,6 1769,7 1768,0 1761,0" fill="#d0ae60"/><polygon points="1794,13 1796,13 1807,3 1800,2" fill="#e2c679"/><polygon points="189,1 199,4 198,1 198,0 191,0" fill="#bb9756"/><polygon points="1134,9 1134,8 1135,7 1135,5 1135,4 1129,1 1127,1 1127,2 1130,7 1131,8" fill="#e2c679"/><polygon points="1050,4 1050,8 1053,9 1058,5 1058,5 1055,2 1051,2" fill="#e2c679"/><polygon points="1468,13 1468,12 1464,5 1463,4 1457,8 1456,12 1458,15 1464,17" fill="#9c7b4b"/><polygon points="1047,19 1046,19 1045,20 1048,20" fill="#9c7b4b"/><polygon points="1495,0 1497,2 1500,0 1495,0" fill="#bb9756"/><polygon points="1004,5 1004,5 1006,5 1009,6 1014,6 1014,5 1009,0 1004,0" fill="#e2c679"/><polygon points="1532,5 1530,11 1536,8 1537,5" fill="#e2c679"/><polygon points="921,2 921,4 922,4 930,0 922,0" fill="#f8eeb2"/><polygon points="950,1 948,1 948,11 955,7 956,5" fill="#7a5e3f"/><polygon points="1433,2 1433,3 1442,9 1443,9 1444,7 1443,5 1439,0 1438,0" fill="#7a5e3f"/><polygon points="847,3 845,1 840,0 831,5 831,9 845,12 848,6" fill="#f4e4a0"/><polygon points="345,2 348,0 342,0" fill="#e2c679"/><polygon points="1637,14 1641,15 1643,9 1641,6 1638,8" fill="#bb9756"/><polygon points="239,10 245,12 250,0 250,0 248,0 240,3 238,5" fill="#9c7b4b"/><polygon points="444,20 450,20 452,15 443,10 443,11 443,19" fill="#e2c679"/><polygon points="729,16 729,16 719,18 720,20 728,20" fill="#d0ae60"/><polygon points="261,0 250,0 250,0 254,4 260,2" fill="#f8eeb2"/><polygon points="1399,7 1399,7 1400,4 1397,0 1392,0 1386,6 1385,9 1386,10" fill="#efdb92"/><polygon points="1695,8 1691,17 1694,19 1699,16 1700,15 1700,12 1696,8" fill="#bb9756"/><polygon points="1650,9 1645,0 1642,0 1641,6 1643,9" fill="#efdb92"/><polygon points="1493,18 1493,17 1492,9 1489,7 1488,7 1484,12 1486,18 1487,20 1491,20" fill="#f8eeb2"/><polygon points="1748,19 1747,20 1750,20" fill="#9c7b4b"/><polygon points="1394,19 1393,20 1396,20" fill="#7a5e3f"/><polygon points="1567,19 1568,17 1570,12 1567,10 1562,11 1562,12" fill="#f8eeb2"/><polygon points="889,14 880,6 877,10 884,16 886,18" fill="#e2c679"/><polygon points="1709,11 1710,13 1717,12 1717,9 1712,8" fill="#f8eeb2"/><polygon points="1435,20 1435,20 1438,20" fill="#9c7b4b"/><polygon points="909,0 912,2 917,1 917,0 909,0" fill="#efdb92"/><polygon points="250,20 247,19 246,20 251,20" fill="#9c7b4b"/><polygon points="729,16 728,20 735,20" fill="#d0ae60"/><polygon points="1026,14 1023,15 1022,20 1027,20" fill="#9c7b4b"/><polygon points="1493,17 1493,18 1501,15 1502,7 1501,7 1496,9" fill="#d0ae60"/><polygon points="672,11 677,10 676,8 665,5 665,10" fill="#d0ae60"/><polygon points="1009,6 1005,18 1011,19 1016,13 1014,6" fill="#9c7b4b"/><polygon points="970,2 977,3 977,0 970,0" fill="#efdb92"/></svg>

<!-- ============ LEFT TABLET ============ -->
<div class="btn" style="left:1172px;top:392px;width:8px;height:12px"></div>
<div class="frame" style="left:417px;top:324px;width:760px;height:994px;background:linear-gradient(76.5deg,#070707 55%,#343434 56.3%)"></div>
<div class="scr" id="scrL" style="left:452px;top:355px;width:693px;height:931px">
  <svg style="position:absolute;left:0;top:0" width="693" height="931"><defs><filter id="blr" x="-50%" y="-50%" width="200%" height="200%"><feGaussianBlur stdDeviation="25"/></filter></defs><g filter="url(#blr)" opacity="0.45"><path d="M0,520 C120,540 250,600 330,680 C380,730 360,820 330,931 L0,931 Z" fill="#fbece7"/><path d="M120,600 C200,640 260,720 250,800 L220,931 L150,931 C170,840 170,720 120,600 Z" fill="#f8e0d8"/></g></svg>
<svg style="position:absolute;left:500px;top:5px" width="150" height="40" viewBox="500 5 150 40" fill="none" stroke="#8b5a3c" stroke-width="1.2"><g transform="translate(514.5,10.5)"><rect x="0.5" y="3.5" width="29" height="24.5" fill="#fffaf6"/><rect x="0.5" y="3.5" width="29" height="4" fill="#f7dfcc"/><circle cx="7" cy="3" r="2.2" fill="#f7dfcc"/><circle cx="15" cy="3" r="2.2" fill="#f7dfcc"/><circle cx="23" cy="3" r="2.2" fill="#f7dfcc"/><path d="M21.5,15 A7.2,7.2 0 1 0 21.8,20" stroke-width="1"/><path d="M20,13.5 L22.3,15.8 L23.4,12.8 Z" fill="#8b5a3c" stroke="none"/><text x="15" y="19.6" font-size="5.6" font-family="Liberation Sans" font-weight="bold" text-anchor="middle" fill="#8b5a3c" stroke="none">365</text></g><g transform="translate(565.5,11)"><rect x="0.5" y="3" width="23.5" height="24.5" rx="2.5" fill="#fffaf6"/><line x1="0.5" y1="7.5" x2="24" y2="7.5"/><circle cx="5.5" cy="2.6" r="2" fill="#f7dfcc"/><circle cx="12" cy="2.6" r="2" fill="#f7dfcc"/><circle cx="18.5" cy="2.6" r="2" fill="#f7dfcc"/><rect x="2.6" y="10.0" width="3.4" height="3.2" rx="1" stroke-width="1" fill="#f7dfcc"/><rect x="7.9" y="10.0" width="3.4" height="3.2" rx="1" stroke-width="1" fill="#f7dfcc"/><rect x="13.2" y="10.0" width="3.4" height="3.2" rx="1" stroke-width="1" fill="#f7dfcc"/><rect x="18.5" y="10.0" width="3.4" height="3.2" rx="1" stroke-width="1" fill="#f7dfcc"/><rect x="2.6" y="14.9" width="3.4" height="3.2" rx="1" stroke-width="1" fill="#f7dfcc"/><rect x="7.9" y="14.9" width="3.4" height="3.2" rx="1" stroke-width="1" fill="#f7dfcc"/><rect x="13.2" y="14.9" width="3.4" height="3.2" rx="1" stroke-width="1" fill="#f7dfcc"/><rect x="18.5" y="14.9" width="3.4" height="3.2" rx="1" stroke-width="1" fill="#f7dfcc"/><rect x="2.6" y="19.8" width="3.4" height="3.2" rx="1" stroke-width="1" fill="#f7dfcc"/><rect x="7.9" y="19.8" width="3.4" height="3.2" rx="1" stroke-width="1" fill="#f7dfcc"/><rect x="13.2" y="19.8" width="3.4" height="3.2" rx="1" stroke-width="1" fill="#f7dfcc"/><path d="M18,27 L24,21 L24,24.5 L21,27.5 Z" fill="#f7dfcc"/></g><g transform="translate(610.5,11)"><rect x="3.5" y="0.5" width="15" height="21" fill="#f7dfcc"/><path d="M0.5,3.5 L13,3.5 L17,7.5 L17,27.5 L0.5,27.5 Z" fill="#fffaf6"/><line x1="3" y1="7.0" x2="10" y2="7.0" stroke-width="1"/><line x1="3" y1="10.2" x2="12" y2="10.2" stroke-width="1"/><line x1="3" y1="13.4" x2="10" y2="13.4" stroke-width="1"/><line x1="3" y1="16.6" x2="12" y2="16.6" stroke-width="1"/><line x1="3" y1="19.8" x2="10" y2="19.8" stroke-width="1"/><line x1="3" y1="23.0" x2="12" y2="23.0" stroke-width="1"/><circle cx="16" cy="18" r="4.4" stroke-width="2" fill="#fff"/><line x1="19.2" y1="21.3" x2="24.5" y2="26.5" stroke-width="2.4" stroke-linecap="round"/></g></svg>
<div class="a script" style="left:31.0px;top:4.4px;font-size:27px;line-height:27px;letter-spacing:-0.7px">January Overview</div>
<div class="hl" style="left:30px;top:58.0px;width:614px;height:1.2px;"></div>
<div class="hl" style="left:30px;top:92.0px;width:614px;height:1.2px;"></div>
<div class="hl" style="left:30px;top:125.0px;width:614px;height:1.2px;"></div>
<div class="hl" style="left:30px;top:158.0px;width:614px;height:1.2px;"></div>
<div class="a serif" style="left:31.0px;top:68.1px;font-size:13px;line-height:13px;">MAIN FINANCIAL GOAL:</div>
<div class="a" style="left:187.0px;top:63.9px;font-size:19px;line-height:19px"><span class="hd" style="transform:scaleX(0.55)">$100,000</span></div>
<div class="a serif" style="left:32.0px;top:101.6px;font-size:13px;line-height:13px;">SAVINGS GOAL:</div>
<div class="a" style="left:137.0px;top:97.4px;font-size:19px;line-height:19px"><span class="hd" style="transform:scaleX(0.55)">$20,000</span></div>
<div class="a serif" style="left:37.0px;top:135.7px;font-size:13px;line-height:13px;">DEBT PAYOFF GOAL:</div>
<div class="a" style="left:176.0px;top:129.9px;font-size:19px;line-height:19px"><span class="hd" style="transform:scaleX(0.55)">$15,000</span></div>
<div class="a serif" style="left:340.0px;top:68.1px;font-size:13px;line-height:13px;">INCOME GOAL:</div>
<div class="a serif" style="left:340.0px;top:101.6px;font-size:13px;line-height:13px;">SAVING BALANCE:</div>
<div class="a serif" style="left:340.0px;top:135.7px;font-size:13px;line-height:13px;">DEBT BALANCE:</div>
<div class="hl" style="left:27px;top:198.0px;width:579px;height:1.2px;"></div>
<div class="hl" style="left:27px;top:227.0px;width:579px;height:1.2px;"></div>
<div class="hl" style="left:27px;top:258.0px;width:579px;height:1.2px;"></div>
<div class="hl" style="left:27px;top:288.0px;width:579px;height:1.2px;"></div>
<div class="hl" style="left:27px;top:319.0px;width:579px;height:1.2px;"></div>
<div class="hl" style="left:27px;top:350.0px;width:579px;height:1.2px;"></div>
<div class="vl" style="left:27px;top:198px;height:154px;width:1.2px"></div>
<div class="vl" style="left:113px;top:198px;height:154px;width:1.2px"></div>
<div class="vl" style="left:195px;top:198px;height:154px;width:1.2px"></div>
<div class="vl" style="left:277px;top:198px;height:154px;width:1.2px"></div>
<div class="vl" style="left:359px;top:198px;height:154px;width:1.2px"></div>
<div class="vl" style="left:440px;top:198px;height:154px;width:1.2px"></div>
<div class="vl" style="left:522px;top:198px;height:154px;width:1.2px"></div>
<div class="vl" style="left:604px;top:198px;height:154px;width:1.2px"></div>
<div class="a serif" style="left:4.4px;width:300px;text-align:center;top:205.0px;font-size:12.5px;line-height:12.5px;">INCOME</div>
<div class="a serif" style="left:86.3px;width:300px;text-align:center;top:205.0px;font-size:12.5px;line-height:12.5px;">BILLS</div>
<div class="a serif" style="left:168.3px;width:300px;text-align:center;top:205.0px;font-size:12.5px;line-height:12.5px;">DEBT</div>
<div class="a serif" style="left:250.1px;width:300px;text-align:center;top:205.0px;font-size:12.5px;line-height:12.5px;">EXPENSES</div>
<div class="a serif" style="left:332.0px;width:300px;text-align:center;top:205.0px;font-size:12.5px;line-height:12.5px;">SAVINGS</div>
<div class="a serif" style="left:414.0px;width:300px;text-align:center;top:205.0px;font-size:12.5px;line-height:12.5px;">SINKING</div>
<div class="a serif" style="left:31.0px;top:236.7px;font-size:13px;line-height:13px;">PAYCHECK 1</div>
<div class="a serif" style="left:31.0px;top:267.1px;font-size:13px;line-height:13px;">PAYCHECK 2</div>
<div class="a serif" style="left:31.0px;top:298.0px;font-size:13px;line-height:13px;">PAYCHECK 3</div>
<div class="a serif" style="left:-79.6px;width:300px;text-align:center;top:328.1px;font-size:13px;line-height:13px;">TOTAL</div>
<div class="a" style="left:54.4px;width:200px;text-align:center;top:232.9px;font-size:19px;line-height:19px"><span class="hd" style="transform:scaleX(0.674);transform-origin:50% 100%">$6500</span></div>
<div class="a" style="left:136.3px;width:200px;text-align:center;top:232.9px;font-size:19px;line-height:19px"><span class="hd" style="transform:scaleX(0.674);transform-origin:50% 100%">$950</span></div>
<div class="a" style="left:218.3px;width:200px;text-align:center;top:232.9px;font-size:19px;line-height:19px"><span class="hd" style="transform:scaleX(0.674);transform-origin:50% 100%">$0</span></div>
<div class="a serif" style="left:31.0px;top:380.5px;font-size:15.6px;line-height:15.6px;">STEPS TO ACHIEVE FINANCIAL GOALS</div>
<div class="hl" style="left:27px;top:408.9px;width:283px;height:2.2px;background:#9c6f52;"></div>
<div class="hl" style="left:27px;top:442.0px;width:283px;height:1.2px;"></div>
<div class="hl" style="left:27px;top:476.0px;width:283px;height:1.2px;"></div>
<div class="hl" style="left:27px;top:510.0px;width:283px;height:1.2px;"></div>
<div class="hl" style="left:27px;top:544.0px;width:283px;height:1.2px;"></div>
<div class="hl" style="left:27px;top:577.0px;width:283px;height:1.2px;"></div>
<div class="hl" style="left:27px;top:611.0px;width:283px;height:1.2px;"></div>
<div class="hl" style="left:27px;top:645.0px;width:283px;height:1.2px;"></div>
<div class="hl" style="left:27px;top:678.0px;width:283px;height:1.2px;"></div>
<div class="cb" style="left:31.0px;top:420.0px"></div>
<div class="cb" style="left:31.0px;top:453.7px"></div>
<div class="cb" style="left:31.0px;top:487.0px"></div>
<div class="cb" style="left:31.0px;top:520.8px"></div>
<div class="cb" style="left:31.0px;top:554.8px"></div>
<div class="cb" style="left:31.0px;top:588.4px"></div>
<div class="cb" style="left:31.0px;top:622.4px"></div>
<div class="cb" style="left:31.0px;top:656.0px"></div>
<div class="a" style="left:51.0px;top:419.1px;font-size:17px;line-height:17px"><span class="hd" style="transform:scaleX(0.72)">Set Clear Objectives</span></div>
<div class="a" style="left:51.0px;top:452.8px;font-size:17px;line-height:17px"><span class="hd" style="transform:scaleX(0.72)">Create a Budget Plan</span></div>
<div class="a" style="left:51.0px;top:486.1px;font-size:17px;line-height:17px"><span class="hd" style="transform:scaleX(0.72)">Save Consistently</span></div>
<div class="a" style="left:51.0px;top:519.9px;font-size:17px;line-height:17px"><span class="hd" style="transform:scaleX(0.72)">Invest Wisely</span></div>
<div class="a" style="left:51.0px;top:553.9px;font-size:17px;line-height:17px"><span class="hd" style="transform:scaleX(0.72)">Monitor Progress</span></div>
<div class="a serif" style="left:30.0px;top:713.6px;font-size:14.8px;line-height:14.8px;font-style:italic;font-weight:bold;">NOTES, IDEAS &amp; INSPIRATION</div>
<div class="dots" style="left:27.3px;top:735.8px;width:400.0px;height:194.7px"><svg width="400" height="195" style="position:absolute;left:0;top:0"><defs><pattern id="pdl" patternUnits="userSpaceOnUse" width="11.15" height="11.2" x="4.33" y="2.1"><circle cx="5.58" cy="5.60" r="0.85" fill="#978a84"/></pattern></defs><rect width="100%" height="100%" fill="url(#pdl)"/></svg></div>
<div class="tabs" style="left:671.0px;top:0;width:22px;height:44px;border-top-right-radius:6px"></div>
<div class="tsep" style="left:671.0px;top:43.5px;width:22px"></div>
<div class="tabs" style="left:671.0px;top:45.5px;width:22px;height:10px"></div>
<div class="tl" style="left:642.0px;top:-1.0px">JAN</div>
</div>

<!-- ============ RIGHT TABLET ============ -->
<div class="btn" style="left:1524px;top:470px;width:7px;height:36px"></div>
<div class="btn" style="left:1524px;top:512px;width:7px;height:36px"></div>
<div class="frame" style="left:794px;top:402px;width:733.5px;height:958px;background:linear-gradient(76.5deg,#070707 55.4%,#343434 56.6%)"></div>
<div class="scr" id="scrR" style="left:828px;top:433px;width:668px;height:897px">
  <svg style="position:absolute;left:0;top:0" width="668" height="897"><defs><filter id="blr2" x="-50%" y="-50%" width="200%" height="200%"><feGaussianBlur stdDeviation="25"/></filter></defs><g filter="url(#blr2)" opacity="0.45"><path d="M0,600 C120,620 230,680 280,760 C310,810 300,860 290,897 L0,897 Z" fill="#fbece7"/><path d="M90,640 C170,680 230,760 230,897 L160,897 C160,800 140,720 90,640 Z" fill="#f8e0d8"/></g></svg>
<div class="a script" style="left:27.0px;top:6.1px;font-size:25.5px;line-height:25.5px;letter-spacing:-0.45px">Yearly Overview</div>
<div class="hl" style="left:28px;top:55.0px;width:590px;height:1.2px;"></div>
<div class="hl" style="left:28px;top:88.0px;width:590px;height:1.2px;"></div>
<div class="hl" style="left:28px;top:120.0px;width:590px;height:1.2px;"></div>
<div class="hl" style="left:28px;top:152.0px;width:590px;height:1.2px;"></div>
<div class="hl" style="left:28px;top:184.0px;width:590px;height:1.2px;"></div>
<div class="a serif" style="left:32.0px;top:64.9px;font-size:12.5px;line-height:12.5px;">MAIN FINANCIAL GOAL:</div>
<div class="a" style="left:184.4px;top:60.3px;font-size:19px;line-height:19px"><span class="hd" style="transform:scaleX(0.55)">$500,000</span></div>
<div class="a serif" style="left:329.7px;top:64.9px;font-size:12.5px;line-height:12.5px;">INCOME GOAL:</div>
<div class="a" style="left:428.2px;top:60.3px;font-size:19px;line-height:19px"><span class="hd" style="transform:scaleX(0.55)">$100,000</span></div>
<div class="a serif" style="left:32.0px;top:97.2px;font-size:12.5px;line-height:12.5px;">SAVINGS GOAL:</div>
<div class="a" style="left:137.7px;top:92.6px;font-size:19px;line-height:19px"><span class="hd" style="transform:scaleX(0.55)">$30,000</span></div>
<div class="a serif" style="left:329.7px;top:97.2px;font-size:12.5px;line-height:12.5px;">SAVING BALANCE:</div>
<div class="a" style="left:450.6px;top:92.6px;font-size:19px;line-height:19px"><span class="hd" style="transform:scaleX(0.55)">$5,000</span></div>
<div class="a serif" style="left:32.0px;top:129.5px;font-size:12.5px;line-height:12.5px;">DEBT PAYOFF GOAL:</div>
<div class="a" style="left:170.4px;top:124.9px;font-size:19px;line-height:19px"><span class="hd" style="transform:scaleX(0.55)">$20,000</span></div>
<div class="a serif" style="left:329.7px;top:129.5px;font-size:12.5px;line-height:12.5px;">DEBT BALANCE:</div>
<div class="a" style="left:432.3px;top:124.9px;font-size:19px;line-height:19px"><span class="hd" style="transform:scaleX(0.55)">$15,000</span></div>
<div class="a serif" style="left:32.0px;top:161.8px;font-size:12.5px;line-height:12.5px;">BEGINNING NET WORTH:</div>
<div class="a" style="left:184.4px;top:157.2px;font-size:19px;line-height:19px"><span class="hd" style="transform:scaleX(0.55)">$50,000</span></div>
<div class="a serif" style="left:329.7px;top:161.8px;font-size:12.5px;line-height:12.5px;">INVESTING GOAL:</div>
<div class="a" style="left:441.0px;top:157.2px;font-size:19px;line-height:19px"><span class="hd" style="transform:scaleX(0.55)">$50,000</span></div>
<div class="hl" style="left:29px;top:220.0px;width:589px;height:1.2px;"></div>
<div class="hl" style="left:29px;top:253.0px;width:589px;height:1.2px;"></div>
<div class="hl" style="left:29px;top:286.0px;width:589px;height:1.2px;"></div>
<div class="hl" style="left:29px;top:319.0px;width:589px;height:1.2px;"></div>
<div class="hl" style="left:29px;top:352.0px;width:589px;height:1.2px;"></div>
<div class="hl" style="left:29px;top:386.0px;width:589px;height:1.2px;"></div>
<div class="hl" style="left:29px;top:419.0px;width:589px;height:1.2px;"></div>
<div class="hl" style="left:29px;top:452.0px;width:589px;height:1.2px;"></div>
<div class="hl" style="left:29px;top:486.0px;width:589px;height:1.2px;"></div>
<div class="hl" style="left:29px;top:519.0px;width:589px;height:1.2px;"></div>
<div class="hl" style="left:29px;top:552.0px;width:589px;height:1.2px;"></div>
<div class="hl" style="left:29px;top:585.0px;width:589px;height:1.2px;"></div>
<div class="hl" style="left:29px;top:618.0px;width:589px;height:1.2px;"></div>
<div class="hl" style="left:29px;top:651.0px;width:589px;height:1.2px;"></div>
<div class="vl" style="left:29px;top:220px;height:431px;width:1.2px"></div>
<div class="vl" style="left:110px;top:220px;height:431px;width:1.2px"></div>
<div class="vl" style="left:189px;top:220px;height:431px;width:1.2px"></div>
<div class="vl" style="left:269px;top:220px;height:431px;width:1.2px"></div>
<div class="vl" style="left:348px;top:220px;height:431px;width:1.2px"></div>
<div class="vl" style="left:428px;top:220px;height:431px;width:1.2px"></div>
<div class="vl" style="left:507px;top:220px;height:431px;width:1.2px"></div>
<div class="vl" style="left:617px;top:220px;height:431px;width:1.2px"></div>
<div class="a serif" style="left:0.0px;width:300px;text-align:center;top:227.2px;font-size:12.5px;line-height:12.5px;">INCOME</div>
<div class="a serif" style="left:79.5px;width:300px;text-align:center;top:227.2px;font-size:12.5px;line-height:12.5px;">BILLS</div>
<div class="a serif" style="left:159.0px;width:300px;text-align:center;top:227.2px;font-size:12.5px;line-height:12.5px;">DEBT</div>
<div class="a serif" style="left:238.5px;width:300px;text-align:center;top:227.2px;font-size:12.5px;line-height:12.5px;">EXPENSES</div>
<div class="a serif" style="left:317.7px;width:300px;text-align:center;top:227.2px;font-size:12.5px;line-height:12.5px;">SAVINGS</div>
<div class="a serif" style="left:412.2px;width:300px;text-align:center;top:227.2px;font-size:12.5px;line-height:12.5px;">SINKING FUNDS</div>
<div class="a serif" style="left:-80.2px;width:300px;text-align:center;top:263.2px;font-size:12px;line-height:12px;">JAN</div>
<div class="a serif" style="left:-80.2px;width:300px;text-align:center;top:296.7px;font-size:12px;line-height:12px;">FEB</div>
<div class="a serif" style="left:-80.2px;width:300px;text-align:center;top:329.8px;font-size:12px;line-height:12px;">MAR</div>
<div class="a serif" style="left:-80.2px;width:300px;text-align:center;top:362.8px;font-size:12px;line-height:12px;">APR</div>
<div class="a serif" style="left:-80.2px;width:300px;text-align:center;top:396.3px;font-size:12px;line-height:12px;">MAY</div>
<div class="a serif" style="left:-80.2px;width:300px;text-align:center;top:429.4px;font-size:12px;line-height:12px;">JUN</div>
<div class="a serif" style="left:-80.2px;width:300px;text-align:center;top:462.6px;font-size:12px;line-height:12px;">JUL</div>
<div class="a serif" style="left:-80.2px;width:300px;text-align:center;top:495.9px;font-size:12px;line-height:12px;">AUG</div>
<div class="a serif" style="left:-80.2px;width:300px;text-align:center;top:529.1px;font-size:12px;line-height:12px;">SEPT</div>
<div class="a serif" style="left:-80.2px;width:300px;text-align:center;top:562.2px;font-size:12px;line-height:12px;">OCT</div>
<div class="a serif" style="left:-80.2px;width:300px;text-align:center;top:595.2px;font-size:12px;line-height:12px;">NOV</div>
<div class="a serif" style="left:-80.2px;width:300px;text-align:center;top:628.7px;font-size:12px;line-height:12px;">DEC</div>
<div class="a" style="left:45.4px;width:200px;text-align:center;top:259.4px;font-size:19px;line-height:19px"><span class="hd" style="transform:scaleX(0.674);transform-origin:50% 100%">$6500</span></div>
<div class="a" style="left:124.4px;width:200px;text-align:center;top:259.4px;font-size:19px;line-height:19px"><span class="hd" style="transform:scaleX(0.674);transform-origin:50% 100%">$950</span></div>
<div class="a" style="left:209.0px;width:200px;text-align:center;top:259.4px;font-size:19px;line-height:19px"><span class="hd" style="transform:scaleX(0.674);transform-origin:50% 100%">$0</span></div>
<div class="a" style="left:282.0px;width:200px;text-align:center;top:259.4px;font-size:19px;line-height:19px"><span class="hd" style="transform:scaleX(0.674);transform-origin:50% 100%">$3900</span></div>
<div class="a" style="left:361.6px;width:200px;text-align:center;top:259.4px;font-size:19px;line-height:19px"><span class="hd" style="transform:scaleX(0.674);transform-origin:50% 100%">$800</span></div>
<div class="a" style="left:457.8px;width:200px;text-align:center;top:259.4px;font-size:19px;line-height:19px"><span class="hd" style="transform:scaleX(0.674);transform-origin:50% 100%">$185</span></div>
<div class="a serif" style="left:29.0px;top:687.0px;font-size:14.3px;line-height:14.3px;font-style:italic;font-weight:bold;">NOTES, IDEAS &amp; INSPIRATION</div>
<div class="dots" style="left:25.4px;top:708.3px;width:594.6px;height:187.7px"><svg width="595" height="188" style="position:absolute;left:0;top:0"><defs><pattern id="pdr" patternUnits="userSpaceOnUse" width="10.65" height="10.7" x="4.68" y="2.85"><circle cx="5.33" cy="5.35" r="0.85" fill="#978a84"/></pattern></defs><rect width="100%" height="100%" fill="url(#pdr)"/></svg></div>
<div class="tabs" style="left:646.5px;top:0;width:21.5px;height:897px;border-top-right-radius:6px;border-bottom-right-radius:8px"></div>
<div class="tsep" style="left:646.5px;top:40.6px;width:21.5px"></div>
<div class="tsep" style="left:646.5px;top:113.8px;width:21.5px"></div>
<div class="tsep" style="left:646.5px;top:187.8px;width:21.5px"></div>
<div class="tsep" style="left:646.5px;top:261.3px;width:21.5px"></div>
<div class="tsep" style="left:646.5px;top:335.8px;width:21.5px"></div>
<div class="tsep" style="left:646.5px;top:409.3px;width:21.5px"></div>
<div class="tsep" style="left:646.5px;top:483.7px;width:21.5px"></div>
<div class="tsep" style="left:646.5px;top:557.2px;width:21.5px"></div>
<div class="tsep" style="left:646.5px;top:631.1px;width:21.5px"></div>
<div class="tsep" style="left:646.5px;top:705.3px;width:21.5px"></div>
<div class="tsep" style="left:646.5px;top:779.2px;width:21.5px"></div>
<div class="tsep" style="left:646.5px;top:853.4px;width:21.5px"></div>
<div class="tl" style="left:619.0px;top:-3.1px">JAN</div>
<div class="tl" style="left:619.0px;top:70.7px">FEB</div>
<div class="tl" style="left:619.0px;top:143.9px">MAR</div>
<div class="tl" style="left:619.0px;top:217.9px">APR</div>
<div class="tl" style="left:619.0px;top:291.4px">MAY</div>
<div class="tl" style="left:619.0px;top:365.9px">JUN</div>
<div class="tl" style="left:619.0px;top:439.4px">JUL</div>
<div class="tl" style="left:619.0px;top:513.8px">AUG</div>
<div class="tl" style="left:619.0px;top:587.3px">SEP</div>
<div class="tl" style="left:619.0px;top:661.2px">OCT</div>
<div class="tl" style="left:619.0px;top:735.4px">NOV</div>
<div class="tl" style="left:619.0px;top:809.3px">DEC</div>
<div class="tl" style="left:619.0px;top:883.5px">NOTES</div>
</div>

<!-- ============ LABELS ============ -->
<div class="lbl" style="left:-25.5px;top:466.9px;transform:scaleX(1.088)">Manage money</div>
<div class="lbl" style="left:-25.5px;top:520.0px;transform:scaleX(1.088)">wisely for</div>
<div class="lbl" style="left:-25.5px;top:573.2px;transform:scaleX(1.117)">financial</div>
<div class="lbl" style="left:-25.5px;top:625.6px;transform:scaleX(1.027)">success</div>
<div class="lbl" style="left:-25.0px;top:718.6px;transform:scaleX(1.085)">Set and follow</div>
<div class="lbl" style="left:-25.0px;top:770.4px;transform:scaleX(1.069)">financial goals</div>
<div class="lbl" style="left:-25.0px;top:821.8px;transform:scaleX(1.108)">for better</div>
<div class="lbl" style="left:-25.0px;top:874.3px;transform:scaleX(1.1)">money</div>
<div class="lbl" style="left:-25.0px;top:926.1px;transform:scaleX(1.105)">management</div>
<div class="lbl" style="left:-25.0px;top:1011.4px;transform:scaleX(1.075)">Note creative</div>
<div class="lbl" style="left:-25.0px;top:1063.2px;transform:scaleX(1.058)">ideas and</div>
<div class="lbl" style="left:-25.0px;top:1115.0px;transform:scaleX(1.094)">financial</div>
<div class="lbl" style="left:-25.0px;top:1166.8px;transform:scaleX(1.058)">strategies for</div>
<div class="lbl" style="left:-25.0px;top:1218.6px;transform:scaleX(1.062)">future use</div>
<div class="lbl" style="left:1470.0px;top:663.5px;transform:scaleX(1.04)">Manage yearly</div>
<div class="lbl" style="left:1470.0px;top:715.0px;transform:scaleX(1.056)">finances</div>
<div class="lbl" style="left:1470.0px;top:766.8px;transform:scaleX(1.113)">efficiently</div>
<div class="lbl" style="left:1467.5px;top:1169.7px;transform:scaleX(1.023)">Save ideas and</div>
<div class="lbl" style="left:1467.5px;top:1221.8px;transform:scaleX(1.074)">money plans for</div>
<div class="lbl" style="left:1467.5px;top:1273.3px;transform:scaleX(1.12)">later</div>
<div class="rl" style="left:383px;top:518px;width:92px"></div><div class="rd" style="left:469px;top:513px"></div>
<div class="rl" style="left:383px;top:798px;width:92px"></div><div class="rd" style="left:469px;top:793px"></div>
<div class="rl" style="left:383px;top:1085px;width:92px"></div><div class="rd" style="left:469px;top:1080px"></div>
<div class="rl" style="left:1465px;top:695px;width:92px"></div><div class="rd" style="left:1458px;top:690px"></div>
<div class="rl" style="left:1465px;top:1223px;width:92px"></div><div class="rd" style="left:1458px;top:1218px"></div>
</body></html>
